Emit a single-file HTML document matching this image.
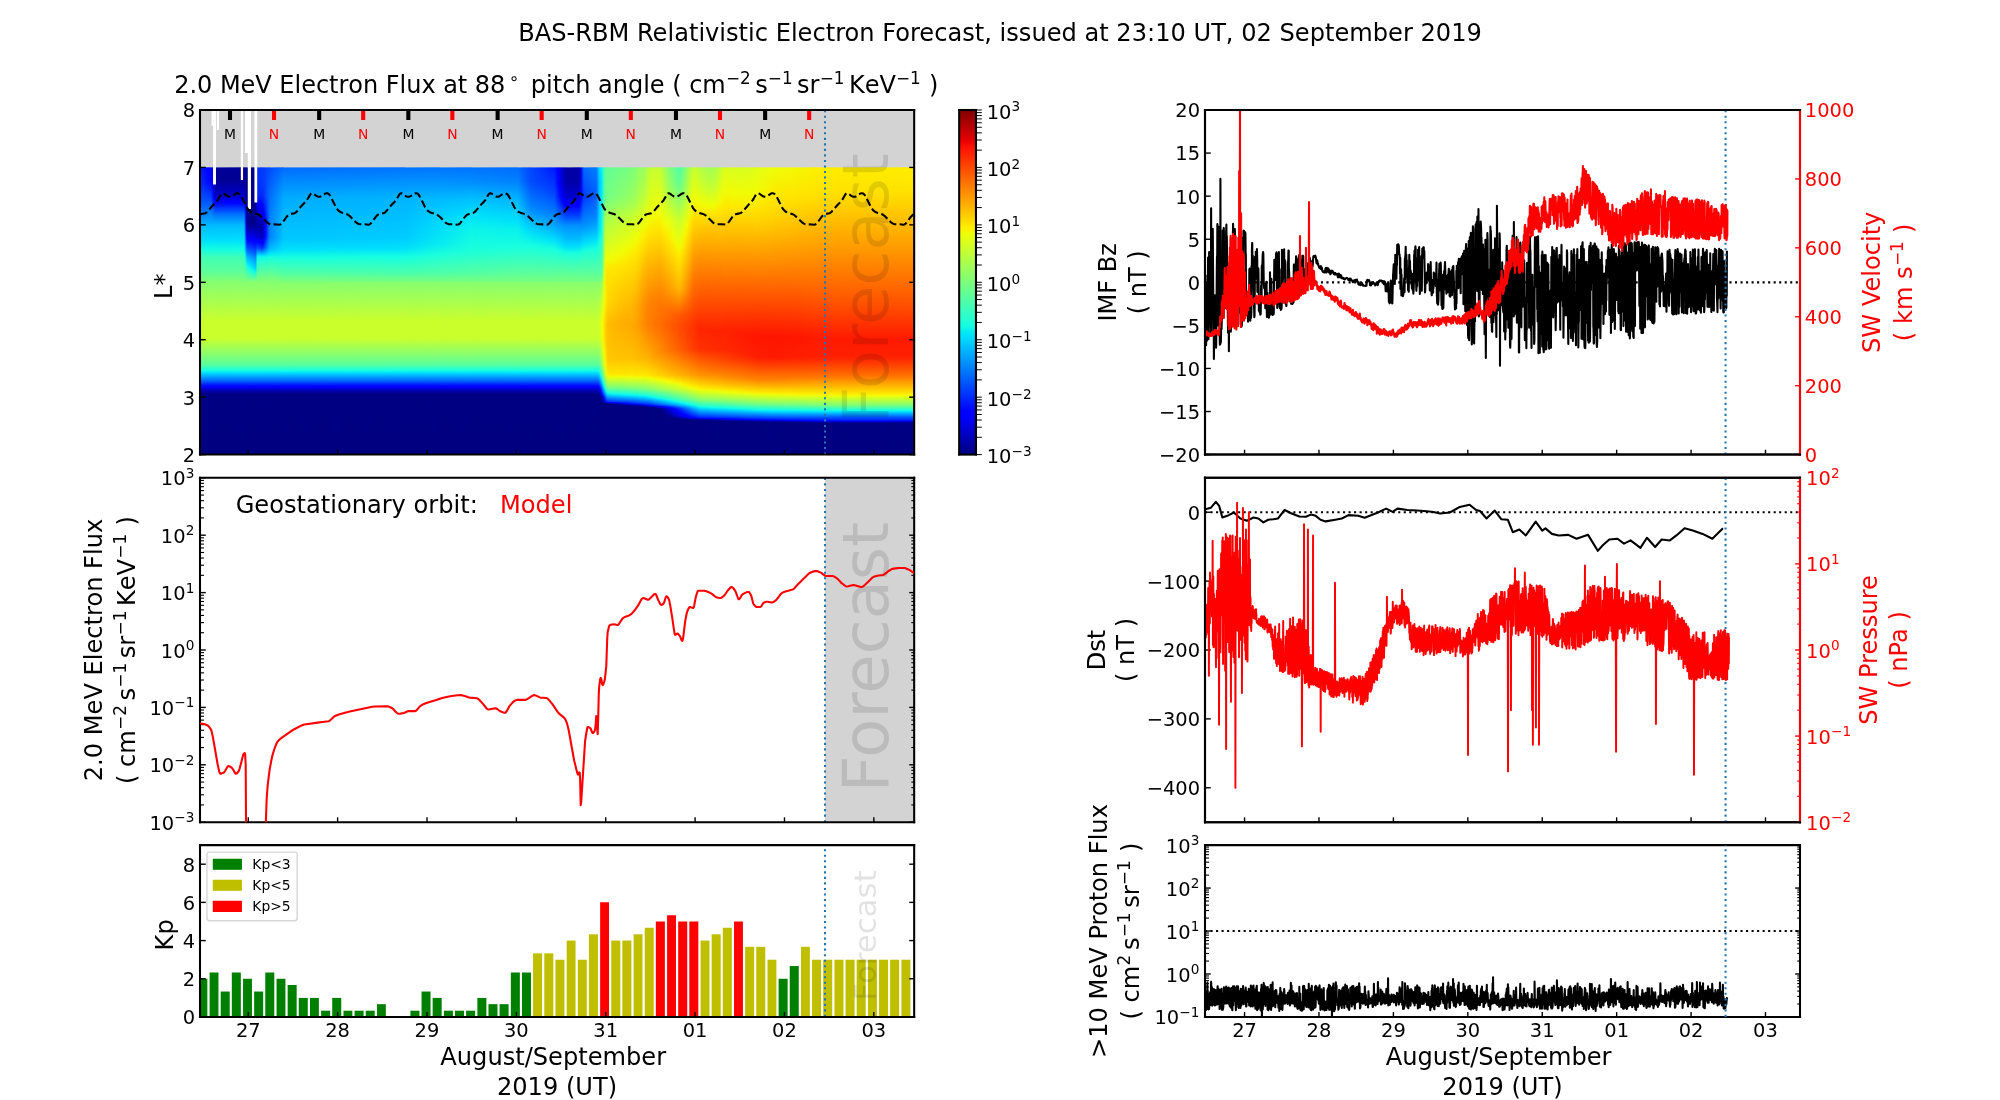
<!DOCTYPE html>
<html><head><meta charset="utf-8"><title>BAS-RBM Relativistic Electron Forecast</title><style>html,body{margin:0;padding:0;background:#fff;overflow:hidden}svg{display:block;will-change:transform}text{font-family:"DejaVu Sans","Liberation Sans",sans-serif}</style></head><body>
<svg width="2000" height="1100" viewBox="0 0 1440 792" version="1.1">
<defs>
<style type="text/css">*{stroke-linejoin: round; stroke-linecap: butt}</style>
</defs>
<g id="figure_1">
<g id="patch_1">
<path d="M 0 792 L 1440 792 L 1440 0 L 0 0 z" style="fill: #ffffff"/>
</g>
<g id="axes_1">
<g id="patch_2">
<path d="M 144 327.3 L 658.2 327.3 L 658.2 79.2 L 144 79.2 z" style="fill: #d3d3d3"/>
</g>
<g id="HEATMAP"><defs><linearGradient id="hr"><stop offset="0" stop-color="#fff" stop-opacity="0"/><stop offset="1" stop-color="#fff"/></linearGradient><mask id="hm" maskContentUnits="objectBoundingBox"><rect width="1" height="1" fill="url(#hr)"/></mask><linearGradient id="h0" x2="0" y2="1"><stop offset="0" stop-color="#0018ff"/><stop offset=".057" stop-color="#0030ff"/><stop offset=".113" stop-color="#0054ff"/><stop offset=".164" stop-color="#0084ff"/><stop offset=".204" stop-color="#00bcff"/><stop offset=".254" stop-color="#00e0fb"/><stop offset=".284" stop-color="#13fce4"/><stop offset=".313" stop-color="#40ffb7"/><stop offset=".366" stop-color="#60ff97"/><stop offset=".4" stop-color="#87ff70"/><stop offset=".536" stop-color="#caff2c"/><stop offset=".594" stop-color="#caff2c"/><stop offset=".66" stop-color="#7dff7a"/><stop offset=".686" stop-color="#5aff9d"/><stop offset=".707" stop-color="#16ffe1"/><stop offset=".716" stop-color="#00dcfe"/><stop offset=".745" stop-color="#005cff"/><stop offset=".761" stop-color="#0004ff"/><stop offset=".764" stop-color="#0000ff"/><stop offset=".775" stop-color="#0000bf"/><stop offset=".789" stop-color="#000084"/><stop offset="1" stop-color="#000080"/></linearGradient><linearGradient id="h1" x2="0" y2="1"><stop offset="0" stop-color="#0000ff"/><stop offset=".049" stop-color="#0004ff"/><stop offset=".172" stop-color="#0090ff"/><stop offset=".204" stop-color="#00bcff"/><stop offset=".254" stop-color="#00e0fb"/><stop offset=".284" stop-color="#13fce4"/><stop offset=".313" stop-color="#40ffb7"/><stop offset=".366" stop-color="#60ff97"/><stop offset=".4" stop-color="#87ff70"/><stop offset=".536" stop-color="#caff2c"/><stop offset=".594" stop-color="#caff2c"/><stop offset=".66" stop-color="#7dff7a"/><stop offset=".686" stop-color="#5aff9d"/><stop offset=".707" stop-color="#16ffe1"/><stop offset=".716" stop-color="#00dcfe"/><stop offset=".745" stop-color="#005cff"/><stop offset=".761" stop-color="#0004ff"/><stop offset=".764" stop-color="#0000ff"/><stop offset=".775" stop-color="#0000bf"/><stop offset=".789" stop-color="#000084"/><stop offset="1" stop-color="#000080"/></linearGradient><linearGradient id="h2" x2="0" y2="1"><stop offset="0" stop-color="#0000ff"/><stop offset=".052" stop-color="#0004ff"/><stop offset=".172" stop-color="#0090ff"/><stop offset=".204" stop-color="#00bcff"/><stop offset=".254" stop-color="#00e0fb"/><stop offset=".284" stop-color="#13fce4"/><stop offset=".313" stop-color="#40ffb7"/><stop offset=".366" stop-color="#60ff97"/><stop offset=".4" stop-color="#87ff70"/><stop offset=".536" stop-color="#caff2c"/><stop offset=".594" stop-color="#caff2c"/><stop offset=".66" stop-color="#7dff7a"/><stop offset=".686" stop-color="#5aff9d"/><stop offset=".707" stop-color="#16ffe1"/><stop offset=".716" stop-color="#00dcfe"/><stop offset=".745" stop-color="#005cff"/><stop offset=".761" stop-color="#0004ff"/><stop offset=".764" stop-color="#0000ff"/><stop offset=".775" stop-color="#0000bf"/><stop offset=".789" stop-color="#000084"/><stop offset="1" stop-color="#000080"/></linearGradient><linearGradient id="h3" x2="0" y2="1"><stop offset="0" stop-color="#0000f6"/><stop offset=".047" stop-color="#0000fa"/><stop offset=".068" stop-color="#0004ff"/><stop offset=".12" stop-color="#0044ff"/><stop offset=".204" stop-color="#00bcff"/><stop offset=".254" stop-color="#00e0fb"/><stop offset=".284" stop-color="#13fce4"/><stop offset=".313" stop-color="#40ffb7"/><stop offset=".366" stop-color="#60ff97"/><stop offset=".4" stop-color="#87ff70"/><stop offset=".536" stop-color="#caff2c"/><stop offset=".594" stop-color="#caff2c"/><stop offset=".66" stop-color="#7dff7a"/><stop offset=".686" stop-color="#5aff9d"/><stop offset=".707" stop-color="#16ffe1"/><stop offset=".716" stop-color="#00dcfe"/><stop offset=".745" stop-color="#005cff"/><stop offset=".761" stop-color="#0004ff"/><stop offset=".764" stop-color="#0000ff"/><stop offset=".775" stop-color="#0000bf"/><stop offset=".789" stop-color="#000084"/><stop offset="1" stop-color="#000080"/></linearGradient><linearGradient id="h4" x2="0" y2="1"><stop offset="0" stop-color="#0000d1"/><stop offset=".045" stop-color="#0000d1"/><stop offset=".087" stop-color="#0000ff"/><stop offset=".103" stop-color="#0004ff"/><stop offset=".165" stop-color="#0080ff"/><stop offset=".204" stop-color="#00bcff"/><stop offset=".254" stop-color="#00e0fb"/><stop offset=".284" stop-color="#13fce4"/><stop offset=".313" stop-color="#40ffb7"/><stop offset=".366" stop-color="#60ff97"/><stop offset=".4" stop-color="#87ff70"/><stop offset=".536" stop-color="#caff2c"/><stop offset=".594" stop-color="#caff2c"/><stop offset=".66" stop-color="#7dff7a"/><stop offset=".686" stop-color="#5aff9d"/><stop offset=".707" stop-color="#16ffe1"/><stop offset=".716" stop-color="#00dcfe"/><stop offset=".745" stop-color="#005cff"/><stop offset=".761" stop-color="#0004ff"/><stop offset=".764" stop-color="#0000ff"/><stop offset=".775" stop-color="#0000bf"/><stop offset=".789" stop-color="#000084"/><stop offset="1" stop-color="#000080"/></linearGradient><linearGradient id="h5" x2="0" y2="1"><stop offset="0" stop-color="#0000ad"/><stop offset=".044" stop-color="#0000a8"/><stop offset=".099" stop-color="#0000e3"/><stop offset=".111" stop-color="#0000ff"/><stop offset=".12" stop-color="#000cff"/><stop offset=".165" stop-color="#007cff"/><stop offset=".204" stop-color="#00bcff"/><stop offset=".254" stop-color="#00e0fb"/><stop offset=".284" stop-color="#13fce4"/><stop offset=".313" stop-color="#40ffb7"/><stop offset=".366" stop-color="#60ff97"/><stop offset=".4" stop-color="#87ff70"/><stop offset=".536" stop-color="#caff2c"/><stop offset=".594" stop-color="#caff2c"/><stop offset=".66" stop-color="#7dff7a"/><stop offset=".686" stop-color="#5aff9d"/><stop offset=".707" stop-color="#16ffe1"/><stop offset=".716" stop-color="#00dcfe"/><stop offset=".745" stop-color="#005cff"/><stop offset=".761" stop-color="#0004ff"/><stop offset=".764" stop-color="#0000ff"/><stop offset=".775" stop-color="#0000bf"/><stop offset=".789" stop-color="#000084"/><stop offset="1" stop-color="#000080"/></linearGradient><linearGradient id="h6" x2="0" y2="1"><stop offset="0" stop-color="#00009b"/><stop offset=".042" stop-color="#000092"/><stop offset=".101" stop-color="#0000cd"/><stop offset=".117" stop-color="#0000ff"/><stop offset=".124" stop-color="#0004ff"/><stop offset=".164" stop-color="#0074ff"/><stop offset=".202" stop-color="#00bcff"/><stop offset=".254" stop-color="#00e0fb"/><stop offset=".284" stop-color="#13fce4"/><stop offset=".313" stop-color="#40ffb7"/><stop offset=".366" stop-color="#60ff97"/><stop offset=".4" stop-color="#87ff70"/><stop offset=".536" stop-color="#caff2c"/><stop offset=".594" stop-color="#caff2c"/><stop offset=".66" stop-color="#7dff7a"/><stop offset=".686" stop-color="#5aff9d"/><stop offset=".707" stop-color="#16ffe1"/><stop offset=".716" stop-color="#00dcfe"/><stop offset=".745" stop-color="#005cff"/><stop offset=".761" stop-color="#0004ff"/><stop offset=".764" stop-color="#0000ff"/><stop offset=".775" stop-color="#0000bf"/><stop offset=".789" stop-color="#000084"/><stop offset="1" stop-color="#000080"/></linearGradient><linearGradient id="h7" x2="0" y2="1"><stop offset="0" stop-color="#00009b"/><stop offset=".042" stop-color="#000092"/><stop offset=".101" stop-color="#0000cd"/><stop offset=".117" stop-color="#0000ff"/><stop offset=".124" stop-color="#0004ff"/><stop offset=".164" stop-color="#0074ff"/><stop offset=".202" stop-color="#00bcff"/><stop offset=".254" stop-color="#00e0fb"/><stop offset=".284" stop-color="#13fce4"/><stop offset=".313" stop-color="#40ffb7"/><stop offset=".366" stop-color="#60ff97"/><stop offset=".4" stop-color="#87ff70"/><stop offset=".536" stop-color="#caff2c"/><stop offset=".594" stop-color="#caff2c"/><stop offset=".66" stop-color="#7dff7a"/><stop offset=".686" stop-color="#5aff9d"/><stop offset=".707" stop-color="#16ffe1"/><stop offset=".716" stop-color="#00dcfe"/><stop offset=".745" stop-color="#005cff"/><stop offset=".761" stop-color="#0004ff"/><stop offset=".764" stop-color="#0000ff"/><stop offset=".775" stop-color="#0000bf"/><stop offset=".789" stop-color="#000084"/><stop offset="1" stop-color="#000080"/></linearGradient><linearGradient id="h8" x2="0" y2="1"><stop offset="0" stop-color="#000096"/><stop offset=".04" stop-color="#00008d"/><stop offset=".101" stop-color="#0000bf"/><stop offset=".129" stop-color="#0000ff"/><stop offset=".138" stop-color="#0008ff"/><stop offset=".169" stop-color="#0048ff"/><stop offset=".209" stop-color="#0080ff"/><stop offset=".282" stop-color="#00d4ff"/><stop offset=".293" stop-color="#06ecf1"/><stop offset=".303" stop-color="#19ffde"/><stop offset=".317" stop-color="#2cffca"/><stop offset=".371" stop-color="#60ff97"/><stop offset=".4" stop-color="#87ff70"/><stop offset=".536" stop-color="#caff2c"/><stop offset=".594" stop-color="#caff2c"/><stop offset=".66" stop-color="#7dff7a"/><stop offset=".686" stop-color="#5aff9d"/><stop offset=".707" stop-color="#16ffe1"/><stop offset=".716" stop-color="#00dcfe"/><stop offset=".745" stop-color="#005cff"/><stop offset=".761" stop-color="#0004ff"/><stop offset=".764" stop-color="#0000ff"/><stop offset=".775" stop-color="#0000bf"/><stop offset=".789" stop-color="#000084"/><stop offset="1" stop-color="#000080"/></linearGradient><linearGradient id="h9" x2="0" y2="1"><stop offset="0" stop-color="#00008d"/><stop offset=".061" stop-color="#00008d"/><stop offset=".103" stop-color="#00009b"/><stop offset=".176" stop-color="#0000da"/><stop offset=".202" stop-color="#0000f1"/><stop offset=".212" stop-color="#0000ff"/><stop offset=".225" stop-color="#000cff"/><stop offset=".28" stop-color="#007cff"/><stop offset=".315" stop-color="#00e0fb"/><stop offset=".334" stop-color="#19ffde"/><stop offset=".383" stop-color="#6aff8d"/><stop offset=".4" stop-color="#87ff70"/><stop offset=".536" stop-color="#caff2c"/><stop offset=".594" stop-color="#caff2c"/><stop offset=".66" stop-color="#7dff7a"/><stop offset=".686" stop-color="#5aff9d"/><stop offset=".707" stop-color="#16ffe1"/><stop offset=".716" stop-color="#00dcfe"/><stop offset=".745" stop-color="#005cff"/><stop offset=".761" stop-color="#0004ff"/><stop offset=".764" stop-color="#0000ff"/><stop offset=".775" stop-color="#0000bf"/><stop offset=".789" stop-color="#000084"/><stop offset="1" stop-color="#000080"/></linearGradient><linearGradient id="h10" x2="0" y2="1"><stop offset="0" stop-color="#000089"/><stop offset=".193" stop-color="#00008d"/><stop offset=".204" stop-color="#00009b"/><stop offset=".247" stop-color="#0000ff"/><stop offset=".258" stop-color="#0010ff"/><stop offset=".282" stop-color="#0050ff"/><stop offset=".313" stop-color="#00b8ff"/><stop offset=".331" stop-color="#00e0fb"/><stop offset=".346" stop-color="#19ffde"/><stop offset=".4" stop-color="#87ff70"/><stop offset=".536" stop-color="#caff2c"/><stop offset=".594" stop-color="#caff2c"/><stop offset=".66" stop-color="#7dff7a"/><stop offset=".686" stop-color="#5aff9d"/><stop offset=".707" stop-color="#16ffe1"/><stop offset=".716" stop-color="#00dcfe"/><stop offset=".745" stop-color="#005cff"/><stop offset=".761" stop-color="#0004ff"/><stop offset=".764" stop-color="#0000ff"/><stop offset=".775" stop-color="#0000bf"/><stop offset=".789" stop-color="#000084"/><stop offset="1" stop-color="#000080"/></linearGradient><linearGradient id="h11" x2="0" y2="1"><stop offset="0" stop-color="#000089"/><stop offset=".193" stop-color="#00008d"/><stop offset=".207" stop-color="#00009f"/><stop offset=".251" stop-color="#0000ff"/><stop offset=".259" stop-color="#000cff"/><stop offset=".287" stop-color="#0050ff"/><stop offset=".312" stop-color="#009cff"/><stop offset=".341" stop-color="#00e0fb"/><stop offset=".357" stop-color="#16ffe1"/><stop offset=".4" stop-color="#87ff70"/><stop offset=".536" stop-color="#caff2c"/><stop offset=".594" stop-color="#caff2c"/><stop offset=".66" stop-color="#7dff7a"/><stop offset=".686" stop-color="#5aff9d"/><stop offset=".707" stop-color="#16ffe1"/><stop offset=".716" stop-color="#00dcfe"/><stop offset=".745" stop-color="#005cff"/><stop offset=".761" stop-color="#0004ff"/><stop offset=".764" stop-color="#0000ff"/><stop offset=".775" stop-color="#0000bf"/><stop offset=".789" stop-color="#000084"/><stop offset="1" stop-color="#000080"/></linearGradient><linearGradient id="h12" x2="0" y2="1"><stop offset="0" stop-color="#000089"/><stop offset=".193" stop-color="#00008d"/><stop offset=".207" stop-color="#00009f"/><stop offset=".247" stop-color="#0000f6"/><stop offset=".254" stop-color="#0000ff"/><stop offset=".27" stop-color="#0018ff"/><stop offset=".293" stop-color="#0054ff"/><stop offset=".315" stop-color="#0094ff"/><stop offset=".352" stop-color="#00e0fb"/><stop offset=".362" stop-color="#13fce4"/><stop offset=".399" stop-color="#87ff70"/><stop offset=".536" stop-color="#caff2c"/><stop offset=".594" stop-color="#caff2c"/><stop offset=".66" stop-color="#7dff7a"/><stop offset=".686" stop-color="#5aff9d"/><stop offset=".707" stop-color="#16ffe1"/><stop offset=".716" stop-color="#00dcfe"/><stop offset=".745" stop-color="#005cff"/><stop offset=".761" stop-color="#0004ff"/><stop offset=".764" stop-color="#0000ff"/><stop offset=".775" stop-color="#0000bf"/><stop offset=".789" stop-color="#000084"/><stop offset="1" stop-color="#000080"/></linearGradient><linearGradient id="h13" x2="0" y2="1"><stop offset="0" stop-color="#000089"/><stop offset=".193" stop-color="#00008d"/><stop offset=".207" stop-color="#00009f"/><stop offset=".244" stop-color="#0000e8"/><stop offset=".254" stop-color="#0000ff"/><stop offset=".263" stop-color="#0004ff"/><stop offset=".287" stop-color="#003cff"/><stop offset=".312" stop-color="#0080ff"/><stop offset=".357" stop-color="#00e0fb"/><stop offset=".364" stop-color="#0cf4eb"/><stop offset=".369" stop-color="#1fffd7"/><stop offset=".399" stop-color="#83ff73"/><stop offset=".533" stop-color="#caff2c"/><stop offset=".594" stop-color="#caff2c"/><stop offset=".66" stop-color="#7dff7a"/><stop offset=".686" stop-color="#5aff9d"/><stop offset=".707" stop-color="#16ffe1"/><stop offset=".716" stop-color="#00dcfe"/><stop offset=".745" stop-color="#005cff"/><stop offset=".761" stop-color="#0004ff"/><stop offset=".764" stop-color="#0000ff"/><stop offset=".775" stop-color="#0000bf"/><stop offset=".789" stop-color="#000084"/><stop offset="1" stop-color="#000080"/></linearGradient><linearGradient id="h14" x2="0" y2="1"><stop offset="0" stop-color="#0028ff"/><stop offset=".089" stop-color="#0024ff"/><stop offset=".103" stop-color="#001cff"/><stop offset=".122" stop-color="#0000ff"/><stop offset=".132" stop-color="#0000fa"/><stop offset=".164" stop-color="#0000c4"/><stop offset=".202" stop-color="#0000a4"/><stop offset=".24" stop-color="#0000cd"/><stop offset=".254" stop-color="#0000ff"/><stop offset=".259" stop-color="#0004ff"/><stop offset=".282" stop-color="#0054ff"/><stop offset=".306" stop-color="#00dcfe"/><stop offset=".312" stop-color="#0cf4eb"/><stop offset=".324" stop-color="#1cffdb"/><stop offset=".4" stop-color="#87ff70"/><stop offset=".536" stop-color="#caff2c"/><stop offset=".594" stop-color="#caff2c"/><stop offset=".66" stop-color="#7dff7a"/><stop offset=".686" stop-color="#5aff9d"/><stop offset=".707" stop-color="#16ffe1"/><stop offset=".716" stop-color="#00dcfe"/><stop offset=".745" stop-color="#005cff"/><stop offset=".761" stop-color="#0004ff"/><stop offset=".764" stop-color="#0000ff"/><stop offset=".775" stop-color="#0000bf"/><stop offset=".789" stop-color="#000084"/><stop offset="1" stop-color="#000080"/></linearGradient><linearGradient id="h15" x2="0" y2="1"><stop offset="0" stop-color="#0034ff"/><stop offset=".091" stop-color="#002cff"/><stop offset=".106" stop-color="#0020ff"/><stop offset=".127" stop-color="#0000ff"/><stop offset=".138" stop-color="#0000fa"/><stop offset=".164" stop-color="#0000c8"/><stop offset=".202" stop-color="#0000a4"/><stop offset=".24" stop-color="#0000c8"/><stop offset=".254" stop-color="#0000ff"/><stop offset=".259" stop-color="#0000ff"/><stop offset=".282" stop-color="#0050ff"/><stop offset=".306" stop-color="#00e0fb"/><stop offset=".312" stop-color="#0ff8e7"/><stop offset=".326" stop-color="#23ffd4"/><stop offset=".4" stop-color="#87ff70"/><stop offset=".536" stop-color="#caff2c"/><stop offset=".594" stop-color="#caff2c"/><stop offset=".66" stop-color="#7dff7a"/><stop offset=".686" stop-color="#5aff9d"/><stop offset=".707" stop-color="#16ffe1"/><stop offset=".716" stop-color="#00dcfe"/><stop offset=".745" stop-color="#005cff"/><stop offset=".761" stop-color="#0004ff"/><stop offset=".764" stop-color="#0000ff"/><stop offset=".775" stop-color="#0000bf"/><stop offset=".789" stop-color="#000084"/><stop offset="1" stop-color="#000080"/></linearGradient><linearGradient id="h16" x2="0" y2="1"><stop offset="0" stop-color="#0038ff"/><stop offset=".064" stop-color="#0034ff"/><stop offset=".104" stop-color="#0024ff"/><stop offset=".131" stop-color="#0000ff"/><stop offset=".143" stop-color="#0000fa"/><stop offset=".171" stop-color="#0000cd"/><stop offset=".204" stop-color="#0000a4"/><stop offset=".24" stop-color="#0000bb"/><stop offset=".261" stop-color="#0000ff"/><stop offset=".27" stop-color="#000cff"/><stop offset=".282" stop-color="#0038ff"/><stop offset=".306" stop-color="#00dcfe"/><stop offset=".31" stop-color="#0cf4eb"/><stop offset=".319" stop-color="#19ffde"/><stop offset=".4" stop-color="#87ff70"/><stop offset=".536" stop-color="#caff2c"/><stop offset=".594" stop-color="#caff2c"/><stop offset=".66" stop-color="#7dff7a"/><stop offset=".686" stop-color="#5aff9d"/><stop offset=".707" stop-color="#16ffe1"/><stop offset=".716" stop-color="#00dcfe"/><stop offset=".745" stop-color="#005cff"/><stop offset=".761" stop-color="#0004ff"/><stop offset=".764" stop-color="#0000ff"/><stop offset=".775" stop-color="#0000bf"/><stop offset=".789" stop-color="#000084"/><stop offset="1" stop-color="#000080"/></linearGradient><linearGradient id="h17" x2="0" y2="1"><stop offset="0" stop-color="#003cff"/><stop offset=".063" stop-color="#0038ff"/><stop offset=".101" stop-color="#002cff"/><stop offset=".138" stop-color="#0000ff"/><stop offset=".15" stop-color="#0000fa"/><stop offset=".202" stop-color="#0000b6"/><stop offset=".24" stop-color="#0000c8"/><stop offset=".258" stop-color="#0000ff"/><stop offset=".265" stop-color="#0004ff"/><stop offset=".28" stop-color="#0034ff"/><stop offset=".306" stop-color="#00e0fb"/><stop offset=".312" stop-color="#0ff8e7"/><stop offset=".326" stop-color="#23ffd4"/><stop offset=".4" stop-color="#87ff70"/><stop offset=".536" stop-color="#caff2c"/><stop offset=".594" stop-color="#caff2c"/><stop offset=".66" stop-color="#7dff7a"/><stop offset=".686" stop-color="#5aff9d"/><stop offset=".707" stop-color="#16ffe1"/><stop offset=".716" stop-color="#00dcfe"/><stop offset=".745" stop-color="#005cff"/><stop offset=".761" stop-color="#0004ff"/><stop offset=".764" stop-color="#0000ff"/><stop offset=".775" stop-color="#0000bf"/><stop offset=".789" stop-color="#000084"/><stop offset="1" stop-color="#000080"/></linearGradient><linearGradient id="h18" x2="0" y2="1"><stop offset="0" stop-color="#003cff"/><stop offset=".08" stop-color="#003cff"/><stop offset=".108" stop-color="#0030ff"/><stop offset=".155" stop-color="#0000ff"/><stop offset=".172" stop-color="#0000fa"/><stop offset=".2" stop-color="#0000da"/><stop offset=".24" stop-color="#0000e8"/><stop offset=".249" stop-color="#0000ff"/><stop offset=".256" stop-color="#0004ff"/><stop offset=".28" stop-color="#0048ff"/><stop offset=".305" stop-color="#00d8ff"/><stop offset=".308" stop-color="#06ecf1"/><stop offset=".312" stop-color="#13fce4"/><stop offset=".4" stop-color="#87ff70"/><stop offset=".536" stop-color="#caff2c"/><stop offset=".594" stop-color="#caff2c"/><stop offset=".66" stop-color="#7dff7a"/><stop offset=".686" stop-color="#5aff9d"/><stop offset=".707" stop-color="#16ffe1"/><stop offset=".716" stop-color="#00dcfe"/><stop offset=".745" stop-color="#005cff"/><stop offset=".761" stop-color="#0004ff"/><stop offset=".764" stop-color="#0000ff"/><stop offset=".775" stop-color="#0000bf"/><stop offset=".789" stop-color="#000084"/><stop offset="1" stop-color="#000080"/></linearGradient><linearGradient id="h19" x2="0" y2="1"><stop offset="0" stop-color="#0040ff"/><stop offset=".103" stop-color="#0040ff"/><stop offset=".181" stop-color="#0000ff"/><stop offset=".244" stop-color="#0000ff"/><stop offset=".28" stop-color="#005cff"/><stop offset=".305" stop-color="#00dcfe"/><stop offset=".308" stop-color="#09f0ee"/><stop offset=".315" stop-color="#16ffe1"/><stop offset=".4" stop-color="#87ff70"/><stop offset=".536" stop-color="#caff2c"/><stop offset=".594" stop-color="#caff2c"/><stop offset=".66" stop-color="#7dff7a"/><stop offset=".686" stop-color="#5aff9d"/><stop offset=".707" stop-color="#16ffe1"/><stop offset=".716" stop-color="#00dcfe"/><stop offset=".745" stop-color="#005cff"/><stop offset=".761" stop-color="#0004ff"/><stop offset=".764" stop-color="#0000ff"/><stop offset=".775" stop-color="#0000bf"/><stop offset=".789" stop-color="#000084"/><stop offset="1" stop-color="#000080"/></linearGradient><linearGradient id="h20" x2="0" y2="1"><stop offset="0" stop-color="#0044ff"/><stop offset=".099" stop-color="#004cff"/><stop offset=".202" stop-color="#000cff"/><stop offset=".24" stop-color="#0018ff"/><stop offset=".282" stop-color="#0074ff"/><stop offset=".305" stop-color="#00e0fb"/><stop offset=".312" stop-color="#13fce4"/><stop offset=".4" stop-color="#87ff70"/><stop offset=".536" stop-color="#caff2c"/><stop offset=".594" stop-color="#caff2c"/><stop offset=".66" stop-color="#7dff7a"/><stop offset=".686" stop-color="#5aff9d"/><stop offset=".707" stop-color="#16ffe1"/><stop offset=".716" stop-color="#00dcfe"/><stop offset=".745" stop-color="#005cff"/><stop offset=".761" stop-color="#0004ff"/><stop offset=".764" stop-color="#0000ff"/><stop offset=".775" stop-color="#0000bf"/><stop offset=".789" stop-color="#000084"/><stop offset="1" stop-color="#000080"/></linearGradient><linearGradient id="h21" x2="0" y2="1"><stop offset="0" stop-color="#0048ff"/><stop offset=".057" stop-color="#005cff"/><stop offset=".16" stop-color="#0070ff"/><stop offset=".242" stop-color="#0070ff"/><stop offset=".284" stop-color="#00b0ff"/><stop offset=".299" stop-color="#00e0fb"/><stop offset=".312" stop-color="#16ffe1"/><stop offset=".4" stop-color="#87ff70"/><stop offset=".536" stop-color="#caff2c"/><stop offset=".594" stop-color="#caff2c"/><stop offset=".66" stop-color="#7dff7a"/><stop offset=".686" stop-color="#5aff9d"/><stop offset=".707" stop-color="#16ffe1"/><stop offset=".716" stop-color="#00dcfe"/><stop offset=".745" stop-color="#005cff"/><stop offset=".761" stop-color="#0004ff"/><stop offset=".764" stop-color="#0000ff"/><stop offset=".775" stop-color="#0000bf"/><stop offset=".789" stop-color="#000084"/><stop offset="1" stop-color="#000080"/></linearGradient><linearGradient id="h22" x2="0" y2="1"><stop offset="0" stop-color="#004cff"/><stop offset=".068" stop-color="#0064ff"/><stop offset=".172" stop-color="#0080ff"/><stop offset=".244" stop-color="#0084ff"/><stop offset=".284" stop-color="#00bcff"/><stop offset=".299" stop-color="#00e4f8"/><stop offset=".313" stop-color="#19ffde"/><stop offset=".393" stop-color="#80ff77"/><stop offset=".533" stop-color="#caff2c"/><stop offset=".594" stop-color="#caff2c"/><stop offset=".66" stop-color="#7dff7a"/><stop offset=".686" stop-color="#5aff9d"/><stop offset=".707" stop-color="#16ffe1"/><stop offset=".716" stop-color="#00dcfe"/><stop offset=".745" stop-color="#005cff"/><stop offset=".761" stop-color="#0004ff"/><stop offset=".764" stop-color="#0000ff"/><stop offset=".775" stop-color="#0000bf"/><stop offset=".789" stop-color="#000084"/><stop offset="1" stop-color="#000080"/></linearGradient><linearGradient id="h23" x2="0" y2="1"><stop offset="0" stop-color="#006cff"/><stop offset=".106" stop-color="#00acff"/><stop offset=".249" stop-color="#00c8ff"/><stop offset=".286" stop-color="#00e0fb"/><stop offset=".315" stop-color="#19ffde"/><stop offset=".369" stop-color="#53ffa4"/><stop offset=".406" stop-color="#8aff6d"/><stop offset=".536" stop-color="#caff2c"/><stop offset=".594" stop-color="#caff2c"/><stop offset=".66" stop-color="#7dff7a"/><stop offset=".686" stop-color="#5aff9d"/><stop offset=".707" stop-color="#16ffe1"/><stop offset=".716" stop-color="#00dcfe"/><stop offset=".745" stop-color="#005cff"/><stop offset=".761" stop-color="#0004ff"/><stop offset=".764" stop-color="#0000ff"/><stop offset=".775" stop-color="#0000bf"/><stop offset=".789" stop-color="#000084"/><stop offset="1" stop-color="#000080"/></linearGradient><linearGradient id="h24" x2="0" y2="1"><stop offset="0" stop-color="#0074ff"/><stop offset=".108" stop-color="#00b4ff"/><stop offset=".246" stop-color="#00ccff"/><stop offset=".282" stop-color="#00e0fb"/><stop offset=".312" stop-color="#16ffe1"/><stop offset=".367" stop-color="#49ffad"/><stop offset=".399" stop-color="#7aff7d"/><stop offset=".4" stop-color="#87ff70"/><stop offset=".536" stop-color="#caff2c"/><stop offset=".594" stop-color="#caff2c"/><stop offset=".66" stop-color="#7dff7a"/><stop offset=".686" stop-color="#5aff9d"/><stop offset=".707" stop-color="#16ffe1"/><stop offset=".716" stop-color="#00dcfe"/><stop offset=".745" stop-color="#005cff"/><stop offset=".761" stop-color="#0004ff"/><stop offset=".764" stop-color="#0000ff"/><stop offset=".775" stop-color="#0000bf"/><stop offset=".789" stop-color="#000084"/><stop offset="1" stop-color="#000080"/></linearGradient><linearGradient id="h25" x2="0" y2="1"><stop offset="0" stop-color="#0074ff"/><stop offset=".066" stop-color="#009cff"/><stop offset=".113" stop-color="#00bcff"/><stop offset=".19" stop-color="#00d8ff"/><stop offset=".266" stop-color="#06ecf1"/><stop offset=".303" stop-color="#1cffdb"/><stop offset=".366" stop-color="#4dffaa"/><stop offset=".399" stop-color="#7aff7d"/><stop offset=".4" stop-color="#87ff70"/><stop offset=".536" stop-color="#caff2c"/><stop offset=".594" stop-color="#caff2c"/><stop offset=".66" stop-color="#7dff7a"/><stop offset=".686" stop-color="#5aff9d"/><stop offset=".707" stop-color="#16ffe1"/><stop offset=".716" stop-color="#00dcfe"/><stop offset=".745" stop-color="#005cff"/><stop offset=".761" stop-color="#0004ff"/><stop offset=".764" stop-color="#0000ff"/><stop offset=".775" stop-color="#0000bf"/><stop offset=".789" stop-color="#000084"/><stop offset="1" stop-color="#000080"/></linearGradient><linearGradient id="h26" x2="0" y2="1"><stop offset="0" stop-color="#0074ff"/><stop offset=".049" stop-color="#008cff"/><stop offset=".111" stop-color="#00c0ff"/><stop offset=".164" stop-color="#00e0fb"/><stop offset=".214" stop-color="#0cf4eb"/><stop offset=".289" stop-color="#1cffdb"/><stop offset=".367" stop-color="#53ffa4"/><stop offset=".399" stop-color="#7aff7d"/><stop offset=".4" stop-color="#87ff70"/><stop offset=".536" stop-color="#caff2c"/><stop offset=".594" stop-color="#caff2c"/><stop offset=".66" stop-color="#7dff7a"/><stop offset=".686" stop-color="#5aff9d"/><stop offset=".707" stop-color="#16ffe1"/><stop offset=".716" stop-color="#00dcfe"/><stop offset=".745" stop-color="#005cff"/><stop offset=".761" stop-color="#0004ff"/><stop offset=".764" stop-color="#0000ff"/><stop offset=".775" stop-color="#0000bf"/><stop offset=".789" stop-color="#000084"/><stop offset="1" stop-color="#000080"/></linearGradient><linearGradient id="h27" x2="0" y2="1"><stop offset="0" stop-color="#006cff"/><stop offset=".047" stop-color="#0080ff"/><stop offset=".11" stop-color="#00b4ff"/><stop offset=".185" stop-color="#00e0fb"/><stop offset=".216" stop-color="#09f0ee"/><stop offset=".277" stop-color="#19ffde"/><stop offset=".367" stop-color="#5aff9d"/><stop offset=".399" stop-color="#7aff7d"/><stop offset=".4" stop-color="#87ff70"/><stop offset=".536" stop-color="#caff2c"/><stop offset=".594" stop-color="#caff2c"/><stop offset=".66" stop-color="#7dff7a"/><stop offset=".686" stop-color="#5aff9d"/><stop offset=".707" stop-color="#16ffe1"/><stop offset=".716" stop-color="#00dcfe"/><stop offset=".745" stop-color="#005cff"/><stop offset=".761" stop-color="#0004ff"/><stop offset=".764" stop-color="#0000ff"/><stop offset=".775" stop-color="#0000bf"/><stop offset=".789" stop-color="#000084"/><stop offset="1" stop-color="#000080"/></linearGradient><linearGradient id="h28" x2="0" y2="1"><stop offset="0" stop-color="#0054ff"/><stop offset=".045" stop-color="#005cff"/><stop offset=".167" stop-color="#00b0ff"/><stop offset=".205" stop-color="#00d8ff"/><stop offset=".235" stop-color="#06ecf1"/><stop offset=".272" stop-color="#16ffe1"/><stop offset=".367" stop-color="#5aff9d"/><stop offset=".399" stop-color="#7aff7d"/><stop offset=".4" stop-color="#87ff70"/><stop offset=".536" stop-color="#caff2c"/><stop offset=".594" stop-color="#caff2c"/><stop offset=".66" stop-color="#7dff7a"/><stop offset=".686" stop-color="#5aff9d"/><stop offset=".707" stop-color="#16ffe1"/><stop offset=".716" stop-color="#00dcfe"/><stop offset=".745" stop-color="#005cff"/><stop offset=".761" stop-color="#0004ff"/><stop offset=".764" stop-color="#0000ff"/><stop offset=".775" stop-color="#0000bf"/><stop offset=".789" stop-color="#000084"/><stop offset="1" stop-color="#000080"/></linearGradient><linearGradient id="h29" x2="0" y2="1"><stop offset="0" stop-color="#0048ff"/><stop offset=".049" stop-color="#004cff"/><stop offset=".148" stop-color="#008cff"/><stop offset=".193" stop-color="#00c0ff"/><stop offset=".228" stop-color="#00e0fb"/><stop offset=".272" stop-color="#16ffe1"/><stop offset=".367" stop-color="#5aff9d"/><stop offset=".399" stop-color="#7aff7d"/><stop offset=".4" stop-color="#87ff70"/><stop offset=".536" stop-color="#caff2c"/><stop offset=".594" stop-color="#caff2c"/><stop offset=".66" stop-color="#7dff7a"/><stop offset=".686" stop-color="#5aff9d"/><stop offset=".707" stop-color="#16ffe1"/><stop offset=".716" stop-color="#00dcfe"/><stop offset=".745" stop-color="#005cff"/><stop offset=".761" stop-color="#0004ff"/><stop offset=".764" stop-color="#0000ff"/><stop offset=".775" stop-color="#0000bf"/><stop offset=".789" stop-color="#000084"/><stop offset="1" stop-color="#000080"/></linearGradient><linearGradient id="h30" x2="0" y2="1"><stop offset="0" stop-color="#0018ff"/><stop offset=".082" stop-color="#0040ff"/><stop offset=".153" stop-color="#0078ff"/><stop offset=".205" stop-color="#00a8ff"/><stop offset=".252" stop-color="#00e0fb"/><stop offset=".284" stop-color="#19ffde"/><stop offset=".374" stop-color="#60ff97"/><stop offset=".399" stop-color="#7aff7d"/><stop offset=".4" stop-color="#87ff70"/><stop offset=".536" stop-color="#caff2c"/><stop offset=".594" stop-color="#caff2c"/><stop offset=".66" stop-color="#7dff7a"/><stop offset=".686" stop-color="#5aff9d"/><stop offset=".707" stop-color="#16ffe1"/><stop offset=".716" stop-color="#00dcfe"/><stop offset=".745" stop-color="#005cff"/><stop offset=".761" stop-color="#0004ff"/><stop offset=".764" stop-color="#0000ff"/><stop offset=".775" stop-color="#0000bf"/><stop offset=".789" stop-color="#000084"/><stop offset="1" stop-color="#000080"/></linearGradient><linearGradient id="h31" x2="0" y2="1"><stop offset="0" stop-color="#0014ff"/><stop offset=".057" stop-color="#002cff"/><stop offset=".113" stop-color="#0050ff"/><stop offset=".207" stop-color="#00a8ff"/><stop offset=".254" stop-color="#00e0fb"/><stop offset=".286" stop-color="#19ffde"/><stop offset=".374" stop-color="#60ff97"/><stop offset=".399" stop-color="#7aff7d"/><stop offset=".4" stop-color="#87ff70"/><stop offset=".536" stop-color="#caff2c"/><stop offset=".594" stop-color="#caff2c"/><stop offset=".66" stop-color="#7dff7a"/><stop offset=".686" stop-color="#5aff9d"/><stop offset=".707" stop-color="#16ffe1"/><stop offset=".716" stop-color="#00dcfe"/><stop offset=".745" stop-color="#005cff"/><stop offset=".761" stop-color="#0004ff"/><stop offset=".764" stop-color="#0000ff"/><stop offset=".775" stop-color="#0000bf"/><stop offset=".789" stop-color="#000084"/><stop offset="1" stop-color="#000080"/></linearGradient><linearGradient id="h32" x2="0" y2="1"><stop offset="0" stop-color="#0000ff"/><stop offset=".052" stop-color="#0010ff"/><stop offset=".104" stop-color="#0030ff"/><stop offset=".259" stop-color="#00e0fb"/><stop offset=".289" stop-color="#19ffde"/><stop offset=".334" stop-color="#40ffb7"/><stop offset=".38" stop-color="#66ff90"/><stop offset=".399" stop-color="#7aff7d"/><stop offset=".4" stop-color="#87ff70"/><stop offset=".536" stop-color="#caff2c"/><stop offset=".594" stop-color="#caff2c"/><stop offset=".66" stop-color="#7dff7a"/><stop offset=".686" stop-color="#5aff9d"/><stop offset=".707" stop-color="#16ffe1"/><stop offset=".716" stop-color="#00dcfe"/><stop offset=".745" stop-color="#005cff"/><stop offset=".761" stop-color="#0004ff"/><stop offset=".764" stop-color="#0000ff"/><stop offset=".775" stop-color="#0000bf"/><stop offset=".789" stop-color="#000084"/><stop offset="1" stop-color="#000080"/></linearGradient><linearGradient id="h33" x2="0" y2="1"><stop offset="0" stop-color="#0000ff"/><stop offset=".054" stop-color="#0004ff"/><stop offset=".108" stop-color="#0028ff"/><stop offset=".249" stop-color="#00d4ff"/><stop offset=".272" stop-color="#06ecf1"/><stop offset=".291" stop-color="#19ffde"/><stop offset=".331" stop-color="#3cffba"/><stop offset=".38" stop-color="#66ff90"/><stop offset=".399" stop-color="#7aff7d"/><stop offset=".4" stop-color="#87ff70"/><stop offset=".536" stop-color="#caff2c"/><stop offset=".594" stop-color="#caff2c"/><stop offset=".66" stop-color="#7dff7a"/><stop offset=".686" stop-color="#5aff9d"/><stop offset=".707" stop-color="#16ffe1"/><stop offset=".716" stop-color="#00dcfe"/><stop offset=".745" stop-color="#005cff"/><stop offset=".761" stop-color="#0004ff"/><stop offset=".764" stop-color="#0000ff"/><stop offset=".775" stop-color="#0000bf"/><stop offset=".789" stop-color="#000084"/><stop offset="1" stop-color="#000080"/></linearGradient><linearGradient id="h34" x2="0" y2="1"><stop offset="0" stop-color="#0000f6"/><stop offset=".063" stop-color="#0000ff"/><stop offset=".104" stop-color="#0018ff"/><stop offset=".174" stop-color="#0074ff"/><stop offset=".223" stop-color="#00b4ff"/><stop offset=".265" stop-color="#00e0fb"/><stop offset=".291" stop-color="#19ffde"/><stop offset=".34" stop-color="#43ffb4"/><stop offset=".395" stop-color="#77ff80"/><stop offset=".399" stop-color="#7aff7d"/><stop offset=".4" stop-color="#87ff70"/><stop offset=".536" stop-color="#caff2c"/><stop offset=".594" stop-color="#caff2c"/><stop offset=".66" stop-color="#7dff7a"/><stop offset=".686" stop-color="#5aff9d"/><stop offset=".707" stop-color="#16ffe1"/><stop offset=".716" stop-color="#00dcfe"/><stop offset=".745" stop-color="#005cff"/><stop offset=".761" stop-color="#0004ff"/><stop offset=".764" stop-color="#0000ff"/><stop offset=".775" stop-color="#0000bf"/><stop offset=".789" stop-color="#000084"/><stop offset="1" stop-color="#000080"/></linearGradient><linearGradient id="h35" x2="0" y2="1"><stop offset="0" stop-color="#0000e8"/><stop offset=".049" stop-color="#0000f6"/><stop offset=".068" stop-color="#0000ff"/><stop offset=".098" stop-color="#0004ff"/><stop offset=".167" stop-color="#0064ff"/><stop offset=".207" stop-color="#00a0ff"/><stop offset=".266" stop-color="#00e0fb"/><stop offset=".293" stop-color="#19ffde"/><stop offset=".348" stop-color="#49ffad"/><stop offset=".399" stop-color="#7aff7d"/><stop offset=".4" stop-color="#87ff70"/><stop offset=".536" stop-color="#caff2c"/><stop offset=".594" stop-color="#caff2c"/><stop offset=".66" stop-color="#7dff7a"/><stop offset=".686" stop-color="#5aff9d"/><stop offset=".707" stop-color="#16ffe1"/><stop offset=".716" stop-color="#00dcfe"/><stop offset=".745" stop-color="#005cff"/><stop offset=".761" stop-color="#0004ff"/><stop offset=".764" stop-color="#0000ff"/><stop offset=".775" stop-color="#0000bf"/><stop offset=".789" stop-color="#000084"/><stop offset="1" stop-color="#000080"/></linearGradient><linearGradient id="h36" x2="0" y2="1"><stop offset="0" stop-color="#0000da"/><stop offset=".049" stop-color="#0000e8"/><stop offset=".087" stop-color="#0000ff"/><stop offset=".106" stop-color="#0004ff"/><stop offset=".171" stop-color="#0064ff"/><stop offset=".202" stop-color="#0098ff"/><stop offset=".268" stop-color="#00e0fb"/><stop offset=".294" stop-color="#19ffde"/><stop offset=".336" stop-color="#40ffb7"/><stop offset=".395" stop-color="#77ff80"/><stop offset=".399" stop-color="#7aff7d"/><stop offset=".4" stop-color="#87ff70"/><stop offset=".536" stop-color="#caff2c"/><stop offset=".594" stop-color="#caff2c"/><stop offset=".66" stop-color="#7dff7a"/><stop offset=".686" stop-color="#5aff9d"/><stop offset=".707" stop-color="#16ffe1"/><stop offset=".716" stop-color="#00dcfe"/><stop offset=".745" stop-color="#005cff"/><stop offset=".761" stop-color="#0004ff"/><stop offset=".764" stop-color="#0000ff"/><stop offset=".775" stop-color="#0000bf"/><stop offset=".789" stop-color="#000084"/><stop offset="1" stop-color="#000080"/></linearGradient><linearGradient id="h37" x2="0" y2="1"><stop offset="0" stop-color="#0000d1"/><stop offset=".049" stop-color="#0000da"/><stop offset=".11" stop-color="#0000ff"/><stop offset=".167" stop-color="#0058ff"/><stop offset=".204" stop-color="#0098ff"/><stop offset=".263" stop-color="#00d8ff"/><stop offset=".282" stop-color="#09f0ee"/><stop offset=".296" stop-color="#19ffde"/><stop offset=".324" stop-color="#36ffc1"/><stop offset=".38" stop-color="#66ff90"/><stop offset=".399" stop-color="#7aff7d"/><stop offset=".4" stop-color="#87ff70"/><stop offset=".536" stop-color="#caff2c"/><stop offset=".594" stop-color="#caff2c"/><stop offset=".66" stop-color="#7dff7a"/><stop offset=".686" stop-color="#5aff9d"/><stop offset=".707" stop-color="#16ffe1"/><stop offset=".716" stop-color="#00dcfe"/><stop offset=".745" stop-color="#005cff"/><stop offset=".761" stop-color="#0004ff"/><stop offset=".764" stop-color="#0000ff"/><stop offset=".775" stop-color="#0000bf"/><stop offset=".789" stop-color="#000084"/><stop offset="1" stop-color="#000080"/></linearGradient><linearGradient id="h38" x2="0" y2="1"><stop offset="0" stop-color="#0000c4"/><stop offset=".05" stop-color="#0000cd"/><stop offset=".101" stop-color="#0000f1"/><stop offset=".111" stop-color="#0000ff"/><stop offset=".124" stop-color="#0008ff"/><stop offset=".172" stop-color="#005cff"/><stop offset=".204" stop-color="#0098ff"/><stop offset=".249" stop-color="#00c4ff"/><stop offset=".272" stop-color="#00e0fb"/><stop offset=".291" stop-color="#13fce4"/><stop offset=".331" stop-color="#3cffba"/><stop offset=".38" stop-color="#66ff90"/><stop offset=".399" stop-color="#7aff7d"/><stop offset=".4" stop-color="#87ff70"/><stop offset=".536" stop-color="#caff2c"/><stop offset=".594" stop-color="#caff2c"/><stop offset=".66" stop-color="#7dff7a"/><stop offset=".686" stop-color="#5aff9d"/><stop offset=".707" stop-color="#16ffe1"/><stop offset=".716" stop-color="#00dcfe"/><stop offset=".745" stop-color="#005cff"/><stop offset=".761" stop-color="#0004ff"/><stop offset=".764" stop-color="#0000ff"/><stop offset=".775" stop-color="#0000bf"/><stop offset=".789" stop-color="#000084"/><stop offset="1" stop-color="#000080"/></linearGradient><linearGradient id="h39" x2="0" y2="1"><stop offset="0" stop-color="#0000b6"/><stop offset=".05" stop-color="#0000bf"/><stop offset=".101" stop-color="#0000e3"/><stop offset=".117" stop-color="#0000ff"/><stop offset=".127" stop-color="#0004ff"/><stop offset=".169" stop-color="#0050ff"/><stop offset=".202" stop-color="#0094ff"/><stop offset=".256" stop-color="#00c8ff"/><stop offset=".277" stop-color="#00e4f8"/><stop offset=".298" stop-color="#19ffde"/><stop offset=".327" stop-color="#39ffbe"/><stop offset=".38" stop-color="#66ff90"/><stop offset=".399" stop-color="#7aff7d"/><stop offset=".4" stop-color="#87ff70"/><stop offset=".536" stop-color="#caff2c"/><stop offset=".594" stop-color="#caff2c"/><stop offset=".66" stop-color="#7dff7a"/><stop offset=".686" stop-color="#5aff9d"/><stop offset=".707" stop-color="#16ffe1"/><stop offset=".716" stop-color="#00dcfe"/><stop offset=".745" stop-color="#005cff"/><stop offset=".761" stop-color="#0004ff"/><stop offset=".764" stop-color="#0000ff"/><stop offset=".775" stop-color="#0000bf"/><stop offset=".789" stop-color="#000084"/><stop offset="1" stop-color="#000080"/></linearGradient><linearGradient id="h40" x2="0" y2="1"><stop offset="0" stop-color="#0000ad"/><stop offset=".052" stop-color="#0000b2"/><stop offset=".101" stop-color="#0000d6"/><stop offset=".124" stop-color="#0000ff"/><stop offset=".132" stop-color="#0004ff"/><stop offset=".172" stop-color="#0050ff"/><stop offset=".204" stop-color="#0094ff"/><stop offset=".247" stop-color="#00bcff"/><stop offset=".277" stop-color="#00e0fb"/><stop offset=".296" stop-color="#16ffe1"/><stop offset=".326" stop-color="#36ffc1"/><stop offset=".395" stop-color="#77ff80"/><stop offset=".399" stop-color="#7aff7d"/><stop offset=".4" stop-color="#87ff70"/><stop offset=".536" stop-color="#caff2c"/><stop offset=".594" stop-color="#caff2c"/><stop offset=".66" stop-color="#7dff7a"/><stop offset=".686" stop-color="#5aff9d"/><stop offset=".707" stop-color="#16ffe1"/><stop offset=".716" stop-color="#00dcfe"/><stop offset=".745" stop-color="#005cff"/><stop offset=".761" stop-color="#0004ff"/><stop offset=".764" stop-color="#0000ff"/><stop offset=".775" stop-color="#0000bf"/><stop offset=".789" stop-color="#000084"/><stop offset="1" stop-color="#000080"/></linearGradient><linearGradient id="h41" x2="0" y2="1"><stop offset="0" stop-color="#0000a4"/><stop offset=".049" stop-color="#0000a8"/><stop offset=".101" stop-color="#0000cd"/><stop offset=".125" stop-color="#0000ff"/><stop offset=".136" stop-color="#0004ff"/><stop offset=".167" stop-color="#0040ff"/><stop offset=".204" stop-color="#0094ff"/><stop offset=".246" stop-color="#00b8ff"/><stop offset=".277" stop-color="#00e0fb"/><stop offset=".298" stop-color="#19ffde"/><stop offset=".353" stop-color="#4dffaa"/><stop offset=".399" stop-color="#7aff7d"/><stop offset=".4" stop-color="#87ff70"/><stop offset=".536" stop-color="#caff2c"/><stop offset=".594" stop-color="#caff2c"/><stop offset=".66" stop-color="#7dff7a"/><stop offset=".686" stop-color="#5aff9d"/><stop offset=".707" stop-color="#16ffe1"/><stop offset=".716" stop-color="#00dcfe"/><stop offset=".745" stop-color="#005cff"/><stop offset=".761" stop-color="#0004ff"/><stop offset=".764" stop-color="#0000ff"/><stop offset=".775" stop-color="#0000bf"/><stop offset=".789" stop-color="#000084"/><stop offset="1" stop-color="#000080"/></linearGradient><linearGradient id="h42" x2="0" y2="1"><stop offset="0" stop-color="#0000a4"/><stop offset=".049" stop-color="#0000a8"/><stop offset=".101" stop-color="#0000cd"/><stop offset=".125" stop-color="#0000ff"/><stop offset=".136" stop-color="#0004ff"/><stop offset=".167" stop-color="#0040ff"/><stop offset=".204" stop-color="#0094ff"/><stop offset=".246" stop-color="#00b8ff"/><stop offset=".277" stop-color="#00e0fb"/><stop offset=".298" stop-color="#19ffde"/><stop offset=".353" stop-color="#4dffaa"/><stop offset=".399" stop-color="#7aff7d"/><stop offset=".4" stop-color="#87ff70"/><stop offset=".536" stop-color="#caff2c"/><stop offset=".594" stop-color="#caff2c"/><stop offset=".66" stop-color="#7dff7a"/><stop offset=".686" stop-color="#5aff9d"/><stop offset=".707" stop-color="#16ffe1"/><stop offset=".716" stop-color="#00dcfe"/><stop offset=".745" stop-color="#005cff"/><stop offset=".761" stop-color="#0004ff"/><stop offset=".764" stop-color="#0000ff"/><stop offset=".775" stop-color="#0000bf"/><stop offset=".789" stop-color="#000084"/><stop offset="1" stop-color="#000080"/></linearGradient><linearGradient id="h43" x2="0" y2="1"><stop offset="0" stop-color="#0000bf"/><stop offset=".05" stop-color="#0000bf"/><stop offset=".103" stop-color="#0000df"/><stop offset=".12" stop-color="#0000ff"/><stop offset=".131" stop-color="#0004ff"/><stop offset=".171" stop-color="#0050ff"/><stop offset=".204" stop-color="#0094ff"/><stop offset=".244" stop-color="#00b8ff"/><stop offset=".275" stop-color="#00e0fb"/><stop offset=".291" stop-color="#0ff8e7"/><stop offset=".305" stop-color="#23ffd4"/><stop offset=".395" stop-color="#77ff80"/><stop offset=".399" stop-color="#7aff7d"/><stop offset=".4" stop-color="#87ff70"/><stop offset=".536" stop-color="#caff2c"/><stop offset=".594" stop-color="#caff2c"/><stop offset=".66" stop-color="#7dff7a"/><stop offset=".686" stop-color="#5aff9d"/><stop offset=".707" stop-color="#16ffe1"/><stop offset=".716" stop-color="#00dcfe"/><stop offset=".745" stop-color="#005cff"/><stop offset=".761" stop-color="#0004ff"/><stop offset=".764" stop-color="#0000ff"/><stop offset=".775" stop-color="#0000bf"/><stop offset=".789" stop-color="#000084"/><stop offset="1" stop-color="#000080"/></linearGradient><linearGradient id="h44" x2="0" y2="1"><stop offset="0" stop-color="#0000fa"/><stop offset=".05" stop-color="#0000f1"/><stop offset=".115" stop-color="#0004ff"/><stop offset=".167" stop-color="#0054ff"/><stop offset=".204" stop-color="#0094ff"/><stop offset=".251" stop-color="#00c4ff"/><stop offset=".272" stop-color="#00e0fb"/><stop offset=".291" stop-color="#13fce4"/><stop offset=".322" stop-color="#36ffc1"/><stop offset=".38" stop-color="#66ff90"/><stop offset=".399" stop-color="#7aff7d"/><stop offset=".4" stop-color="#87ff70"/><stop offset=".536" stop-color="#caff2c"/><stop offset=".594" stop-color="#caff2c"/><stop offset=".66" stop-color="#7dff7a"/><stop offset=".686" stop-color="#5aff9d"/><stop offset=".707" stop-color="#16ffe1"/><stop offset=".716" stop-color="#00dcfe"/><stop offset=".745" stop-color="#005cff"/><stop offset=".761" stop-color="#0004ff"/><stop offset=".764" stop-color="#0000ff"/><stop offset=".775" stop-color="#0000bf"/><stop offset=".789" stop-color="#000084"/><stop offset="1" stop-color="#000080"/></linearGradient><linearGradient id="h45" x2="0" y2="1"><stop offset="0" stop-color="#001cff"/><stop offset=".101" stop-color="#000cff"/><stop offset=".181" stop-color="#0074ff"/><stop offset=".242" stop-color="#00c0ff"/><stop offset=".27" stop-color="#00e0fb"/><stop offset=".293" stop-color="#19ffde"/><stop offset=".331" stop-color="#3cffba"/><stop offset=".38" stop-color="#66ff90"/><stop offset=".399" stop-color="#7aff7d"/><stop offset=".4" stop-color="#87ff70"/><stop offset=".536" stop-color="#caff2c"/><stop offset=".594" stop-color="#caff2c"/><stop offset=".66" stop-color="#7dff7a"/><stop offset=".686" stop-color="#5aff9d"/><stop offset=".707" stop-color="#16ffe1"/><stop offset=".716" stop-color="#00dcfe"/><stop offset=".745" stop-color="#005cff"/><stop offset=".761" stop-color="#0004ff"/><stop offset=".764" stop-color="#0000ff"/><stop offset=".775" stop-color="#0000bf"/><stop offset=".789" stop-color="#000084"/><stop offset="1" stop-color="#000080"/></linearGradient><linearGradient id="h46" x2="0" y2="1"><stop offset="0" stop-color="#0050ff"/><stop offset=".101" stop-color="#002cff"/><stop offset=".211" stop-color="#009cff"/><stop offset=".266" stop-color="#00e0fb"/><stop offset=".291" stop-color="#19ffde"/><stop offset=".329" stop-color="#3cffba"/><stop offset=".374" stop-color="#60ff97"/><stop offset=".399" stop-color="#7aff7d"/><stop offset=".4" stop-color="#87ff70"/><stop offset=".536" stop-color="#caff2c"/><stop offset=".594" stop-color="#caff2c"/><stop offset=".66" stop-color="#7dff7a"/><stop offset=".686" stop-color="#5aff9d"/><stop offset=".707" stop-color="#16ffe1"/><stop offset=".716" stop-color="#00dcfe"/><stop offset=".745" stop-color="#005cff"/><stop offset=".761" stop-color="#0004ff"/><stop offset=".764" stop-color="#0000ff"/><stop offset=".775" stop-color="#0000bf"/><stop offset=".789" stop-color="#000084"/><stop offset="1" stop-color="#000080"/></linearGradient><linearGradient id="h47" x2="0" y2="1"><stop offset="0" stop-color="#006cff"/><stop offset=".064" stop-color="#0050ff"/><stop offset=".103" stop-color="#003cff"/><stop offset=".204" stop-color="#0094ff"/><stop offset=".263" stop-color="#00e0fb"/><stop offset=".289" stop-color="#19ffde"/><stop offset=".329" stop-color="#3cffba"/><stop offset=".374" stop-color="#60ff97"/><stop offset=".399" stop-color="#7aff7d"/><stop offset=".4" stop-color="#87ff70"/><stop offset=".536" stop-color="#caff2c"/><stop offset=".594" stop-color="#caff2c"/><stop offset=".66" stop-color="#7dff7a"/><stop offset=".686" stop-color="#5aff9d"/><stop offset=".707" stop-color="#16ffe1"/><stop offset=".716" stop-color="#00dcfe"/><stop offset=".745" stop-color="#005cff"/><stop offset=".761" stop-color="#0004ff"/><stop offset=".764" stop-color="#0000ff"/><stop offset=".775" stop-color="#0000bf"/><stop offset=".789" stop-color="#000084"/><stop offset="1" stop-color="#000080"/></linearGradient><linearGradient id="h48" x2="0" y2="1"><stop offset="0" stop-color="#007cff"/><stop offset=".103" stop-color="#005cff"/><stop offset=".169" stop-color="#0084ff"/><stop offset=".207" stop-color="#00a8ff"/><stop offset=".254" stop-color="#00e0fb"/><stop offset=".284" stop-color="#19ffde"/><stop offset=".374" stop-color="#60ff97"/><stop offset=".399" stop-color="#7aff7d"/><stop offset=".4" stop-color="#87ff70"/><stop offset=".536" stop-color="#caff2c"/><stop offset=".594" stop-color="#caff2c"/><stop offset=".66" stop-color="#7dff7a"/><stop offset=".686" stop-color="#5aff9d"/><stop offset=".707" stop-color="#16ffe1"/><stop offset=".716" stop-color="#00dcfe"/><stop offset=".745" stop-color="#005cff"/><stop offset=".761" stop-color="#0004ff"/><stop offset=".764" stop-color="#0000ff"/><stop offset=".775" stop-color="#0000bf"/><stop offset=".789" stop-color="#000084"/><stop offset="1" stop-color="#000080"/></linearGradient><linearGradient id="h49" x2="0" y2="1"><stop offset="0" stop-color="#008cff"/><stop offset=".078" stop-color="#0074ff"/><stop offset=".106" stop-color="#0070ff"/><stop offset=".176" stop-color="#0098ff"/><stop offset=".212" stop-color="#00b8ff"/><stop offset=".249" stop-color="#00e0fb"/><stop offset=".28" stop-color="#19ffde"/><stop offset=".371" stop-color="#5dff9a"/><stop offset=".399" stop-color="#7aff7d"/><stop offset=".4" stop-color="#87ff70"/><stop offset=".536" stop-color="#caff2c"/><stop offset=".594" stop-color="#caff2c"/><stop offset=".66" stop-color="#7dff7a"/><stop offset=".686" stop-color="#5aff9d"/><stop offset=".707" stop-color="#16ffe1"/><stop offset=".716" stop-color="#00dcfe"/><stop offset=".745" stop-color="#005cff"/><stop offset=".761" stop-color="#0004ff"/><stop offset=".764" stop-color="#0000ff"/><stop offset=".775" stop-color="#0000bf"/><stop offset=".789" stop-color="#000084"/><stop offset="1" stop-color="#000080"/></linearGradient><linearGradient id="h50" x2="0" y2="1"><stop offset="0" stop-color="#00b0ff"/><stop offset=".057" stop-color="#009cff"/><stop offset=".11" stop-color="#0098ff"/><stop offset=".209" stop-color="#00c8ff"/><stop offset=".242" stop-color="#00e4f8"/><stop offset=".272" stop-color="#19ffde"/><stop offset=".367" stop-color="#5aff9d"/><stop offset=".399" stop-color="#7aff7d"/><stop offset=".4" stop-color="#87ff70"/><stop offset=".535" stop-color="#caff2c"/><stop offset=".594" stop-color="#caff2c"/><stop offset=".658" stop-color="#80ff77"/><stop offset=".688" stop-color="#56ffa0"/><stop offset=".709" stop-color="#13fce4"/><stop offset=".716" stop-color="#00e0fb"/><stop offset=".745" stop-color="#0060ff"/><stop offset=".761" stop-color="#0004ff"/><stop offset=".764" stop-color="#0000ff"/><stop offset=".775" stop-color="#0000bf"/><stop offset=".79" stop-color="#000080"/><stop offset="1" stop-color="#000080"/></linearGradient><linearGradient id="h51" x2="0" y2="1"><stop offset="0" stop-color="#00d0ff"/><stop offset=".054" stop-color="#00c0ff"/><stop offset=".113" stop-color="#00c0ff"/><stop offset=".179" stop-color="#00d4ff"/><stop offset=".216" stop-color="#00e0fb"/><stop offset=".256" stop-color="#13fce4"/><stop offset=".357" stop-color="#50ffa7"/><stop offset=".399" stop-color="#7dff7a"/><stop offset=".402" stop-color="#8aff6d"/><stop offset=".536" stop-color="#d1ff26"/><stop offset=".595" stop-color="#ceff29"/><stop offset=".663" stop-color="#80ff77"/><stop offset=".688" stop-color="#5dff9a"/><stop offset=".712" stop-color="#13fce4"/><stop offset=".719" stop-color="#00e0fb"/><stop offset=".745" stop-color="#0070ff"/><stop offset=".764" stop-color="#0000ff"/><stop offset=".77" stop-color="#0000f1"/><stop offset=".78" stop-color="#0000bb"/><stop offset=".79" stop-color="#00008d"/><stop offset=".792" stop-color="#000080"/><stop offset="1" stop-color="#000080"/></linearGradient><linearGradient id="h52" x2="0" y2="1"><stop offset="0" stop-color="#02e8f4"/><stop offset=".044" stop-color="#00d4ff"/><stop offset=".117" stop-color="#00d8ff"/><stop offset=".179" stop-color="#02e8f4"/><stop offset=".218" stop-color="#06ecf1"/><stop offset=".259" stop-color="#1cffdb"/><stop offset=".364" stop-color="#56ffa0"/><stop offset=".399" stop-color="#7dff7a"/><stop offset=".402" stop-color="#8dff6a"/><stop offset=".5" stop-color="#c7ff30"/><stop offset=".545" stop-color="#d7ff1f"/><stop offset=".595" stop-color="#d4ff23"/><stop offset=".662" stop-color="#90ff66"/><stop offset=".688" stop-color="#6dff8a"/><stop offset=".719" stop-color="#13fce4"/><stop offset=".726" stop-color="#00dcfe"/><stop offset=".747" stop-color="#0084ff"/><stop offset=".77" stop-color="#0004ff"/><stop offset=".773" stop-color="#0000ff"/><stop offset=".79" stop-color="#0000ad"/><stop offset=".794" stop-color="#000084"/><stop offset="1" stop-color="#000080"/></linearGradient><linearGradient id="h53" x2="0" y2="1"><stop offset="0" stop-color="#02e8f4"/><stop offset=".054" stop-color="#00d8ff"/><stop offset=".117" stop-color="#00dcfe"/><stop offset=".169" stop-color="#02e8f4"/><stop offset=".209" stop-color="#06ecf1"/><stop offset=".258" stop-color="#1cffdb"/><stop offset=".364" stop-color="#56ffa0"/><stop offset=".399" stop-color="#83ff73"/><stop offset=".402" stop-color="#90ff66"/><stop offset=".477" stop-color="#c7ff30"/><stop offset=".543" stop-color="#e1ff16"/><stop offset=".595" stop-color="#deff19"/><stop offset=".665" stop-color="#9dff5a"/><stop offset=".688" stop-color="#80ff77"/><stop offset=".726" stop-color="#19ffde"/><stop offset=".735" stop-color="#00e0fb"/><stop offset=".752" stop-color="#0090ff"/><stop offset=".775" stop-color="#0014ff"/><stop offset=".78" stop-color="#0000ff"/><stop offset=".787" stop-color="#0000ed"/><stop offset=".792" stop-color="#0000c4"/><stop offset=".799" stop-color="#000080"/><stop offset="1" stop-color="#000080"/></linearGradient><linearGradient id="h54" x2="0" y2="1"><stop offset="0" stop-color="#0ff8e7"/><stop offset=".054" stop-color="#02e8f4"/><stop offset=".122" stop-color="#09f0ee"/><stop offset=".171" stop-color="#16ffe1"/><stop offset=".218" stop-color="#1cffdb"/><stop offset=".36" stop-color="#63ff94"/><stop offset=".399" stop-color="#90ff66"/><stop offset=".4" stop-color="#9dff5a"/><stop offset=".474" stop-color="#d1ff26"/><stop offset=".548" stop-color="#eeff09"/><stop offset=".595" stop-color="#ebff0c"/><stop offset=".67" stop-color="#adff49"/><stop offset=".689" stop-color="#97ff60"/><stop offset=".724" stop-color="#43ffb4"/><stop offset=".738" stop-color="#16ffe1"/><stop offset=".745" stop-color="#00e0fb"/><stop offset=".764" stop-color="#0080ff"/><stop offset=".775" stop-color="#0044ff"/><stop offset=".79" stop-color="#0000ff"/><stop offset=".792" stop-color="#0000fa"/><stop offset=".801" stop-color="#0000a4"/><stop offset=".815" stop-color="#000080"/><stop offset="1" stop-color="#000080"/></linearGradient><linearGradient id="h55" x2="0" y2="1"><stop offset="0" stop-color="#26ffd1"/><stop offset=".073" stop-color="#23ffd4"/><stop offset=".118" stop-color="#29ffce"/><stop offset=".183" stop-color="#40ffb7"/><stop offset=".294" stop-color="#6aff8d"/><stop offset=".38" stop-color="#9dff5a"/><stop offset=".399" stop-color="#b1ff46"/><stop offset=".416" stop-color="#c1ff36"/><stop offset=".521" stop-color="#f1fc06"/><stop offset=".547" stop-color="#f8f500"/><stop offset=".599" stop-color="#f4f802"/><stop offset=".634" stop-color="#e1ff16"/><stop offset=".689" stop-color="#b1ff46"/><stop offset=".721" stop-color="#73ff83"/><stop offset=".747" stop-color="#1fffd7"/><stop offset=".752" stop-color="#09f0ee"/><stop offset=".759" stop-color="#00d0ff"/><stop offset=".782" stop-color="#0058ff"/><stop offset=".79" stop-color="#002cff"/><stop offset=".796" stop-color="#0000ff"/><stop offset=".799" stop-color="#0000ed"/><stop offset=".808" stop-color="#0000bf"/><stop offset=".815" stop-color="#0000a4"/><stop offset=".818" stop-color="#000080"/><stop offset="1" stop-color="#000080"/></linearGradient><linearGradient id="h56" x2="0" y2="1"><stop offset="0" stop-color="#43ffb4"/><stop offset=".092" stop-color="#43ffb4"/><stop offset=".19" stop-color="#73ff83"/><stop offset=".312" stop-color="#a7ff50"/><stop offset=".393" stop-color="#d1ff26"/><stop offset=".414" stop-color="#dbff1c"/><stop offset=".489" stop-color="#f1fc06"/><stop offset=".535" stop-color="#ffe600"/><stop offset=".601" stop-color="#ffea00"/><stop offset=".644" stop-color="#eeff09"/><stop offset=".689" stop-color="#caff2c"/><stop offset=".723" stop-color="#94ff63"/><stop offset=".752" stop-color="#33ffc4"/><stop offset=".761" stop-color="#16ffe1"/><stop offset=".766" stop-color="#00e0fb"/><stop offset=".79" stop-color="#005cff"/><stop offset=".801" stop-color="#0008ff"/><stop offset=".804" stop-color="#0000ff"/><stop offset=".808" stop-color="#0000f6"/><stop offset=".815" stop-color="#0000d1"/><stop offset=".817" stop-color="#0000bf"/><stop offset=".82" stop-color="#000080"/><stop offset="1" stop-color="#000080"/></linearGradient><linearGradient id="h57" x2="0" y2="1"><stop offset="0" stop-color="#56ffa0"/><stop offset=".108" stop-color="#66ff90"/><stop offset=".188" stop-color="#9dff5a"/><stop offset=".317" stop-color="#d7ff1f"/><stop offset=".367" stop-color="#f1fc06"/><stop offset=".472" stop-color="#f8f500"/><stop offset=".524" stop-color="#ffde00"/><stop offset=".555" stop-color="#ffd700"/><stop offset=".599" stop-color="#ffdb00"/><stop offset=".658" stop-color="#fbf100"/><stop offset=".681" stop-color="#ebff0c"/><stop offset=".721" stop-color="#beff39"/><stop offset=".763" stop-color="#36ffc1"/><stop offset=".77" stop-color="#16ffe1"/><stop offset=".775" stop-color="#00e0fb"/><stop offset=".792" stop-color="#007cff"/><stop offset=".801" stop-color="#0038ff"/><stop offset=".811" stop-color="#0000ff"/><stop offset=".815" stop-color="#0000fa"/><stop offset=".817" stop-color="#0000e3"/><stop offset=".82" stop-color="#000092"/><stop offset=".822" stop-color="#000080"/><stop offset="1" stop-color="#000080"/></linearGradient><linearGradient id="h58" x2="0" y2="1"><stop offset="0" stop-color="#63ff94"/><stop offset=".104" stop-color="#73ff83"/><stop offset=".188" stop-color="#b1ff46"/><stop offset=".32" stop-color="#eeff09"/><stop offset=".348" stop-color="#feed00"/><stop offset=".374" stop-color="#ffe200"/><stop offset=".465" stop-color="#ffea00"/><stop offset=".545" stop-color="#ffcc00"/><stop offset=".606" stop-color="#ffd000"/><stop offset=".672" stop-color="#ffe600"/><stop offset=".691" stop-color="#f8f500"/><stop offset=".71" stop-color="#e7ff0f"/><stop offset=".721" stop-color="#deff19"/><stop offset=".764" stop-color="#53ffa4"/><stop offset=".777" stop-color="#19ffde"/><stop offset=".782" stop-color="#00e4f8"/><stop offset=".79" stop-color="#00b0ff"/><stop offset=".81" stop-color="#002cff"/><stop offset=".817" stop-color="#0000ff"/><stop offset=".818" stop-color="#0000da"/><stop offset=".822" stop-color="#000080"/><stop offset="1" stop-color="#000080"/></linearGradient><linearGradient id="h59" x2="0" y2="1"><stop offset="0" stop-color="#63ff94"/><stop offset=".103" stop-color="#73ff83"/><stop offset=".192" stop-color="#b4ff43"/><stop offset=".324" stop-color="#f1fc06"/><stop offset=".357" stop-color="#ffe600"/><stop offset=".467" stop-color="#ffde00"/><stop offset=".55" stop-color="#ffc100"/><stop offset=".663" stop-color="#ffd000"/><stop offset=".714" stop-color="#fbf100"/><stop offset=".721" stop-color="#f4f802"/><stop offset=".728" stop-color="#deff19"/><stop offset=".763" stop-color="#77ff80"/><stop offset=".784" stop-color="#13fce4"/><stop offset=".787" stop-color="#00e4f8"/><stop offset=".796" stop-color="#00acff"/><stop offset=".815" stop-color="#0024ff"/><stop offset=".817" stop-color="#0010ff"/><stop offset=".818" stop-color="#0000f1"/><stop offset=".822" stop-color="#00008d"/><stop offset=".824" stop-color="#000080"/><stop offset="1" stop-color="#000080"/></linearGradient><linearGradient id="h60" x2="0" y2="1"><stop offset="0" stop-color="#63ff94"/><stop offset=".106" stop-color="#77ff80"/><stop offset=".19" stop-color="#b4ff43"/><stop offset=".322" stop-color="#f1fc06"/><stop offset=".355" stop-color="#ffe600"/><stop offset=".47" stop-color="#ffd700"/><stop offset=".545" stop-color="#ffbd00"/><stop offset=".667" stop-color="#ffc800"/><stop offset=".721" stop-color="#ffea00"/><stop offset=".728" stop-color="#eeff09"/><stop offset=".763" stop-color="#87ff70"/><stop offset=".785" stop-color="#19ffde"/><stop offset=".79" stop-color="#00e4f8"/><stop offset=".796" stop-color="#00bcff"/><stop offset=".815" stop-color="#0034ff"/><stop offset=".818" stop-color="#0000ff"/><stop offset=".822" stop-color="#00009b"/><stop offset=".824" stop-color="#000080"/><stop offset="1" stop-color="#000080"/></linearGradient><linearGradient id="h61" x2="0" y2="1"><stop offset="0" stop-color="#66ff90"/><stop offset=".106" stop-color="#7dff7a"/><stop offset=".192" stop-color="#baff3c"/><stop offset=".315" stop-color="#f1fc06"/><stop offset=".352" stop-color="#ffe600"/><stop offset=".383" stop-color="#ffde00"/><stop offset=".482" stop-color="#ffcc00"/><stop offset=".547" stop-color="#ffb600"/><stop offset=".665" stop-color="#ffc400"/><stop offset=".721" stop-color="#ffe600"/><stop offset=".73" stop-color="#ebff0c"/><stop offset=".764" stop-color="#83ff73"/><stop offset=".787" stop-color="#16ffe1"/><stop offset=".792" stop-color="#00e0fb"/><stop offset=".815" stop-color="#003cff"/><stop offset=".817" stop-color="#0028ff"/><stop offset=".818" stop-color="#0000ff"/><stop offset=".82" stop-color="#0000e8"/><stop offset=".824" stop-color="#000096"/><stop offset=".825" stop-color="#000080"/><stop offset="1" stop-color="#000080"/></linearGradient><linearGradient id="h62" x2="0" y2="1"><stop offset="0" stop-color="#6dff8a"/><stop offset=".104" stop-color="#83ff73"/><stop offset=".193" stop-color="#c1ff36"/><stop offset=".305" stop-color="#f1fc06"/><stop offset=".343" stop-color="#ffe600"/><stop offset=".421" stop-color="#ffd300"/><stop offset=".547" stop-color="#ffb200"/><stop offset=".667" stop-color="#ffc400"/><stop offset=".723" stop-color="#ffea00"/><stop offset=".728" stop-color="#f1fc06"/><stop offset=".764" stop-color="#83ff73"/><stop offset=".789" stop-color="#13fce4"/><stop offset=".792" stop-color="#00e4f8"/><stop offset=".801" stop-color="#00a8ff"/><stop offset=".815" stop-color="#0044ff"/><stop offset=".817" stop-color="#0030ff"/><stop offset=".818" stop-color="#0010ff"/><stop offset=".82" stop-color="#0000ff"/><stop offset=".825" stop-color="#00008d"/><stop offset=".827" stop-color="#000080"/><stop offset="1" stop-color="#000080"/></linearGradient><linearGradient id="h63" x2="0" y2="1"><stop offset="0" stop-color="#70ff87"/><stop offset=".104" stop-color="#8aff6d"/><stop offset=".188" stop-color="#c4ff33"/><stop offset=".293" stop-color="#f1fc06"/><stop offset=".338" stop-color="#ffe600"/><stop offset=".4" stop-color="#ffd300"/><stop offset=".547" stop-color="#ffae00"/><stop offset=".669" stop-color="#ffc400"/><stop offset=".721" stop-color="#ffe600"/><stop offset=".728" stop-color="#f1fc06"/><stop offset=".766" stop-color="#80ff77"/><stop offset=".789" stop-color="#16ffe1"/><stop offset=".794" stop-color="#00e0fb"/><stop offset=".817" stop-color="#003cff"/><stop offset=".82" stop-color="#0004ff"/><stop offset=".822" stop-color="#0000fa"/><stop offset=".827" stop-color="#000084"/><stop offset="1" stop-color="#000080"/></linearGradient><linearGradient id="h64" x2="0" y2="1"><stop offset="0" stop-color="#73ff83"/><stop offset=".106" stop-color="#90ff66"/><stop offset=".192" stop-color="#caff2c"/><stop offset=".282" stop-color="#f1fc06"/><stop offset=".331" stop-color="#ffe600"/><stop offset=".388" stop-color="#ffd300"/><stop offset=".543" stop-color="#ffab00"/><stop offset=".663" stop-color="#ffc100"/><stop offset=".721" stop-color="#ffe600"/><stop offset=".728" stop-color="#f4f802"/><stop offset=".735" stop-color="#deff19"/><stop offset=".768" stop-color="#7dff7a"/><stop offset=".79" stop-color="#13fce4"/><stop offset=".796" stop-color="#00dcfe"/><stop offset=".815" stop-color="#0050ff"/><stop offset=".822" stop-color="#0000ff"/><stop offset=".824" stop-color="#0000ed"/><stop offset=".827" stop-color="#00009b"/><stop offset=".829" stop-color="#000080"/><stop offset="1" stop-color="#000080"/></linearGradient><linearGradient id="h65" x2="0" y2="1"><stop offset="0" stop-color="#7aff7d"/><stop offset=".103" stop-color="#94ff63"/><stop offset=".195" stop-color="#d1ff26"/><stop offset=".272" stop-color="#f1fc06"/><stop offset=".317" stop-color="#ffe600"/><stop offset=".488" stop-color="#ffb600"/><stop offset=".554" stop-color="#ffab00"/><stop offset=".665" stop-color="#ffc100"/><stop offset=".723" stop-color="#ffea00"/><stop offset=".731" stop-color="#ebff0c"/><stop offset=".766" stop-color="#87ff70"/><stop offset=".79" stop-color="#16ffe1"/><stop offset=".796" stop-color="#00e0fb"/><stop offset=".817" stop-color="#0048ff"/><stop offset=".822" stop-color="#0018ff"/><stop offset=".824" stop-color="#0000ff"/><stop offset=".829" stop-color="#000089"/><stop offset=".832" stop-color="#000080"/><stop offset="1" stop-color="#000080"/></linearGradient><linearGradient id="h66" x2="0" y2="1"><stop offset="0" stop-color="#83ff73"/><stop offset=".11" stop-color="#a4ff53"/><stop offset=".193" stop-color="#d7ff1f"/><stop offset=".256" stop-color="#f1fc06"/><stop offset=".294" stop-color="#ffea00"/><stop offset=".475" stop-color="#ffae00"/><stop offset=".555" stop-color="#ffa300"/><stop offset=".663" stop-color="#ffbd00"/><stop offset=".723" stop-color="#ffe600"/><stop offset=".731" stop-color="#ebff0c"/><stop offset=".768" stop-color="#83ff73"/><stop offset=".792" stop-color="#13fce4"/><stop offset=".797" stop-color="#00dcfe"/><stop offset=".822" stop-color="#002cff"/><stop offset=".824" stop-color="#000cff"/><stop offset=".825" stop-color="#0000fa"/><stop offset=".831" stop-color="#000080"/><stop offset="1" stop-color="#000080"/></linearGradient><linearGradient id="h67" x2="0" y2="1"><stop offset="0" stop-color="#97ff60"/><stop offset=".111" stop-color="#b7ff40"/><stop offset=".207" stop-color="#e7ff0f"/><stop offset=".24" stop-color="#f4f802"/><stop offset=".279" stop-color="#ffe600"/><stop offset=".439" stop-color="#ffab00"/><stop offset=".486" stop-color="#ff9f00"/><stop offset=".547" stop-color="#ff9800"/><stop offset=".665" stop-color="#ffb900"/><stop offset=".724" stop-color="#ffea00"/><stop offset=".731" stop-color="#eeff09"/><stop offset=".77" stop-color="#80ff77"/><stop offset=".792" stop-color="#19ffde"/><stop offset=".797" stop-color="#00e4f8"/><stop offset=".803" stop-color="#00c0ff"/><stop offset=".822" stop-color="#0038ff"/><stop offset=".825" stop-color="#0000ff"/><stop offset=".827" stop-color="#0000ed"/><stop offset=".831" stop-color="#00009b"/><stop offset=".832" stop-color="#000080"/><stop offset="1" stop-color="#000080"/></linearGradient><linearGradient id="h68" x2="0" y2="1"><stop offset="0" stop-color="#94ff63"/><stop offset=".089" stop-color="#b1ff46"/><stop offset=".192" stop-color="#ebff0c"/><stop offset=".239" stop-color="#feed00"/><stop offset=".341" stop-color="#ffc100"/><stop offset=".477" stop-color="#ff9100"/><stop offset=".552" stop-color="#ff8d00"/><stop offset=".665" stop-color="#ffb600"/><stop offset=".723" stop-color="#ffe600"/><stop offset=".731" stop-color="#f1fc06"/><stop offset=".77" stop-color="#87ff70"/><stop offset=".794" stop-color="#16ffe1"/><stop offset=".799" stop-color="#00e0fb"/><stop offset=".822" stop-color="#0040ff"/><stop offset=".827" stop-color="#0000ff"/><stop offset=".832" stop-color="#000092"/><stop offset=".834" stop-color="#000080"/><stop offset="1" stop-color="#000080"/></linearGradient><linearGradient id="h69" x2="0" y2="1"><stop offset="0" stop-color="#b7ff40"/><stop offset=".092" stop-color="#ceff29"/><stop offset=".183" stop-color="#f1fc06"/><stop offset=".233" stop-color="#ffe600"/><stop offset=".341" stop-color="#ffb600"/><stop offset=".47" stop-color="#ff8600"/><stop offset=".545" stop-color="#ff7e00"/><stop offset=".667" stop-color="#ffb200"/><stop offset=".726" stop-color="#ffea00"/><stop offset=".733" stop-color="#eeff09"/><stop offset=".773" stop-color="#7dff7a"/><stop offset=".796" stop-color="#16ffe1"/><stop offset=".801" stop-color="#00e0fb"/><stop offset=".825" stop-color="#0030ff"/><stop offset=".829" stop-color="#0000ff"/><stop offset=".834" stop-color="#000080"/><stop offset="1" stop-color="#000080"/></linearGradient><linearGradient id="h70" x2="0" y2="1"><stop offset="0" stop-color="#c7ff30"/><stop offset=".172" stop-color="#f1fc06"/><stop offset=".23" stop-color="#ffe200"/><stop offset=".463" stop-color="#ff8200"/><stop offset=".547" stop-color="#ff7a00"/><stop offset=".662" stop-color="#ffa700"/><stop offset=".724" stop-color="#ffde00"/><stop offset=".731" stop-color="#f8f500"/><stop offset=".737" stop-color="#ebff0c"/><stop offset=".771" stop-color="#8dff6a"/><stop offset=".797" stop-color="#19ffde"/><stop offset=".803" stop-color="#00e4f8"/><stop offset=".808" stop-color="#00c0ff"/><stop offset=".825" stop-color="#0044ff"/><stop offset=".829" stop-color="#0008ff"/><stop offset=".831" stop-color="#0000f1"/><stop offset=".836" stop-color="#000084"/><stop offset="1" stop-color="#000080"/></linearGradient><linearGradient id="h71" x2="0" y2="1"><stop offset="0" stop-color="#c7ff30"/><stop offset=".167" stop-color="#f1fc06"/><stop offset=".225" stop-color="#ffe200"/><stop offset=".418" stop-color="#ff9100"/><stop offset=".472" stop-color="#ff7e00"/><stop offset=".547" stop-color="#ff7300"/><stop offset=".66" stop-color="#ff9f00"/><stop offset=".726" stop-color="#ffde00"/><stop offset=".735" stop-color="#f4f802"/><stop offset=".742" stop-color="#e1ff16"/><stop offset=".771" stop-color="#94ff63"/><stop offset=".801" stop-color="#13fce4"/><stop offset=".804" stop-color="#00e4f8"/><stop offset=".81" stop-color="#00c0ff"/><stop offset=".825" stop-color="#0054ff"/><stop offset=".831" stop-color="#0000ff"/><stop offset=".837" stop-color="#000080"/><stop offset="1" stop-color="#000080"/></linearGradient><linearGradient id="h72" x2="0" y2="1"><stop offset="0" stop-color="#c7ff30"/><stop offset=".158" stop-color="#f1fc06"/><stop offset=".216" stop-color="#ffe600"/><stop offset=".343" stop-color="#ffab00"/><stop offset=".479" stop-color="#ff7700"/><stop offset=".548" stop-color="#ff6f00"/><stop offset=".648" stop-color="#ff9100"/><stop offset=".724" stop-color="#ffd300"/><stop offset=".735" stop-color="#fbf100"/><stop offset=".742" stop-color="#e7ff0f"/><stop offset=".771" stop-color="#9dff5a"/><stop offset=".803" stop-color="#16ffe1"/><stop offset=".808" stop-color="#00dcfe"/><stop offset=".825" stop-color="#0064ff"/><stop offset=".827" stop-color="#0050ff"/><stop offset=".831" stop-color="#0010ff"/><stop offset=".832" stop-color="#0000ff"/><stop offset=".836" stop-color="#0000bf"/><stop offset=".839" stop-color="#000084"/><stop offset="1" stop-color="#000080"/></linearGradient><linearGradient id="h73" x2="0" y2="1"><stop offset="0" stop-color="#beff39"/><stop offset=".16" stop-color="#eeff09"/><stop offset=".207" stop-color="#ffea00"/><stop offset=".467" stop-color="#ff7a00"/><stop offset=".547" stop-color="#ff6c00"/><stop offset=".641" stop-color="#ff8900"/><stop offset=".7" stop-color="#ffb900"/><stop offset=".724" stop-color="#ffd300"/><stop offset=".735" stop-color="#feed00"/><stop offset=".743" stop-color="#e7ff0f"/><stop offset=".771" stop-color="#a0ff56"/><stop offset=".804" stop-color="#13fce4"/><stop offset=".81" stop-color="#00dcfe"/><stop offset=".825" stop-color="#0070ff"/><stop offset=".832" stop-color="#0000ff"/><stop offset=".836" stop-color="#0000d1"/><stop offset=".839" stop-color="#00009b"/><stop offset=".841" stop-color="#000089"/><stop offset=".851" stop-color="#000080"/><stop offset="1" stop-color="#000080"/></linearGradient><linearGradient id="h74" x2="0" y2="1"><stop offset="0" stop-color="#b1ff46"/><stop offset=".106" stop-color="#d1ff26"/><stop offset=".183" stop-color="#f1fc06"/><stop offset=".232" stop-color="#ffe600"/><stop offset=".343" stop-color="#ffb200"/><stop offset=".481" stop-color="#ff7700"/><stop offset=".548" stop-color="#ff6800"/><stop offset=".641" stop-color="#ff8600"/><stop offset=".7" stop-color="#ffb600"/><stop offset=".724" stop-color="#ffd000"/><stop offset=".737" stop-color="#fbf100"/><stop offset=".743" stop-color="#ebff0c"/><stop offset=".771" stop-color="#a4ff53"/><stop offset=".804" stop-color="#19ffde"/><stop offset=".81" stop-color="#00e4f8"/><stop offset=".815" stop-color="#00c0ff"/><stop offset=".825" stop-color="#0078ff"/><stop offset=".829" stop-color="#0048ff"/><stop offset=".832" stop-color="#000cff"/><stop offset=".834" stop-color="#0000ff"/><stop offset=".839" stop-color="#0000ad"/><stop offset=".843" stop-color="#00009b"/><stop offset=".855" stop-color="#000080"/><stop offset="1" stop-color="#000080"/></linearGradient><linearGradient id="h75" x2="0" y2="1"><stop offset="0" stop-color="#a0ff56"/><stop offset=".092" stop-color="#c1ff36"/><stop offset=".195" stop-color="#f1fc06"/><stop offset=".237" stop-color="#ffe600"/><stop offset=".444" stop-color="#ff8900"/><stop offset=".501" stop-color="#ff6f00"/><stop offset=".552" stop-color="#ff6400"/><stop offset=".636" stop-color="#ff7e00"/><stop offset=".679" stop-color="#ff9f00"/><stop offset=".726" stop-color="#ffd000"/><stop offset=".74" stop-color="#f8f500"/><stop offset=".745" stop-color="#ebff0c"/><stop offset=".773" stop-color="#a4ff53"/><stop offset=".806" stop-color="#19ffde"/><stop offset=".811" stop-color="#00e0fb"/><stop offset=".825" stop-color="#0084ff"/><stop offset=".834" stop-color="#0000ff"/><stop offset=".836" stop-color="#0000f6"/><stop offset=".839" stop-color="#0000bf"/><stop offset=".843" stop-color="#0000ad"/><stop offset=".862" stop-color="#000080"/><stop offset="1" stop-color="#000080"/></linearGradient><linearGradient id="h76" x2="0" y2="1"><stop offset="0" stop-color="#94ff63"/><stop offset=".071" stop-color="#aaff4d"/><stop offset=".195" stop-color="#eeff09"/><stop offset=".239" stop-color="#ffea00"/><stop offset=".437" stop-color="#ff9100"/><stop offset=".489" stop-color="#ff7300"/><stop offset=".545" stop-color="#ff6000"/><stop offset=".637" stop-color="#ff7a00"/><stop offset=".695" stop-color="#ffab00"/><stop offset=".726" stop-color="#ffcc00"/><stop offset=".742" stop-color="#f8f500"/><stop offset=".747" stop-color="#ebff0c"/><stop offset=".771" stop-color="#adff49"/><stop offset=".806" stop-color="#1fffd7"/><stop offset=".808" stop-color="#16ffe1"/><stop offset=".813" stop-color="#00e0fb"/><stop offset=".825" stop-color="#008cff"/><stop offset=".832" stop-color="#0028ff"/><stop offset=".834" stop-color="#000cff"/><stop offset=".836" stop-color="#0000ff"/><stop offset=".839" stop-color="#0000d1"/><stop offset=".843" stop-color="#0000bf"/><stop offset=".867" stop-color="#000080"/><stop offset="1" stop-color="#000080"/></linearGradient><linearGradient id="h77" x2="0" y2="1"><stop offset="0" stop-color="#7dff7a"/><stop offset=".068" stop-color="#97ff60"/><stop offset=".186" stop-color="#e4ff13"/><stop offset=".228" stop-color="#f4f802"/><stop offset=".263" stop-color="#ffe600"/><stop offset=".427" stop-color="#ff9c00"/><stop offset=".494" stop-color="#ff6f00"/><stop offset=".541" stop-color="#ff5d00"/><stop offset=".594" stop-color="#ff6400"/><stop offset=".641" stop-color="#ff7700"/><stop offset=".723" stop-color="#ffc100"/><stop offset=".742" stop-color="#fbf100"/><stop offset=".749" stop-color="#ebff0c"/><stop offset=".771" stop-color="#b4ff43"/><stop offset=".806" stop-color="#29ffce"/><stop offset=".811" stop-color="#0ff8e7"/><stop offset=".815" stop-color="#00e0fb"/><stop offset=".825" stop-color="#009cff"/><stop offset=".836" stop-color="#000cff"/><stop offset=".837" stop-color="#0000ff"/><stop offset=".843" stop-color="#0000da"/><stop offset=".869" stop-color="#000089"/><stop offset=".872" stop-color="#000080"/><stop offset="1" stop-color="#000080"/></linearGradient><linearGradient id="h78" x2="0" y2="1"><stop offset="0" stop-color="#6dff8a"/><stop offset=".07" stop-color="#8aff6d"/><stop offset=".185" stop-color="#dbff1c"/><stop offset=".239" stop-color="#f1fc06"/><stop offset=".28" stop-color="#ffe600"/><stop offset=".421" stop-color="#ffa700"/><stop offset=".51" stop-color="#ff6400"/><stop offset=".552" stop-color="#ff5500"/><stop offset=".634" stop-color="#ff6c00"/><stop offset=".702" stop-color="#ffa700"/><stop offset=".726" stop-color="#ffc400"/><stop offset=".743" stop-color="#fbf100"/><stop offset=".754" stop-color="#e4ff13"/><stop offset=".771" stop-color="#baff3c"/><stop offset=".804" stop-color="#3cffba"/><stop offset=".811" stop-color="#19ffde"/><stop offset=".817" stop-color="#00e4f8"/><stop offset=".822" stop-color="#00c0ff"/><stop offset=".825" stop-color="#00acff"/><stop offset=".837" stop-color="#0010ff"/><stop offset=".839" stop-color="#0000ff"/><stop offset=".848" stop-color="#0000e8"/><stop offset=".869" stop-color="#00009f"/><stop offset=".872" stop-color="#000084"/><stop offset="1" stop-color="#000080"/></linearGradient><linearGradient id="h79" x2="0" y2="1"><stop offset="0" stop-color="#60ff97"/><stop offset=".056" stop-color="#73ff83"/><stop offset=".183" stop-color="#d1ff26"/><stop offset=".258" stop-color="#f1fc06"/><stop offset=".299" stop-color="#ffe600"/><stop offset=".418" stop-color="#ffb200"/><stop offset=".515" stop-color="#ff5d00"/><stop offset=".552" stop-color="#ff5200"/><stop offset=".632" stop-color="#ff6400"/><stop offset=".71" stop-color="#ffab00"/><stop offset=".726" stop-color="#ffbd00"/><stop offset=".747" stop-color="#fbf100"/><stop offset=".754" stop-color="#ebff0c"/><stop offset=".771" stop-color="#c1ff36"/><stop offset=".808" stop-color="#36ffc1"/><stop offset=".815" stop-color="#13fce4"/><stop offset=".818" stop-color="#00e4f8"/><stop offset=".827" stop-color="#00a8ff"/><stop offset=".839" stop-color="#0014ff"/><stop offset=".843" stop-color="#0004ff"/><stop offset=".85" stop-color="#0000fa"/><stop offset=".869" stop-color="#0000b2"/><stop offset=".874" stop-color="#000080"/><stop offset="1" stop-color="#000080"/></linearGradient><linearGradient id="h80" x2="0" y2="1"><stop offset="0" stop-color="#50ffa7"/><stop offset=".057" stop-color="#66ff90"/><stop offset=".186" stop-color="#caff2c"/><stop offset=".277" stop-color="#f1fc06"/><stop offset=".319" stop-color="#ffe600"/><stop offset=".42" stop-color="#ffb900"/><stop offset=".512" stop-color="#ff5d00"/><stop offset=".545" stop-color="#ff4e00"/><stop offset=".578" stop-color="#ff4e00"/><stop offset=".636" stop-color="#ff6000"/><stop offset=".724" stop-color="#ffb600"/><stop offset=".749" stop-color="#fbf100"/><stop offset=".759" stop-color="#e7ff0f"/><stop offset=".773" stop-color="#c1ff36"/><stop offset=".81" stop-color="#39ffbe"/><stop offset=".817" stop-color="#16ffe1"/><stop offset=".822" stop-color="#00dcfe"/><stop offset=".827" stop-color="#00b8ff"/><stop offset=".837" stop-color="#0040ff"/><stop offset=".843" stop-color="#001cff"/><stop offset=".851" stop-color="#0000ff"/><stop offset=".855" stop-color="#0000ff"/><stop offset=".869" stop-color="#0000c4"/><stop offset=".876" stop-color="#000080"/><stop offset="1" stop-color="#000080"/></linearGradient><linearGradient id="h81" x2="0" y2="1"><stop offset="0" stop-color="#5aff9d"/><stop offset=".063" stop-color="#73ff83"/><stop offset=".183" stop-color="#ceff29"/><stop offset=".265" stop-color="#f1fc06"/><stop offset=".306" stop-color="#ffe600"/><stop offset=".421" stop-color="#ffb200"/><stop offset=".517" stop-color="#ff5500"/><stop offset=".548" stop-color="#ff4a00"/><stop offset=".578" stop-color="#ff4a00"/><stop offset=".637" stop-color="#ff5d00"/><stop offset=".724" stop-color="#ffb200"/><stop offset=".75" stop-color="#fbf100"/><stop offset=".761" stop-color="#e7ff0f"/><stop offset=".775" stop-color="#c1ff36"/><stop offset=".81" stop-color="#40ffb7"/><stop offset=".818" stop-color="#13fce4"/><stop offset=".824" stop-color="#00dcfe"/><stop offset=".831" stop-color="#009cff"/><stop offset=".839" stop-color="#0040ff"/><stop offset=".848" stop-color="#0018ff"/><stop offset=".855" stop-color="#0000ff"/><stop offset=".858" stop-color="#0000ff"/><stop offset=".869" stop-color="#0000d1"/><stop offset=".872" stop-color="#0000ad"/><stop offset=".876" stop-color="#000084"/><stop offset="1" stop-color="#000080"/></linearGradient><linearGradient id="h82" x2="0" y2="1"><stop offset="0" stop-color="#73ff83"/><stop offset=".07" stop-color="#90ff66"/><stop offset=".193" stop-color="#e1ff16"/><stop offset=".232" stop-color="#f1fc06"/><stop offset=".273" stop-color="#ffe600"/><stop offset=".425" stop-color="#ff9f00"/><stop offset=".51" stop-color="#ff5500"/><stop offset=".552" stop-color="#ff4300"/><stop offset=".636" stop-color="#ff5500"/><stop offset=".724" stop-color="#ffae00"/><stop offset=".754" stop-color="#fbf100"/><stop offset=".764" stop-color="#e7ff0f"/><stop offset=".808" stop-color="#53ffa4"/><stop offset=".82" stop-color="#16ffe1"/><stop offset=".825" stop-color="#00e0fb"/><stop offset=".839" stop-color="#0058ff"/><stop offset=".86" stop-color="#0000ff"/><stop offset=".864" stop-color="#0000ff"/><stop offset=".871" stop-color="#0000d6"/><stop offset=".876" stop-color="#00008d"/><stop offset=".878" stop-color="#000080"/><stop offset="1" stop-color="#000080"/></linearGradient><linearGradient id="h83" x2="0" y2="1"><stop offset="0" stop-color="#90ff66"/><stop offset=".071" stop-color="#aaff4d"/><stop offset=".2" stop-color="#f1fc06"/><stop offset=".239" stop-color="#ffe600"/><stop offset=".428" stop-color="#ff8d00"/><stop offset=".514" stop-color="#ff4e00"/><stop offset=".552" stop-color="#ff3f00"/><stop offset=".582" stop-color="#ff3f00"/><stop offset=".634" stop-color="#ff4e00"/><stop offset=".724" stop-color="#ffab00"/><stop offset=".757" stop-color="#fbf100"/><stop offset=".768" stop-color="#e4ff13"/><stop offset=".81" stop-color="#56ffa0"/><stop offset=".822" stop-color="#19ffde"/><stop offset=".825" stop-color="#09f0ee"/><stop offset=".829" stop-color="#00d0ff"/><stop offset=".839" stop-color="#0074ff"/><stop offset=".864" stop-color="#0000ff"/><stop offset=".867" stop-color="#0000ff"/><stop offset=".871" stop-color="#0000e8"/><stop offset=".878" stop-color="#000080"/><stop offset="1" stop-color="#000080"/></linearGradient><linearGradient id="h84" x2="0" y2="1"><stop offset="0" stop-color="#aaff4d"/><stop offset=".157" stop-color="#eeff09"/><stop offset=".192" stop-color="#ffea00"/><stop offset=".435" stop-color="#ff7700"/><stop offset=".524" stop-color="#ff4300"/><stop offset=".568" stop-color="#ff3800"/><stop offset=".634" stop-color="#ff4700"/><stop offset=".723" stop-color="#ffa300"/><stop offset=".761" stop-color="#fbf100"/><stop offset=".768" stop-color="#ebff0c"/><stop offset=".81" stop-color="#60ff97"/><stop offset=".825" stop-color="#13fce4"/><stop offset=".829" stop-color="#00e0fb"/><stop offset=".841" stop-color="#0080ff"/><stop offset=".869" stop-color="#0000ff"/><stop offset=".871" stop-color="#0000fa"/><stop offset=".878" stop-color="#00008d"/><stop offset=".879" stop-color="#000080"/><stop offset="1" stop-color="#000080"/></linearGradient><linearGradient id="h85" x2="0" y2="1"><stop offset="0" stop-color="#beff39"/><stop offset=".136" stop-color="#f1fc06"/><stop offset=".178" stop-color="#ffe600"/><stop offset=".362" stop-color="#ff8d00"/><stop offset=".545" stop-color="#ff3800"/><stop offset=".595" stop-color="#ff3800"/><stop offset=".634" stop-color="#ff4300"/><stop offset=".723" stop-color="#ff9f00"/><stop offset=".763" stop-color="#fbf100"/><stop offset=".77" stop-color="#ebff0c"/><stop offset=".81" stop-color="#66ff90"/><stop offset=".827" stop-color="#13fce4"/><stop offset=".831" stop-color="#00e0fb"/><stop offset=".841" stop-color="#0094ff"/><stop offset=".871" stop-color="#0000ff"/><stop offset=".878" stop-color="#000092"/><stop offset=".879" stop-color="#000080"/><stop offset="1" stop-color="#000080"/></linearGradient><linearGradient id="h86" x2="0" y2="1"><stop offset="0" stop-color="#caff2c"/><stop offset=".108" stop-color="#f1fc06"/><stop offset=".157" stop-color="#ffe600"/><stop offset=".371" stop-color="#ff7e00"/><stop offset=".547" stop-color="#ff3400"/><stop offset=".597" stop-color="#ff3400"/><stop offset=".634" stop-color="#ff3f00"/><stop offset=".724" stop-color="#ff9f00"/><stop offset=".764" stop-color="#fbf100"/><stop offset=".771" stop-color="#ebff0c"/><stop offset=".81" stop-color="#6dff8a"/><stop offset=".827" stop-color="#19ffde"/><stop offset=".832" stop-color="#00e0fb"/><stop offset=".846" stop-color="#0088ff"/><stop offset=".869" stop-color="#0010ff"/><stop offset=".871" stop-color="#0000ff"/><stop offset=".872" stop-color="#0000f6"/><stop offset=".879" stop-color="#000080"/><stop offset="1" stop-color="#000080"/></linearGradient><linearGradient id="h87" x2="0" y2="1"><stop offset="0" stop-color="#beff39"/><stop offset=".12" stop-color="#f1fc06"/><stop offset=".157" stop-color="#ffe600"/><stop offset=".322" stop-color="#ff9100"/><stop offset=".557" stop-color="#ff2900"/><stop offset=".632" stop-color="#ff3400"/><stop offset=".724" stop-color="#ff9800"/><stop offset=".768" stop-color="#fbf100"/><stop offset=".775" stop-color="#e7ff0f"/><stop offset=".81" stop-color="#7dff7a"/><stop offset=".832" stop-color="#13fce4"/><stop offset=".836" stop-color="#00e4f8"/><stop offset=".844" stop-color="#00b0ff"/><stop offset=".869" stop-color="#0028ff"/><stop offset=".872" stop-color="#0000ff"/><stop offset=".876" stop-color="#0000c8"/><stop offset=".879" stop-color="#000089"/><stop offset=".883" stop-color="#000080"/><stop offset="1" stop-color="#000080"/></linearGradient><linearGradient id="h88" x2="0" y2="1"><stop offset="0" stop-color="#b7ff40"/><stop offset=".084" stop-color="#dbff1c"/><stop offset=".124" stop-color="#f1fc06"/><stop offset=".157" stop-color="#ffe600"/><stop offset=".303" stop-color="#ff9800"/><stop offset=".562" stop-color="#ff2500"/><stop offset=".632" stop-color="#ff3000"/><stop offset=".726" stop-color="#ff9800"/><stop offset=".77" stop-color="#fbf100"/><stop offset=".777" stop-color="#e7ff0f"/><stop offset=".81" stop-color="#83ff73"/><stop offset=".834" stop-color="#13fce4"/><stop offset=".839" stop-color="#00dcfe"/><stop offset=".869" stop-color="#0030ff"/><stop offset=".871" stop-color="#0020ff"/><stop offset=".872" stop-color="#0000ff"/><stop offset=".874" stop-color="#0000f1"/><stop offset=".879" stop-color="#00008d"/><stop offset=".881" stop-color="#000080"/><stop offset="1" stop-color="#000080"/></linearGradient><linearGradient id="h89" x2="0" y2="1"><stop offset="0" stop-color="#a7ff50"/><stop offset=".066" stop-color="#c4ff33"/><stop offset=".132" stop-color="#f1fc06"/><stop offset=".162" stop-color="#ffe600"/><stop offset=".214" stop-color="#ffc400"/><stop offset=".425" stop-color="#ff6000"/><stop offset=".564" stop-color="#ff2500"/><stop offset=".636" stop-color="#ff3000"/><stop offset=".724" stop-color="#ff9100"/><stop offset=".768" stop-color="#ffe600"/><stop offset=".777" stop-color="#ebff0c"/><stop offset=".81" stop-color="#87ff70"/><stop offset=".834" stop-color="#16ffe1"/><stop offset=".839" stop-color="#00e4f8"/><stop offset=".844" stop-color="#00c4ff"/><stop offset=".869" stop-color="#0034ff"/><stop offset=".871" stop-color="#0024ff"/><stop offset=".872" stop-color="#0008ff"/><stop offset=".874" stop-color="#0000fa"/><stop offset=".879" stop-color="#000096"/><stop offset=".881" stop-color="#000080"/><stop offset="1" stop-color="#000080"/></linearGradient><linearGradient id="h90" x2="0" y2="1"><stop offset="0" stop-color="#a4ff53"/><stop offset=".07" stop-color="#c4ff33"/><stop offset=".134" stop-color="#f1fc06"/><stop offset=".16" stop-color="#ffe600"/><stop offset=".214" stop-color="#ffc400"/><stop offset=".409" stop-color="#ff6800"/><stop offset=".571" stop-color="#ff2200"/><stop offset=".636" stop-color="#ff2d00"/><stop offset=".712" stop-color="#ff7a00"/><stop offset=".749" stop-color="#ffb900"/><stop offset=".77" stop-color="#ffe600"/><stop offset=".778" stop-color="#ebff0c"/><stop offset=".81" stop-color="#8dff6a"/><stop offset=".836" stop-color="#16ffe1"/><stop offset=".841" stop-color="#00e0fb"/><stop offset=".869" stop-color="#0038ff"/><stop offset=".874" stop-color="#0000ff"/><stop offset=".878" stop-color="#0000c8"/><stop offset=".881" stop-color="#000084"/><stop offset="1" stop-color="#000080"/></linearGradient><linearGradient id="h91" x2="0" y2="1"><stop offset="0" stop-color="#c7ff30"/><stop offset=".111" stop-color="#f1fc06"/><stop offset=".15" stop-color="#ffe600"/><stop offset=".352" stop-color="#ff8200"/><stop offset=".569" stop-color="#ff2200"/><stop offset=".636" stop-color="#ff2900"/><stop offset=".683" stop-color="#ff5500"/><stop offset=".728" stop-color="#ff8d00"/><stop offset=".768" stop-color="#ffdb00"/><stop offset=".775" stop-color="#fbf100"/><stop offset=".782" stop-color="#e7ff0f"/><stop offset=".813" stop-color="#83ff73"/><stop offset=".837" stop-color="#13fce4"/><stop offset=".843" stop-color="#00dcfe"/><stop offset=".871" stop-color="#0030ff"/><stop offset=".874" stop-color="#0000ff"/><stop offset=".876" stop-color="#0000f6"/><stop offset=".881" stop-color="#000092"/><stop offset=".883" stop-color="#000080"/><stop offset="1" stop-color="#000080"/></linearGradient><linearGradient id="h92" x2="0" y2="1"><stop offset="0" stop-color="#dbff1c"/><stop offset=".084" stop-color="#f1fc06"/><stop offset=".141" stop-color="#ffe600"/><stop offset=".564" stop-color="#ff2200"/><stop offset=".637" stop-color="#ff2900"/><stop offset=".676" stop-color="#ff4a00"/><stop offset=".728" stop-color="#ff8900"/><stop offset=".766" stop-color="#ffd300"/><stop offset=".775" stop-color="#feed00"/><stop offset=".784" stop-color="#e7ff0f"/><stop offset=".811" stop-color="#8dff6a"/><stop offset=".837" stop-color="#16ffe1"/><stop offset=".843" stop-color="#00e0fb"/><stop offset=".869" stop-color="#0040ff"/><stop offset=".874" stop-color="#0004ff"/><stop offset=".876" stop-color="#0000ff"/><stop offset=".883" stop-color="#000080"/><stop offset="1" stop-color="#000080"/></linearGradient><linearGradient id="h93" x2="0" y2="1"><stop offset="0" stop-color="#d7ff1f"/><stop offset=".089" stop-color="#f1fc06"/><stop offset=".143" stop-color="#ffe600"/><stop offset=".427" stop-color="#ff6000"/><stop offset=".575" stop-color="#ff1e00"/><stop offset=".641" stop-color="#ff2500"/><stop offset=".667" stop-color="#ff3800"/><stop offset=".73" stop-color="#ff8600"/><stop offset=".761" stop-color="#ffc100"/><stop offset=".778" stop-color="#fbf100"/><stop offset=".785" stop-color="#ebff0c"/><stop offset=".817" stop-color="#80ff77"/><stop offset=".839" stop-color="#16ffe1"/><stop offset=".844" stop-color="#00e0fb"/><stop offset=".869" stop-color="#0048ff"/><stop offset=".876" stop-color="#0000ff"/><stop offset=".878" stop-color="#0000f1"/><stop offset=".883" stop-color="#000089"/><stop offset=".886" stop-color="#000080"/><stop offset="1" stop-color="#000080"/></linearGradient><linearGradient id="h94" x2="0" y2="1"><stop offset="0" stop-color="#d7ff1f"/><stop offset=".092" stop-color="#f1fc06"/><stop offset=".143" stop-color="#ffe600"/><stop offset=".411" stop-color="#ff6800"/><stop offset=".58" stop-color="#ff1a00"/><stop offset=".655" stop-color="#ff2200"/><stop offset=".731" stop-color="#ff7e00"/><stop offset=".743" stop-color="#ff9400"/><stop offset=".775" stop-color="#ffdb00"/><stop offset=".784" stop-color="#fbf100"/><stop offset=".789" stop-color="#e7ff0f"/><stop offset=".82" stop-color="#7dff7a"/><stop offset=".841" stop-color="#16ffe1"/><stop offset=".846" stop-color="#00e0fb"/><stop offset=".871" stop-color="#0044ff"/><stop offset=".878" stop-color="#0000ff"/><stop offset=".885" stop-color="#000080"/><stop offset="1" stop-color="#000080"/></linearGradient><linearGradient id="h95" x2="0" y2="1"><stop offset="0" stop-color="#e1ff16"/><stop offset=".075" stop-color="#f1fc06"/><stop offset=".136" stop-color="#ffe600"/><stop offset=".192" stop-color="#ffd000"/><stop offset=".404" stop-color="#ff6c00"/><stop offset=".585" stop-color="#ff1600"/><stop offset=".663" stop-color="#ff1e00"/><stop offset=".743" stop-color="#ff8900"/><stop offset=".785" stop-color="#feed00"/><stop offset=".79" stop-color="#ebff0c"/><stop offset=".822" stop-color="#7dff7a"/><stop offset=".843" stop-color="#16ffe1"/><stop offset=".848" stop-color="#00e0fb"/><stop offset=".874" stop-color="#0030ff"/><stop offset=".876" stop-color="#0024ff"/><stop offset=".878" stop-color="#0008ff"/><stop offset=".879" stop-color="#0000fa"/><stop offset=".885" stop-color="#000092"/><stop offset=".886" stop-color="#000080"/><stop offset="1" stop-color="#000080"/></linearGradient><linearGradient id="h96" x2="0" y2="1"><stop offset="0" stop-color="#eeff09"/><stop offset=".106" stop-color="#ffe600"/><stop offset=".176" stop-color="#ffd300"/><stop offset=".404" stop-color="#ff6c00"/><stop offset=".587" stop-color="#ff1600"/><stop offset=".662" stop-color="#ff1a00"/><stop offset=".742" stop-color="#ff8600"/><stop offset=".785" stop-color="#ffea00"/><stop offset=".79" stop-color="#f1fc06"/><stop offset=".824" stop-color="#7dff7a"/><stop offset=".844" stop-color="#13fce4"/><stop offset=".85" stop-color="#00dcfe"/><stop offset=".876" stop-color="#002cff"/><stop offset=".879" stop-color="#0000ff"/><stop offset=".881" stop-color="#0000ed"/><stop offset=".886" stop-color="#000084"/><stop offset="1" stop-color="#000080"/></linearGradient><linearGradient id="h97" x2="0" y2="1"><stop offset="0" stop-color="#f4f802"/><stop offset=".108" stop-color="#ffe200"/><stop offset=".221" stop-color="#ffb900"/><stop offset=".397" stop-color="#ff6f00"/><stop offset=".592" stop-color="#ff1600"/><stop offset=".662" stop-color="#ff1e00"/><stop offset=".728" stop-color="#ff7300"/><stop offset=".759" stop-color="#ffae00"/><stop offset=".789" stop-color="#fbf100"/><stop offset=".796" stop-color="#e4ff13"/><stop offset=".825" stop-color="#7dff7a"/><stop offset=".844" stop-color="#19ffde"/><stop offset=".85" stop-color="#00e0fb"/><stop offset=".874" stop-color="#003cff"/><stop offset=".876" stop-color="#0034ff"/><stop offset=".881" stop-color="#0000ff"/><stop offset=".888" stop-color="#000080"/><stop offset="1" stop-color="#000080"/></linearGradient><linearGradient id="h98" x2="0" y2="1"><stop offset="0" stop-color="#fbf100"/><stop offset=".092" stop-color="#ffe200"/><stop offset=".265" stop-color="#ffa300"/><stop offset=".439" stop-color="#ff6000"/><stop offset=".594" stop-color="#ff1a00"/><stop offset=".663" stop-color="#ff2200"/><stop offset=".728" stop-color="#ff7300"/><stop offset=".79" stop-color="#fbf100"/><stop offset=".796" stop-color="#e7ff0f"/><stop offset=".825" stop-color="#87ff70"/><stop offset=".846" stop-color="#13fce4"/><stop offset=".85" stop-color="#00e4f8"/><stop offset=".855" stop-color="#00c0ff"/><stop offset=".874" stop-color="#0040ff"/><stop offset=".879" stop-color="#0020ff"/><stop offset=".881" stop-color="#0008ff"/><stop offset=".883" stop-color="#0000fa"/><stop offset=".888" stop-color="#000096"/><stop offset=".89" stop-color="#000080"/><stop offset="1" stop-color="#000080"/></linearGradient><linearGradient id="h99" x2="0" y2="1"><stop offset="0" stop-color="#feed00"/><stop offset=".082" stop-color="#ffe200"/><stop offset=".268" stop-color="#ff9f00"/><stop offset=".475" stop-color="#ff5200"/><stop offset=".599" stop-color="#ff1a00"/><stop offset=".662" stop-color="#ff2200"/><stop offset=".724" stop-color="#ff6f00"/><stop offset=".79" stop-color="#feed00"/><stop offset=".796" stop-color="#ebff0c"/><stop offset=".827" stop-color="#83ff73"/><stop offset=".846" stop-color="#16ffe1"/><stop offset=".851" stop-color="#00dcfe"/><stop offset=".872" stop-color="#0048ff"/><stop offset=".879" stop-color="#002cff"/><stop offset=".883" stop-color="#0000ff"/><stop offset=".886" stop-color="#0000c8"/><stop offset=".89" stop-color="#000084"/><stop offset="1" stop-color="#000080"/></linearGradient><linearGradient id="h100" x2="0" y2="1"><stop offset="0" stop-color="#feed00"/><stop offset=".082" stop-color="#ffe200"/><stop offset=".268" stop-color="#ff9f00"/><stop offset=".475" stop-color="#ff5200"/><stop offset=".599" stop-color="#ff1a00"/><stop offset=".662" stop-color="#ff2200"/><stop offset=".724" stop-color="#ff6f00"/><stop offset=".79" stop-color="#feed00"/><stop offset=".796" stop-color="#ebff0c"/><stop offset=".827" stop-color="#83ff73"/><stop offset=".846" stop-color="#16ffe1"/><stop offset=".851" stop-color="#00dcfe"/><stop offset=".872" stop-color="#0048ff"/><stop offset=".879" stop-color="#002cff"/><stop offset=".883" stop-color="#0000ff"/><stop offset=".886" stop-color="#0000c8"/><stop offset=".89" stop-color="#000084"/><stop offset="1" stop-color="#000080"/></linearGradient></defs><rect x="143.964" y="120.55" width="0.036" height="206.76" fill="url(#h0)"/><rect x="144.000" y="120.55" width="7.200" height="206.76" fill="url(#h0)"/><rect x="144.000" y="120.55" width="7.200" height="206.76" fill="url(#h1)" mask="url(#hm)"/><rect x="151.200" y="120.55" width="0.720" height="206.76" fill="url(#h1)"/><rect x="151.200" y="120.55" width="0.720" height="206.76" fill="url(#h2)" mask="url(#hm)"/><rect x="151.920" y="120.55" width="0.720" height="206.76" fill="url(#h2)"/><rect x="151.920" y="120.55" width="0.720" height="206.76" fill="url(#h3)" mask="url(#hm)"/><rect x="152.640" y="120.55" width="0.720" height="206.76" fill="url(#h3)"/><rect x="152.640" y="120.55" width="0.720" height="206.76" fill="url(#h4)" mask="url(#hm)"/><rect x="153.360" y="120.55" width="0.720" height="206.76" fill="url(#h4)"/><rect x="153.360" y="120.55" width="0.720" height="206.76" fill="url(#h5)" mask="url(#hm)"/><rect x="154.080" y="120.55" width="0.720" height="206.76" fill="url(#h5)"/><rect x="154.080" y="120.55" width="0.720" height="206.76" fill="url(#h6)" mask="url(#hm)"/><rect x="154.800" y="120.55" width="20.880" height="206.76" fill="url(#h6)"/><rect x="154.800" y="120.55" width="20.880" height="206.76" fill="url(#h7)" mask="url(#hm)"/><rect x="175.680" y="120.55" width="0.720" height="206.76" fill="url(#h7)"/><rect x="175.680" y="120.55" width="0.720" height="206.76" fill="url(#h8)" mask="url(#hm)"/><rect x="176.400" y="120.55" width="0.720" height="206.76" fill="url(#h8)"/><rect x="176.400" y="120.55" width="0.720" height="206.76" fill="url(#h9)" mask="url(#hm)"/><rect x="177.120" y="120.55" width="0.720" height="206.76" fill="url(#h9)"/><rect x="177.120" y="120.55" width="0.720" height="206.76" fill="url(#h10)" mask="url(#hm)"/><rect x="177.840" y="120.55" width="2.880" height="206.76" fill="url(#h10)"/><rect x="177.840" y="120.55" width="2.880" height="206.76" fill="url(#h11)" mask="url(#hm)"/><rect x="180.720" y="120.55" width="2.160" height="206.76" fill="url(#h11)"/><rect x="180.720" y="120.55" width="2.160" height="206.76" fill="url(#h12)" mask="url(#hm)"/><rect x="182.880" y="120.55" width="1.440" height="206.76" fill="url(#h12)"/><rect x="182.880" y="120.55" width="1.440" height="206.76" fill="url(#h13)" mask="url(#hm)"/><rect x="184.320" y="120.55" width="0.720" height="206.76" fill="url(#h13)"/><rect x="184.320" y="120.55" width="0.720" height="206.76" fill="url(#h14)" mask="url(#hm)"/><rect x="185.040" y="120.55" width="0.720" height="206.76" fill="url(#h14)"/><rect x="185.040" y="120.55" width="0.720" height="206.76" fill="url(#h15)" mask="url(#hm)"/><rect x="185.760" y="120.55" width="2.880" height="206.76" fill="url(#h15)"/><rect x="185.760" y="120.55" width="2.880" height="206.76" fill="url(#h16)" mask="url(#hm)"/><rect x="188.640" y="120.55" width="0.720" height="206.76" fill="url(#h16)"/><rect x="188.640" y="120.55" width="0.720" height="206.76" fill="url(#h17)" mask="url(#hm)"/><rect x="189.360" y="120.55" width="0.720" height="206.76" fill="url(#h17)"/><rect x="189.360" y="120.55" width="0.720" height="206.76" fill="url(#h18)" mask="url(#hm)"/><rect x="190.080" y="120.55" width="0.720" height="206.76" fill="url(#h18)"/><rect x="190.080" y="120.55" width="0.720" height="206.76" fill="url(#h19)" mask="url(#hm)"/><rect x="190.800" y="120.55" width="0.720" height="206.76" fill="url(#h19)"/><rect x="190.800" y="120.55" width="0.720" height="206.76" fill="url(#h20)" mask="url(#hm)"/><rect x="191.520" y="120.55" width="2.160" height="206.76" fill="url(#h20)"/><rect x="191.520" y="120.55" width="2.160" height="206.76" fill="url(#h21)" mask="url(#hm)"/><rect x="193.680" y="120.55" width="0.720" height="206.76" fill="url(#h21)"/><rect x="193.680" y="120.55" width="0.720" height="206.76" fill="url(#h22)" mask="url(#hm)"/><rect x="194.400" y="120.55" width="10.080" height="206.76" fill="url(#h22)"/><rect x="194.400" y="120.55" width="10.080" height="206.76" fill="url(#h23)" mask="url(#hm)"/><rect x="204.480" y="120.55" width="87.120" height="206.76" fill="url(#h23)"/><rect x="204.480" y="120.55" width="87.120" height="206.76" fill="url(#h24)" mask="url(#hm)"/><rect x="291.600" y="120.55" width="25.200" height="206.76" fill="url(#h24)"/><rect x="291.600" y="120.55" width="25.200" height="206.76" fill="url(#h25)" mask="url(#hm)"/><rect x="316.800" y="120.55" width="23.040" height="206.76" fill="url(#h25)"/><rect x="316.800" y="120.55" width="23.040" height="206.76" fill="url(#h26)" mask="url(#hm)"/><rect x="339.840" y="120.55" width="33.120" height="206.76" fill="url(#h26)"/><rect x="339.840" y="120.55" width="33.120" height="206.76" fill="url(#h27)" mask="url(#hm)"/><rect x="372.960" y="120.55" width="5.760" height="206.76" fill="url(#h27)"/><rect x="372.960" y="120.55" width="5.760" height="206.76" fill="url(#h28)" mask="url(#hm)"/><rect x="378.720" y="120.55" width="3.600" height="206.76" fill="url(#h28)"/><rect x="378.720" y="120.55" width="3.600" height="206.76" fill="url(#h29)" mask="url(#hm)"/><rect x="382.320" y="120.55" width="16.560" height="206.76" fill="url(#h29)"/><rect x="382.320" y="120.55" width="16.560" height="206.76" fill="url(#h30)" mask="url(#hm)"/><rect x="398.880" y="120.55" width="0.720" height="206.76" fill="url(#h30)"/><rect x="398.880" y="120.55" width="0.720" height="206.76" fill="url(#h31)" mask="url(#hm)"/><rect x="399.600" y="120.55" width="1.440" height="206.76" fill="url(#h31)"/><rect x="399.600" y="120.55" width="1.440" height="206.76" fill="url(#h32)" mask="url(#hm)"/><rect x="401.040" y="120.55" width="0.720" height="206.76" fill="url(#h32)"/><rect x="401.040" y="120.55" width="0.720" height="206.76" fill="url(#h33)" mask="url(#hm)"/><rect x="401.760" y="120.55" width="0.720" height="206.76" fill="url(#h33)"/><rect x="401.760" y="120.55" width="0.720" height="206.76" fill="url(#h34)" mask="url(#hm)"/><rect x="402.480" y="120.55" width="0.720" height="206.76" fill="url(#h34)"/><rect x="402.480" y="120.55" width="0.720" height="206.76" fill="url(#h35)" mask="url(#hm)"/><rect x="403.200" y="120.55" width="0.720" height="206.76" fill="url(#h35)"/><rect x="403.200" y="120.55" width="0.720" height="206.76" fill="url(#h36)" mask="url(#hm)"/><rect x="403.920" y="120.55" width="0.720" height="206.76" fill="url(#h36)"/><rect x="403.920" y="120.55" width="0.720" height="206.76" fill="url(#h37)" mask="url(#hm)"/><rect x="404.640" y="120.55" width="0.720" height="206.76" fill="url(#h37)"/><rect x="404.640" y="120.55" width="0.720" height="206.76" fill="url(#h38)" mask="url(#hm)"/><rect x="405.360" y="120.55" width="0.720" height="206.76" fill="url(#h38)"/><rect x="405.360" y="120.55" width="0.720" height="206.76" fill="url(#h39)" mask="url(#hm)"/><rect x="406.080" y="120.55" width="0.720" height="206.76" fill="url(#h39)"/><rect x="406.080" y="120.55" width="0.720" height="206.76" fill="url(#h40)" mask="url(#hm)"/><rect x="406.800" y="120.55" width="1.440" height="206.76" fill="url(#h40)"/><rect x="406.800" y="120.55" width="1.440" height="206.76" fill="url(#h41)" mask="url(#hm)"/><rect x="408.240" y="120.55" width="8.640" height="206.76" fill="url(#h41)"/><rect x="408.240" y="120.55" width="8.640" height="206.76" fill="url(#h42)" mask="url(#hm)"/><rect x="416.880" y="120.55" width="0.720" height="206.76" fill="url(#h42)"/><rect x="416.880" y="120.55" width="0.720" height="206.76" fill="url(#h43)" mask="url(#hm)"/><rect x="417.600" y="120.55" width="0.720" height="206.76" fill="url(#h43)"/><rect x="417.600" y="120.55" width="0.720" height="206.76" fill="url(#h44)" mask="url(#hm)"/><rect x="418.320" y="120.55" width="0.720" height="206.76" fill="url(#h44)"/><rect x="418.320" y="120.55" width="0.720" height="206.76" fill="url(#h45)" mask="url(#hm)"/><rect x="419.040" y="120.55" width="0.720" height="206.76" fill="url(#h45)"/><rect x="419.040" y="120.55" width="0.720" height="206.76" fill="url(#h46)" mask="url(#hm)"/><rect x="419.760" y="120.55" width="0.720" height="206.76" fill="url(#h46)"/><rect x="419.760" y="120.55" width="0.720" height="206.76" fill="url(#h47)" mask="url(#hm)"/><rect x="420.480" y="120.55" width="8.640" height="206.76" fill="url(#h47)"/><rect x="420.480" y="120.55" width="8.640" height="206.76" fill="url(#h48)" mask="url(#hm)"/><rect x="429.120" y="120.55" width="0.720" height="206.76" fill="url(#h48)"/><rect x="429.120" y="120.55" width="0.720" height="206.76" fill="url(#h49)" mask="url(#hm)"/><rect x="429.840" y="120.55" width="0.720" height="206.76" fill="url(#h49)"/><rect x="429.840" y="120.55" width="0.720" height="206.76" fill="url(#h50)" mask="url(#hm)"/><rect x="430.560" y="120.55" width="0.720" height="206.76" fill="url(#h50)"/><rect x="430.560" y="120.55" width="0.720" height="206.76" fill="url(#h51)" mask="url(#hm)"/><rect x="431.280" y="120.55" width="0.720" height="206.76" fill="url(#h51)"/><rect x="431.280" y="120.55" width="0.720" height="206.76" fill="url(#h52)" mask="url(#hm)"/><rect x="432.000" y="120.55" width="0.720" height="206.76" fill="url(#h52)"/><rect x="432.000" y="120.55" width="0.720" height="206.76" fill="url(#h53)" mask="url(#hm)"/><rect x="432.720" y="120.55" width="0.720" height="206.76" fill="url(#h53)"/><rect x="432.720" y="120.55" width="0.720" height="206.76" fill="url(#h54)" mask="url(#hm)"/><rect x="433.440" y="120.55" width="0.720" height="206.76" fill="url(#h54)"/><rect x="433.440" y="120.55" width="0.720" height="206.76" fill="url(#h55)" mask="url(#hm)"/><rect x="434.160" y="120.55" width="0.720" height="206.76" fill="url(#h55)"/><rect x="434.160" y="120.55" width="0.720" height="206.76" fill="url(#h56)" mask="url(#hm)"/><rect x="434.880" y="120.55" width="0.720" height="206.76" fill="url(#h56)"/><rect x="434.880" y="120.55" width="0.720" height="206.76" fill="url(#h57)" mask="url(#hm)"/><rect x="435.600" y="120.55" width="0.720" height="206.76" fill="url(#h57)"/><rect x="435.600" y="120.55" width="0.720" height="206.76" fill="url(#h58)" mask="url(#hm)"/><rect x="436.320" y="120.55" width="0.720" height="206.76" fill="url(#h58)"/><rect x="436.320" y="120.55" width="0.720" height="206.76" fill="url(#h59)" mask="url(#hm)"/><rect x="437.040" y="120.55" width="0.720" height="206.76" fill="url(#h59)"/><rect x="437.040" y="120.55" width="0.720" height="206.76" fill="url(#h60)" mask="url(#hm)"/><rect x="437.760" y="120.55" width="3.600" height="206.76" fill="url(#h60)"/><rect x="437.760" y="120.55" width="3.600" height="206.76" fill="url(#h61)" mask="url(#hm)"/><rect x="441.360" y="120.55" width="3.600" height="206.76" fill="url(#h61)"/><rect x="441.360" y="120.55" width="3.600" height="206.76" fill="url(#h62)" mask="url(#hm)"/><rect x="444.960" y="120.55" width="3.600" height="206.76" fill="url(#h62)"/><rect x="444.960" y="120.55" width="3.600" height="206.76" fill="url(#h63)" mask="url(#hm)"/><rect x="448.560" y="120.55" width="2.880" height="206.76" fill="url(#h63)"/><rect x="448.560" y="120.55" width="2.880" height="206.76" fill="url(#h64)" mask="url(#hm)"/><rect x="451.440" y="120.55" width="2.880" height="206.76" fill="url(#h64)"/><rect x="451.440" y="120.55" width="2.880" height="206.76" fill="url(#h65)" mask="url(#hm)"/><rect x="454.320" y="120.55" width="3.600" height="206.76" fill="url(#h65)"/><rect x="454.320" y="120.55" width="3.600" height="206.76" fill="url(#h66)" mask="url(#hm)"/><rect x="457.920" y="120.55" width="2.880" height="206.76" fill="url(#h66)"/><rect x="457.920" y="120.55" width="2.880" height="206.76" fill="url(#h67)" mask="url(#hm)"/><rect x="460.800" y="120.55" width="2.880" height="206.76" fill="url(#h67)"/><rect x="460.800" y="120.55" width="2.880" height="206.76" fill="url(#h68)" mask="url(#hm)"/><rect x="463.680" y="120.55" width="2.880" height="206.76" fill="url(#h68)"/><rect x="463.680" y="120.55" width="2.880" height="206.76" fill="url(#h69)" mask="url(#hm)"/><rect x="466.560" y="120.55" width="2.880" height="206.76" fill="url(#h69)"/><rect x="466.560" y="120.55" width="2.880" height="206.76" fill="url(#h70)" mask="url(#hm)"/><rect x="469.440" y="120.55" width="2.160" height="206.76" fill="url(#h70)"/><rect x="469.440" y="120.55" width="2.160" height="206.76" fill="url(#h71)" mask="url(#hm)"/><rect x="471.600" y="120.55" width="2.880" height="206.76" fill="url(#h71)"/><rect x="471.600" y="120.55" width="2.880" height="206.76" fill="url(#h72)" mask="url(#hm)"/><rect x="474.480" y="120.55" width="1.440" height="206.76" fill="url(#h72)"/><rect x="474.480" y="120.55" width="1.440" height="206.76" fill="url(#h73)" mask="url(#hm)"/><rect x="475.920" y="120.55" width="1.440" height="206.76" fill="url(#h73)"/><rect x="475.920" y="120.55" width="1.440" height="206.76" fill="url(#h74)" mask="url(#hm)"/><rect x="477.360" y="120.55" width="1.440" height="206.76" fill="url(#h74)"/><rect x="477.360" y="120.55" width="1.440" height="206.76" fill="url(#h75)" mask="url(#hm)"/><rect x="478.800" y="120.55" width="1.440" height="206.76" fill="url(#h75)"/><rect x="478.800" y="120.55" width="1.440" height="206.76" fill="url(#h76)" mask="url(#hm)"/><rect x="480.240" y="120.55" width="2.160" height="206.76" fill="url(#h76)"/><rect x="480.240" y="120.55" width="2.160" height="206.76" fill="url(#h77)" mask="url(#hm)"/><rect x="482.400" y="120.55" width="2.160" height="206.76" fill="url(#h77)"/><rect x="482.400" y="120.55" width="2.160" height="206.76" fill="url(#h78)" mask="url(#hm)"/><rect x="484.560" y="120.55" width="2.160" height="206.76" fill="url(#h78)"/><rect x="484.560" y="120.55" width="2.160" height="206.76" fill="url(#h79)" mask="url(#hm)"/><rect x="486.720" y="120.55" width="2.160" height="206.76" fill="url(#h79)"/><rect x="486.720" y="120.55" width="2.160" height="206.76" fill="url(#h80)" mask="url(#hm)"/><rect x="488.880" y="120.55" width="1.440" height="206.76" fill="url(#h80)"/><rect x="488.880" y="120.55" width="1.440" height="206.76" fill="url(#h81)" mask="url(#hm)"/><rect x="490.320" y="120.55" width="2.160" height="206.76" fill="url(#h81)"/><rect x="490.320" y="120.55" width="2.160" height="206.76" fill="url(#h82)" mask="url(#hm)"/><rect x="492.480" y="120.55" width="2.160" height="206.76" fill="url(#h82)"/><rect x="492.480" y="120.55" width="2.160" height="206.76" fill="url(#h83)" mask="url(#hm)"/><rect x="494.640" y="120.55" width="2.160" height="206.76" fill="url(#h83)"/><rect x="494.640" y="120.55" width="2.160" height="206.76" fill="url(#h84)" mask="url(#hm)"/><rect x="496.800" y="120.55" width="1.440" height="206.76" fill="url(#h84)"/><rect x="496.800" y="120.55" width="1.440" height="206.76" fill="url(#h85)" mask="url(#hm)"/><rect x="498.240" y="120.55" width="1.440" height="206.76" fill="url(#h85)"/><rect x="498.240" y="120.55" width="1.440" height="206.76" fill="url(#h86)" mask="url(#hm)"/><rect x="499.680" y="120.55" width="2.880" height="206.76" fill="url(#h86)"/><rect x="499.680" y="120.55" width="2.880" height="206.76" fill="url(#h87)" mask="url(#hm)"/><rect x="502.560" y="120.55" width="1.440" height="206.76" fill="url(#h87)"/><rect x="502.560" y="120.55" width="1.440" height="206.76" fill="url(#h88)" mask="url(#hm)"/><rect x="504.000" y="120.55" width="4.320" height="206.76" fill="url(#h88)"/><rect x="504.000" y="120.55" width="4.320" height="206.76" fill="url(#h89)" mask="url(#hm)"/><rect x="508.320" y="120.55" width="5.760" height="206.76" fill="url(#h89)"/><rect x="508.320" y="120.55" width="5.760" height="206.76" fill="url(#h90)" mask="url(#hm)"/><rect x="514.080" y="120.55" width="5.040" height="206.76" fill="url(#h90)"/><rect x="514.080" y="120.55" width="5.040" height="206.76" fill="url(#h91)" mask="url(#hm)"/><rect x="519.120" y="120.55" width="2.880" height="206.76" fill="url(#h91)"/><rect x="519.120" y="120.55" width="2.880" height="206.76" fill="url(#h92)" mask="url(#hm)"/><rect x="522.000" y="120.55" width="7.200" height="206.76" fill="url(#h92)"/><rect x="522.000" y="120.55" width="7.200" height="206.76" fill="url(#h93)" mask="url(#hm)"/><rect x="529.200" y="120.55" width="8.640" height="206.76" fill="url(#h93)"/><rect x="529.200" y="120.55" width="8.640" height="206.76" fill="url(#h94)" mask="url(#hm)"/><rect x="537.840" y="120.55" width="7.920" height="206.76" fill="url(#h94)"/><rect x="537.840" y="120.55" width="7.920" height="206.76" fill="url(#h95)" mask="url(#hm)"/><rect x="545.760" y="120.55" width="10.800" height="206.76" fill="url(#h95)"/><rect x="545.760" y="120.55" width="10.800" height="206.76" fill="url(#h96)" mask="url(#hm)"/><rect x="556.560" y="120.55" width="17.280" height="206.76" fill="url(#h96)"/><rect x="556.560" y="120.55" width="17.280" height="206.76" fill="url(#h97)" mask="url(#hm)"/><rect x="573.840" y="120.55" width="13.680" height="206.76" fill="url(#h97)"/><rect x="573.840" y="120.55" width="13.680" height="206.76" fill="url(#h98)" mask="url(#hm)"/><rect x="587.520" y="120.55" width="14.400" height="206.76" fill="url(#h98)"/><rect x="587.520" y="120.55" width="14.400" height="206.76" fill="url(#h99)" mask="url(#hm)"/><rect x="601.920" y="120.55" width="56.160" height="206.76" fill="url(#h99)"/><rect x="601.920" y="120.55" width="56.160" height="206.76" fill="url(#h100)" mask="url(#hm)"/><rect x="658.080" y="120.55" width="0.072" height="206.76" fill="url(#h100)"/></g>
<g id="patch_3">
<path d="M 152.3 90.7 L 155.5 90.7 L 155.5 79.2 L 152.3 79.2 z" clip-path="url(#pc901e4b956)" style="fill: #ffffff"/>
</g>
<g id="patch_4">
<path d="M 153.4 132.8 L 155.5 132.8 L 155.5 79.2 L 153.4 79.2 z" clip-path="url(#pc901e4b956)" style="fill: #ffffff"/>
</g>
<g id="patch_5">
<path d="M 156.1 93.6 L 157.7 93.6 L 157.7 79.2 L 156.1 79.2 z" clip-path="url(#pc901e4b956)" style="fill: #ffffff"/>
</g>
<g id="patch_6">
<path d="M 173.4 129.6 L 175 129.6 L 175 79.2 L 173.4 79.2 z" clip-path="url(#pc901e4b956)" style="fill: #ffffff"/>
</g>
<g id="patch_7">
<path d="M 176.4 110.2 L 180.7 110.2 L 180.7 79.2 L 176.4 79.2 z" clip-path="url(#pc901e4b956)" style="fill: #ffffff"/>
</g>
<g id="patch_8">
<path d="M 178.4 150.5 L 180.7 150.5 L 180.7 79.2 L 178.4 79.2 z" clip-path="url(#pc901e4b956)" style="fill: #ffffff"/>
</g>
<g id="patch_9">
<path d="M 183.2 145.8 L 185.2 145.8 L 185.2 79.2 L 183.2 79.2 z" clip-path="url(#pc901e4b956)" style="fill: #ffffff"/>
</g>
<g id="matplotlib.axis_1">
<g id="xtick_1">
<g id="line2d_1">
<defs>
<path id="mc70c0609be" d="M 0 0 L 0 -3.5" style="stroke: #000000"/>
</defs>
<g>
<use href="#mc70c0609be" x="178.74" y="327.312" style="stroke: #000000"/>
</g>
</g>
</g>
<g id="xtick_2">
<g id="line2d_2">
<g>
<use href="#mc70c0609be" x="243.0864" y="327.312" style="stroke: #000000"/>
</g>
</g>
</g>
<g id="xtick_3">
<g id="line2d_3">
<g>
<use href="#mc70c0609be" x="307.4328" y="327.312" style="stroke: #000000"/>
</g>
</g>
</g>
<g id="xtick_4">
<g id="line2d_4">
<g>
<use href="#mc70c0609be" x="371.7792" y="327.312" style="stroke: #000000"/>
</g>
</g>
</g>
<g id="xtick_5">
<g id="line2d_5">
<g>
<use href="#mc70c0609be" x="436.1256" y="327.312" style="stroke: #000000"/>
</g>
</g>
</g>
<g id="xtick_6">
<g id="line2d_6">
<g>
<use href="#mc70c0609be" x="500.472" y="327.312" style="stroke: #000000"/>
</g>
</g>
</g>
<g id="xtick_7">
<g id="line2d_7">
<g>
<use href="#mc70c0609be" x="564.8184" y="327.312" style="stroke: #000000"/>
</g>
</g>
</g>
<g id="xtick_8">
<g id="line2d_8">
<g>
<use href="#mc70c0609be" x="629.1648" y="327.312" style="stroke: #000000"/>
</g>
</g>
</g>
</g>
<g id="matplotlib.axis_2">
<g id="ytick_1">
<g id="line2d_9">
<defs>
<path id="m6d8da96a18" d="M 0 0 L 4.2 0" style="stroke: #000000"/>
</defs>
<g>
<use href="#m6d8da96a18" x="143.964" y="327.312" style="stroke: #000000"/>
</g>
</g>
<g id="line2d_10">
<defs>
<path id="me4d9d56b5a" d="M 0 0 L -3.5 0" style="stroke: #000000"/>
</defs>
<g>
<use href="#me4d9d56b5a" x="658.152" y="327.312" style="stroke: #000000"/>
</g>
</g>
<g id="text_1">
<text style="font-size: 14px; font-family: 'DejaVu Sans', sans-serif; text-anchor: end" x="140.464" y="332.630906" transform="rotate(-0 140.464 332.630906)">2</text>
</g>
</g>
<g id="ytick_2">
<g id="line2d_11">
<g>
<use href="#m6d8da96a18" x="143.964" y="285.96" style="stroke: #000000"/>
</g>
</g>
<g id="line2d_12">
<g>
<use href="#me4d9d56b5a" x="658.152" y="285.96" style="stroke: #000000"/>
</g>
</g>
<g id="text_2">
<text style="font-size: 14px; font-family: 'DejaVu Sans', sans-serif; text-anchor: end" x="140.464" y="291.278906" transform="rotate(-0 140.464 291.278906)">3</text>
</g>
</g>
<g id="ytick_3">
<g id="line2d_13">
<g>
<use href="#m6d8da96a18" x="143.964" y="244.608" style="stroke: #000000"/>
</g>
</g>
<g id="line2d_14">
<g>
<use href="#me4d9d56b5a" x="658.152" y="244.608" style="stroke: #000000"/>
</g>
</g>
<g id="text_3">
<text style="font-size: 14px; font-family: 'DejaVu Sans', sans-serif; text-anchor: end" x="140.464" y="249.926906" transform="rotate(-0 140.464 249.926906)">4</text>
</g>
</g>
<g id="ytick_4">
<g id="line2d_15">
<g>
<use href="#m6d8da96a18" x="143.964" y="203.256" style="stroke: #000000"/>
</g>
</g>
<g id="line2d_16">
<g>
<use href="#me4d9d56b5a" x="658.152" y="203.256" style="stroke: #000000"/>
</g>
</g>
<g id="text_4">
<text style="font-size: 14px; font-family: 'DejaVu Sans', sans-serif; text-anchor: end" x="140.464" y="208.574906" transform="rotate(-0 140.464 208.574906)">5</text>
</g>
</g>
<g id="ytick_5">
<g id="line2d_17">
<g>
<use href="#m6d8da96a18" x="143.964" y="161.904" style="stroke: #000000"/>
</g>
</g>
<g id="line2d_18">
<g>
<use href="#me4d9d56b5a" x="658.152" y="161.904" style="stroke: #000000"/>
</g>
</g>
<g id="text_5">
<text style="font-size: 14px; font-family: 'DejaVu Sans', sans-serif; text-anchor: end" x="140.464" y="167.222906" transform="rotate(-0 140.464 167.222906)">6</text>
</g>
</g>
<g id="ytick_6">
<g id="line2d_19">
<g>
<use href="#m6d8da96a18" x="143.964" y="120.552" style="stroke: #000000"/>
</g>
</g>
<g id="line2d_20">
<g>
<use href="#me4d9d56b5a" x="658.152" y="120.552" style="stroke: #000000"/>
</g>
</g>
<g id="text_6">
<text style="font-size: 14px; font-family: 'DejaVu Sans', sans-serif; text-anchor: end" x="140.464" y="125.870906" transform="rotate(-0 140.464 125.870906)">7</text>
</g>
</g>
<g id="ytick_7">
<g id="line2d_21">
<g>
<use href="#m6d8da96a18" x="143.964" y="79.2" style="stroke: #000000"/>
</g>
</g>
<g id="line2d_22">
<g>
<use href="#me4d9d56b5a" x="658.152" y="79.2" style="stroke: #000000"/>
</g>
</g>
<g id="text_7">
<text style="font-size: 14px; font-family: 'DejaVu Sans', sans-serif; text-anchor: end" x="140.464" y="84.518906" transform="rotate(-0 140.464 84.518906)">8</text>
</g>
</g>
<g id="text_8">
<text style="font-size: 17.36px; font-family: 'DejaVu Sans', sans-serif; text-anchor: middle" x="123.946162" y="203.256" transform="rotate(-90 123.946162 203.256)">L* </text>
</g>
</g>
<g id="line2d_23">
<path d="M144 154.5l1-.4 2.9-.6 .7-.4 1.1-1 1.5-1.8 1.8-2.2 3.6-3.7 1-1.8 1.5-2.5 .7-.8 .4-.1 .7 0 .7 .4 2.9 1.9 .7 .2 .7 0 .7-.2 1.1-.7 2.2-1.4 .7-.2 .7-.1 .7 .3 .8 .6 .7 .9 1.1 2 3.2 6.5 1.1 1.6 1.1 1.1 1 .6 1.1 .4 3.6 1.2 1.1 .7 1.4 1.2 4.4 4.2 1 .7 1.1 .3 1.1 .1 3.6 .1 1.4 .2 .8-.1 .7-.4 .7-.7 1.1-1.3 2.5-3.5 1.1-1 .7-.4 1.1-.4 2.5-.5 .7-.3 1.1-1 1.4-1.7 2.2-2.6 3.2-3.3 1.1-1.7 1.5-2.6 .7-.9 .3-.2 .8 0 .7 .3 1.1 .8 1 .8 1.1 .5 .7 .1 .8-.1 .7-.3 1.4-.9 1.5-.9 .7-.3 .7-.1 .7 .2 .7 .5 .8 .9 1 1.9 3.6 7.2 1.1 1.5 1.1 .9 1.1 .6 1.4 .5 2.5 .7 1.1 .6 1.1 .8 1.8 1.8 2.5 2.5 1.5 1.1 1 .5 1.1 .2 1.5 0 1.8 0 2.5 .3 .7-.2 .7-.5 .7-.7 1.1-1.5 2.2-3 1.1-1 .7-.5 1.1-.3 2.8-.7 .8-.4 1-1.1 1.8-2.2 1.5-1.7 3.6-3.7 1.1-1.9 1.4-2.5 .7-.6 .7-.2 .8 .3 1 .8 1.5 1.1 .7 .3 .7 .1 .7 0 .8-.3 1-.6 2.2-1.4 .7-.3 .7 0 .8 .3 .7 .7 .7 1 1.1 2 2.9 5.9 1 1.7 1.1 1.2 1.1 .7 1.1 .5 3.9 1.2 1.1 .7 1.5 1.3 3.9 3.9 1.1 .7 1.1 .5 1.1 .1 2.1 0 1.5 .1 1.4 .2 .7-.1 .7-.2 .8-.6 1-1.3 2.9-3.9 1.1-1 .7-.4 1.1-.3 2.2-.4 .7-.3 .7-.5 1.1-1.1 3.9-4.6 1.8-1.8 1.1-1.4 1.1-1.9 1.1-1.9 .7-.8 .4-.1 .7 0 .7 .3 2.9 2 .7 .2 .7 0 .7-.2 1.1-.7 2.2-1.4 .7-.2 .7-.1 .7 .3 .8 .5 .7 1 1.1 2 3.2 6.5 1.1 1.6 1.1 1 1 .7 1.1 .4 3.6 1.2 1.1 .6 1.4 1.3 4.4 4.2 1 .6 1.1 .4 1.1 .1 3.6 .1 1.4 .2 .8-.1 .7-.4 .7-.6 1.1-1.4 2.5-3.5 1.1-1 .7-.4 1.1-.4 2.5-.4 .7-.4 .7-.6 1.1-1.2 3.3-3.8 2.5-2.5 1.1-1.6 2.1-3.7 .7-.6 .8 0 .7 .3 1.1 .8 1 .8 1.1 .5 .7 .1 .8-.1 .7-.2 1.1-.7 1.8-1.2 .7-.3 .7-.1 .7 .2 .7 .5 .8 .9 1 1.9 3.6 7.2 1.1 1.4 1.1 1 1.1 .6 1.4 .5 2.5 .7 1.1 .6 1.1 .8 1.8 1.8 2.5 2.5 1.5 1.1 1 .5 1.1 .2 1.5 0 1.8 0 2.5 .3 .7-.2 .7-.5 .7-.7 1.1-1.4 2.2-3 1.1-1.1 .7-.5 1.1-.3 2.8-.6 .8-.5 1-1 1.8-2.2 1.5-1.7 3.6-3.8 1.1-1.8 1.4-2.5 .7-.7 .7-.2 .8 .3 1 .8 1.5 1.1 .7 .3 .7 .1 .7 0 .8-.3 1-.6 2.2-1.4 .7-.3 .7 0 .8 .3 .7 .7 .7 1 1.1 2 3.2 6.5 1.1 1.5 1.1 1 1.1 .7 1.4 .5 2.5 .7 1.1 .5 1.1 .8 1.4 1.4 3.3 3.2 1 .8 1.1 .5 1.1 .3 1.4 0 1.8 0 2.9 .2 .7-.2 .8-.6 1-1.2 2.9-4 1.1-1 .7-.4 1.1-.3 2.2-.4 .7-.3 .7-.5 1.1-1.1 3.9-4.6 1.8-1.7 1.1-1.5 1.1-1.9 1.1-1.9 .7-.7 .4-.2 .7 0 .7 .3 2.9 2 .7 .2 .7 0 .7-.2 1.1-.6 2.2-1.5 .7-.2 .7-.1 .7 .3 .8 .5 .7 1 1.1 1.9 3.2 6.5 1.1 1.6 1.1 1.1 1 .7 1.1 .4 3.6 1.2 1.1 .6 1.4 1.3 4.4 4.1 1 .7 1.1 .4 1.1 .1 3.6 .1 1.4 .2 .8-.1 .7-.4 .7-.6 1.1-1.4 2.5-3.5 1.1-1 .7-.4 1.1-.4 2.5-.4 .7-.4 .7-.6 1.1-1.2 3.3-3.8 2.5-2.5 1.1-1.5 2.1-3.8 .7-.6 .8-.1 .7 .3 1.1 .9 1 .8 1.1 .5 .7 .1 .8-.1 .7-.2 1.1-.7 1.8-1.2 .7-.3 .7-.1 .7 .2 .7 .5 .8 .9 1 1.9 3.6 7.1 1.1 1.5 1.1 1 1.1 .6 1.4 .5 2.5 .7 1.1 .6 1.1 .8 1.8 1.8 2.5 2.5 1.5 1.1 1 .5 1.1 .2 1.5 0 1.8 0 2.5 .3 .7-.2 .7-.4 .7-.8 1.1-1.4 2.2-3 1.1-1.1 .7-.5 .7-.2" clip-path="url(#pc901e4b956)" style="fill: none; stroke-dasharray: 5.55,2.4; stroke-dashoffset: 0; stroke: #000000; stroke-width: 1.5"/>
</g>
<g id="line2d_24">
<path d="M 594 327.3 L 594 79.2" clip-path="url(#pc901e4b956)" style="fill: none; stroke-dasharray: 1.5,2.475; stroke-dashoffset: 0; stroke: #1f77b4; stroke-width: 1.5"/>
</g>
<g id="line2d_25">
<path d="M 165.6 86.4 L 165.6 79.2" clip-path="url(#pc901e4b956)" style="fill: none; stroke: #000000; stroke-width: 2.95"/>
</g>
<g id="line2d_26">
<path d="M 197.3 86.4 L 197.3 79.2" clip-path="url(#pc901e4b956)" style="fill: none; stroke: #ff0000; stroke-width: 2.95"/>
</g>
<g id="line2d_27">
<path d="M 229.8 86.4 L 229.8 79.2" clip-path="url(#pc901e4b956)" style="fill: none; stroke: #000000; stroke-width: 2.95"/>
</g>
<g id="line2d_28">
<path d="M 261.5 86.4 L 261.5 79.2" clip-path="url(#pc901e4b956)" style="fill: none; stroke: #ff0000; stroke-width: 2.95"/>
</g>
<g id="line2d_29">
<path d="M 294 86.4 L 294 79.2" clip-path="url(#pc901e4b956)" style="fill: none; stroke: #000000; stroke-width: 2.95"/>
</g>
<g id="line2d_30">
<path d="M 325.7 86.4 L 325.7 79.2" clip-path="url(#pc901e4b956)" style="fill: none; stroke: #ff0000; stroke-width: 2.95"/>
</g>
<g id="line2d_31">
<path d="M 358.3 86.4 L 358.3 79.2" clip-path="url(#pc901e4b956)" style="fill: none; stroke: #000000; stroke-width: 2.95"/>
</g>
<g id="line2d_32">
<path d="M 390 86.4 L 390 79.2" clip-path="url(#pc901e4b956)" style="fill: none; stroke: #ff0000; stroke-width: 2.95"/>
</g>
<g id="line2d_33">
<path d="M 422.5 86.4 L 422.5 79.2" clip-path="url(#pc901e4b956)" style="fill: none; stroke: #000000; stroke-width: 2.95"/>
</g>
<g id="line2d_34">
<path d="M 454.2 86.4 L 454.2 79.2" clip-path="url(#pc901e4b956)" style="fill: none; stroke: #ff0000; stroke-width: 2.95"/>
</g>
<g id="line2d_35">
<path d="M 486.7 86.4 L 486.7 79.2" clip-path="url(#pc901e4b956)" style="fill: none; stroke: #000000; stroke-width: 2.95"/>
</g>
<g id="line2d_36">
<path d="M 518.4 86.4 L 518.4 79.2" clip-path="url(#pc901e4b956)" style="fill: none; stroke: #ff0000; stroke-width: 2.95"/>
</g>
<g id="line2d_37">
<path d="M 550.9 86.4 L 550.9 79.2" clip-path="url(#pc901e4b956)" style="fill: none; stroke: #000000; stroke-width: 2.95"/>
</g>
<g id="line2d_38">
<path d="M 582.6 86.4 L 582.6 79.2" clip-path="url(#pc901e4b956)" style="fill: none; stroke: #ff0000; stroke-width: 2.95"/>
</g>
<g id="text_9">
<text style="font-size: 46px; font-family: 'DejaVu Sans', sans-serif; opacity: 0.11" transform="translate(639.705125 304.873438) rotate(-90)">Forecast</text>
</g>
<g id="patch_10">
<path d="M 144 327.3 L 144 79.2" style="fill: none; stroke: #000000; stroke-width: 1.5; stroke-linejoin: miter; stroke-linecap: square"/>
</g>
<g id="patch_11">
<path d="M 658.2 327.3 L 658.2 79.2" style="fill: none; stroke: #000000; stroke-width: 1.5; stroke-linejoin: miter; stroke-linecap: square"/>
</g>
<g id="patch_12">
<path d="M 144 327.3 L 658.2 327.3" style="fill: none; stroke: #000000; stroke-width: 1.5; stroke-linejoin: miter; stroke-linecap: square"/>
</g>
<g id="patch_13">
<path d="M 144 79.2 L 658.2 79.2" style="fill: none; stroke: #000000; stroke-width: 1.5; stroke-linejoin: miter; stroke-linecap: square"/>
</g>
<g id="text_10">
<text style="font-size: 10px; font-family: 'DejaVu Sans', sans-serif; text-anchor: middle" x="165.6" y="100.08" transform="rotate(-0 165.6 100.08)">M</text>
</g>
<g id="text_11">
<text style="font-size: 10px; font-family: 'DejaVu Sans', sans-serif; text-anchor: middle; fill: #ff0000" x="197.28" y="100.08" transform="rotate(-0 197.28 100.08)">N</text>
</g>
<g id="text_12">
<text style="font-size: 10px; font-family: 'DejaVu Sans', sans-serif; text-anchor: middle" x="229.824" y="100.08" transform="rotate(-0 229.824 100.08)">M</text>
</g>
<g id="text_13">
<text style="font-size: 10px; font-family: 'DejaVu Sans', sans-serif; text-anchor: middle; fill: #ff0000" x="261.504" y="100.08" transform="rotate(-0 261.504 100.08)">N</text>
</g>
<g id="text_14">
<text style="font-size: 10px; font-family: 'DejaVu Sans', sans-serif; text-anchor: middle" x="294.048" y="100.08" transform="rotate(-0 294.048 100.08)">M</text>
</g>
<g id="text_15">
<text style="font-size: 10px; font-family: 'DejaVu Sans', sans-serif; text-anchor: middle; fill: #ff0000" x="325.728" y="100.08" transform="rotate(-0 325.728 100.08)">N</text>
</g>
<g id="text_16">
<text style="font-size: 10px; font-family: 'DejaVu Sans', sans-serif; text-anchor: middle" x="358.272" y="100.08" transform="rotate(-0 358.272 100.08)">M</text>
</g>
<g id="text_17">
<text style="font-size: 10px; font-family: 'DejaVu Sans', sans-serif; text-anchor: middle; fill: #ff0000" x="389.952" y="100.08" transform="rotate(-0 389.952 100.08)">N</text>
</g>
<g id="text_18">
<text style="font-size: 10px; font-family: 'DejaVu Sans', sans-serif; text-anchor: middle" x="422.496" y="100.08" transform="rotate(-0 422.496 100.08)">M</text>
</g>
<g id="text_19">
<text style="font-size: 10px; font-family: 'DejaVu Sans', sans-serif; text-anchor: middle; fill: #ff0000" x="454.176" y="100.08" transform="rotate(-0 454.176 100.08)">N</text>
</g>
<g id="text_20">
<text style="font-size: 10px; font-family: 'DejaVu Sans', sans-serif; text-anchor: middle" x="486.72" y="100.08" transform="rotate(-0 486.72 100.08)">M</text>
</g>
<g id="text_21">
<text style="font-size: 10px; font-family: 'DejaVu Sans', sans-serif; text-anchor: middle; fill: #ff0000" x="518.4" y="100.08" transform="rotate(-0 518.4 100.08)">N</text>
</g>
<g id="text_22">
<text style="font-size: 10px; font-family: 'DejaVu Sans', sans-serif; text-anchor: middle" x="550.944" y="100.08" transform="rotate(-0 550.944 100.08)">M</text>
</g>
<g id="text_23">
<text style="font-size: 10px; font-family: 'DejaVu Sans', sans-serif; text-anchor: middle; fill: #ff0000" x="582.624" y="100.08" transform="rotate(-0 582.624 100.08)">N</text>
</g>
<g id="text_24">
<g transform="translate(125.442 67.44)">
<text>
<tspan x="0" y="-0.654688" style="font-size: 17.28px; font-family: 'DejaVu Sans', sans-serif">2</tspan>
<tspan x="10.974976" y="-0.654688" style="font-size: 17.28px; font-family: 'DejaVu Sans', sans-serif">.</tspan>
<tspan x="16.458252" y="-0.654688" style="font-size: 17.28px; font-family: 'DejaVu Sans', sans-serif">0</tspan>
<tspan x="27.433228" y="-0.654688" style="font-size: 17.28px; font-family: 'DejaVu Sans', sans-serif"> </tspan>
<tspan x="32.916504" y="-0.654688" style="font-size: 17.28px; font-family: 'DejaVu Sans', sans-serif">M</tspan>
<tspan x="47.799683" y="-0.654688" style="font-size: 17.28px; font-family: 'DejaVu Sans', sans-serif">e</tspan>
<tspan x="58.412476" y="-0.654688" style="font-size: 17.28px; font-family: 'DejaVu Sans', sans-serif">V</tspan>
<tspan x="70.212891" y="-0.654688" style="font-size: 17.28px; font-family: 'DejaVu Sans', sans-serif"> </tspan>
<tspan x="75.696167" y="-0.654688" style="font-size: 17.28px; font-family: 'DejaVu Sans', sans-serif">E</tspan>
<tspan x="86.595337" y="-0.654688" style="font-size: 17.28px; font-family: 'DejaVu Sans', sans-serif">l</tspan>
<tspan x="91.387939" y="-0.654688" style="font-size: 17.28px; font-family: 'DejaVu Sans', sans-serif">e</tspan>
<tspan x="102.000732" y="-0.654688" style="font-size: 17.28px; font-family: 'DejaVu Sans', sans-serif">c</tspan>
<tspan x="111.484863" y="-0.654688" style="font-size: 17.28px; font-family: 'DejaVu Sans', sans-serif">t</tspan>
<tspan x="118.248413" y="-0.654688" style="font-size: 17.28px; font-family: 'DejaVu Sans', sans-serif">r</tspan>
<tspan x="125.340454" y="-0.654688" style="font-size: 17.28px; font-family: 'DejaVu Sans', sans-serif">o</tspan>
<tspan x="135.894287" y="-0.654688" style="font-size: 17.28px; font-family: 'DejaVu Sans', sans-serif">n</tspan>
<tspan x="146.827148" y="-0.654688" style="font-size: 17.28px; font-family: 'DejaVu Sans', sans-serif"> </tspan>
<tspan x="152.310425" y="-0.654688" style="font-size: 17.28px; font-family: 'DejaVu Sans', sans-serif">F</tspan>
<tspan x="162.232544" y="-0.654688" style="font-size: 17.28px; font-family: 'DejaVu Sans', sans-serif">l</tspan>
<tspan x="167.025146" y="-0.654688" style="font-size: 17.28px; font-family: 'DejaVu Sans', sans-serif">u</tspan>
<tspan x="177.958008" y="-0.654688" style="font-size: 17.28px; font-family: 'DejaVu Sans', sans-serif">x</tspan>
<tspan x="188.166504" y="-0.654688" style="font-size: 17.28px; font-family: 'DejaVu Sans', sans-serif"> </tspan>
<tspan x="193.64978" y="-0.654688" style="font-size: 17.28px; font-family: 'DejaVu Sans', sans-serif">a</tspan>
<tspan x="204.220459" y="-0.654688" style="font-size: 17.28px; font-family: 'DejaVu Sans', sans-serif">t</tspan>
<tspan x="210.984009" y="-0.654688" style="font-size: 17.28px; font-family: 'DejaVu Sans', sans-serif"> </tspan>
<tspan x="216.467285" y="-0.654688" style="font-size: 17.28px; font-family: 'DejaVu Sans', sans-serif">8</tspan>
<tspan x="227.442261" y="-0.654688" style="font-size: 17.28px; font-family: 'DejaVu Sans', sans-serif">8</tspan>
<tspan x="251.308447" y="-0.654688" style="font-size: 17.28px; font-family: 'DejaVu Sans', sans-serif"> </tspan>
<tspan x="256.791724" y="-0.654688" style="font-size: 17.28px; font-family: 'DejaVu Sans', sans-serif">p</tspan>
<tspan x="267.741431" y="-0.654688" style="font-size: 17.28px; font-family: 'DejaVu Sans', sans-serif">i</tspan>
<tspan x="272.534033" y="-0.654688" style="font-size: 17.28px; font-family: 'DejaVu Sans', sans-serif">t</tspan>
<tspan x="279.297583" y="-0.654688" style="font-size: 17.28px; font-family: 'DejaVu Sans', sans-serif">c</tspan>
<tspan x="288.781714" y="-0.654688" style="font-size: 17.28px; font-family: 'DejaVu Sans', sans-serif">h</tspan>
<tspan x="299.714575" y="-0.654688" style="font-size: 17.28px; font-family: 'DejaVu Sans', sans-serif"> </tspan>
<tspan x="305.197852" y="-0.654688" style="font-size: 17.28px; font-family: 'DejaVu Sans', sans-serif">a</tspan>
<tspan x="315.76853" y="-0.654688" style="font-size: 17.28px; font-family: 'DejaVu Sans', sans-serif">n</tspan>
<tspan x="326.701392" y="-0.654688" style="font-size: 17.28px; font-family: 'DejaVu Sans', sans-serif">g</tspan>
<tspan x="337.651099" y="-0.654688" style="font-size: 17.28px; font-family: 'DejaVu Sans', sans-serif">l</tspan>
<tspan x="342.443701" y="-0.654688" style="font-size: 17.28px; font-family: 'DejaVu Sans', sans-serif">e</tspan>
<tspan x="353.056494" y="-0.654688" style="font-size: 17.28px; font-family: 'DejaVu Sans', sans-serif"> </tspan>
<tspan x="358.539771" y="-0.654688" style="font-size: 17.28px; font-family: 'DejaVu Sans', sans-serif">(</tspan>
<tspan x="365.269629" y="-0.654688" style="font-size: 17.28px; font-family: 'DejaVu Sans', sans-serif"> </tspan>
<tspan x="370.752905" y="-0.654688" style="font-size: 17.28px; font-family: 'DejaVu Sans', sans-serif">c</tspan>
<tspan x="380.237036" y="-0.654688" style="font-size: 17.28px; font-family: 'DejaVu Sans', sans-serif">m</tspan>
<tspan x="418.26883" y="-0.654688" style="font-size: 17.28px; font-family: 'DejaVu Sans', sans-serif">s</tspan>
<tspan x="448.484218" y="-0.654688" style="font-size: 17.28px; font-family: 'DejaVu Sans', sans-serif">s</tspan>
<tspan x="457.471401" y="-0.654688" style="font-size: 17.28px; font-family: 'DejaVu Sans', sans-serif">r</tspan>
<tspan x="485.791648" y="-0.654688" style="font-size: 17.28px; font-family: 'DejaVu Sans', sans-serif">K</tspan>
<tspan x="497.103537" y="-0.654688" style="font-size: 17.28px; font-family: 'DejaVu Sans', sans-serif">e</tspan>
<tspan x="507.71633" y="-0.654688" style="font-size: 17.28px; font-family: 'DejaVu Sans', sans-serif">V</tspan>
<tspan x="537.944296" y="-0.654688" style="font-size: 17.28px; font-family: 'DejaVu Sans', sans-serif"> </tspan>
<tspan x="543.427573" y="-0.654688" style="font-size: 17.28px; font-family: 'DejaVu Sans', sans-serif">)</tspan>
<tspan x="240.932434" y="-7.1625" style="font-size: 12.096px; font-family: 'DejaVu Sans', sans-serif">∘</tspan>
<tspan x="397.20332" y="-7.1625" style="font-size: 12.096px; font-family: 'DejaVu Sans', sans-serif">−</tspan>
<tspan x="407.32085" y="-7.1625" style="font-size: 12.096px; font-family: 'DejaVu Sans', sans-serif">2</tspan>
<tspan x="427.418708" y="-7.1625" style="font-size: 12.096px; font-family: 'DejaVu Sans', sans-serif">−</tspan>
<tspan x="437.536238" y="-7.1625" style="font-size: 12.096px; font-family: 'DejaVu Sans', sans-serif">1</tspan>
<tspan x="464.726137" y="-7.1625" style="font-size: 12.096px; font-family: 'DejaVu Sans', sans-serif">−</tspan>
<tspan x="474.843667" y="-7.1625" style="font-size: 12.096px; font-family: 'DejaVu Sans', sans-serif">1</tspan>
<tspan x="519.67944" y="-7.1625" style="font-size: 12.096px; font-family: 'DejaVu Sans', sans-serif">−</tspan>
<tspan x="529.79697" y="-7.1625" style="font-size: 12.096px; font-family: 'DejaVu Sans', sans-serif">1</tspan>
</text>
</g>
</g>
</g>
<g id="axes_2">
<g id="patch_14">
<path d="M 690.6 327.3 L 702.7 327.3 L 702.7 79.2 L 690.6 79.2 z" style="fill: #ffffff"/>
</g>
<g id="CBAR"><defs><linearGradient id="cb" x2="0" y2="1"><stop offset="0.0000" stop-color="#800000"/><stop offset="0.0900" stop-color="#e80000"/><stop offset="0.1100" stop-color="#ff1300"/><stop offset="0.3400" stop-color="#feed00"/><stop offset="0.3500" stop-color="#f8f500"/><stop offset="0.3600" stop-color="#eeff09"/><stop offset="0.6250" stop-color="#16ffe1"/><stop offset="0.6500" stop-color="#00e4f8"/><stop offset="0.6600" stop-color="#00dcfe"/><stop offset="0.8750" stop-color="#0000ff"/><stop offset="0.8900" stop-color="#0000ff"/><stop offset="1.0000" stop-color="#000080"/></linearGradient></defs><rect x="690.55" y="79.20" width="12.17" height="248.11" fill="url(#cb)"/></g>
<g id="matplotlib.axis_3"/>
<g id="matplotlib.axis_4">
<g id="ytick_8">
<g id="line2d_39">
<defs>
<path id="m9def4a2ac5" d="M 0 0 L 4.2 0" style="stroke: #000000; stroke-width: 0.7"/>
</defs>
<g>
<use href="#m9def4a2ac5" x="702.72" y="327.312" style="stroke: #000000; stroke-width: 0.7"/>
</g>
</g>
<g id="LOGLAB_cax_9" transform="translate(0 1.37)">
<g transform="translate(710.42 332.630906)">
<text>
<tspan x="0" y="-0.367188" style="font-size: 14px; font-family: 'DejaVu Sans', sans-serif">1</tspan>
<tspan x="8.907227" y="-0.367188" style="font-size: 14px; font-family: 'DejaVu Sans', sans-serif">0</tspan>
<tspan x="17.948438" y="-5.726562" style="font-size: 9.8px; font-family: 'DejaVu Sans', sans-serif">−</tspan>
<tspan x="26.159766" y="-5.726562" style="font-size: 9.8px; font-family: 'DejaVu Sans', sans-serif">3</tspan>
</text>
</g>
</g>
</g>
<g id="ytick_9">
<g id="line2d_40">
<g>
<use href="#m9def4a2ac5" x="702.72" y="314.863808" style="stroke: #000000; stroke-width: 0.7"/>
</g>
</g>
</g>
<g id="ytick_10">
<g id="line2d_41">
<g>
<use href="#m9def4a2ac5" x="702.72" y="307.582082" style="stroke: #000000; stroke-width: 0.7"/>
</g>
</g>
</g>
<g id="ytick_11">
<g id="line2d_42">
<g>
<use href="#m9def4a2ac5" x="702.72" y="302.415615" style="stroke: #000000; stroke-width: 0.7"/>
</g>
</g>
</g>
<g id="ytick_12">
<g id="line2d_43">
<g>
<use href="#m9def4a2ac5" x="702.72" y="298.408192" style="stroke: #000000; stroke-width: 0.7"/>
</g>
</g>
</g>
<g id="ytick_13">
<g id="line2d_44">
<g>
<use href="#m9def4a2ac5" x="702.72" y="295.133889" style="stroke: #000000; stroke-width: 0.7"/>
</g>
</g>
</g>
<g id="ytick_14">
<g id="line2d_45">
<g>
<use href="#m9def4a2ac5" x="702.72" y="292.365506" style="stroke: #000000; stroke-width: 0.7"/>
</g>
</g>
</g>
<g id="ytick_15">
<g id="line2d_46">
<g>
<use href="#m9def4a2ac5" x="702.72" y="289.967423" style="stroke: #000000; stroke-width: 0.7"/>
</g>
</g>
</g>
<g id="ytick_16">
<g id="line2d_47">
<g>
<use href="#m9def4a2ac5" x="702.72" y="287.852164" style="stroke: #000000; stroke-width: 0.7"/>
</g>
</g>
</g>
<g id="ytick_17">
<g id="line2d_48">
<g>
<use href="#m9def4a2ac5" x="702.72" y="285.96" style="stroke: #000000; stroke-width: 0.7"/>
</g>
</g>
<g id="LOGLAB_cax_18" transform="translate(0 1.37)">
<g transform="translate(710.42 291.278906)">
<text>
<tspan x="0" y="-0.367188" style="font-size: 14px; font-family: 'DejaVu Sans', sans-serif">1</tspan>
<tspan x="8.907227" y="-0.367188" style="font-size: 14px; font-family: 'DejaVu Sans', sans-serif">0</tspan>
<tspan x="17.948438" y="-5.726562" style="font-size: 9.8px; font-family: 'DejaVu Sans', sans-serif">−</tspan>
<tspan x="26.159766" y="-5.726562" style="font-size: 9.8px; font-family: 'DejaVu Sans', sans-serif">2</tspan>
</text>
</g>
</g>
</g>
<g id="ytick_18">
<g id="line2d_49">
<g>
<use href="#m9def4a2ac5" x="702.72" y="273.511808" style="stroke: #000000; stroke-width: 0.7"/>
</g>
</g>
</g>
<g id="ytick_19">
<g id="line2d_50">
<g>
<use href="#m9def4a2ac5" x="702.72" y="266.230082" style="stroke: #000000; stroke-width: 0.7"/>
</g>
</g>
</g>
<g id="ytick_20">
<g id="line2d_51">
<g>
<use href="#m9def4a2ac5" x="702.72" y="261.063615" style="stroke: #000000; stroke-width: 0.7"/>
</g>
</g>
</g>
<g id="ytick_21">
<g id="line2d_52">
<g>
<use href="#m9def4a2ac5" x="702.72" y="257.056192" style="stroke: #000000; stroke-width: 0.7"/>
</g>
</g>
</g>
<g id="ytick_22">
<g id="line2d_53">
<g>
<use href="#m9def4a2ac5" x="702.72" y="253.781889" style="stroke: #000000; stroke-width: 0.7"/>
</g>
</g>
</g>
<g id="ytick_23">
<g id="line2d_54">
<g>
<use href="#m9def4a2ac5" x="702.72" y="251.013506" style="stroke: #000000; stroke-width: 0.7"/>
</g>
</g>
</g>
<g id="ytick_24">
<g id="line2d_55">
<g>
<use href="#m9def4a2ac5" x="702.72" y="248.615423" style="stroke: #000000; stroke-width: 0.7"/>
</g>
</g>
</g>
<g id="ytick_25">
<g id="line2d_56">
<g>
<use href="#m9def4a2ac5" x="702.72" y="246.500164" style="stroke: #000000; stroke-width: 0.7"/>
</g>
</g>
</g>
<g id="ytick_26">
<g id="line2d_57">
<g>
<use href="#m9def4a2ac5" x="702.72" y="244.608" style="stroke: #000000; stroke-width: 0.7"/>
</g>
</g>
<g id="LOGLAB_cax_27" transform="translate(0 1.37)">
<g transform="translate(710.42 249.926906)">
<text>
<tspan x="0" y="-0.498438" style="font-size: 14px; font-family: 'DejaVu Sans', sans-serif">1</tspan>
<tspan x="8.907227" y="-0.498438" style="font-size: 14px; font-family: 'DejaVu Sans', sans-serif">0</tspan>
<tspan x="17.948438" y="-5.857813" style="font-size: 9.8px; font-family: 'DejaVu Sans', sans-serif">−</tspan>
<tspan x="26.159766" y="-5.857813" style="font-size: 9.8px; font-family: 'DejaVu Sans', sans-serif">1</tspan>
</text>
</g>
</g>
</g>
<g id="ytick_27">
<g id="line2d_58">
<g>
<use href="#m9def4a2ac5" x="702.72" y="232.159808" style="stroke: #000000; stroke-width: 0.7"/>
</g>
</g>
</g>
<g id="ytick_28">
<g id="line2d_59">
<g>
<use href="#m9def4a2ac5" x="702.72" y="224.878082" style="stroke: #000000; stroke-width: 0.7"/>
</g>
</g>
</g>
<g id="ytick_29">
<g id="line2d_60">
<g>
<use href="#m9def4a2ac5" x="702.72" y="219.711615" style="stroke: #000000; stroke-width: 0.7"/>
</g>
</g>
</g>
<g id="ytick_30">
<g id="line2d_61">
<g>
<use href="#m9def4a2ac5" x="702.72" y="215.704192" style="stroke: #000000; stroke-width: 0.7"/>
</g>
</g>
</g>
<g id="ytick_31">
<g id="line2d_62">
<g>
<use href="#m9def4a2ac5" x="702.72" y="212.429889" style="stroke: #000000; stroke-width: 0.7"/>
</g>
</g>
</g>
<g id="ytick_32">
<g id="line2d_63">
<g>
<use href="#m9def4a2ac5" x="702.72" y="209.661506" style="stroke: #000000; stroke-width: 0.7"/>
</g>
</g>
</g>
<g id="ytick_33">
<g id="line2d_64">
<g>
<use href="#m9def4a2ac5" x="702.72" y="207.263423" style="stroke: #000000; stroke-width: 0.7"/>
</g>
</g>
</g>
<g id="ytick_34">
<g id="line2d_65">
<g>
<use href="#m9def4a2ac5" x="702.72" y="205.148164" style="stroke: #000000; stroke-width: 0.7"/>
</g>
</g>
</g>
<g id="ytick_35">
<g id="line2d_66">
<g>
<use href="#m9def4a2ac5" x="702.72" y="203.256" style="stroke: #000000; stroke-width: 0.7"/>
</g>
</g>
<g id="LOGLAB_cax_36" transform="translate(0 1.37)">
<g transform="translate(710.42 208.574906)">
<text>
<tspan x="0" y="-0.367188" style="font-size: 14px; font-family: 'DejaVu Sans', sans-serif">1</tspan>
<tspan x="8.907227" y="-0.367188" style="font-size: 14px; font-family: 'DejaVu Sans', sans-serif">0</tspan>
<tspan x="17.948438" y="-5.726562" style="font-size: 9.8px; font-family: 'DejaVu Sans', sans-serif">0</tspan>
</text>
</g>
</g>
</g>
<g id="ytick_36">
<g id="line2d_67">
<g>
<use href="#m9def4a2ac5" x="702.72" y="190.807808" style="stroke: #000000; stroke-width: 0.7"/>
</g>
</g>
</g>
<g id="ytick_37">
<g id="line2d_68">
<g>
<use href="#m9def4a2ac5" x="702.72" y="183.526082" style="stroke: #000000; stroke-width: 0.7"/>
</g>
</g>
</g>
<g id="ytick_38">
<g id="line2d_69">
<g>
<use href="#m9def4a2ac5" x="702.72" y="178.359615" style="stroke: #000000; stroke-width: 0.7"/>
</g>
</g>
</g>
<g id="ytick_39">
<g id="line2d_70">
<g>
<use href="#m9def4a2ac5" x="702.72" y="174.352192" style="stroke: #000000; stroke-width: 0.7"/>
</g>
</g>
</g>
<g id="ytick_40">
<g id="line2d_71">
<g>
<use href="#m9def4a2ac5" x="702.72" y="171.077889" style="stroke: #000000; stroke-width: 0.7"/>
</g>
</g>
</g>
<g id="ytick_41">
<g id="line2d_72">
<g>
<use href="#m9def4a2ac5" x="702.72" y="168.309506" style="stroke: #000000; stroke-width: 0.7"/>
</g>
</g>
</g>
<g id="ytick_42">
<g id="line2d_73">
<g>
<use href="#m9def4a2ac5" x="702.72" y="165.911423" style="stroke: #000000; stroke-width: 0.7"/>
</g>
</g>
</g>
<g id="ytick_43">
<g id="line2d_74">
<g>
<use href="#m9def4a2ac5" x="702.72" y="163.796164" style="stroke: #000000; stroke-width: 0.7"/>
</g>
</g>
</g>
<g id="ytick_44">
<g id="line2d_75">
<g>
<use href="#m9def4a2ac5" x="702.72" y="161.904" style="stroke: #000000; stroke-width: 0.7"/>
</g>
</g>
<g id="LOGLAB_cax_45" transform="translate(0 1.37)">
<g transform="translate(710.42 167.222906)">
<text>
<tspan x="0" y="-0.498438" style="font-size: 14px; font-family: 'DejaVu Sans', sans-serif">1</tspan>
<tspan x="8.907227" y="-0.498438" style="font-size: 14px; font-family: 'DejaVu Sans', sans-serif">0</tspan>
<tspan x="17.948438" y="-5.857813" style="font-size: 9.8px; font-family: 'DejaVu Sans', sans-serif">1</tspan>
</text>
</g>
</g>
</g>
<g id="ytick_45">
<g id="line2d_76">
<g>
<use href="#m9def4a2ac5" x="702.72" y="149.455808" style="stroke: #000000; stroke-width: 0.7"/>
</g>
</g>
</g>
<g id="ytick_46">
<g id="line2d_77">
<g>
<use href="#m9def4a2ac5" x="702.72" y="142.174082" style="stroke: #000000; stroke-width: 0.7"/>
</g>
</g>
</g>
<g id="ytick_47">
<g id="line2d_78">
<g>
<use href="#m9def4a2ac5" x="702.72" y="137.007615" style="stroke: #000000; stroke-width: 0.7"/>
</g>
</g>
</g>
<g id="ytick_48">
<g id="line2d_79">
<g>
<use href="#m9def4a2ac5" x="702.72" y="133.000192" style="stroke: #000000; stroke-width: 0.7"/>
</g>
</g>
</g>
<g id="ytick_49">
<g id="line2d_80">
<g>
<use href="#m9def4a2ac5" x="702.72" y="129.725889" style="stroke: #000000; stroke-width: 0.7"/>
</g>
</g>
</g>
<g id="ytick_50">
<g id="line2d_81">
<g>
<use href="#m9def4a2ac5" x="702.72" y="126.957506" style="stroke: #000000; stroke-width: 0.7"/>
</g>
</g>
</g>
<g id="ytick_51">
<g id="line2d_82">
<g>
<use href="#m9def4a2ac5" x="702.72" y="124.559423" style="stroke: #000000; stroke-width: 0.7"/>
</g>
</g>
</g>
<g id="ytick_52">
<g id="line2d_83">
<g>
<use href="#m9def4a2ac5" x="702.72" y="122.444164" style="stroke: #000000; stroke-width: 0.7"/>
</g>
</g>
</g>
<g id="ytick_53">
<g id="line2d_84">
<g>
<use href="#m9def4a2ac5" x="702.72" y="120.552" style="stroke: #000000; stroke-width: 0.7"/>
</g>
</g>
<g id="LOGLAB_cax_54" transform="translate(0 1.37)">
<g transform="translate(710.42 125.870906)">
<text>
<tspan x="0" y="-0.367188" style="font-size: 14px; font-family: 'DejaVu Sans', sans-serif">1</tspan>
<tspan x="8.907227" y="-0.367188" style="font-size: 14px; font-family: 'DejaVu Sans', sans-serif">0</tspan>
<tspan x="17.948438" y="-5.726562" style="font-size: 9.8px; font-family: 'DejaVu Sans', sans-serif">2</tspan>
</text>
</g>
</g>
</g>
<g id="ytick_54">
<g id="line2d_85">
<g>
<use href="#m9def4a2ac5" x="702.72" y="108.103808" style="stroke: #000000; stroke-width: 0.7"/>
</g>
</g>
</g>
<g id="ytick_55">
<g id="line2d_86">
<g>
<use href="#m9def4a2ac5" x="702.72" y="100.822082" style="stroke: #000000; stroke-width: 0.7"/>
</g>
</g>
</g>
<g id="ytick_56">
<g id="line2d_87">
<g>
<use href="#m9def4a2ac5" x="702.72" y="95.655615" style="stroke: #000000; stroke-width: 0.7"/>
</g>
</g>
</g>
<g id="ytick_57">
<g id="line2d_88">
<g>
<use href="#m9def4a2ac5" x="702.72" y="91.648192" style="stroke: #000000; stroke-width: 0.7"/>
</g>
</g>
</g>
<g id="ytick_58">
<g id="line2d_89">
<g>
<use href="#m9def4a2ac5" x="702.72" y="88.373889" style="stroke: #000000; stroke-width: 0.7"/>
</g>
</g>
</g>
<g id="ytick_59">
<g id="line2d_90">
<g>
<use href="#m9def4a2ac5" x="702.72" y="85.605506" style="stroke: #000000; stroke-width: 0.7"/>
</g>
</g>
</g>
<g id="ytick_60">
<g id="line2d_91">
<g>
<use href="#m9def4a2ac5" x="702.72" y="83.207423" style="stroke: #000000; stroke-width: 0.7"/>
</g>
</g>
</g>
<g id="ytick_61">
<g id="line2d_92">
<g>
<use href="#m9def4a2ac5" x="702.72" y="81.092164" style="stroke: #000000; stroke-width: 0.7"/>
</g>
</g>
</g>
<g id="ytick_62">
<g id="line2d_93">
<g>
<use href="#m9def4a2ac5" x="702.72" y="79.2" style="stroke: #000000; stroke-width: 0.7"/>
</g>
</g>
<g id="LOGLAB_cax_63" transform="translate(0 1.37)">
<g transform="translate(710.42 84.518906)">
<text>
<tspan x="0" y="-0.367188" style="font-size: 14px; font-family: 'DejaVu Sans', sans-serif">1</tspan>
<tspan x="8.907227" y="-0.367188" style="font-size: 14px; font-family: 'DejaVu Sans', sans-serif">0</tspan>
<tspan x="17.948438" y="-5.726562" style="font-size: 9.8px; font-family: 'DejaVu Sans', sans-serif">3</tspan>
</text>
</g>
</g>
</g>
</g>
<g id="patch_15">
<path d="M 690.6 327.3 L 690.6 79.2" style="fill: none; stroke: #000000; stroke-width: 1.5; stroke-linejoin: miter; stroke-linecap: square"/>
</g>
<g id="patch_16">
<path d="M 702.7 327.3 L 702.7 79.2" style="fill: none; stroke: #000000; stroke-width: 1.5; stroke-linejoin: miter; stroke-linecap: square"/>
</g>
<g id="patch_17">
<path d="M 690.6 327.3 L 702.7 327.3" style="fill: none; stroke: #000000; stroke-width: 1.5; stroke-linejoin: miter; stroke-linecap: square"/>
</g>
<g id="patch_18">
<path d="M 690.6 79.2 L 702.7 79.2" style="fill: none; stroke: #000000; stroke-width: 1.5; stroke-linejoin: miter; stroke-linecap: square"/>
</g>
</g>
<g id="axes_3">
<g id="patch_19">
<path d="M 144 592 L 658.2 592 L 658.2 344 L 144 344 z" style="fill: #ffffff"/>
</g>
<g id="patch_20">
<path d="M 594 592 L 658.2 592 L 658.2 344 L 594 344 z" clip-path="url(#p349e566749)" style="fill: #d3d3d3"/>
</g>
<g id="matplotlib.axis_5">
<g id="xtick_9">
<g id="line2d_94">
<g>
<use href="#mc70c0609be" x="178.74" y="591.984" style="stroke: #000000"/>
</g>
</g>
</g>
<g id="xtick_10">
<g id="line2d_95">
<g>
<use href="#mc70c0609be" x="243.0864" y="591.984" style="stroke: #000000"/>
</g>
</g>
</g>
<g id="xtick_11">
<g id="line2d_96">
<g>
<use href="#mc70c0609be" x="307.4328" y="591.984" style="stroke: #000000"/>
</g>
</g>
</g>
<g id="xtick_12">
<g id="line2d_97">
<g>
<use href="#mc70c0609be" x="371.7792" y="591.984" style="stroke: #000000"/>
</g>
</g>
</g>
<g id="xtick_13">
<g id="line2d_98">
<g>
<use href="#mc70c0609be" x="436.1256" y="591.984" style="stroke: #000000"/>
</g>
</g>
</g>
<g id="xtick_14">
<g id="line2d_99">
<g>
<use href="#mc70c0609be" x="500.472" y="591.984" style="stroke: #000000"/>
</g>
</g>
</g>
<g id="xtick_15">
<g id="line2d_100">
<g>
<use href="#mc70c0609be" x="564.8184" y="591.984" style="stroke: #000000"/>
</g>
</g>
</g>
<g id="xtick_16">
<g id="line2d_101">
<g>
<use href="#mc70c0609be" x="629.1648" y="591.984" style="stroke: #000000"/>
</g>
</g>
</g>
</g>
<g id="matplotlib.axis_6">
<g id="ytick_63">
<g id="line2d_102">
<g>
<use href="#m6d8da96a18" x="143.964" y="591.984" style="stroke: #000000"/>
</g>
</g>
<g id="line2d_103">
<g>
<use href="#me4d9d56b5a" x="658.152" y="591.984" style="stroke: #000000"/>
</g>
</g>
<g id="LOGLAB_ax2_1" transform="translate(0 0.58)">
<g transform="translate(107.564 597.302906)">
<text>
<tspan x="0" y="-0.367188" style="font-size: 14px; font-family: 'DejaVu Sans', sans-serif">1</tspan>
<tspan x="8.907227" y="-0.367188" style="font-size: 14px; font-family: 'DejaVu Sans', sans-serif">0</tspan>
<tspan x="17.948438" y="-5.726562" style="font-size: 9.8px; font-family: 'DejaVu Sans', sans-serif">−</tspan>
<tspan x="26.159766" y="-5.726562" style="font-size: 9.8px; font-family: 'DejaVu Sans', sans-serif">3</tspan>
</text>
</g>
</g>
</g>
<g id="ytick_64">
<g id="line2d_104">
<g>
<use href="#m6d8da96a18" x="143.964" y="550.656" style="stroke: #000000"/>
</g>
</g>
<g id="line2d_105">
<g>
<use href="#me4d9d56b5a" x="658.152" y="550.656" style="stroke: #000000"/>
</g>
</g>
<g id="LOGLAB_ax2_2" transform="translate(0 0.58)">
<g transform="translate(107.564 555.974906)">
<text>
<tspan x="0" y="-0.367188" style="font-size: 14px; font-family: 'DejaVu Sans', sans-serif">1</tspan>
<tspan x="8.907227" y="-0.367188" style="font-size: 14px; font-family: 'DejaVu Sans', sans-serif">0</tspan>
<tspan x="17.948438" y="-5.726562" style="font-size: 9.8px; font-family: 'DejaVu Sans', sans-serif">−</tspan>
<tspan x="26.159766" y="-5.726562" style="font-size: 9.8px; font-family: 'DejaVu Sans', sans-serif">2</tspan>
</text>
</g>
</g>
</g>
<g id="ytick_65">
<g id="line2d_106">
<g>
<use href="#m6d8da96a18" x="143.964" y="509.328" style="stroke: #000000"/>
</g>
</g>
<g id="line2d_107">
<g>
<use href="#me4d9d56b5a" x="658.152" y="509.328" style="stroke: #000000"/>
</g>
</g>
<g id="LOGLAB_ax2_3" transform="translate(0 0.58)">
<g transform="translate(107.564 514.646906)">
<text>
<tspan x="0" y="-0.498438" style="font-size: 14px; font-family: 'DejaVu Sans', sans-serif">1</tspan>
<tspan x="8.907227" y="-0.498438" style="font-size: 14px; font-family: 'DejaVu Sans', sans-serif">0</tspan>
<tspan x="17.948438" y="-5.857813" style="font-size: 9.8px; font-family: 'DejaVu Sans', sans-serif">−</tspan>
<tspan x="26.159766" y="-5.857813" style="font-size: 9.8px; font-family: 'DejaVu Sans', sans-serif">1</tspan>
</text>
</g>
</g>
</g>
<g id="ytick_66">
<g id="line2d_108">
<g>
<use href="#m6d8da96a18" x="143.964" y="468" style="stroke: #000000"/>
</g>
</g>
<g id="line2d_109">
<g>
<use href="#me4d9d56b5a" x="658.152" y="468" style="stroke: #000000"/>
</g>
</g>
<g id="LOGLAB_ax2_4" transform="translate(0 0.58)">
<g transform="translate(115.824 473.318906)">
<text>
<tspan x="0" y="-0.367188" style="font-size: 14px; font-family: 'DejaVu Sans', sans-serif">1</tspan>
<tspan x="8.907227" y="-0.367188" style="font-size: 14px; font-family: 'DejaVu Sans', sans-serif">0</tspan>
<tspan x="17.948438" y="-5.726562" style="font-size: 9.8px; font-family: 'DejaVu Sans', sans-serif">0</tspan>
</text>
</g>
</g>
</g>
<g id="ytick_67">
<g id="line2d_110">
<g>
<use href="#m6d8da96a18" x="143.964" y="426.672" style="stroke: #000000"/>
</g>
</g>
<g id="line2d_111">
<g>
<use href="#me4d9d56b5a" x="658.152" y="426.672" style="stroke: #000000"/>
</g>
</g>
<g id="LOGLAB_ax2_5" transform="translate(0 0.58)">
<g transform="translate(115.824 431.990906)">
<text>
<tspan x="0" y="-0.498438" style="font-size: 14px; font-family: 'DejaVu Sans', sans-serif">1</tspan>
<tspan x="8.907227" y="-0.498438" style="font-size: 14px; font-family: 'DejaVu Sans', sans-serif">0</tspan>
<tspan x="17.948438" y="-5.857813" style="font-size: 9.8px; font-family: 'DejaVu Sans', sans-serif">1</tspan>
</text>
</g>
</g>
</g>
<g id="ytick_68">
<g id="line2d_112">
<g>
<use href="#m6d8da96a18" x="143.964" y="385.344" style="stroke: #000000"/>
</g>
</g>
<g id="line2d_113">
<g>
<use href="#me4d9d56b5a" x="658.152" y="385.344" style="stroke: #000000"/>
</g>
</g>
<g id="LOGLAB_ax2_6" transform="translate(0 0.58)">
<g transform="translate(115.824 390.662906)">
<text>
<tspan x="0" y="-0.367188" style="font-size: 14px; font-family: 'DejaVu Sans', sans-serif">1</tspan>
<tspan x="8.907227" y="-0.367188" style="font-size: 14px; font-family: 'DejaVu Sans', sans-serif">0</tspan>
<tspan x="17.948438" y="-5.726562" style="font-size: 9.8px; font-family: 'DejaVu Sans', sans-serif">2</tspan>
</text>
</g>
</g>
</g>
<g id="ytick_69">
<g id="line2d_114">
<g>
<use href="#m6d8da96a18" x="143.964" y="344.016" style="stroke: #000000"/>
</g>
</g>
<g id="line2d_115">
<g>
<use href="#me4d9d56b5a" x="658.152" y="344.016" style="stroke: #000000"/>
</g>
</g>
<g id="LOGLAB_ax2_7" transform="translate(0 0.58)">
<g transform="translate(115.824 349.334906)">
<text>
<tspan x="0" y="-0.367188" style="font-size: 14px; font-family: 'DejaVu Sans', sans-serif">1</tspan>
<tspan x="8.907227" y="-0.367188" style="font-size: 14px; font-family: 'DejaVu Sans', sans-serif">0</tspan>
<tspan x="17.948438" y="-5.726562" style="font-size: 9.8px; font-family: 'DejaVu Sans', sans-serif">3</tspan>
</text>
</g>
</g>
</g>
<g id="ytick_70">
<g id="line2d_116">
<defs>
<path id="m74b68ae29c" d="M 0 0 L 2.9 0" style="stroke: #000000; stroke-width: 0.8"/>
</defs>
<g>
<use href="#m74b68ae29c" x="143.964" y="579.543032" style="stroke: #000000; stroke-width: 0.8"/>
</g>
</g>
<g id="line2d_117">
<defs>
<path id="ma9f2e976e7" d="M 0 0 L -2 0" style="stroke: #000000; stroke-width: 0.8"/>
</defs>
<g>
<use href="#ma9f2e976e7" x="658.152" y="579.543032" style="stroke: #000000; stroke-width: 0.8"/>
</g>
</g>
</g>
<g id="ytick_71">
<g id="line2d_118">
<g>
<use href="#m74b68ae29c" x="143.964" y="572.265533" style="stroke: #000000; stroke-width: 0.8"/>
</g>
</g>
<g id="line2d_119">
<g>
<use href="#ma9f2e976e7" x="658.152" y="572.265533" style="stroke: #000000; stroke-width: 0.8"/>
</g>
</g>
</g>
<g id="ytick_72">
<g id="line2d_120">
<g>
<use href="#m74b68ae29c" x="143.964" y="567.102065" style="stroke: #000000; stroke-width: 0.8"/>
</g>
</g>
<g id="line2d_121">
<g>
<use href="#ma9f2e976e7" x="658.152" y="567.102065" style="stroke: #000000; stroke-width: 0.8"/>
</g>
</g>
</g>
<g id="ytick_73">
<g id="line2d_122">
<g>
<use href="#m74b68ae29c" x="143.964" y="563.096968" style="stroke: #000000; stroke-width: 0.8"/>
</g>
</g>
<g id="line2d_123">
<g>
<use href="#ma9f2e976e7" x="658.152" y="563.096968" style="stroke: #000000; stroke-width: 0.8"/>
</g>
</g>
</g>
<g id="ytick_74">
<g id="line2d_124">
<g>
<use href="#m74b68ae29c" x="143.964" y="559.824565" style="stroke: #000000; stroke-width: 0.8"/>
</g>
</g>
<g id="line2d_125">
<g>
<use href="#ma9f2e976e7" x="658.152" y="559.824565" style="stroke: #000000; stroke-width: 0.8"/>
</g>
</g>
</g>
<g id="ytick_75">
<g id="line2d_126">
<g>
<use href="#m74b68ae29c" x="143.964" y="557.057788" style="stroke: #000000; stroke-width: 0.8"/>
</g>
</g>
<g id="line2d_127">
<g>
<use href="#ma9f2e976e7" x="658.152" y="557.057788" style="stroke: #000000; stroke-width: 0.8"/>
</g>
</g>
</g>
<g id="ytick_76">
<g id="line2d_128">
<g>
<use href="#m74b68ae29c" x="143.964" y="554.661097" style="stroke: #000000; stroke-width: 0.8"/>
</g>
</g>
<g id="line2d_129">
<g>
<use href="#ma9f2e976e7" x="658.152" y="554.661097" style="stroke: #000000; stroke-width: 0.8"/>
</g>
</g>
</g>
<g id="ytick_77">
<g id="line2d_130">
<g>
<use href="#m74b68ae29c" x="143.964" y="552.547066" style="stroke: #000000; stroke-width: 0.8"/>
</g>
</g>
<g id="line2d_131">
<g>
<use href="#ma9f2e976e7" x="658.152" y="552.547066" style="stroke: #000000; stroke-width: 0.8"/>
</g>
</g>
</g>
<g id="ytick_78">
<g id="line2d_132">
<g>
<use href="#m74b68ae29c" x="143.964" y="538.215032" style="stroke: #000000; stroke-width: 0.8"/>
</g>
</g>
<g id="line2d_133">
<g>
<use href="#ma9f2e976e7" x="658.152" y="538.215032" style="stroke: #000000; stroke-width: 0.8"/>
</g>
</g>
</g>
<g id="ytick_79">
<g id="line2d_134">
<g>
<use href="#m74b68ae29c" x="143.964" y="530.937533" style="stroke: #000000; stroke-width: 0.8"/>
</g>
</g>
<g id="line2d_135">
<g>
<use href="#ma9f2e976e7" x="658.152" y="530.937533" style="stroke: #000000; stroke-width: 0.8"/>
</g>
</g>
</g>
<g id="ytick_80">
<g id="line2d_136">
<g>
<use href="#m74b68ae29c" x="143.964" y="525.774065" style="stroke: #000000; stroke-width: 0.8"/>
</g>
</g>
<g id="line2d_137">
<g>
<use href="#ma9f2e976e7" x="658.152" y="525.774065" style="stroke: #000000; stroke-width: 0.8"/>
</g>
</g>
</g>
<g id="ytick_81">
<g id="line2d_138">
<g>
<use href="#m74b68ae29c" x="143.964" y="521.768968" style="stroke: #000000; stroke-width: 0.8"/>
</g>
</g>
<g id="line2d_139">
<g>
<use href="#ma9f2e976e7" x="658.152" y="521.768968" style="stroke: #000000; stroke-width: 0.8"/>
</g>
</g>
</g>
<g id="ytick_82">
<g id="line2d_140">
<g>
<use href="#m74b68ae29c" x="143.964" y="518.496565" style="stroke: #000000; stroke-width: 0.8"/>
</g>
</g>
<g id="line2d_141">
<g>
<use href="#ma9f2e976e7" x="658.152" y="518.496565" style="stroke: #000000; stroke-width: 0.8"/>
</g>
</g>
</g>
<g id="ytick_83">
<g id="line2d_142">
<g>
<use href="#m74b68ae29c" x="143.964" y="515.729788" style="stroke: #000000; stroke-width: 0.8"/>
</g>
</g>
<g id="line2d_143">
<g>
<use href="#ma9f2e976e7" x="658.152" y="515.729788" style="stroke: #000000; stroke-width: 0.8"/>
</g>
</g>
</g>
<g id="ytick_84">
<g id="line2d_144">
<g>
<use href="#m74b68ae29c" x="143.964" y="513.333097" style="stroke: #000000; stroke-width: 0.8"/>
</g>
</g>
<g id="line2d_145">
<g>
<use href="#ma9f2e976e7" x="658.152" y="513.333097" style="stroke: #000000; stroke-width: 0.8"/>
</g>
</g>
</g>
<g id="ytick_85">
<g id="line2d_146">
<g>
<use href="#m74b68ae29c" x="143.964" y="511.219066" style="stroke: #000000; stroke-width: 0.8"/>
</g>
</g>
<g id="line2d_147">
<g>
<use href="#ma9f2e976e7" x="658.152" y="511.219066" style="stroke: #000000; stroke-width: 0.8"/>
</g>
</g>
</g>
<g id="ytick_86">
<g id="line2d_148">
<g>
<use href="#m74b68ae29c" x="143.964" y="496.887032" style="stroke: #000000; stroke-width: 0.8"/>
</g>
</g>
<g id="line2d_149">
<g>
<use href="#ma9f2e976e7" x="658.152" y="496.887032" style="stroke: #000000; stroke-width: 0.8"/>
</g>
</g>
</g>
<g id="ytick_87">
<g id="line2d_150">
<g>
<use href="#m74b68ae29c" x="143.964" y="489.609533" style="stroke: #000000; stroke-width: 0.8"/>
</g>
</g>
<g id="line2d_151">
<g>
<use href="#ma9f2e976e7" x="658.152" y="489.609533" style="stroke: #000000; stroke-width: 0.8"/>
</g>
</g>
</g>
<g id="ytick_88">
<g id="line2d_152">
<g>
<use href="#m74b68ae29c" x="143.964" y="484.446065" style="stroke: #000000; stroke-width: 0.8"/>
</g>
</g>
<g id="line2d_153">
<g>
<use href="#ma9f2e976e7" x="658.152" y="484.446065" style="stroke: #000000; stroke-width: 0.8"/>
</g>
</g>
</g>
<g id="ytick_89">
<g id="line2d_154">
<g>
<use href="#m74b68ae29c" x="143.964" y="480.440968" style="stroke: #000000; stroke-width: 0.8"/>
</g>
</g>
<g id="line2d_155">
<g>
<use href="#ma9f2e976e7" x="658.152" y="480.440968" style="stroke: #000000; stroke-width: 0.8"/>
</g>
</g>
</g>
<g id="ytick_90">
<g id="line2d_156">
<g>
<use href="#m74b68ae29c" x="143.964" y="477.168565" style="stroke: #000000; stroke-width: 0.8"/>
</g>
</g>
<g id="line2d_157">
<g>
<use href="#ma9f2e976e7" x="658.152" y="477.168565" style="stroke: #000000; stroke-width: 0.8"/>
</g>
</g>
</g>
<g id="ytick_91">
<g id="line2d_158">
<g>
<use href="#m74b68ae29c" x="143.964" y="474.401788" style="stroke: #000000; stroke-width: 0.8"/>
</g>
</g>
<g id="line2d_159">
<g>
<use href="#ma9f2e976e7" x="658.152" y="474.401788" style="stroke: #000000; stroke-width: 0.8"/>
</g>
</g>
</g>
<g id="ytick_92">
<g id="line2d_160">
<g>
<use href="#m74b68ae29c" x="143.964" y="472.005097" style="stroke: #000000; stroke-width: 0.8"/>
</g>
</g>
<g id="line2d_161">
<g>
<use href="#ma9f2e976e7" x="658.152" y="472.005097" style="stroke: #000000; stroke-width: 0.8"/>
</g>
</g>
</g>
<g id="ytick_93">
<g id="line2d_162">
<g>
<use href="#m74b68ae29c" x="143.964" y="469.891066" style="stroke: #000000; stroke-width: 0.8"/>
</g>
</g>
<g id="line2d_163">
<g>
<use href="#ma9f2e976e7" x="658.152" y="469.891066" style="stroke: #000000; stroke-width: 0.8"/>
</g>
</g>
</g>
<g id="ytick_94">
<g id="line2d_164">
<g>
<use href="#m74b68ae29c" x="143.964" y="455.559032" style="stroke: #000000; stroke-width: 0.8"/>
</g>
</g>
<g id="line2d_165">
<g>
<use href="#ma9f2e976e7" x="658.152" y="455.559032" style="stroke: #000000; stroke-width: 0.8"/>
</g>
</g>
</g>
<g id="ytick_95">
<g id="line2d_166">
<g>
<use href="#m74b68ae29c" x="143.964" y="448.281533" style="stroke: #000000; stroke-width: 0.8"/>
</g>
</g>
<g id="line2d_167">
<g>
<use href="#ma9f2e976e7" x="658.152" y="448.281533" style="stroke: #000000; stroke-width: 0.8"/>
</g>
</g>
</g>
<g id="ytick_96">
<g id="line2d_168">
<g>
<use href="#m74b68ae29c" x="143.964" y="443.118065" style="stroke: #000000; stroke-width: 0.8"/>
</g>
</g>
<g id="line2d_169">
<g>
<use href="#ma9f2e976e7" x="658.152" y="443.118065" style="stroke: #000000; stroke-width: 0.8"/>
</g>
</g>
</g>
<g id="ytick_97">
<g id="line2d_170">
<g>
<use href="#m74b68ae29c" x="143.964" y="439.112968" style="stroke: #000000; stroke-width: 0.8"/>
</g>
</g>
<g id="line2d_171">
<g>
<use href="#ma9f2e976e7" x="658.152" y="439.112968" style="stroke: #000000; stroke-width: 0.8"/>
</g>
</g>
</g>
<g id="ytick_98">
<g id="line2d_172">
<g>
<use href="#m74b68ae29c" x="143.964" y="435.840565" style="stroke: #000000; stroke-width: 0.8"/>
</g>
</g>
<g id="line2d_173">
<g>
<use href="#ma9f2e976e7" x="658.152" y="435.840565" style="stroke: #000000; stroke-width: 0.8"/>
</g>
</g>
</g>
<g id="ytick_99">
<g id="line2d_174">
<g>
<use href="#m74b68ae29c" x="143.964" y="433.073788" style="stroke: #000000; stroke-width: 0.8"/>
</g>
</g>
<g id="line2d_175">
<g>
<use href="#ma9f2e976e7" x="658.152" y="433.073788" style="stroke: #000000; stroke-width: 0.8"/>
</g>
</g>
</g>
<g id="ytick_100">
<g id="line2d_176">
<g>
<use href="#m74b68ae29c" x="143.964" y="430.677097" style="stroke: #000000; stroke-width: 0.8"/>
</g>
</g>
<g id="line2d_177">
<g>
<use href="#ma9f2e976e7" x="658.152" y="430.677097" style="stroke: #000000; stroke-width: 0.8"/>
</g>
</g>
</g>
<g id="ytick_101">
<g id="line2d_178">
<g>
<use href="#m74b68ae29c" x="143.964" y="428.563066" style="stroke: #000000; stroke-width: 0.8"/>
</g>
</g>
<g id="line2d_179">
<g>
<use href="#ma9f2e976e7" x="658.152" y="428.563066" style="stroke: #000000; stroke-width: 0.8"/>
</g>
</g>
</g>
<g id="ytick_102">
<g id="line2d_180">
<g>
<use href="#m74b68ae29c" x="143.964" y="414.231032" style="stroke: #000000; stroke-width: 0.8"/>
</g>
</g>
<g id="line2d_181">
<g>
<use href="#ma9f2e976e7" x="658.152" y="414.231032" style="stroke: #000000; stroke-width: 0.8"/>
</g>
</g>
</g>
<g id="ytick_103">
<g id="line2d_182">
<g>
<use href="#m74b68ae29c" x="143.964" y="406.953533" style="stroke: #000000; stroke-width: 0.8"/>
</g>
</g>
<g id="line2d_183">
<g>
<use href="#ma9f2e976e7" x="658.152" y="406.953533" style="stroke: #000000; stroke-width: 0.8"/>
</g>
</g>
</g>
<g id="ytick_104">
<g id="line2d_184">
<g>
<use href="#m74b68ae29c" x="143.964" y="401.790065" style="stroke: #000000; stroke-width: 0.8"/>
</g>
</g>
<g id="line2d_185">
<g>
<use href="#ma9f2e976e7" x="658.152" y="401.790065" style="stroke: #000000; stroke-width: 0.8"/>
</g>
</g>
</g>
<g id="ytick_105">
<g id="line2d_186">
<g>
<use href="#m74b68ae29c" x="143.964" y="397.784968" style="stroke: #000000; stroke-width: 0.8"/>
</g>
</g>
<g id="line2d_187">
<g>
<use href="#ma9f2e976e7" x="658.152" y="397.784968" style="stroke: #000000; stroke-width: 0.8"/>
</g>
</g>
</g>
<g id="ytick_106">
<g id="line2d_188">
<g>
<use href="#m74b68ae29c" x="143.964" y="394.512565" style="stroke: #000000; stroke-width: 0.8"/>
</g>
</g>
<g id="line2d_189">
<g>
<use href="#ma9f2e976e7" x="658.152" y="394.512565" style="stroke: #000000; stroke-width: 0.8"/>
</g>
</g>
</g>
<g id="ytick_107">
<g id="line2d_190">
<g>
<use href="#m74b68ae29c" x="143.964" y="391.745788" style="stroke: #000000; stroke-width: 0.8"/>
</g>
</g>
<g id="line2d_191">
<g>
<use href="#ma9f2e976e7" x="658.152" y="391.745788" style="stroke: #000000; stroke-width: 0.8"/>
</g>
</g>
</g>
<g id="ytick_108">
<g id="line2d_192">
<g>
<use href="#m74b68ae29c" x="143.964" y="389.349097" style="stroke: #000000; stroke-width: 0.8"/>
</g>
</g>
<g id="line2d_193">
<g>
<use href="#ma9f2e976e7" x="658.152" y="389.349097" style="stroke: #000000; stroke-width: 0.8"/>
</g>
</g>
</g>
<g id="ytick_109">
<g id="line2d_194">
<g>
<use href="#m74b68ae29c" x="143.964" y="387.235066" style="stroke: #000000; stroke-width: 0.8"/>
</g>
</g>
<g id="line2d_195">
<g>
<use href="#ma9f2e976e7" x="658.152" y="387.235066" style="stroke: #000000; stroke-width: 0.8"/>
</g>
</g>
</g>
<g id="ytick_110">
<g id="line2d_196">
<g>
<use href="#m74b68ae29c" x="143.964" y="372.903032" style="stroke: #000000; stroke-width: 0.8"/>
</g>
</g>
<g id="line2d_197">
<g>
<use href="#ma9f2e976e7" x="658.152" y="372.903032" style="stroke: #000000; stroke-width: 0.8"/>
</g>
</g>
</g>
<g id="ytick_111">
<g id="line2d_198">
<g>
<use href="#m74b68ae29c" x="143.964" y="365.625533" style="stroke: #000000; stroke-width: 0.8"/>
</g>
</g>
<g id="line2d_199">
<g>
<use href="#ma9f2e976e7" x="658.152" y="365.625533" style="stroke: #000000; stroke-width: 0.8"/>
</g>
</g>
</g>
<g id="ytick_112">
<g id="line2d_200">
<g>
<use href="#m74b68ae29c" x="143.964" y="360.462065" style="stroke: #000000; stroke-width: 0.8"/>
</g>
</g>
<g id="line2d_201">
<g>
<use href="#ma9f2e976e7" x="658.152" y="360.462065" style="stroke: #000000; stroke-width: 0.8"/>
</g>
</g>
</g>
<g id="ytick_113">
<g id="line2d_202">
<g>
<use href="#m74b68ae29c" x="143.964" y="356.456968" style="stroke: #000000; stroke-width: 0.8"/>
</g>
</g>
<g id="line2d_203">
<g>
<use href="#ma9f2e976e7" x="658.152" y="356.456968" style="stroke: #000000; stroke-width: 0.8"/>
</g>
</g>
</g>
<g id="ytick_114">
<g id="line2d_204">
<g>
<use href="#m74b68ae29c" x="143.964" y="353.184565" style="stroke: #000000; stroke-width: 0.8"/>
</g>
</g>
<g id="line2d_205">
<g>
<use href="#ma9f2e976e7" x="658.152" y="353.184565" style="stroke: #000000; stroke-width: 0.8"/>
</g>
</g>
</g>
<g id="ytick_115">
<g id="line2d_206">
<g>
<use href="#m74b68ae29c" x="143.964" y="350.417788" style="stroke: #000000; stroke-width: 0.8"/>
</g>
</g>
<g id="line2d_207">
<g>
<use href="#ma9f2e976e7" x="658.152" y="350.417788" style="stroke: #000000; stroke-width: 0.8"/>
</g>
</g>
</g>
<g id="ytick_116">
<g id="line2d_208">
<g>
<use href="#m74b68ae29c" x="143.964" y="348.021097" style="stroke: #000000; stroke-width: 0.8"/>
</g>
</g>
<g id="line2d_209">
<g>
<use href="#ma9f2e976e7" x="658.152" y="348.021097" style="stroke: #000000; stroke-width: 0.8"/>
</g>
</g>
</g>
<g id="ytick_117">
<g id="line2d_210">
<g>
<use href="#m74b68ae29c" x="143.964" y="345.907066" style="stroke: #000000; stroke-width: 0.8"/>
</g>
</g>
<g id="line2d_211">
<g>
<use href="#ma9f2e976e7" x="658.152" y="345.907066" style="stroke: #000000; stroke-width: 0.8"/>
</g>
</g>
</g>
<g id="text_25">
<text style="font-size: 17.36px; font-family: 'DejaVu Sans', sans-serif" transform="translate(73.211567 562.487225) rotate(-90)">2.0 MeV Electron Flux</text>
<g transform="translate(97.973662 564.5216) rotate(-90)">
<text>
<tspan x="0" y="-0.654688" style="font-size: 17.36px; font-family: 'DejaVu Sans', sans-serif">(</tspan>
<tspan x="6.778625" y="-0.654688" style="font-size: 17.36px; font-family: 'DejaVu Sans', sans-serif"> </tspan>
<tspan x="12.301636" y="-0.654688" style="font-size: 17.36px; font-family: 'DejaVu Sans', sans-serif">c</tspan>
<tspan x="21.854492" y="-0.654688" style="font-size: 17.36px; font-family: 'DejaVu Sans', sans-serif">m</tspan>
<tspan x="60.157332" y="-0.654688" style="font-size: 17.36px; font-family: 'DejaVu Sans', sans-serif">s</tspan>
<tspan x="90.587125" y="-0.654688" style="font-size: 17.36px; font-family: 'DejaVu Sans', sans-serif">s</tspan>
<tspan x="99.639432" y="-0.654688" style="font-size: 17.36px; font-family: 'DejaVu Sans', sans-serif">r</tspan>
<tspan x="128.16035" y="-0.654688" style="font-size: 17.36px; font-family: 'DejaVu Sans', sans-serif">K</tspan>
<tspan x="139.55421" y="-0.654688" style="font-size: 17.36px; font-family: 'DejaVu Sans', sans-serif">e</tspan>
<tspan x="150.243907" y="-0.654688" style="font-size: 17.36px; font-family: 'DejaVu Sans', sans-serif">V</tspan>
<tspan x="180.686369" y="-0.654688" style="font-size: 17.36px; font-family: 'DejaVu Sans', sans-serif"> </tspan>
<tspan x="186.209379" y="-0.654688" style="font-size: 17.36px; font-family: 'DejaVu Sans', sans-serif">)</tspan>
<tspan x="38.942542" y="-7.1625" style="font-size: 12.152px; font-family: 'DejaVu Sans', sans-serif">−</tspan>
<tspan x="49.133386" y="-7.1625" style="font-size: 12.152px; font-family: 'DejaVu Sans', sans-serif">2</tspan>
<tspan x="69.372334" y="-7.1625" style="font-size: 12.152px; font-family: 'DejaVu Sans', sans-serif">−</tspan>
<tspan x="79.563179" y="-7.1625" style="font-size: 12.152px; font-family: 'DejaVu Sans', sans-serif">1</tspan>
<tspan x="106.94556" y="-7.1625" style="font-size: 12.152px; font-family: 'DejaVu Sans', sans-serif">−</tspan>
<tspan x="117.136404" y="-7.1625" style="font-size: 12.152px; font-family: 'DejaVu Sans', sans-serif">1</tspan>
<tspan x="162.292528" y="-7.1625" style="font-size: 12.152px; font-family: 'DejaVu Sans', sans-serif">−</tspan>
<tspan x="172.483372" y="-7.1625" style="font-size: 12.152px; font-family: 'DejaVu Sans', sans-serif">1</tspan>
</text>
</g>
</g>
</g>
<g id="line2d_212">
<path d="M 594 592 L 594 344" clip-path="url(#p349e566749)" style="fill: none; stroke-dasharray: 1.5,2.475; stroke-dashoffset: 0; stroke: #1f77b4; stroke-width: 1.5"/>
</g>
<g id="text_26">
<text style="font-size: 46px; font-family: 'DejaVu Sans', sans-serif; opacity: 0.11" transform="translate(639.489125 570.334555) rotate(-90)">Forecast</text>
</g>
<g id="patch_21">
<path d="M 144 592 L 144 344" style="fill: none; stroke: #000000; stroke-width: 1.5; stroke-linejoin: miter; stroke-linecap: square"/>
</g>
<g id="patch_22">
<path d="M 658.2 592 L 658.2 344" style="fill: none; stroke: #000000; stroke-width: 1.5; stroke-linejoin: miter; stroke-linecap: square"/>
</g>
<g id="patch_23">
<path d="M 144 592 L 658.2 592" style="fill: none; stroke: #000000; stroke-width: 1.5; stroke-linejoin: miter; stroke-linecap: square"/>
</g>
<g id="patch_24">
<path d="M 144 344 L 658.2 344" style="fill: none; stroke: #000000; stroke-width: 1.5; stroke-linejoin: miter; stroke-linecap: square"/>
</g>
<g id="line2d_213">
<path d="M144.5 521l1.4 .1 1.5 .4 1.8 .7 .7 .4 .7 .8 .7 1 .8 1.3 .3 1 .7 3.1 1.1 6.1 2.5 14.5 1.1 4.9 .4 1.1 .3 .6 .8 0 1-.4 .8-.3 .3-.3 .7-1.1 1.5-2.5 .3-.5 .4-.2 .4-.1 .7 .2 1.1 .7 .7 .6 .7 1.1 1.1 2 .3 .5 .4 .3 .4 0 .3-.1 .7-.7 .8-1 .7-2 1.4-5.4 1.1-4.4 .7-1 .4-.2 .3 1.1 .4 7.4 .4 68.5 12.9 0 .4-3.8 .7-20.4 .7-19.9 .7-9.2 .8-6.9 .7-5.2 1.1-6 1-4.5 1.5-4.7 1.1-2.9 .7-1.3 1.1-1.4 1-1 1.5-1.1 3.9-2.7 3.6-2.5 2.2-1.2 4.3-2.2 1.8-.7 1.5-.2 8.2-1.1 3.3-.5 4.7-.5 .7-.4 1.1-1 2.1-2 1.1-.6 2.2-.8 3.2-1 4.7-1.2 16.2-3.4 2.1-.2 7.2-.2 2.2 .1 1.1 .4 1.8 .9 .7 .6 1.4 1.6 1.1 1.1 .7 .5 .8 .2 1.4-.1 2.2-.4 1-.4 1.8-.9 .8-.1 4.6 0 .4-.1 .7-.6 2.5-2.9 1.8-1.1 2.2-.9 2.2-.8 5.4-1.6 4.3-1.5 3.9-.9 2.9-.5 4.3-.5 2.6-.1 1 .2 1.5 .4 2.5 .9 1.4 .3 5.1 .5 .7 .4 .7 .6 2.9 3.2 2.5 3.1 .7 .6 .8 .2 1-.2 3.6-.8 .8 .2 .7 .4 2.1 1.6 2.6 1 .7 .1 .3 0 .4-.2 .7-.9 1.1-2 1.1-1.9 2.1-2.5 1.1-.9 1.1-.6 1.1-.3 1.1-.1 5 .1 1.1-.5 1.4-.9 2.2-1.5 1.1-.4 .7-.1 .7 .2 1.1 .5 1.8 .9 .7 .3 1.8 0 2.2 .1 .7 .3 .7 .6 1.4 1.6 1.5 1.8 3.9 5.8 1.5 1.6 1.1 .9 1.8 1.4 .7 .8 .7 1.2 .7 1.7 .7 2.3 .8 3.5 3.9 21.6 1.5 6 1 3.9 .4 .3 .7-1.7 .4 .3 .3 4.9 .4 18.4 .4-2.6 2.5-39.5 .3-4.2 .8-5.3 .7-3.8 .3-.9 .4 0 .7 .3 .7 .5 .4 .5 1.1 2.7 .3 .4 .4-.1 .4-.3 .3-.5 .7-1.7 .4-4 .4-5.6 .3 .5 .4 7.8 .3 4.7 .4-11.3 .4-17 .3-5.7 .7-5.4 .4-1.1 .4 .5 .7 4.1 .3 .6 .4-.4 .7-2 .4-1.4 .3-2.4 .8-7.3 .3-8.4 .4-11.5 .3-4.6 .8-3.5 .3-1.1 .4-.5 .7-.4 1.1-.2 1.1-.1 1 .2 1.5 .3 .3 0 .4-.2 .7-.8 1.1-1.7 1.1-1.7 .7-.7 1.1-.6 2.1-.7 1.1-.5 1.1-.7 1.4-1.3 1.5-1.7 2.1-3 1.1-1.8 1.8-3.3 .7-.6 .4-.1 .7 .2 2.5 1 .4 0 .7-.3 1.1-1.1 2.5-2.5 .7-.3 .4 .1 .4 .7 1.4 3.6 1.4 2.8 .4 .4 .4 .3 .3 0 .4-.1 .7-.6 .7-1 .7-2.4 .4-1.2 .4-.8 .3 0 .4 .2 .7 1 .7 1.5 .7 3.4 1.5 9.2 1.1 7.7 .7 4.3 .3 .4 .8-.4 .7-.5 .3 0 .4 .3 .7 .8 .7 1 1.1 2.7 .4 .5 .3-.5 .4-2 1.4-11.5 1.1-5.8 .7-2.2 .8-1.6 .3-.6 .4-.2 .7 .1 1.8 .5 .4-.3 .3-1.3 1.1-6 1.1-3.5 .3-.9 .4-.4 2.5 0 1.8 0 1.5 .4 1.4 .5 1.4 .7 1.5 .9 2.5 2 1.8 .6 1.1 .2 .7 0 .7-.3 1.1-.9 1.1-1 1.1-1.6 1-1.5 2.2-2.5 .4-.1 .3 0 .4 .1 .7 .6 1.1 1.4 .3 .6 .4 .7 1.8 5 .4 .4 .3-.1 .4-.4 .7-1.1 .7-1.3 .4-.5 1.1-.7 1.4-.7 1.1-.4 1.1-.1 .3 .2 .7 1.1 .8 1.5 .7 2.7 .7 2.8 .7 1.1 1.1 1.1 .7 .4 .7 0 1.5-.1 .7-.2 .4-.2 .7-1.2 .7-1.2 1.1-.6 1.1-.3 1 0 1.8 .3 1.1 .2 .7-.1 .8-.4 1.4-1 .7-.7 1.1-1.4 1.8-2.5 .7-.6 1.5-.8 1.8-.6 2.1-.5 1.8-.5 1.1-.4 .7-.6 1.1-1.2 1.8-2 7.9-7.8 1.1-.5 1.8-.7 1.4-.3 1.1 0 1.1 .3 1.8 .8 .7 .4 2.5 1.9 .8 .1 4.6 0 .8 .3 1 .6 1.8 1.2 1.1 1.2 1.8 1.9 2.9 2.2 .7 .2 1.1-.2 3.6-.9 1.1 .2 3.2 .9 1.1 .3 .7 0 .7-.2 .8-.5 3.2-3.1 2.9-2.9 1.1-.6 1.8-.6 1.8-.4 3.2-.3 .7-.4 1.5-1.1 1.4-1.2 2.9-1.7 1.1-.2 3.6-.4 3.2-.1 1.1 .1 1.4 .5 2.2 1 2.1 1.4 1.1 .7" clip-path="url(#p349e566749)" style="fill: none; stroke: #ff0000; stroke-width: 1.5; stroke-linecap: square"/>
</g>
<g id="text_27">
<text style="font-size: 17.36px; font-family: 'DejaVu Sans', sans-serif; text-anchor: start" x="169.704" y="369.432" transform="rotate(-0 169.704 369.432)">Geostationary orbit:</text>
</g>
<g id="text_28">
<text style="font-size: 17.36px; font-family: 'DejaVu Sans', sans-serif; text-anchor: start; fill: #ff0000" x="360" y="369.432" transform="rotate(-0 360 369.432)">Model</text>
</g>
</g>
<g id="axes_4">
<g id="patch_25">
<path d="M 144 732.2 L 658.2 732.2 L 658.2 608.5 L 144 608.5 z" style="fill: #ffffff"/>
</g>
<g id="patch_26">
<path d="M 142.8 732.2 L 149.3 732.2 L 149.3 704.7 L 142.8 704.7 z" clip-path="url(#p757b8b4cb4)" style="fill: #008000"/>
</g>
<g id="patch_27">
<path d="M 150.9 732.2 L 157.3 732.2 L 157.3 700.2 L 150.9 700.2 z" clip-path="url(#p757b8b4cb4)" style="fill: #008000"/>
</g>
<g id="patch_28">
<path d="M 158.9 732.2 L 165.4 732.2 L 165.4 713.9 L 158.9 713.9 z" clip-path="url(#p757b8b4cb4)" style="fill: #008000"/>
</g>
<g id="patch_29">
<path d="M 166.9 732.2 L 173.4 732.2 L 173.4 700.2 L 166.9 700.2 z" clip-path="url(#p757b8b4cb4)" style="fill: #008000"/>
</g>
<g id="patch_30">
<path d="M 175 732.2 L 181.4 732.2 L 181.4 704.7 L 175 704.7 z" clip-path="url(#p757b8b4cb4)" style="fill: #008000"/>
</g>
<g id="patch_31">
<path d="M 183 732.2 L 189.5 732.2 L 189.5 713.9 L 183 713.9 z" clip-path="url(#p757b8b4cb4)" style="fill: #008000"/>
</g>
<g id="patch_32">
<path d="M 191 732.2 L 197.5 732.2 L 197.5 700.2 L 191 700.2 z" clip-path="url(#p757b8b4cb4)" style="fill: #008000"/>
</g>
<g id="patch_33">
<path d="M 199.1 732.2 L 205.5 732.2 L 205.5 704.7 L 199.1 704.7 z" clip-path="url(#p757b8b4cb4)" style="fill: #008000"/>
</g>
<g id="patch_34">
<path d="M 207.1 732.2 L 213.6 732.2 L 213.6 709.2 L 207.1 709.2 z" clip-path="url(#p757b8b4cb4)" style="fill: #008000"/>
</g>
<g id="patch_35">
<path d="M 215.1 732.2 L 221.6 732.2 L 221.6 718.5 L 215.1 718.5 z" clip-path="url(#p757b8b4cb4)" style="fill: #008000"/>
</g>
<g id="patch_36">
<path d="M 223.2 732.2 L 229.6 732.2 L 229.6 718.5 L 223.2 718.5 z" clip-path="url(#p757b8b4cb4)" style="fill: #008000"/>
</g>
<g id="patch_37">
<path d="M 231.2 732.2 L 237.7 732.2 L 237.7 727.7 L 231.2 727.7 z" clip-path="url(#p757b8b4cb4)" style="fill: #008000"/>
</g>
<g id="patch_38">
<path d="M 239.2 732.2 L 245.7 732.2 L 245.7 718.5 L 239.2 718.5 z" clip-path="url(#p757b8b4cb4)" style="fill: #008000"/>
</g>
<g id="patch_39">
<path d="M 247.3 732.2 L 253.7 732.2 L 253.7 727.7 L 247.3 727.7 z" clip-path="url(#p757b8b4cb4)" style="fill: #008000"/>
</g>
<g id="patch_40">
<path d="M 255.3 732.2 L 261.8 732.2 L 261.8 727.7 L 255.3 727.7 z" clip-path="url(#p757b8b4cb4)" style="fill: #008000"/>
</g>
<g id="patch_41">
<path d="M 263.3 732.2 L 269.8 732.2 L 269.8 727.7 L 263.3 727.7 z" clip-path="url(#p757b8b4cb4)" style="fill: #008000"/>
</g>
<g id="patch_42">
<path d="M 271.4 732.2 L 277.8 732.2 L 277.8 723 L 271.4 723 z" clip-path="url(#p757b8b4cb4)" style="fill: #008000"/>
</g>
<g id="patch_43">
<path d="M 279.4 732.2 L 285.9 732.2 L 285.9 732.2 L 279.4 732.2 z" clip-path="url(#p757b8b4cb4)" style="fill: #008000"/>
</g>
<g id="patch_44">
<path d="M 287.4 732.2 L 293.9 732.2 L 293.9 732.2 L 287.4 732.2 z" clip-path="url(#p757b8b4cb4)" style="fill: #008000"/>
</g>
<g id="patch_45">
<path d="M 295.5 732.2 L 302 732.2 L 302 727.7 L 295.5 727.7 z" clip-path="url(#p757b8b4cb4)" style="fill: #008000"/>
</g>
<g id="patch_46">
<path d="M 303.5 732.2 L 310 732.2 L 310 713.9 L 303.5 713.9 z" clip-path="url(#p757b8b4cb4)" style="fill: #008000"/>
</g>
<g id="patch_47">
<path d="M 311.5 732.2 L 318 732.2 L 318 718.5 L 311.5 718.5 z" clip-path="url(#p757b8b4cb4)" style="fill: #008000"/>
</g>
<g id="patch_48">
<path d="M 319.6 732.2 L 326.1 732.2 L 326.1 727.7 L 319.6 727.7 z" clip-path="url(#p757b8b4cb4)" style="fill: #008000"/>
</g>
<g id="patch_49">
<path d="M 327.6 732.2 L 334.1 732.2 L 334.1 727.7 L 327.6 727.7 z" clip-path="url(#p757b8b4cb4)" style="fill: #008000"/>
</g>
<g id="patch_50">
<path d="M 335.6 732.2 L 342.1 732.2 L 342.1 727.7 L 335.6 727.7 z" clip-path="url(#p757b8b4cb4)" style="fill: #008000"/>
</g>
<g id="patch_51">
<path d="M 343.7 732.2 L 350.2 732.2 L 350.2 718.5 L 343.7 718.5 z" clip-path="url(#p757b8b4cb4)" style="fill: #008000"/>
</g>
<g id="patch_52">
<path d="M 351.7 732.2 L 358.2 732.2 L 358.2 723 L 351.7 723 z" clip-path="url(#p757b8b4cb4)" style="fill: #008000"/>
</g>
<g id="patch_53">
<path d="M 359.7 732.2 L 366.2 732.2 L 366.2 723 L 359.7 723 z" clip-path="url(#p757b8b4cb4)" style="fill: #008000"/>
</g>
<g id="patch_54">
<path d="M 367.8 732.2 L 374.3 732.2 L 374.3 700.2 L 367.8 700.2 z" clip-path="url(#p757b8b4cb4)" style="fill: #008000"/>
</g>
<g id="patch_55">
<path d="M 375.8 732.2 L 382.3 732.2 L 382.3 700.2 L 375.8 700.2 z" clip-path="url(#p757b8b4cb4)" style="fill: #008000"/>
</g>
<g id="patch_56">
<path d="M 383.8 732.2 L 390.3 732.2 L 390.3 686.4 L 383.8 686.4 z" clip-path="url(#p757b8b4cb4)" style="fill: #bfbf00"/>
</g>
<g id="patch_57">
<path d="M 391.9 732.2 L 398.4 732.2 L 398.4 686.4 L 391.9 686.4 z" clip-path="url(#p757b8b4cb4)" style="fill: #bfbf00"/>
</g>
<g id="patch_58">
<path d="M 399.9 732.2 L 406.4 732.2 L 406.4 691 L 399.9 691 z" clip-path="url(#p757b8b4cb4)" style="fill: #bfbf00"/>
</g>
<g id="patch_59">
<path d="M 408 732.2 L 414.4 732.2 L 414.4 677.2 L 408 677.2 z" clip-path="url(#p757b8b4cb4)" style="fill: #bfbf00"/>
</g>
<g id="patch_60">
<path d="M 416 732.2 L 422.5 732.2 L 422.5 691 L 416 691 z" clip-path="url(#p757b8b4cb4)" style="fill: #bfbf00"/>
</g>
<g id="patch_61">
<path d="M 424 732.2 L 430.5 732.2 L 430.5 672.7 L 424 672.7 z" clip-path="url(#p757b8b4cb4)" style="fill: #bfbf00"/>
</g>
<g id="patch_62">
<path d="M 432.1 732.2 L 438.5 732.2 L 438.5 649.7 L 432.1 649.7 z" clip-path="url(#p757b8b4cb4)" style="fill: #ff0000"/>
</g>
<g id="patch_63">
<path d="M 440.1 732.2 L 446.6 732.2 L 446.6 677.2 L 440.1 677.2 z" clip-path="url(#p757b8b4cb4)" style="fill: #bfbf00"/>
</g>
<g id="patch_64">
<path d="M 448.1 732.2 L 454.6 732.2 L 454.6 677.2 L 448.1 677.2 z" clip-path="url(#p757b8b4cb4)" style="fill: #bfbf00"/>
</g>
<g id="patch_65">
<path d="M 456.2 732.2 L 462.6 732.2 L 462.6 672.7 L 456.2 672.7 z" clip-path="url(#p757b8b4cb4)" style="fill: #bfbf00"/>
</g>
<g id="patch_66">
<path d="M 464.2 732.2 L 470.7 732.2 L 470.7 668 L 464.2 668 z" clip-path="url(#p757b8b4cb4)" style="fill: #bfbf00"/>
</g>
<g id="patch_67">
<path d="M 472.2 732.2 L 478.7 732.2 L 478.7 663.5 L 472.2 663.5 z" clip-path="url(#p757b8b4cb4)" style="fill: #ff0000"/>
</g>
<g id="patch_68">
<path d="M 480.3 732.2 L 486.7 732.2 L 486.7 658.9 L 480.3 658.9 z" clip-path="url(#p757b8b4cb4)" style="fill: #ff0000"/>
</g>
<g id="patch_69">
<path d="M 488.3 732.2 L 494.8 732.2 L 494.8 663.5 L 488.3 663.5 z" clip-path="url(#p757b8b4cb4)" style="fill: #ff0000"/>
</g>
<g id="patch_70">
<path d="M 496.3 732.2 L 502.8 732.2 L 502.8 663.5 L 496.3 663.5 z" clip-path="url(#p757b8b4cb4)" style="fill: #ff0000"/>
</g>
<g id="patch_71">
<path d="M 504.4 732.2 L 510.8 732.2 L 510.8 677.2 L 504.4 677.2 z" clip-path="url(#p757b8b4cb4)" style="fill: #bfbf00"/>
</g>
<g id="patch_72">
<path d="M 512.4 732.2 L 518.9 732.2 L 518.9 672.7 L 512.4 672.7 z" clip-path="url(#p757b8b4cb4)" style="fill: #bfbf00"/>
</g>
<g id="patch_73">
<path d="M 520.4 732.2 L 526.9 732.2 L 526.9 668 L 520.4 668 z" clip-path="url(#p757b8b4cb4)" style="fill: #bfbf00"/>
</g>
<g id="patch_74">
<path d="M 528.5 732.2 L 534.9 732.2 L 534.9 663.5 L 528.5 663.5 z" clip-path="url(#p757b8b4cb4)" style="fill: #ff0000"/>
</g>
<g id="patch_75">
<path d="M 536.5 732.2 L 543 732.2 L 543 681.7 L 536.5 681.7 z" clip-path="url(#p757b8b4cb4)" style="fill: #bfbf00"/>
</g>
<g id="patch_76">
<path d="M 544.5 732.2 L 551 732.2 L 551 681.7 L 544.5 681.7 z" clip-path="url(#p757b8b4cb4)" style="fill: #bfbf00"/>
</g>
<g id="patch_77">
<path d="M 552.6 732.2 L 559 732.2 L 559 691 L 552.6 691 z" clip-path="url(#p757b8b4cb4)" style="fill: #bfbf00"/>
</g>
<g id="patch_78">
<path d="M 560.6 732.2 L 567.1 732.2 L 567.1 704.7 L 560.6 704.7 z" clip-path="url(#p757b8b4cb4)" style="fill: #008000"/>
</g>
<g id="patch_79">
<path d="M 568.6 732.2 L 575.1 732.2 L 575.1 695.5 L 568.6 695.5 z" clip-path="url(#p757b8b4cb4)" style="fill: #008000"/>
</g>
<g id="patch_80">
<path d="M 576.7 732.2 L 583.1 732.2 L 583.1 681.7 L 576.7 681.7 z" clip-path="url(#p757b8b4cb4)" style="fill: #bfbf00"/>
</g>
<g id="patch_81">
<path d="M 584.7 732.2 L 591.2 732.2 L 591.2 691 L 584.7 691 z" clip-path="url(#p757b8b4cb4)" style="fill: #bfbf00"/>
</g>
<g id="patch_82">
<path d="M 592.7 732.2 L 599.2 732.2 L 599.2 691 L 592.7 691 z" clip-path="url(#p757b8b4cb4)" style="fill: #bfbf00"/>
</g>
<g id="patch_83">
<path d="M 600.8 732.2 L 607.3 732.2 L 607.3 691 L 600.8 691 z" clip-path="url(#p757b8b4cb4)" style="fill: #bfbf00"/>
</g>
<g id="patch_84">
<path d="M 608.8 732.2 L 615.3 732.2 L 615.3 691 L 608.8 691 z" clip-path="url(#p757b8b4cb4)" style="fill: #bfbf00"/>
</g>
<g id="patch_85">
<path d="M 616.8 732.2 L 623.3 732.2 L 623.3 691 L 616.8 691 z" clip-path="url(#p757b8b4cb4)" style="fill: #bfbf00"/>
</g>
<g id="patch_86">
<path d="M 624.9 732.2 L 631.4 732.2 L 631.4 691 L 624.9 691 z" clip-path="url(#p757b8b4cb4)" style="fill: #bfbf00"/>
</g>
<g id="patch_87">
<path d="M 632.9 732.2 L 639.4 732.2 L 639.4 691 L 632.9 691 z" clip-path="url(#p757b8b4cb4)" style="fill: #bfbf00"/>
</g>
<g id="patch_88">
<path d="M 640.9 732.2 L 647.4 732.2 L 647.4 691 L 640.9 691 z" clip-path="url(#p757b8b4cb4)" style="fill: #bfbf00"/>
</g>
<g id="patch_89">
<path d="M 649 732.2 L 655.5 732.2 L 655.5 691 L 649 691 z" clip-path="url(#p757b8b4cb4)" style="fill: #bfbf00"/>
</g>
<g id="matplotlib.axis_7">
<g id="xtick_17">
<g id="line2d_214">
<g>
<use href="#mc70c0609be" x="178.74" y="732.204" style="stroke: #000000"/>
</g>
</g>
<g id="text_29">
<text style="font-size: 14px; font-family: 'DejaVu Sans', sans-serif; text-anchor: middle" x="178.74" y="746.341812" transform="rotate(-0 178.74 746.341812)">27</text>
</g>
</g>
<g id="xtick_18">
<g id="line2d_215">
<g>
<use href="#mc70c0609be" x="243.0864" y="732.204" style="stroke: #000000"/>
</g>
</g>
<g id="text_30">
<text style="font-size: 14px; font-family: 'DejaVu Sans', sans-serif; text-anchor: middle" x="243.0864" y="746.341812" transform="rotate(-0 243.0864 746.341812)">28</text>
</g>
</g>
<g id="xtick_19">
<g id="line2d_216">
<g>
<use href="#mc70c0609be" x="307.4328" y="732.204" style="stroke: #000000"/>
</g>
</g>
<g id="text_31">
<text style="font-size: 14px; font-family: 'DejaVu Sans', sans-serif; text-anchor: middle" x="307.4328" y="746.341812" transform="rotate(-0 307.4328 746.341812)">29</text>
</g>
</g>
<g id="xtick_20">
<g id="line2d_217">
<g>
<use href="#mc70c0609be" x="371.7792" y="732.204" style="stroke: #000000"/>
</g>
</g>
<g id="text_32">
<text style="font-size: 14px; font-family: 'DejaVu Sans', sans-serif; text-anchor: middle" x="371.7792" y="746.341812" transform="rotate(-0 371.7792 746.341812)">30</text>
</g>
</g>
<g id="xtick_21">
<g id="line2d_218">
<g>
<use href="#mc70c0609be" x="436.1256" y="732.204" style="stroke: #000000"/>
</g>
</g>
<g id="text_33">
<text style="font-size: 14px; font-family: 'DejaVu Sans', sans-serif; text-anchor: middle" x="436.1256" y="746.341812" transform="rotate(-0 436.1256 746.341812)">31</text>
</g>
</g>
<g id="xtick_22">
<g id="line2d_219">
<g>
<use href="#mc70c0609be" x="500.472" y="732.204" style="stroke: #000000"/>
</g>
</g>
<g id="text_34">
<text style="font-size: 14px; font-family: 'DejaVu Sans', sans-serif; text-anchor: middle" x="500.472" y="746.341812" transform="rotate(-0 500.472 746.341812)">01</text>
</g>
</g>
<g id="xtick_23">
<g id="line2d_220">
<g>
<use href="#mc70c0609be" x="564.8184" y="732.204" style="stroke: #000000"/>
</g>
</g>
<g id="text_35">
<text style="font-size: 14px; font-family: 'DejaVu Sans', sans-serif; text-anchor: middle" x="564.8184" y="746.341812" transform="rotate(-0 564.8184 746.341812)">02</text>
</g>
</g>
<g id="xtick_24">
<g id="line2d_221">
<g>
<use href="#mc70c0609be" x="629.1648" y="732.204" style="stroke: #000000"/>
</g>
</g>
<g id="text_36">
<text style="font-size: 14px; font-family: 'DejaVu Sans', sans-serif; text-anchor: middle" x="629.1648" y="746.341812" transform="rotate(-0 629.1648 746.341812)">03</text>
</g>
</g>
<g id="text_37">
<text style="font-size: 17.36px; font-family: 'DejaVu Sans', sans-serif" transform="translate(317.020681 767.044262)">August/September </text>
<text style="font-size: 17.36px; font-family: 'DejaVu Sans', sans-serif" transform="translate(357.781419 788.132526)">2019 (UT)</text>
</g>
</g>
<g id="matplotlib.axis_8">
<g id="ytick_118">
<g id="line2d_222">
<g>
<use href="#m6d8da96a18" x="143.964" y="732.204" style="stroke: #000000"/>
</g>
</g>
<g id="line2d_223">
<g>
<use href="#me4d9d56b5a" x="658.152" y="732.204" style="stroke: #000000"/>
</g>
</g>
<g id="text_38">
<text style="font-size: 14px; font-family: 'DejaVu Sans', sans-serif; text-anchor: end" x="140.464" y="737.522906" transform="rotate(-0 140.464 737.522906)">0</text>
</g>
</g>
<g id="ytick_119">
<g id="line2d_224">
<g>
<use href="#m6d8da96a18" x="143.964" y="704.708" style="stroke: #000000"/>
</g>
</g>
<g id="line2d_225">
<g>
<use href="#me4d9d56b5a" x="658.152" y="704.708" style="stroke: #000000"/>
</g>
</g>
<g id="text_39">
<text style="font-size: 14px; font-family: 'DejaVu Sans', sans-serif; text-anchor: end" x="140.464" y="710.026906" transform="rotate(-0 140.464 710.026906)">2</text>
</g>
</g>
<g id="ytick_120">
<g id="line2d_226">
<g>
<use href="#m6d8da96a18" x="143.964" y="677.212" style="stroke: #000000"/>
</g>
</g>
<g id="line2d_227">
<g>
<use href="#me4d9d56b5a" x="658.152" y="677.212" style="stroke: #000000"/>
</g>
</g>
<g id="text_40">
<text style="font-size: 14px; font-family: 'DejaVu Sans', sans-serif; text-anchor: end" x="140.464" y="682.530906" transform="rotate(-0 140.464 682.530906)">4</text>
</g>
</g>
<g id="ytick_121">
<g id="line2d_228">
<g>
<use href="#m6d8da96a18" x="143.964" y="649.716" style="stroke: #000000"/>
</g>
</g>
<g id="line2d_229">
<g>
<use href="#me4d9d56b5a" x="658.152" y="649.716" style="stroke: #000000"/>
</g>
</g>
<g id="text_41">
<text style="font-size: 14px; font-family: 'DejaVu Sans', sans-serif; text-anchor: end" x="140.464" y="655.034906" transform="rotate(-0 140.464 655.034906)">6</text>
</g>
</g>
<g id="ytick_122">
<g id="line2d_230">
<g>
<use href="#m6d8da96a18" x="143.964" y="622.22" style="stroke: #000000"/>
</g>
</g>
<g id="line2d_231">
<g>
<use href="#me4d9d56b5a" x="658.152" y="622.22" style="stroke: #000000"/>
</g>
</g>
<g id="text_42">
<text style="font-size: 14px; font-family: 'DejaVu Sans', sans-serif; text-anchor: end" x="140.464" y="627.538906" transform="rotate(-0 140.464 627.538906)">8</text>
</g>
</g>
<g id="text_43">
<text style="font-size: 17.36px; font-family: 'DejaVu Sans', sans-serif; text-anchor: middle" x="124.806163" y="670.338" transform="rotate(-90 124.806163 670.338)">Kp </text>
</g>
</g>
<g id="line2d_232">
<path d="M 594 732.2 L 594 608.5" clip-path="url(#p757b8b4cb4)" style="fill: none; stroke-dasharray: 1.5,2.475; stroke-dashoffset: 0; stroke: #1f77b4; stroke-width: 1.5"/>
</g>
<g id="text_44">
<text style="font-size: 22.2px; font-family: 'DejaVu Sans', sans-serif; opacity: 0.11" transform="translate(630.401813 720.525069) rotate(-90)">Forecast</text>
</g>
<g id="patch_90">
<path d="M 144 732.2 L 144 608.5" style="fill: none; stroke: #000000; stroke-width: 1.5; stroke-linejoin: miter; stroke-linecap: square"/>
</g>
<g id="patch_91">
<path d="M 658.2 732.2 L 658.2 608.5" style="fill: none; stroke: #000000; stroke-width: 1.5; stroke-linejoin: miter; stroke-linecap: square"/>
</g>
<g id="patch_92">
<path d="M 144 732.2 L 658.2 732.2" style="fill: none; stroke: #000000; stroke-width: 1.5; stroke-linejoin: miter; stroke-linecap: square"/>
</g>
<g id="patch_93">
<path d="M 144 608.5 L 658.2 608.5" style="fill: none; stroke: #000000; stroke-width: 1.5; stroke-linejoin: miter; stroke-linecap: square"/>
</g>
<g id="legend_1">
<g id="patch_94">
<path d="M 151 662.9 L 212 662.9 Q 214 662.9 214 660.9 L 214 615.5 Q 214 613.5 212 613.5 L 151 613.5 Q 149 613.5 149 615.5 L 149 660.9 Q 149 662.9 151 662.9 z" style="fill: #ffffff; opacity: 0.8; stroke: #cccccc; stroke-linejoin: miter"/>
</g>
<g id="patch_95">
<path d="M 153.7 625.8 L 173.7 625.8 L 173.7 618.8 L 153.7 618.8 z" style="fill: #008000; stroke: #008000; stroke-linejoin: miter"/>
</g>
<g id="text_45">
<text style="font-size: 10px; font-family: 'DejaVu Sans', sans-serif; text-anchor: start" x="181.664" y="625.770437" transform="rotate(-0 181.664 625.770437)">Kp&lt;3</text>
</g>
<g id="patch_96">
<path d="M 153.7 640.9 L 173.7 640.9 L 173.7 633.9 L 153.7 633.9 z" style="fill: #bfbf00; stroke: #bfbf00; stroke-linejoin: miter"/>
</g>
<g id="text_46">
<text style="font-size: 10px; font-family: 'DejaVu Sans', sans-serif; text-anchor: start" x="181.664" y="640.948562" transform="rotate(-0 181.664 640.948562)">Kp&lt;5</text>
</g>
<g id="patch_97">
<path d="M 153.7 656.1 L 173.7 656.1 L 173.7 649.1 L 153.7 649.1 z" style="fill: #ff0000; stroke: #ff0000; stroke-linejoin: miter"/>
</g>
<g id="text_47">
<text style="font-size: 10px; font-family: 'DejaVu Sans', sans-serif; text-anchor: start" x="181.664" y="656.126687" transform="rotate(-0 181.664 656.126687)">Kp&gt;5</text>
</g>
</g>
</g>
<g id="axes_5">
<g id="patch_98">
<path d="M 867.6 327.3 L 1296 327.3 L 1296 79.2 L 867.6 79.2 z" style="fill: #ffffff"/>
</g>
<g id="line2d_233">
<path d="M 867.6 203.3 L 1296 203.3" clip-path="url(#p132f94b788)" style="fill: none; stroke-dasharray: 1.5,2.475; stroke-dashoffset: 0; stroke: #000000; stroke-width: 1.5"/>
</g>
<g id="matplotlib.axis_9">
<g id="xtick_25">
<g id="line2d_234">
<g>
<use href="#mc70c0609be" x="896.076" y="327.312" style="stroke: #000000"/>
</g>
</g>
</g>
<g id="xtick_26">
<g id="line2d_235">
<g>
<use href="#mc70c0609be" x="949.6584" y="327.312" style="stroke: #000000"/>
</g>
</g>
</g>
<g id="xtick_27">
<g id="line2d_236">
<g>
<use href="#mc70c0609be" x="1003.2408" y="327.312" style="stroke: #000000"/>
</g>
</g>
</g>
<g id="xtick_28">
<g id="line2d_237">
<g>
<use href="#mc70c0609be" x="1056.8232" y="327.312" style="stroke: #000000"/>
</g>
</g>
</g>
<g id="xtick_29">
<g id="line2d_238">
<g>
<use href="#mc70c0609be" x="1110.4056" y="327.312" style="stroke: #000000"/>
</g>
</g>
</g>
<g id="xtick_30">
<g id="line2d_239">
<g>
<use href="#mc70c0609be" x="1163.988" y="327.312" style="stroke: #000000"/>
</g>
</g>
</g>
<g id="xtick_31">
<g id="line2d_240">
<g>
<use href="#mc70c0609be" x="1217.5704" y="327.312" style="stroke: #000000"/>
</g>
</g>
</g>
<g id="xtick_32">
<g id="line2d_241">
<g>
<use href="#mc70c0609be" x="1271.1528" y="327.312" style="stroke: #000000"/>
</g>
</g>
</g>
</g>
<g id="matplotlib.axis_10">
<g id="ytick_123">
<g id="line2d_242">
<g>
<use href="#m6d8da96a18" x="867.564" y="327.312" style="stroke: #000000"/>
</g>
</g>
<g id="text_48">
<text style="font-size: 14px; font-family: 'DejaVu Sans', sans-serif; text-anchor: end" x="864.064" y="332.630906" transform="rotate(-0 864.064 332.630906)">−20</text>
</g>
</g>
<g id="ytick_124">
<g id="line2d_243">
<g>
<use href="#m6d8da96a18" x="867.564" y="296.298" style="stroke: #000000"/>
</g>
</g>
<g id="text_49">
<text style="font-size: 14px; font-family: 'DejaVu Sans', sans-serif; text-anchor: end" x="864.064" y="301.616906" transform="rotate(-0 864.064 301.616906)">−15</text>
</g>
</g>
<g id="ytick_125">
<g id="line2d_244">
<g>
<use href="#m6d8da96a18" x="867.564" y="265.284" style="stroke: #000000"/>
</g>
</g>
<g id="text_50">
<text style="font-size: 14px; font-family: 'DejaVu Sans', sans-serif; text-anchor: end" x="864.064" y="270.602906" transform="rotate(-0 864.064 270.602906)">−10</text>
</g>
</g>
<g id="ytick_126">
<g id="line2d_245">
<g>
<use href="#m6d8da96a18" x="867.564" y="234.27" style="stroke: #000000"/>
</g>
</g>
<g id="text_51">
<text style="font-size: 14px; font-family: 'DejaVu Sans', sans-serif; text-anchor: end" x="864.064" y="239.588906" transform="rotate(-0 864.064 239.588906)">−5</text>
</g>
</g>
<g id="ytick_127">
<g id="line2d_246">
<g>
<use href="#m6d8da96a18" x="867.564" y="203.256" style="stroke: #000000"/>
</g>
</g>
<g id="text_52">
<text style="font-size: 14px; font-family: 'DejaVu Sans', sans-serif; text-anchor: end" x="864.064" y="208.574906" transform="rotate(-0 864.064 208.574906)">0</text>
</g>
</g>
<g id="ytick_128">
<g id="line2d_247">
<g>
<use href="#m6d8da96a18" x="867.564" y="172.242" style="stroke: #000000"/>
</g>
</g>
<g id="text_53">
<text style="font-size: 14px; font-family: 'DejaVu Sans', sans-serif; text-anchor: end" x="864.064" y="177.560906" transform="rotate(-0 864.064 177.560906)">5</text>
</g>
</g>
<g id="ytick_129">
<g id="line2d_248">
<g>
<use href="#m6d8da96a18" x="867.564" y="141.228" style="stroke: #000000"/>
</g>
</g>
<g id="text_54">
<text style="font-size: 14px; font-family: 'DejaVu Sans', sans-serif; text-anchor: end" x="864.064" y="146.546906" transform="rotate(-0 864.064 146.546906)">10</text>
</g>
</g>
<g id="ytick_130">
<g id="line2d_249">
<g>
<use href="#m6d8da96a18" x="867.564" y="110.214" style="stroke: #000000"/>
</g>
</g>
<g id="text_55">
<text style="font-size: 14px; font-family: 'DejaVu Sans', sans-serif; text-anchor: end" x="864.064" y="115.532906" transform="rotate(-0 864.064 115.532906)">15</text>
</g>
</g>
<g id="ytick_131">
<g id="line2d_250">
<g>
<use href="#m6d8da96a18" x="867.564" y="79.2" style="stroke: #000000"/>
</g>
</g>
<g id="text_56">
<text style="font-size: 14px; font-family: 'DejaVu Sans', sans-serif; text-anchor: end" x="864.064" y="84.518906" transform="rotate(-0 864.064 84.518906)">20</text>
</g>
</g>
<g id="text_57">
<text style="font-size: 17.36px; font-family: 'DejaVu Sans', sans-serif" transform="translate(803.38952 231.567719) rotate(-90)">IMF Bz</text>
<text style="font-size: 17.36px; font-family: 'DejaVu Sans', sans-serif" transform="translate(825.4671 226.348869) rotate(-90)">( nT )</text>
</g>
</g>
<g id="line2d_251">
<path d="M867.9 203.3l.2 3.3 .1-.3 .2 42.2 .2-31.8 .1 9.6 .2-10.9 .1 30 .2-8.6 .1-38.4 .2 44.9 .3-57.8 .2 19.9 .1 38.9 .2-41 .3-21.9 .1 9.4 .2 21.6 .2-24.7 .1 22.2 .2-23.6 .1 35.9 .3 18.7 .2-91 .2 84 .1 6 .3-25.8 .3-47.7 .2 .1 .1-1.8 .4 56.3 .1 1.3 .2-.4 .1 36.6 .2-16 .1 .4 .4-30.3 .3 9.1 .1-7.7 .2 15 .1 0 .2 21.3 .2-14.3 .3-42 .1-9 .2-1.1 .1-22.6 .2 1.4 .3 71.7 .5-70.4 .1-.6 .2 8 .1 48.5 .4 28.3 .1-3.3 .2 3 .1-119.1 .2 109.3 .1 8.6 .2-8.8 .2-24.8 .1 23.9 .2-6.6 .1-27.4 .2 12.2 .1-33 .2 .5 .1-16.9 .2 2.1 .2 11.9 .3-15.7 .1 2.2 .2 14 .1 27.1 .4 14.5 .3-17.5 .1-.3 .2 .9 .1-7.2 .2-31 .2-5.1 .1 11.9 .2-3.7 .9 69.7 .2-4.8 .1-22.3 .2 12.5 .1 27.9 .2-36 .1-8.5 .2 15 .2 .2 .1-3.4 .2 17.9 .3-7 .1 7.8 .4-8.9 .3-27.1 .1 8.8 .2 17.6 .1-5.3 .2 1.7 .1-50.3 .2-14.2 .2 6 .1 11.8 .2-1.9 .1-5.7 .3 45.2 .2-45.3 .2-6.4 .3 61.7 .1 .1 .2-5.4 .1-10.7 .2 3.7 .2 12.5 .1-7 .2-12 .1-2.7 .2 5.8 .1-9.9 .2 .3 .1 13.4 .2-4.7 .2 15.5 .3-24.2 .1 17.6 .2-6.2 .1-23.6 .2 35.4 .2-1.2 .1-35.8 .2 33.9 .1 .7 .2 11.4 .1-2.9 .2 4.4 .2 .2 .1-.1 .2-.7 .1-3.1 .2-8.2 .3-46.3 .1-5.6 .2 27 .2 6.3 .1-38.2 .2-.3 .4 .6 .2 1.7 .2-1.2 .3 6.9 .1-6.3 .2 18.4 .1-3.3 .2 39.8 .2 3.2 .1-4 .2 1.4 .1-10.5 .2 8.8 .1-1.2 .2 6.9 .1-1.2 .2 5.6 .2-9 .1 5.8 .2-11.5 .1 1.9 .2-2 .1-22.4 .2-1 .2 31.2 .1-12.8 .2 19.2 .1-5.3 .2 .4 .1 2.9 .2-1.2 .2-3.4 .1-32.8 .2 9.9 .1-23.1 .2-3.5 .1 8.3 .2 15.4 .1-14.6 .2 7.4 .2 1.6 .1 6.8 .2 16 .3 7.2 .1 5.4 .2-1.6 .3-41.9 .2 7 .1 .3 .2-2.9 .1-8 .2 3.6 .3 15.7 .3-21.3 .2 7.4 .1 23.5 .2-9.4 .1 2.3 .2-.8 .2-9.1 .1 2.7 .3 27.8 .2-2.6 .1 3.3 .2-4.9 .2 4.2 .1-.7 .2 3.6 .3-.5 .1-6.1 .2-14.6 .2 2.1 .1 10 .2-26.3 .1 2 .2-.1 .1-1.1 .2-8.1 .3-2.5 .2 1.2 .3 20.7 .3 4.2 .1 0 .2-3.3 .2 1.6 .1 4.8 .2 11.4 .3-16.7 .1 9.6 .4-12 .1 .2 .2 21.7 .1 3.5 .2-.2 .1-17.3 .2 10.6 .1-.4 .2 4.1 .2-.5 .1-4.7 .2 8.1 .1 .8 .2-.7 .1-2.2 .2 1.1 .2-9.8 .1-21.1 .2 30.2 .1-1 .2-18.2 .1 11.7 .2 1.2 .2-19.3 .1 7.7 .2 15.4 .3 2.7 .1-4.2 .2 4.4 .1-6.3 .2 6 .2-1.9 .1 1.9 .2-.7 .1-7.7 .3-31 .2 4.7 .2 .8 .1 1.8 .2-4.3 .1 11.5 .2-14.9 .1 1 .2-5.1 .2 1 .1-1.8 .5 40.1 .1-.5 .2-1.3 .1-12.9 .2 11.5 .2-35.7 .1 6.3 .3-7.7 .2 32 .1 1.6 .2-21.3 .2 28.2 .1-8 .3 6.6 .2-4.5 .1 7 .2-2.1 .2 1.2 .1 .1 .2-4.7 .1-37.8 .3 .9 .2 4.1 .1 17.2 .2-2.6 .2-17.1 .1 2.6 .2-3 .1 6.4 .2-8.8 .1 15.8 .4-8.1 .1 3 .3 28.4 .2-.5 .1-2.6 .2 3.8 .2 1 .1-5 .2-9 .4 10.6 .2-26.7 .1-1.9 .2 3.4 .3-11.3 .2 .1 .1 13.5 .2 2.2 .5 19 .3 1.9 .3-7.4 .3 8.9 .2-.1 .3-9.1 .1 .3 .2 9.2 .4-.9 .2 .1 .3-.5 .2-22.3 .1-4.9 .2 6.5 .1 1.2 .2 2.6 .2-1.3 .1 6.1 .2-.6 .3-15.6 .1 .4 .2-5.2 .2 .9 .3 28.6 .1 .4 .2-.9 .1-4.4 .2-15.8 .3 17.6 .3-24.5 .2 9.1 .1-2.7 .2-9.1 .1 .4 .2 2.7 .2 24.4 .3-23.2 .1 1.3 .3 20.7 .4-3.3 .1-16.5 .2 15.7 .1-18.7 .2 1.7 .1-4.8 .2 8.9 .3-8.9 .2 .9 .1 16.5 .2 1 .1-8.9 .2 13.9 .1 1.9 .2-2.3 .2 1.4 .1-7.1 .2 5.8 .1 1.5 .2-.4 .1-7.9 .2 4.7 .2-2 .1-4.9 .2 5.5 .1-11.5 .2-.9 .1-1.7 .3 14 .2 1.6 .3-1.6 .2-1.9 .1-9.7 .3 3.2 .4-9.4 .1 4.3 .2-2.7 .3 4.1 .1-3.8 .4 9.8 .1-4.4 .2-.1 .1 .3 .2 0 .1-3.1 .2 1.7 .3-4.8 .2-2.2 .1-.4 .2-.1 .3 .1 .1 .6 .2-.9 .3 0 .2-.1 .1 .2 .3 1 .5 4.1 .3-2.1 .3 .6 .2 2.4 .3-.7 .2 1.4 .1 0 .3 .8 .3 .9 .4 .4 .1 0 .2-.2 .3 .7 .1-2 .2 2.1 .2-1 .1-.2 .2 .2 .4 2.3 .2 .5 .2 0 .1 .3 .2-.1 .1-.4 .2 .7 .6 .2 .2 0 .1-.2 .2-.6 .1-2 .2 .1 .1-.5 .2 1.9 .2 .2 .1 1.1 .5-3.3 .3 1.4 .3 0 .3-1 .2 2.7 .1-1.4 .3 1.6 .2-1.6 .2 .5 .3 2.4 .1 0 .2-.5 .1-1.6 .2 .3 .2 .7 .1-1.5 .2 .7 .1-.8 .2 0 .5 .7 .6 1.9 .1-.3 .2 0 .5 .6 .1-1.2 .2 .1 .3 .7 .1-.2 .5 .5 .3-.3 .2-.2 .3 1.7 .2 .9 .1 0 .2-.6 .1-1.1 .2 0 .1-1 .3 .4 .4 2.1 .1 .3 .3-1.8 .2 .5 .3-.2 .2 .5 .1 1 .2 .2 .1 .4 .3 .1 .5-.4 .2 .4 .1-.4 .2 .7 .3-.3 .3 .7 .2-.2 .1 .1 .3-.6 .2 .1 .1-.1 .4-.5 .1 .4 .2 0 .1-.2 .3 0 .5 .6 .2 .7 .1-.6 .2 .3 .1-.1 .2 .7 .1 0 .2 .1 .2-1.3 .3 1 .3-.9 .1 1 .2-.1 .2-.3 .1 .6 .2-.2 .8 1.5 .1-.8 .2 .1 .1 .4 .2-.5 .1 .1 .2-.7 .1 .2 .2-.1 .5 .3 .1 .1 .2-.9 .5 1.2 .4-1.3 .2 1.3 .1-.1 .4 .7 .1-.2 .2 1.5 .3-.3 .1 .7 .2 .1 .1-.8 .2 .4 .2-.5 .1 .3 .3 .9 .2 0 .3-1.4 .2 .7 .1-1 .2 .1 .1 .8 .2-.5 .3 1.5 .2-.5 .1 .6 .2-.2 .1 .3 .5 0 .3 .1 .5 .1 .1-.2 .2 .1 .1-.1 .2 .1 .2 0 .1-.5 .2-2.7 .1-.7 .2-.1 .1-.3 .2 .4 .2-.3 .1 .3 .2 .6 .1-.6 .2 0 .1-.3 .2 .7 .1-.1 .4 1.1 .1 2 .3-1.6 .2 .7 .1 1.1 .2-.1 .3-1 .2 .1 .1-.3 .2 .2 .1-.3 .2-.4 .2-.1 .1-.5 .2 .6 .1-.1 .2 .4 .1-.1 .2 .1 .3 .6 .2-.5 .3 1.4 .1-.5 .2-.8 .1 .2 .2-.1 .2 .6 .1 0 .3-1.3 .2 0 .1 .2 .2 1.5 .5-1.7 .1-.9 .2 0 .1-.3 .2 .5 .3-.9 .3-.1 1 .1 .1 .5 .2 0 .3 .1 .1-.2 .2 .6 .3-.6 .3 1 .2 1.2 .3-2.1 .1 1.1 .4-.8 .3 1.8 .3 5.1 .1-.4 .2-2 .2 0 .1-2.1 .2-.1 .1 4.7 .2-4.7 .1-1.1 .2 2.1 .2-2 .3 .5 .1-.6 .3 13.4 .2-3.8 .1 .9 .2 3.9 .2-9.2 .1-1.2 .2 8.2 .1 1.5 .3-15.7 .2 12.1 .2-3.4 .1 1.5 .2 5 .1-.8 .2 2.1 .1-.4 .5-19.5 .5-8.3 .3 11.4 .1-6 .4 8.8 .3-21.1 .1 6.1 .2 10.8 .3-9.6 .2 9.9 .3-12.9 .1 3.1 .2-14.4 .1-.3 .2 0 .2 .1 .1-.3 .2 0 .3 .8 .1 .8 .2 6.1 .1-.8 .2 .4 .2 4.1 .1 9.8 .2-11.5 .1 22.5 .2-10.3 .1 0 .2-3.9 .2 18.8 .1-15 .2 13.9 .1 .9 .2-4 .1 2.1 .2 .4 .2 2.2 .1-.2 .2-.8 .1-4 .2 .9 .1-3.3 .2-5.5 .3 10 .2-24.1 .1 15.4 .2-17.5 .1 2 .2-8.4 .1 8.3 .2-2.8 .2 .3 .1 6.1 .2-2.1 .1 12.3 .2 .3 .1 3.6 .2-9.9 .2 .9 .1 14.1 .2 .3 .1-1.7 .2 2.7 .3-20.7 .1-6 .4 14.7 .1-10.1 .2 12.7 .3-6 .1 3.3 .2-1.7 .2 8.4 .1-4 .3 6.9 .2-10.2 .1 3.5 .2 7.9 .2-5.9 .1 2.7 .2 5.8 .1-1.2 .2-2.8 .1-5.6 .2-18.3 .1 1.1 .2-4.2 .2 11.7 .1-1.7 .2-12.5 .1-.5 .2 1.6 .1 22.9 .2 1.7 .2 5.8 .1-7.4 .2 3.1 .1-5.5 .2 6.6 .1-20.3 .2 15.9 .2-2.6 .1-19.3 .2 1.3 .1 10.6 .5-14 .1 24.6 .2-1.8 .2 11 .1-15.1 .2-.8 .1 6.2 .3-13.4 .2 16.9 .2-21.1 .1 5.3 .2 19.8 .3-27.9 .1-2.6 .2 0 .2 6.6 .3-7.4 .1 .3 .2-.3 .1 3.6 .2-1.1 .1 .3 .5 29.7 .2-1.9 .1-5 .2 .7 .3-.4 .2-.8 .3-6.9 .1 1.4 .2-1.3 .1 4 .2-4 .2 5 .1-11.3 .2 1 .1-.5 .2 9.1 .1 2.4 .2-2.4 .2 .2 .3 9.2 .4-9.2 .2-11.2 .1 5.6 .2 13.1 .2-1.4 .1 5.6 .2 1 .3-11 .3 4.3 .2-1 .1 5.9 .2-3.6 .1 .4 .2-11.3 .1 7.4 .2-5.8 .2 4.9 .1-5.9 .2 6.3 .1-4.8 .5 7.5 .3-5.7 .3-11.1 .2 21.5 .1 2.5 .2 5.4 .1-.4 .2-4.7 .3 6 .3-3.9 .2-14 .1-1 .4-10.5 .3 5.3 .1 13.8 .2-4.5 .3-15.6 .1 1.8 .5 29.2 .2-2.5 .1-19.8 .2 23.5 .1 1.3 .2-3.7 .2 3.4 .1-1.8 .2 1.4 .1-4.2 .3-14.2 .2-8.2 .2 2.9 .4-9.5 .2 5.4 .3 13.3 .1 1.2 .2-1.6 .2 4.6 .1-6.4 .2-.1 .1-3.2 .2 .5 .1-3.8 .2 11.9 .2-12.8 .1 .2 .2 .7 .1-.6 .2-4.1 .1-.3 .4 5.6 .1 14 .2-2.3 .3 2.8 .1-17.5 .2 16.6 .1-1.9 .5-16.2 .3 17.9 .2-7 .1 3.2 .2-16.1 .2-.6 .1 0 .2-.5 .8 23.4 .1-6.1 .2 11.9 .1 2.1 .2-2.3 .1-5.2 .2 5.5 .1-1.3 .2 2.6 .2-27.2 .1 23.4 .2-27 .1 13.5 .2-7.8 .3 10.4 .3-18.5 .2 3.7 .1 14.9 .2-20.4 .1-.8 .2 .4 .2 1.8 .1 .1 .2 1.1 .1-2.9 .2 8.7 .1 2.2 .2 13.5 .1-20.4 .2-4.9 .2 .6 .1-.6 .2-1.3 .1 .7 .2 12.1 .1-11.8 .2-.9 .2 4.4 .1-6.6 .2 .5 .1 36.1 .2-14 .1-1 .2-23.6 .2 2.1 .1 7.4 .2-5 .1-.5 .2 39.6 .1-12.3 .2 2.6 .1-35.1 .2-3.6 .2 7.5 .3 47.3 .1 2.9 .2 .7 .1-14.6 .2-40.4 .3 62.1 .2 2.3 .3-69.9 .1 57.9 .2 13.4 .2-12.1 .1-53.3 .2-8.8 .1 3.9 .2-2.7 .1 3.8 .2 32.3 .1-40.3 .2 7.8 .2 51.4 .1 3.2 .2 17.9 .1-17.3 .2-54.6 .1 59 .2-61.3 .2-10.8 .1 1 .3 73.5 .2-9.9 .1 19 .2 .7 .3-26.4 .2-38.8 .1 49.4 .2-65.7 .3-4.1 .1 24 .2-24.3 .2 17.3 .1-18.6 .2-.6 .3 50.1 .1-53.5 .2-.3 .3 15.5 .2 1.7 .1-22.5 .3 77.3 .2-3.3 .2-36.1 .1 34.1 .2-44.1 .1 2.5 .2-12.1 .1-2.5 .2-6.8 .3 4.7 .2 12.1 .1-5.2 .2 37.7 .1-4.1 .2-23.4 .1 9.1 .2-6.8 .2 28 .1-35.6 .2 21.9 .1-8.9 .2 6 .1-15.7 .5 61.3 .2-14.2 .1 7.7 .3-61.5 .3 85.2 .4-81 .3 5.8 .1-3.7 .2 0 .1-11.1 .2 4.9 .2 38.1 .1 3.7 .2-13.9 .1 16.4 .2-2.9 .3 8.4 .2-28.5 .1 7.7 .2 23.9 .1 2.8 .2-19.1 .1-46.1 .2 11.2 .1-8.2 .2 7.5 .2 58.9 .1-28 .3 33.9 .2 .4 .1-57.5 .2 46.8 .2 0 .1-44.6 .2-3.8 .1 52.2 .2-14.9 .1 0 .2-7 .2-22.5 .1 19.6 .2 2.7 .1-38.4 .2 55.3 .1-8.4 .2-20.2 .1 29.6 .2 2.3 .2 12.5 .1-21.9 .2 5.6 .1-78.2 .3 39.7 .2 12.7 .2-5.7 .1 .9 .2 27.7 .1-37.9 .2 1.1 .1-7.3 .2 39.5 .3-50.9 .2 5.3 .1 90.2 .2-58.6 .1 .6 .2-8.6 .1 8.3 .2-10.1 .2 17.5 .1-7.6 .2 14.9 .1-11.4 .2-19.6 .1 19.1 .2-13.8 .2 27.5 .3 3.1 .1-29.8 .2 30.7 .1-27.2 .2 40.2 .2-4.9 .3-32.1 .3 42.9 .1-28.6 .2 23.1 .1-22.9 .2 11.7 .2-3.5 .1-43.9 .2-3.5 .1 6.9 .2 46.3 .1-13.1 .4 .2 .1-28 .2 46.7 .1-18.5 .2-.4 .1 13.6 .2-45.5 .2 42.3 .3-14.2 .1 35.3 .2 1.9 .1-3.9 .3-51.5 .2-2.4 .2 6.5 .1 44.9 .2-19.5 .1 1.3 .3-45.3 .2-10.8 .3 9 .2 30.2 .1-5.3 .2 24.3 .1-68.1 .2 64.7 .2-9 .1 10.9 .2-1.4 .1-19.7 .2 9.9 .1-11.2 .2 18.6 .1-36.9 .2 20.3 .3-35.4 .2 56.7 .1 5 .2-13.4 .1-30.6 .2 16.3 .2-8 .1 20.2 .2-21.3 .1 32.3 .2-31.3 .1 57.1 .2 .2 .2-60.6 .1 1.3 .2 24.8 .1-44.3 .2 .5 .1-.9 .2 23.6 .1-6.4 .2 1.8 .2 42.1 .1-24.1 .2 4.6 .3-36.1 .3 40.8 .3-20.9 .2 15.9 .1 1.2 .2-13 .1-3 .2-13.6 .2 9.5 .3 48 .1-30.7 .3 6.4 .2-2 .1 19.4 .2-9.2 .2 21.9 .1-12.4 .2-1.5 .1-47.6 .2 .5 .1 12.9 .2-2.3 .2-8.9 .1 20.7 .3 5.4 .2-40.2 .1 13.3 .2 45.2 .3-61.7 .2 28.6 .1-32.5 .2 13.1 .1-3.2 .5 57.3 .2 1.7 .1 11.3 .2-42.1 .1 25.8 .3-36.3 .2 20 .2-8.5 .1-.3 .2 13.5 .1-12.8 .2-2.4 .3 40.3 .2-2.7 .1-24.3 .2-43.1 .1-6.8 .2 3.8 .1-3.6 .2 8.1 .1-8 .2 11 .2-.5 .1 23.4 .2 2 .1-36.3 .2 52.2 .1-8.8 .2 17.4 .3-61.4 .2 14.3 .1 69.9 .3-62.6 .2 59.7 .2-7.9 .1-14.4 .2 24.8 .3-55.6 .1-1.9 .2 40.9 .3 3.1 .2-29.1 .1 26 .2-53.7 .1 2.4 .2 63.4 .1-68.2 .2 7.1 .2 30.7 .1-10.8 .2 43.7 .1-18.4 .2 20.1 .1-1.2 .4-68.8 .3 50.6 .1-38.7 .2 6.4 .1-4.3 .2-14 .2 68 .1-60.1 .2 59.8 .1-62.4 .2 56.5 .1-4 .2-1.1 .1-39.9 .2-10.8 .2 2.8 .1-2 .2 .1 .1 12 .2 39.3 .1 7.6 .2 1.7 .6-41.7 .2 5.5 .3 32.7 .2 2.8 .3-65.5 .1 43.3 .2-7.5 .3-42.9 .1 21.6 .2-2.9 .2-12.7 .1 42.1 .2 2.6 .1-13.5 .2 9.5 .1-44.3 .2 .3 .2 8.3 .1 30.3 .2-23.4 .1-6.4 .5 48.5 .2-12.5 .3-44.4 .1-2.3 .2-.2 .3 39.4 .1-30.8 .2 2.5 .2 27.7 .3-30.1 .1 1.9 .2 10.1 .1 17.6 .2-10.4 .2-22.6 .1 10.4 .2 21.5 .1-9.6 .2 31.4 .1-23 .2 2.3 .2-24.4 .1 5.2 .3-21.2 .3 38.8 .2-11.6 .1 4.4 .2-1.6 .2 14.3 .1-15.3 .2-.1 .1 38 .3-29.7 .2-21.6 .3 35.1 .2-28.9 .1 17 .5-21.7 .2 7.3 .1 26.3 .2-27.4 .3 21.2 .1-40.6 .2 1.8 .1 36.9 .2 7.2 .2 1 .3 20.6 .3-49.6 .1 2.8 .2 14.8 .3-19.6 .2 35.6 .1 .4 .2 4.4 .1-36.4 .2-3.8 .2 47 .1-4.3 .2-58.3 .1 39.7 .2-10.7 .1 17 .2-41.4 .3 34.6 .2 25.6 .1-9.7 .2-44.9 .1-7.9 .2 50.4 .1-53.9 .2 13.2 .2 41.8 .1-23.8 .2 19.7 .3 9.1 .1-16.1 .2 5.8 .2 19.4 .1-32.6 .2 11.9 .1-44.7 .3 2.3 .2 7 .1-13.1 .2 19.2 .2 34.3 .1-19.4 .2 36.7 .1-6.1 .2-18.8 .1 6.4 .2-41.1 .2-3.6 .1 9.2 .2 19.2 .1-28 .2 30.6 .1 5.1 .2-21.2 .2-5.6 .1-19 .2 11 .1 55.6 .3-63.8 .2 13.1 .1-17.6 .2-1.2 .3 37.9 .2 32.1 .3-61.3 .1-3.7 .2 58.4 .3 12 .2 .7 .1 0 .2 .1 .1-2.9 .4-59.2 .1 10.5 .2 33.3 .1-11.5 .2-29.9 .1 19.6 .2-6.5 .3 26.9 .2-15.3 .1 29.3 .2-56.4 .1 57.8 .2-35 .1 35.5 .2-66.4 .2-3.2 .3 48.8 .1 19.8 .2-14.3 .3-56.6 .2 34.1 .1-30.6 .2 25.1 .3-24.2 .1 .1 .2 .5 .1 14.4 .2 3.9 .2-5.1 .1-16.1 .2 58.7 .1-.5 .2 11.9 .1 .3 .2-.8 .2-57.5 .1-13.8 .2 0 .1 30.5 .2-1.7 .1 37 .4-61.6 .1 .6 .2-2.6 .1 12.2 .2 58.6 .1 1.5 .2-3.8 .3-66.8 .2 23.1 .1 2 .2-6.5 .1-18 .2 12.9 .1 43.1 .2-46 .3-2.8 .2 41.5 .1-17.1 .2 26.2 .1 6 .7-56.8 .1 8.6 .2-13.8 .1 16.7 .2-7.7 .1 28.1 .2-8.4 .2 3.8 .1 0 .2-16.3 .1 35.5 .2-17.2 .1 6.4 .4-25.5 .3 11 .1 18.3 .2-22.7 .1 12.2 .2-15.8 .2 24.3 .1-32.8 .2 24.6 .1-28.9 .2 17.2 .1-13.4 .2 9.1 .1-12.5 .2 9.2 .2-16.4 .1 .8 .2 1.7 .1-4.9 .2 19 .1-14.7 .2 7.2 .2 37.2 .1-24.4 .2 2.6 .1-25.1 .2 14.6 .1 1.1 .2-2.4 .2 46.6 .1-32.4 .2 23 .1-46.7 .2-7.6 .1 5.8 .2 50 .3-35.1 .2-13.1 .1 12.9 .2 32.6 .1-11.6 .2 13.3 .1-51.4 .4 34.1 .1-6.6 .2 30 .3-26.6 .1 1.8 .2-.6 .2-28.9 .1 2.6 .2 30.8 .1-2.2 .2-22.9 .1 14.1 .2-7.2 .1-.2 .2-12.3 .3 14.3 .2 24.6 .1-25.8 .2 27.2 .1-48.4 .2 6.7 .2 12.1 .1-15 .2 9.6 .1 .6 .2 5.9 .3 40.3 .2 .3 .1-53.6 .3 35.4 .2 4.7 .1-38.4 .2-10.9 .1 19.9 .2-10.8 .2 3.8 .1 15.9 .2-17.3 .1 48.4 .2-46 .1-1.7 .2 39.9 .2-50 .3-1.9 .1 51.8 .2-2 .1 6.1 .4-54.6 .1 62.4 .5-57.2 .1 9.2 .2 45 .1-10.6 .2 13.1 .2 .8 .1-16 .2 4.7 .1-24.8 .2 38.3 .1-65.9 .2-.4 .2 .6 .3 68.1 .1-.8 .2-7.1 .1-60.7 .2-.4 .2 11.6 .1-10.3 .2-1.1 .1 4.6 .2-4.2 .1 2.4 .3 60.6 .2-11.3 .2-44.9 .1 52.8 .2 7.8 .1-29.4 .2 30.1 .1-60.9 .2 20.4 .2-23.4 .1-5.1 .3 60.3 .2-60 .3 16.1 .2-4.9 .1-9.9 .2-1.4 .1 2.7 .2 14.8 .1 2.7 .3-19.7 .2 3.1 .2-3.9 .1 16.2 .3-16.1 .2-.1 .1 .9 .4 45.2 .1-10.2 .2-22.5 .1 8.1 .2 40.9 .1-1.2 .4-57.8 .1 50.8 .2-4.6 .1 15.9 .2-4 .1-61.2 .2 1 .1 9.9 .4 49 .1 5.3 .3-17.1 .2-45.9 .1 53.4 .4-53.9 .1 57.5 .2-39.7 .1 41.6 .3-59.2 .2 5.4 .2 1.4 .1 29.9 .3-36.1 .3 16.6 .3-15.5 .2 51.9 .2-17.1 .1 13 .3-47.9 .2 2.3 .1-3.7 .2 27.8 .2 8 .1 17 .3-31.1 .2 4.9 .1 27 .2-11.8 .2 1.6 .1-30.2 .2 13.8 .1-24.5 .2 2.9 .1 49.5 .2-8.1 .2 9 .3-54.8 .1 5.6 .2-1.3 .1 44.9 .2 6 .1-1.1 .2-5.6 .2 5.6 .1-10.9 .3-36.6 .2-6.3 .1 .4 .2 12.5 .2 2.9 .1-7.7 .2 31.1 .1-35.5 .2-2.1 .1 9.5 .2 17.4 .2-28.6 .3 1.2 .1-.6 .2 .8 .1 3.9 .2 1.1 .1 21.1 .2-14.2 .2 27.8 .3-25.6 .1 27.2 .2-34.9 .1 21.8 .2-18.7 .2 12.9 .1-5.4 .2 13.5 .1-26.6 .2 2 .1-2.7 .4 5.5 .1 6.3 .2 10.9 .1-6.5 .2 2.3 .3 19.3 .1-3.2 .2-10.7 .2 6.3 .1-7.2 .2 1.8 .1 10.5 .2 2.7 .1 .1 .4-4.4 .1-19.2 .3 27.5 .2-12.3 .1 1.6 .2-1.6 .2-27.9 .1-3.4 .3 4.7 .2 7.6 .1-4.3 .3 30 .2 1.3 .2-34.2 .1-6.2 .2 18 .1-15.5 .2 13.3 .1-12.1 .2 17.5 .2-15.1 .3 24.8 .1-1.1 .2-4.9 .3 21 .2-38.7 .3 39.1 .1 .4 .2 0 .1-.1 .2-24.6 .1 23.3 .2-2.7 .2 3.7 .3-29.8 .1-1 .2-13.4 .1-1.8 .2 1.3 .5 43.5 .1 1.4 .2-38.3 .1 11.6 .4-3.2 .1-17.1 .2 14 .1-12.3 .2 3.7 .1 12.9 .2 28.1 .1-23.6 .2 17.1 .2 1.6 .1-12.1 .2-3.3 .1-22.8 .2 27.6 .3-11.5 .2 4.8 .1-13.8 .2 15.9 .1-22.4 .3 41.8 .2-4.3 .2-31.3 .3 31.3 .1-.5 .2-8.4 .1 2 .2-10.3 .1 22 .2-36.6 .2-2.9 .1 30.8 .2-34 .1 1.9 .2-5.1 .1 34.6 .2-33.6 .2 7.6 .1 37.4 .2-17.4 .3 15.4 .1-3.6 .2 5.9 .2-10.5 .1-.2 .2-1.1 .1-24 .2 8.1 .3 23 .1-5.8 .2-20.4 .3 25.5 .2-19.3 .3 5.6 .1-25.4 .2 31.3 .2-4.9 .1 17 .2-1.9 .3-36.8 .1 34.5 .4-32.6 .1 14.9 .2-23.3 .3 34.7 .1-6.7 .2 16.5 .3-37.5 .2 18.9 .1-12.7 .2-2.1 .1-11.2 .5 46.2 .2-1.1 .1 1.1 .2-2 .1-12.1 .3 11.6 .2-31.5 .2 13 .1-2.8 .2-16.9 .1 34.5 .2 2.9 .1-42.8 .2 10.6 .1 27.6 .2-2.5 .3 8.1 .2-1.5 .4-26.4 .2 28.4 .2 1.2 .1-16.4 .2 5.7 .1-29.3 .2 3.4 .1 32.2 .2-17.4 .2 17 .1-12 .2-25.7 .1-3.5 .2 3.7 .1-.4 .2 4.8 .1-1.9 .2 39.5 .2-2 .3-26.5 .1 19.3 .3-34 .2 6.6 .3 22.3 .2-6 .1-21.2 .2-3.2 .5 40.7 .1-23.6 .2-.6 .1-.2 .3-5.7 .2 7.2 .1 21.9 .2 1.3 .3-25.1 .3 17.7 .2-31.4 .1 18.5 .2-5.7 .5 29.6 .1-1.4 .2 .2 .1-27.7 .2 25.5 .2-1.9 .1-24.5 .2 7.8 .3-19.7 .1 39.6 .2-1.5 .1 2.6 .2-37.4 .2 11 .3-18.1 .3 16.8 .1-4.8 .2 13.4 .2-22.9 .1-.2 .2-1.5 .1 7.6 .3 26.7 .2 2.9 .2 7.6 .1-8.7 .2-24.7 .3 23.5 .3-13.3 .1-6.7 .2-15.7 .2 26.4 .3-20.2 .1 5.8 .5 30.9 .3-42.3 .2 23.3 .3-17.3 .1-5.2 .2 3.8 .2 .6 .1-4 .2 35.9 .1-7.5 .2 15.2 .1 .4 .2-.2 .1 .1 .2-6.8 .2-30.1 .1 16.4 .5 9.3 .1-6.6 .2-11.4 .3 25.5 .2 .6 .1-24.9 .2 16.2 .1-31.8" clip-path="url(#p132f94b788)" style="fill: none; stroke: #000000; stroke-width: 1.5; stroke-linecap: square"/>
</g>
<g id="patch_99">
<path d="M 867.6 327.3 L 867.6 79.2" style="fill: none; stroke: #000000; stroke-width: 1.5; stroke-linejoin: miter; stroke-linecap: square"/>
</g>
<g id="patch_100">
<path d="M 1296 327.3 L 1296 79.2" style="fill: none; stroke: #000000; stroke-width: 1.5; stroke-linejoin: miter; stroke-linecap: square"/>
</g>
<g id="patch_101">
<path d="M 867.6 327.3 L 1296 327.3" style="fill: none; stroke: #000000; stroke-width: 1.5; stroke-linejoin: miter; stroke-linecap: square"/>
</g>
<g id="patch_102">
<path d="M 867.6 79.2 L 1296 79.2" style="fill: none; stroke: #000000; stroke-width: 1.5; stroke-linejoin: miter; stroke-linecap: square"/>
</g>
<g id="line2d_252">
<path d="M 1242.4 327.3 L 1242.4 79.2" clip-path="url(#p132f94b788)" style="fill: none; stroke-dasharray: 1.5,2.475; stroke-dashoffset: 0; stroke: #1f77b4; stroke-width: 1.5"/>
</g>
</g>
<g id="axes_6">
<g id="matplotlib.axis_11">
<g id="ytick_132">
<g id="line2d_253">
<defs>
<path id="m02b930e753" d="M 0 0 L -3.5 0" style="stroke: #ff0000"/>
</defs>
<g>
<use href="#m02b930e753" x="1296" y="327.312" style="fill: #ff0000; stroke: #ff0000"/>
</g>
</g>
<g id="text_58">
<text style="font-size: 14px; font-family: 'DejaVu Sans', sans-serif; text-anchor: start; fill: #ff0000" x="1299.5" y="332.630906" transform="rotate(-0 1299.5 332.630906)">0</text>
</g>
</g>
<g id="ytick_133">
<g id="line2d_254">
<g>
<use href="#m02b930e753" x="1296" y="277.6896" style="fill: #ff0000; stroke: #ff0000"/>
</g>
</g>
<g id="text_59">
<text style="font-size: 14px; font-family: 'DejaVu Sans', sans-serif; text-anchor: start; fill: #ff0000" x="1299.5" y="283.008506" transform="rotate(-0 1299.5 283.008506)">200</text>
</g>
</g>
<g id="ytick_134">
<g id="line2d_255">
<g>
<use href="#m02b930e753" x="1296" y="228.0672" style="fill: #ff0000; stroke: #ff0000"/>
</g>
</g>
<g id="text_60">
<text style="font-size: 14px; font-family: 'DejaVu Sans', sans-serif; text-anchor: start; fill: #ff0000" x="1299.5" y="233.386106" transform="rotate(-0 1299.5 233.386106)">400</text>
</g>
</g>
<g id="ytick_135">
<g id="line2d_256">
<g>
<use href="#m02b930e753" x="1296" y="178.4448" style="fill: #ff0000; stroke: #ff0000"/>
</g>
</g>
<g id="text_61">
<text style="font-size: 14px; font-family: 'DejaVu Sans', sans-serif; text-anchor: start; fill: #ff0000" x="1299.5" y="183.763706" transform="rotate(-0 1299.5 183.763706)">600</text>
</g>
</g>
<g id="ytick_136">
<g id="line2d_257">
<g>
<use href="#m02b930e753" x="1296" y="128.8224" style="fill: #ff0000; stroke: #ff0000"/>
</g>
</g>
<g id="text_62">
<text style="font-size: 14px; font-family: 'DejaVu Sans', sans-serif; text-anchor: start; fill: #ff0000" x="1299.5" y="134.141306" transform="rotate(-0 1299.5 134.141306)">800</text>
</g>
</g>
<g id="ytick_137">
<g id="line2d_258">
<g>
<use href="#m02b930e753" x="1296" y="79.2" style="fill: #ff0000; stroke: #ff0000"/>
</g>
</g>
<g id="text_63">
<text style="font-size: 14px; font-family: 'DejaVu Sans', sans-serif; text-anchor: start; fill: #ff0000" x="1299.5" y="84.518906" transform="rotate(-0 1299.5 84.518906)">1000</text>
</g>
</g>
<g id="text_64">
<text style="font-size: 17.36px; font-family: 'DejaVu Sans', sans-serif; fill: #ff0000" transform="translate(1353.320887 254.160131) rotate(-90)">SW Velocity</text>
<g style="fill: #ff0000" transform="translate(1377.658455 245.6144) rotate(-90)">
<text>
<tspan x="0" y="-0.81875" style="font-size: 17.36px; font-family: 'DejaVu Sans', sans-serif; fill: #ff0000">(</tspan>
<tspan x="6.778625" y="-0.81875" style="font-size: 17.36px; font-family: 'DejaVu Sans', sans-serif; fill: #ff0000"> </tspan>
<tspan x="12.301636" y="-0.81875" style="font-size: 17.36px; font-family: 'DejaVu Sans', sans-serif; fill: #ff0000">k</tspan>
<tspan x="22.363525" y="-0.81875" style="font-size: 17.36px; font-family: 'DejaVu Sans', sans-serif; fill: #ff0000">m</tspan>
<tspan x="39.288879" y="-0.81875" style="font-size: 17.36px; font-family: 'DejaVu Sans', sans-serif; fill: #ff0000"> </tspan>
<tspan x="44.81189" y="-0.81875" style="font-size: 17.36px; font-family: 'DejaVu Sans', sans-serif; fill: #ff0000">s</tspan>
<tspan x="72.420734" y="-0.81875" style="font-size: 17.36px; font-family: 'DejaVu Sans', sans-serif; fill: #ff0000"> </tspan>
<tspan x="77.943744" y="-0.81875" style="font-size: 17.36px; font-family: 'DejaVu Sans', sans-serif; fill: #ff0000">)</tspan>
<tspan x="54.026892" y="-7.326563" style="font-size: 12.152px; font-family: 'DejaVu Sans', sans-serif; fill: #ff0000">−</tspan>
<tspan x="64.217737" y="-7.326563" style="font-size: 12.152px; font-family: 'DejaVu Sans', sans-serif; fill: #ff0000">1</tspan>
</text>
</g>
</g>
</g>
<g id="line2d_259">
<path d="M867.9 240l.2-.7 .2 1.9 .2-.2 .1 .6 .1-.8 .2-2.2 .2 1.9 .3-.9 .1 .2 .2 1.1 .1-.4 .1-.9 .2 1.5 .1-.1 .1 .8 .2 0 .1 .2 .1-.6 .2 .2 .2-1.3 .2 0 .1 1.6 .3-.7 .1-.6 .2 1.1 .1-.1 .3 .2 .1-1.9 .1 1.5 .2-.5 .1-2.1 .1 1.8 .2-.1 .1-.4 .1 0 .2 1.3 .1-.5 .1-2.1 .2 2.3 .1-1.6 .1 .1 .2 1.2 .1-3.4 .1 .2 .2 2.9 .1-.4 .1-.9 .2 .6 .1-.8 .1 .5 .3-1.8 .1 1.7 .2-.3 .1 .7 .1-.3 .2 1.1 .1 .1 .2-.3 .2-2.3 .2 2.3 .1 .3 .1-1.1 .2 1.8 .1-.4 .1-.6 .3-5.6 .3 .9 .1-.7 .1-6.9 .3 3.6 .1-3.4 .2 .3 .1-.4 .1 2.8 .2-3.9 .1 .4 .1-9.8 .2-.4 .1 3.3 .1-4.8 .2 5.5 .1-8.3 .1 3.8 .2-2.9 .1 10.3 .2-7.9 .2 12.6 .2-9.3 .1 2.4 .1-10.3 .2-18.7 .1 23.1 .1 2.8 .3-16.6 .1 8.5 .2 1.4 .1-13.8 .1 1.3 .2 21.4 .2-14.2 .2 15.8 .1-18.3 .1 17 .2-29.2 .1 11.1 .1 1.7 .2 12.9 .1-7.7 .1 24.2 .2-4.5 .1-30.2 .1 37.3 .2-48.1 .1 47.7 .1-52.2 .2 45.1 .1-51.2 .2 14.9 .1 43.3 .1-64.2 .2-2.5 .2 40.8 .2-2.5 .1 24.4 .1-59.9 .2 45.3 .1-14.9 .1 25 .2-2.1 .1 9.4 .1-63.6 .2 31.3 .1-34.5 .3 59.2 .1-7.8 .1 5.8 .2-21.1 .1 14.2 .1-.1 .2 17.7 .1-3 .1-63.4 .3 64.7 .3-64.5 .1 65.4 .1-19.5 .3 21.2 .2-57.4 .1 19 .1-2.8 .2 30.8 .1-42.4 .1 33.8 .2-11.7 .1 26.4 .1 1.9 .2-63.7 .1 45 .1-27.2 .2 10.6 .1 20.8 .1-97.3 .3 93.2 .1-2.8 .2-141.7 .1 101.1 .1 5.2 .2 10.4 .2 46.9 .2-81.8 .2 56.3 .3-24.2 .1-.8 .2-2 .1 36.8 .1-38.7 .2 49.7 .1-38.4 .2 .9 .2-10.5 .2 1 .1 42.8 .1 4.4 .2-26.4 .1 23.5 .1-8.6 .2-23.5 .1 32.8 .1 .5 .3-13.7 .1 4 .2-4.8 .1 10.6 .1 1.8 .2-3 .2 2.2 .2-8.1 .1-.4 .1-7.9 .2 12.4 .2 1.2 .2-.3 .1-5.7 .1 3.4 .4-15.6 .2 12.2 .1-7.1 .4 10.1 .2-.6 .1-5.3 .1 1.3 .2 0 .1 1.2 .1-4.2 .2 1.6 .1 4.8 .1-.1 .3 .2 .1-.1 .2-2.8 .1-.2 .1 2.3 .2 .2 .1-3.3 .1 .1 .4 .8 .2-1.5 .1-.2 .1 .2 .2 2.4 .1-1.7 .1 1.4 .2-2.5 .1 2.6 .3-.9 .1 1.5 .3-4.7 .1 1.7 .2-.6 .1 .2 .1 4.4 .3-1.8 .1-.7 .2 1.4 .2-.4 .2-3.5 .2 .8 .2-1.5 .4 5.3 .2-4.9 .3-.4 .5 3 .2-.4 .1-2.5 .1 .1 .2 .9 .2 3.2 .2-3.9 .1 0 .2 .6 .1 1.4 .1 2.7 .2-.7 .1-3.3 .3 2.2 .1 .2 .1-.8 .2 3 .1-.8 .1 .5 .2-3.3 .1 2.2 .3-4.1 .1 1.1 .1 2.5 .2-1.2 .1 0 .1 2.6 .3-5 .3 2 .1 3 .1-2.2 .2 2.6 .1 .3 .1-4.5 .2 3.2 .2-4.7 .2 .2 .1 0 .2-.5 .1 .4 .3 6 .1-1.4 .1-5.2 .2-.3 .2 6.4 .2-.1 .1-2.9 .1 .8 .3-2.8 .1 2.1 .2-.4 .1-1.3 .1 .6 .3-3.8 .1 .2 .2 .9 .1 7.1 .1-3.8 .2 4.5 .1 .3 .3-8.3 .1 1.6 .1 6 .2-.9 .1 .5 .3-9.3 .1 .9 .3 7.4 .1-2.7 .2-.1 .1 3.2 .1-3.2 .2 2.9 .2-8.5 .2-.6 .1 2.9 .1-1.2 .3 2.5 .1 .1 .3 4.3 .1-6.5 .2 .8 .2-3.6 .2 9 .1-.4 .3-7 .1 2.1 .1-4.6 .2 .6 .2 8.2 .2-7.8 .1-.9 .1 10.2 .2-11.2 .1-.3 .2-1.1 .2 4.2 .2 6.3 .1-11.1 .1 .9 .2-1.2 .1 3 .1-.7 .2 11.8 .1-2.4 .1-11.2 .2 11.4 .1-11.7 .1 .2 .2 10.4 .2-.4 .2-4.2 .2 6 .2-2 .2 4 .2-4.6 .1-10.5 .1 14.1 .2-5.2 .2 5.2 .2-12.7 .1 7.4 .1-10.8 .2 9.8 .1-6.1 .3 10.6 .1-10.3 .2 3.2 .1-5.9 .1 3.4 .2 10.3 .2-8.2 .2-7.5 .1 12.3 .1-3.7 .2 8.4 .1-11.2 .1 9.6 .2 1.6 .1-3 .1-14.3 .2 16.1 .1 .4 .1-.6 .2 .6 .1-8.9 .1 6.2 .2 .7 .1-11.6 .1 9.9 .2-9.7 .1 10.9 .3 2.3 .1-18.8 .1 7.2 .2-2.9 .1 2.2 .2-1.8 .1 .9 .1-7.1 .3 19.4 .1-.2 .2 .1 .2-18.3 .3 17.9 .1-2.2 .2-16.9 .1 19.3 .1-8.5 .2 7 .1-16.3 .1 15.3 .2-2 .1 3.7 .1-.2 .2-18.3 .1-.7 .3 17.2 .1-42.4 .1 42.9 .3-5.9 .1-.7 .2 6.5 .2-6.6 .2-12.4 .1-1.1 .2 5 .1 12.1 .1-3.5 .3 4.8 .1-4 .2 4.5 .1-11.6 .1 3.2 .2-3.4 .4 11.1 .1-2.7 .1 1.2 .2-6.6 .1 .3 .1 8.1 .2-4.6 .1 4.5 .1-.7 .2-2 .1-30 .1 29.4 .2-5.5 .2 3.5 .2-.6 .1 3.5 .1-2.8 .2-.1 .1-3.5 .1 6.9 .3-10.4 .3 6.2 .1-9.9 .2-49.7 .1 54.6 .3-4.3 .1-1.2 .1 9.5 .2-1 .1-9.8 .1-.6 .2 1.6 .1 13.8 .3-18.3 .1-.4 .1 2.6 .2 15.6 .1-15.7 .1 5.3 .2 11 .1-5.6 .1 5.2 .2 .1 .1-1 .1-12.1 .2 5.3 .1-1.4 .1-3.7 .2 .5 .2 5.6 .2 4.2 .1 .3 .2-2.8 .1-.4 .1 .5 .2-.7 .1 2.3 .1 .2 .2-.7 .1 0 .1-.4 .2 .5 .1 .9 .1 0 .3 3.3 .1-1.6 .2 0 .1-.6 .1 2.3 .2-.2 .2 .4 .2 .9 .1-.4 .3-2.3 .1 1.2 .1-.2 .2-1.2 .1 3.3 .4-2.8 .1-1.2 .2 0 .3 1.3 .1-.2 .3 1.7 .2-2.2 .3 2.1 .1 .1 .2-1.2 .1 1 .1-.9 .2 2.1 .2 .4 .3-1.6 .3 3.1 .1-1 .3 1.8 .2-2.6 .2 0 .1 1.2 .1-1.3 .2 1 .1-.9 .3 2.7 .1-.6 .1 .7 .2-1.1 .1 0 .2 1.3 .1-.3 .1 .4 .2-1.3 .2 1.5 .3-3 .1-.1 .3 1.5 .1-.8 .2 .9 .1 1.7 .1-.3 .2-.6 .4 3.3 .1-1.5 .1 .7 .3-1.1 .1-.6 .2 .8 .1-.5 .1 1.5 .2 .1 .1 .9 .1-2 .2 .6 .2 1.5 .2-.1 .1-1.1 .3 2.4 .1-.2 .2-3.4 .1 .2 .1 1 .2-.2 .1-1 .3 2.5 .1-1.2 .1 .2 .2-.1 .1 1.4 .1-1.8 .2-.2 .2 1 .2 3.3 .1-1.2 .1 .3 .3-.9 .3 2.8 .1-.9 .1 .6 .2-.1 .1 .2 .1 0 .2 1.2 .2-2 .3-2.3 .2 1.2 .1 2.8 .3 .8 .1-.2 .1-.5 .2 1.1 .1-.9 .1 .9 .2-.9 .1 0 .1 .1 .2-.1 .4 1.8 .1-.6 .3-3.7 .1 0 .1 .6 .2 2.1 .1-1.5 .3 1.9 .1 .6 .1-.1 .2 .7 .1 0 .1 .9 .2-.1 .1-2.9 .3 2 .3-1.1 .1 2.2 .1-.1 .2-1.2 .2 .4 .2-1.6 .1 1.9 .1 .1 .2 .8 .1-2 .1 3 .2 .1 .1-.1 .4-2.9 .1 2.8 .2-1.1 .2 1.5 .2-.8 .2 2.2 .2-.3 .1 .4 .1-.2 .4-3.3 .4 3.3 .3 .7 .2-1.2 .1 .5 .1 1.2 .2-1.6 .1 .1 .1-.7 .2 .1 .1-.5 .1 .6 .2-1 .4 1 .1 2.3 .1-.2 .2 .1 .1-.5 .1 1.4 .2-2.5 .1 .8 .3 2.6 .2-.7 .2 .4 .1-.5 .1 .5 .2-1 .1 .8 .1-.3 .3-3 .3 3.4 .1 .8 .2-1.3 .1 1.7 .1 .1 .2-.3 .2 1.1 .2-.1 .2 .9 .2-.2 .2-1.2 .2 1.4 .1 .1 .3-2.9 .1 .7 .1 2 .2-1.6 .2 2.5 .2 .1 .1-3.1 .1 .6 .2-1.2 .1 1.8 .1-1.3 .3 2.2 .1-3 .2 .3 .3 2.3 .1-.2 .1-1.2 .3 3.9 .1-.4 .3-1.2 .1-1.7 .2 .3 .1-.2 .1 2.4 .3-2.9 .1 .2 .3 1.4 .1-1.2 .3 2.7 .3-1.7 .1 2 .1-.6 .2 1.4 .1-.5 .1 .5 .2 2.3 .1-1 .1-2.5 .2 2.8 .1-.1 .1-2 .2 3.1 .1-1.2 .2 1.7 .2-5 .2 0 .1 .6 .1 0 .3 1.3 .1-1.2 .2 3.7 .1-2.8 .1 1 .2-1.4 .1 .6 .1 2.4 .3-2.1 .1 .7 .2-.4 .1 1.7 .1 3.4 .3-4.6 .1 .3 .2 .6 .1-1 .3 3.2 .1 0 .1-2.3 .2 3.4 .1-3 .3 3.6 .1-2.9 .2 .7 .1 2.8 .1-.4 .3-3.5 .1 1.4 .3-1 .1 2 .2-.6 .1 0 .3 1.6 .2-1 .2 .8 .1 .2 .1-2.1 .2 .2 .2-1.2 .2 .3 .1-.8 .1 2 .2-.5 .1 1.1 .3-2.2 .2 3.7 .3-2.3 .1-.3 .2 .8 .3-.5 .1 .7 .1-.9 .2 2.9 .1-1.3 .1 .9 .2-1.7 .2 1.7 .2-.8 .2 1.1 .2 .5 .2-1.7 .2-1.2 .1 .8 .1-1 .3 1.2 .3-1.4 .2 1.9 .2 .1 .1-.3 .1 1.3 .2-2.8 .1 1.7 .1-1.1 .2 1.9 .2-2 .2 1.2 .1-3 .2 .3 .1-.5 .1 .1 .3 3 .1-1.2 .4 1.4 .2 1.8 .1-.3 .1 .4 .2-.6 .2 .3 .3-1.8 .1 1.8 .2 .3 .4 0 .1-2.9 .1 2 .2-1.7 .1 2.1 .1-1.2 .2 .2 .1-.4 .3-2.5 .2 .8 .2 1.5 .1-1 .2 .2 .1-1.2 .1 .2 .2-1.3 .1 2.5 .1-.2 .2-1.5 .2 1.3 .2-.3 .1 1.1 .1-1 .2-3.1 .1-.2 .3 3.3 .1-.1 .1-1.9 .3 1.6 .3-2.9 .4 3.2 .1-.1 .1 .4 .2-1.5 .1 0 .4-3.6 .1 1.9 .3-2.2 .3 2.7 .1-.6 .2 1.3 .1-2.7 .1 2.6 .2-.1 .5-2.9 .1 .1 .2-1.4 .1 3.2 .1-.7 .2 0 .2-1.7 .3 1.1 .3-2.3 .1 1.4 .1-3.2 .2-.1 .1 2.1 .1-.5 .2-1.7 .1 0 .1 .3 .6 4.1 .1-2.7 .4 3.5 .2-.9 .1 .8 .1-.5 .2-3.1 .1 .1 .1-.3 .2 .2 .4 1.6 .1-1.4 .1 1.9 .2-2.3 .1 .5 .3 2 .1 0 .1-.7 .2 .6 .1-2.1 .3 3.5 .1-.3 .1 .4 .2-.9 .2-2.8 .2 2.3 .1 .3 .1-3 .3 .8 .3-2.1 .1 .1 .3 1.1 .1-.1 .3 2.7 .1-.7 .2 .8 .2-1.3 .2-2.5 .2 2.2 .2 .4 .2-1.6 .4 4 .2-.2 .2-2 .2 1.2 .1-.2 .3-2.2 .4 3.3 .1 0 .1-3.6 .2 3.6 .3-1.9 .1 .3 .1 .6 .4-1.5 .2 2.2 .1-.8 .1 .2 .2-.4 .4-2.9 .1 1.2 .3-1.9 .2-.8 .3 2.1 .1-1.1 .2 3 .1-1.2 .4 2.6 .1-.2 .2-1 .2-3.5 .3 1.8 .1 1.6 .2-1.5 .1 .4 .3-3.1 .1 1.3 .2 3 .4 1.1 .1-2.5 .1-.2 .2 2.2 .2-3.8 .3 2.5 .1 0 .3-1.8 .3-1.6 .2-.5 .2 .3 .1 3.7 .1-.3 .2-.8 .1 .6 .1-1.8 .3 2.9 .1-3.4 .2-.4 .1 .7 .3-1.6 .1 .7 .2 4.7 .1-.1 .1-.4 .2 .2 .2-3.9 .3 3.2 .1-4.1 .3 4.1 .3-2.7 .1 1.8 .1-2.2 .3 2.7 .3-3.2 .1 1.9 .1-1 .2 .3 .1-2.5 .1 1.4 .2-1 .2 1.5 .4-1.8 .2 .7 .2 3 .5-3.6 .1 .2 .3-.6 .1 .6 .3 4.8 .1 .5 .1-4.6 .2 2.6 .1-3.5 .4-.7 .4 2.2 .1-.1 .2 1.2 .1-.5 .1-2.2 .2 3 .1-1.1 .1 1.3 .3-2.5 .1 .5 .2-.8 .1 2.7 .1-2.4 .2 .9 .1-.9 .1 .1 .2 3.6 .1-.4 .2-1.4 .1-2.7 .3 .1 .1 3.7 .3-4.6 .2 1.3 .2 3.4 .2-4.9 .4 .4 .2 1.7 .1-1.6 .1 2.5 .2-.3 .2-1.9 .3 .2 .3 3.2 .1-1.2 .1 .6 .3 1.7 .1-1 .2 .9 .1 0 .1 .3 .5-5.3 .2 3.3 .2-1.8 .2 1.4 .2-2.4 .2 3.3 .2 1.4 .2-2.8 .2 2.5 .1 .1 .3-3.2 .1 1.4 .3-1.9 .1 3 .1-.4 .2-1.5 .1 .9 .1 2 .2-.7 .2-4.8 .2 4.6 .1-4.9 .1 2.9 .3-3.1 .1-.1 .2 .3 .1 3.5 .2-2.4 .2 4.5 .2-6.4 .1-.1 .1-.5 .2 1.8 .2-2.2 .2-.1 .1 .3 .1 4.1 .2-.5 .1 2.2 .1-.1 .2-1.5 .1 .2 .3-1.6 .1-3.5 .1-.4 .2 .9 .1-.7 .3 3.1 .1-1.8 .1 2.3 .2-.4 .1 1.2 .1-1.5 .2-3.4 .1 2.3 .1-.8 .3 2.8 .2 .6 .2-6.9 .2 .6 .1 2.7 .1-1.8 .2 1.6 .1-2.3 .3 1.1 .1-.8 .3 3.5 .1 1.5 .1-.5 .2 .5 .1-.6 .1 .4 .2-1.4 .1-2.9 .1 3.7 .2-.2 .1 .2 .3-7 .1 .4 .1 3 .2-3.2 .1 5.3 .1-4.7 .3 5.7 .1-7.6 .2-1 .1 6 .2-.7 .1 .6 .1-.9 .2 2.5 .1 0 .4-7.8 .1 2.7 .2-4.1 .1 4.9 .1-.3 .2 3.7 .1 .1 .1-4.2 .2 3.6 .1-1.7 .1 1 .2 2.3 .1 0 .3 1 .2-1.9 .3 4.2 .1-.8 .2 .6 .2-5.6 .2 1 .4 6.6 .1 .3 .2-.1 .2-.8 .2-3.2 .1 1.5 .1 0 .2 1.5 .1-7.2 .1 .1 .2-3.1 .1 1.1 .1-1.6 .2 4.5 .2-6.7 .2 8.5 .2-9.1 .2 1.3 .1 .1 .1-1.7 .2 8 .1-2.8 .1 4.9 .3 .7 .1-1.7 .3-6.1 .1 7.1 .2-12 .1-.2 .1 .9 .2 5.2 .1 .4 .2-3.7 .1-.3 .1 8.7 .3-15.9 .1 13.9 .2-9.5 .1 1.6 .1 3.2 .2-7.9 .1 12.4 .1-4.3 .2-10.3 .2 12.4 .2-2.9 .1 3.5 .1-14.4 .2 14 .1-9.2 .1 10.6 .2-8.6 .1 2.7 .1 6.7 .2-3.2 .1 1.8 .1-1 .2-15.6 .1 14.3 .1 1.4 .2-14.1 .1 4 .1-6.5 .2 4.2 .1 8.7 .2-2.9 .1-10.4 .1-.8 .3 7.7 .3 4.8 .1-14.1 .3 16.2 .1-1.4 .3-9.1 .2 7.6 .2-3.9 .1 6.1 .1-.3 .2-11.1 .1 4.9 .3-11.2 .1 1.4 .1 3.9 .2-10.2 .1 3.5 .1 7.5 .2-5.7 .1 .9 .1 7.5 .2-4 .1-.3 .1 7.3 .3-7.1 .2 .7 .1 4.5 .3-8 .1-1.2 .1 5.9 .2-9 .1 8 .1-4.1 .2-10.2 .1 9.7 .1 .6 .2-10.1 .1 6.7 .1 .2 .2-3.3 .1-6.4 .1 15.8 .3-2.8 .1-.1 .3-1.1 .1-6.4 .2 4.3 .2-9.2 .2 6.9 .1-4.3 .1-11.2 .3 12.6 .1-2.5 .2 3.5 .3-13 .1 10.7 .1-3 .2-9.3 .1 8.5 .1-4 .2 8.1 .1-.1 .1-1.7 .2-17.1 .2 14.2 .2 .6 .1-2.7 .1-7 .2 2 .1-9.1 .1 5.8 .2-4.6 .1 5.3 .1-.9 .2 14.9 .2-7.7 .2 1.4 .1 11.1 .1-16.4 .3 8.3 .3-3.1 .1-5.7 .2 11.4 .1 .4 .1-9.2 .2-.2 .4 8.2 .1-5.4 .1-11 .2 16.4 .1-17.8 .1 2.3 .2 11.9 .1-8.2 .1 15.5 .2 2.4 .1-1.4 .3-7.4 .1 1 .1-5.5 .2 13.4 .1-13.4 .1 10.7 .3-4.3 .3 5.4 .1-1.8 .4-16.1 .1 12.9 .2-.1 .1 1 .2-10.7 .1 15.6 .1-21.6 .3 13.9 .3-18.4 .1 5.4 .1-6 .2 5.9 .2-11.8 .2 9.3 .1-10.5 .4 18.7 .1-3.4 .2-11.7 .1 14.2 .1-13.3 .2 .5 .1-.9 .1 15.8 .3-17.5 .1 9.1 .2-6.1 .1 12.8 .1-15.8 .2 6.6 .1-13.7 .1 18.1 .2-16.1 .1 4.1 .2-7.7 .1 11.5 .1 .6 .2-19.4 .1 15.7 .1 2.1 .2-2 .1 3.7 .3-18.9 .2 21.5 .3-18.7 .1 .2 .2-1.7 .1 13 .1-1.1 .2 6.6 .1 .7 .1-13.3 .2 7.6 .1-16.8 .3 16.4 .2-16.5 .2 6.4 .1 11.9 .3-16.2 .2 13.3 .2-11.1 .1 2.9 .2 9.7 .1-2.1 .1 1.8 .2-6.2 .1-.6 .1-6.8 .2 .3 .1 14.7 .3-13.8 .1 2 .1-3.6 .3 13.6 .1-11.5 .3 15.5 .1-13.6 .2 7.3 .1-.7 .1 4.9 .2 .6 .1-.6 .1-2.7 .2-5 .1 9.7 .1-9.6 .2 6.5 .1 .8 .1-7.7 .2 1.3 .1 6.6 .1-15.8 .2 12.1 .4-13 .1 8.9 .2-6.6 .1 8.9 .1-9.3 .2 8.7 .1 .1 .1-13.5 .3 8.2 .1-11.3 .3 14.9 .1-6.2 .2 9.2 .2-15.1 .3 13.1 .1-4 .2 .4 .1 5.1 .1-6.7 .2 10.6 .2-4.2 .2-.6 .1-3.7 .1 7.2 .2-7.5 .5 9.2 .2-5.9 .1 4.3 .1-4.2 .3-11.6 .1-3.1 .3 18.1 .1-11.1 .2 1.4 .1-8.5 .1 8.3 .2-8.3 .1 1.6 .1-.3 .2 2.3 .1-.7 .3 3.2 .1-5.7 .1 11.4 .2-14.5 .1 9.8 .1-6.4 .3 11.2 .1-14.4 .3 20.4 .1-.3 .2-1.9 .1-16.2 .1 6 .2-2.4 .1 12 .4-16.5 .2 13.7 .1-5.3 .1 .2 .2 8.9 .1-3.3 .1-.1 .2 8.9 .2-15.3 .3 13.3 .1-17.1 .2 2.8 .2-7.2 .2 10.5 .1-8.3 .1 8.6 .3 .6 .1-.4 .2-10.5 .4 14.9 .1-6.3 .1 12.6 .2-.2 .1-5 .1 3.7 .2-3 .1 3.9 .2-23 .1-.1 .1 4.1 .2 8.6 .1-12.9 .1 4.7 .2 8.5 .2-1 .2-9.6 .1 9.8 .1-11.5 .2 18.4 .1-8.1 .1 12.2 .2-20.2 .1 13 .1 1.7 .3-10.8 .1 14.8 .2-.3 .1 3.2 .3-4.7 .1 .8 .1 2.2 .2-.4 .1 .8 .3-18.9 .1 19.7 .1-3 .2-.2 .1-6.4 .2 6.9 .1-2 .1 3.4 .2-8.3 .2 3.3 .2-3 .1 3.4 .1 6.1 .3-10.8 .1 3.1 .3-15.1 .1 19.5 .2 .7 .1-18.8 .1-2.8 .3 22.6 .3-1.8 .1 2.9 .1-5.3 .2 4.5 .1 .2 .1-14.8 .2 10 .1-2.5 .3-11.5 .1 9.3 .1-.2 .2 5.3 .1-17 .2 1.5 .1 14.3 .1-4.1 .2-7.9 .1 0 .1-7.4 .2 .6 .1 11.5 .1 .6 .2 7.2 .4-22.9 .1 6.3 .1 19.8 .2-2.1 .1-7.4 .1 8.8 .2-1.3 .1-4.2 .1-11 .2 2.6 .1 7.8 .1-14.6 .3 9.2 .1 6.2 .2-4.5 .1-12 .1 12.8 .3-15.4 .1 5.3 .2-3.6 .1 9.5 .2-16.2 .1-2.3 .1 3.6 .2 15.7 .1-.9 .3-22.1 .1 4.9 .1-9.8 .2 16 .1 0 .1-2.1 .2-4.4 .1 14.4 .3-21.8 .2 24.6 .2-12.1 .1 5.1 .1 10.2 .2-16.2 .1-1.3 .1 7.7 .2-16.7 .1 6.5 .1 12.5 .2-4.6 .1 9.1 .1 .1 .2-9.9 .2 8 .2-18.8 .3 1 .1 2.1 .1-.2 .2-3 .1 6.1 .1-5.6 .2 17.5 .1 .4 .1 9.5 .2-3.4 .2-22.1 .2 15.5 .1-2 .4 14.5 .1-9 .2 10 .2-14.3 .3 13.5 .1 1.7 .2-27.2 .1 24 .1-23.7 .2 1 .2 25 .2-22.9 .1-2.9 .1 15.9 .2 1.5 .1-15.5 .2 1.6 .1-2.7 .1 8.7 .2-4.9 .1 21.8 .1-24.8 .3 29.2 .3-13.5 .1-14.9 .3 10.4 .2-9.7 .2 4.7 .1-3.5 .1 1.1 .2 9.4 .1-2 .1 .7 .2 13.7 .1-21.3 .1 24.1 .2-23.1 .1-1 .1 6.3 .2 12.3 .1-2.7 .3-13.2 .1 2.3 .1-3.2 .2 11.4 .1-4.8 .2 18.3 .1-18.4 .1 .7 .2 6.2 .1-12 .1 .6 .2 27.6 .1-9.4 .1 8.3 .3-28 .3 10 .1 4.6 .4-12.8 .1 20 .2-19.7 .1 20.3 .3-18.6 .1 .7 .1 19.7 .2 2.6 .1-1.2 .1-5.4 .2-11 .1 16.1 .3-12.7 .1-.9 .1 .5 .2-5.2 .1 5.2 .2-1.1 .1 1.3 .1-5.6 .2 22.6 .1-15.4 .3 9.5 .2 10.1 .3-4.3 .1-9.7 .2 13.5 .1-20.7 .1 2.3 .3 13.2 .3 5.1 .1-1.8 .1-6.5 .2-.1 .1 10.4 .1-4 .2 3.9 .2-27 .2 1.8 .4 27.4 .1 .2 .1-15.5 .2 8.1 .1-5.2 .2 3.4 .1-3.8 .1-10.5 .2 11.3 .1 1.4 .1 4.3 .2-11.6 .2 16.1 .2 2 .1 .3 .3-26.8 .1 15.8 .1-10.7 .2 4.1 .1 11.6 .3-4 .1 3.3 .1-15.8 .2 19.8 .2-12.3 .2 7.9 .2-11.1 .2 4.1 .1-1.4 .1-3.5 .2 20.3 .2-27.5 .2 1.3 .1-.1 .2 22 .1-5.2 .1 5 .2-.3 .1-17.5 .1 15.8 .2-3.2 .1 12.1 .3-15.6 .1 8.5 .1 1.3 .2-25.9 .1 23.8 .1 3.4 .2-.3 .1-25.2 .1-2.7 .2 1.7 .1 17.5 .1 1.9 .2-19.5 .1 18.9 .1-20.2 .2-.8 .1 3.2 .4-3.4 .1 18.6 .2-17.7 .2 22.2 .2-10.7 .1 2.2 .3 13.9 .1-1.3 .2-26.3 .1-2.2 .1 .9 .2-.7 .1 12.8 .1 1.1 .2-5.9 .1 18.5 .1 1.1 .2-11.4 .1 1.6 .1 9.3 .2-16.7 .1 4.2 .1-14.1 .3 12 .1-4.5 .2 3.8 .1 9.4 .1-1.6 .2-17 .2-4.3 .2 27.3 .4-14.7 .2 6.8 .2-12.9 .1 2.1 .2 13.8 .2-21.8 .2 14.2 .1-10.6 .1 13.7 .2-16 .2 20.2 .2-1.7 .1 3.8 .3-16.8 .1 1.6 .3 19 .1-3.1 .1 2.7 .3-29.1 .1 3.2 .2 12 .1 .1 .1-.5 .3 8.1 .1 2.6 .2-24.2 .1 7.8 .1-7 .2 10.7 .1-.8 .1 3.4 .3-13.1 .2 3.9 .2 16.3 .2-24.7 .2 18 .2-18.5 .1-.5 .1 1.7 .2 15.2 .1-17.8 .3 3.8 .2 26 .2 .3 .2-18.7 .3 17.7 .1 .6 .2-1.9 .1 1.7 .3-29.2 .1-1.8 .1 .3 .3 27.8 .1 2.9 .2-.4 .1-4 .1-22.2 .2-.7 .1 .2 .2 4.4 .2-7.4 .2 25.7 .1 .1 .1 4 .2-28.5 .1-1.2 .1 .8 .2 25.5 .1-11.3 .1 3 .2-4.4 .1 3.4 .1-10.9 .2 13.1 .1-15.6 .1 3.1 .2 10.5 .1 .8 .1 4.7 .2-18.8 .1 11.3 .1-17.5 .3 32.3 .1-23.2 .2 20.8 .1-20 .1-1.1 .2 23.6 .1-.3 .1-2 .3 2.3 .2-21.2 .1 7.9 .1-8.3 .2 12 .1-9.6 .1 14.4 .3-19.6 .1 4.5 .3 19.1 .3-20.5 .2 17.9 .3-25.7 .1 5.7 .2-.1 .1-.9 .1 25.6 .2-8.5 .1 3.4 .1-24 .3 22.4 .1-4.3 .2-8.4 .1 10.7 .1-5.8 .2 13.2 .1-7.1 .3-21.1 .1 .8 .2 3.5 .1-3.3 .1-.1 .2-.7 .1 .2 .1 7.2 .2 0 .1 1.3 .1-.5 .2 1.1 .2 20.5 .2-.9 .1 1 .3-11.8 .1 11.6 .3-26.5 .1 5.9 .1-8.3 .2-.3 .1 23.3 .1-19.7 .3 3.2 .1-4.4 .2 19.7 .1-25.7 .1 31.6 .2 .1 .1-6 .2 7.3 .1-.2 .1-16.4 .2 3.3 .1-7 .1 20.5 .2-.7 .1-1.6 .1-8.1 .2 5.2 .1-20.1 .1 7.2 .2 .6 .1 1.1 .1-8.8 .2 13 .1-14.9 .1 1.5 .3 6.5 .3-8 .1-.4 .1 2.6 .2-1.3 .1 3.7 .1-5.4 .2 5.9 .1 21.9 .1-26.1 .2 3.2 .1 19.5 .1-6.3 .2 6.7 .1-25.7 .2 1 .1 26.1 .1-19.6 .2 8.7 .1-16.1 .3 29.2 .2-9.3 .2 .1 .1 9.2 .3-29 .1 27.9 .1-25.2 .2 15.5 .1-18.4 .1 1.4 .2 9.6 .1-9.7 .1 1.5 .2 17.3 .1-15.4 .3 24.4 .1-28.3 .3 23.1 .1-11.8 .1 16.7 .2 .3 .2-2.1 .2-6.3 .1-17.9 .2 17.2 .2-14 .2 21.3 .1-9.1 .1 9.6 .2-22.5 .1 .6 .1 7 .2 15.7 .1-7.6 .1 6 .2-17.7 .2 17.6 .2-20.6 .1-2.6 .1 18 .2-19 .2 18.9 .2-5.2 .1 10.1 .1-.4 .2-3.5 .1-21 .1-.7 .2 11 .1-10.7 .1 8.4 .2-1.4 .1-4.8 .1 4.8 .2-7.5 .1 3.2 .2 23.8 .1-24 .3 18.6 .1 7.4 .3-24.5 .4-4.2 .1 6.7 .1-4.8 .2 19.8 .1 1.2 .1-19.6 .2 2.8 .1 21.5 .1-10.6 .2 2.8 .1 6.5 .1-13.3 .3 15.5 .1-.1 .2-26.9 .1 25.9 .4-22.9 .1 22.4 .2-2.3 .2-19.9 .3 23.1 .2-22.8 .1-3.7 .1 2.8 .2 16.7 .1-10.7 .1 1.9 .2-8.2 .1 23 .1-8.8 .2 .4 .1 9 .3-12.1 .1 6.2 .1-11.1 .2 17.6 .1-5.9 .1-11.9 .2-1.8 .1-6.6 .1 24 .2 2.9 .4-28.1 .1 1.1 .1 21.9 .2-17 .2 22.2 .2-28.1 .1 3.2 .1-.5 .2 1.3 .1-3.9 .2 3.8 .1-2.9 .1 23.6 .2 3.5 .1-24.7 .1-2.9 .2 2.5 .4 22.2 .1-23.6 .4 6.2 .1-5.5 .2 2.9 .1-1.2 .1 23 .3-26.5 .3 19.3 .1-15 .1-2.1 .2 1.8 .1 23.6 .1-10.2 .2 10 .1 .1 .1-11.6 .2 6.6 .2-22.4 .2 .7 .1 1.8 .2 22 .2 3.1 .2-.9 .1 .9 .1-.6 .2-3.4 .2 4.4 .2 0 .4-24.6 .1-1.5 .1 13.7 .2-8.9 .1 20.8 .1-26.6 .2 .2 .2 25.9 .2-10.7 .1 11.8 .1-.5 .2-15.7 .1 2 .1 7.4 .2-15.5 .1 18.9 .1-8.3 .3 8.6 .1-9.7 .2 8.1 .1-19.1 .2 12.7 .1-13 .1 15.9 .2-7.2 .1 11.1 .1 1.6 .3-13.2 .1 12.1 .2-14.6 .1 10.8 .4-10.3 .1 15.6 .2-19.6 .1 .8 .3 15.4 .1 3.2 .1 0 .2-10.3 .1 2 .1 5.2 .2-1.6 .1-14.8 .3 12.5 .1-11.7 .3 5.1 .2 12.8 .2 .2 .3-6.8 .2-9.5 .2 .8 .1 .1 .3 19 .1-1.8 .1 .3 .2-1.2 .1-3.5 .1 5.1 .2 0 .2-11.5 .2 6.3 .1-11 .3 12.4 .1-6.6 .1-13.8 .2 11.9 .2-12.1 .2-.2 .1 14.5 .1-14.6 .2 3.7 .2 12.5 .2-10.2 .2 8.6 .2-13 .3 22.9 .2-21 .2-2.5 .1 21.2 .1-19.2 .2 1 .1-3.6 .1 21.3 .2-8.6 .2 12.8 .2-1 .1-21.1 .3 19.1 .1-17.9" clip-path="url(#p221b9867fd)" style="fill: none; stroke: #ff0000; stroke-width: 1.5; stroke-linecap: square"/>
</g>
<g id="patch_103">
<path d="M 867.6 327.3 L 867.6 79.2" style="fill: none; stroke: #000000; stroke-width: 1.5; stroke-linejoin: miter; stroke-linecap: square"/>
</g>
<g id="patch_104">
<path d="M 1296 327.3 L 1296 79.2" style="fill: none; stroke: #ff0000; stroke-width: 1.5; stroke-linejoin: miter; stroke-linecap: square"/>
</g>
<g id="patch_105">
<path d="M 867.6 327.3 L 1296 327.3" style="fill: none; stroke: #000000; stroke-width: 1.5; stroke-linejoin: miter; stroke-linecap: square"/>
</g>
<g id="patch_106">
<path d="M 867.6 79.2 L 1296 79.2" style="fill: none; stroke: #000000; stroke-width: 1.5; stroke-linejoin: miter; stroke-linecap: square"/>
</g>
</g>
<g id="axes_7">
<g id="patch_107">
<path d="M 867.6 592 L 1296 592 L 1296 344 L 867.6 344 z" style="fill: #ffffff"/>
</g>
<g id="line2d_260">
<path d="M 867.6 368.8 L 1296 368.8" clip-path="url(#p33e7455018)" style="fill: none; stroke-dasharray: 1.5,2.475; stroke-dashoffset: 0; stroke: #000000; stroke-width: 1.5"/>
</g>
<g id="matplotlib.axis_12">
<g id="xtick_33">
<g id="line2d_261">
<g>
<use href="#mc70c0609be" x="896.076" y="591.984" style="stroke: #000000"/>
</g>
</g>
</g>
<g id="xtick_34">
<g id="line2d_262">
<g>
<use href="#mc70c0609be" x="949.6584" y="591.984" style="stroke: #000000"/>
</g>
</g>
</g>
<g id="xtick_35">
<g id="line2d_263">
<g>
<use href="#mc70c0609be" x="1003.2408" y="591.984" style="stroke: #000000"/>
</g>
</g>
</g>
<g id="xtick_36">
<g id="line2d_264">
<g>
<use href="#mc70c0609be" x="1056.8232" y="591.984" style="stroke: #000000"/>
</g>
</g>
</g>
<g id="xtick_37">
<g id="line2d_265">
<g>
<use href="#mc70c0609be" x="1110.4056" y="591.984" style="stroke: #000000"/>
</g>
</g>
</g>
<g id="xtick_38">
<g id="line2d_266">
<g>
<use href="#mc70c0609be" x="1163.988" y="591.984" style="stroke: #000000"/>
</g>
</g>
</g>
<g id="xtick_39">
<g id="line2d_267">
<g>
<use href="#mc70c0609be" x="1217.5704" y="591.984" style="stroke: #000000"/>
</g>
</g>
</g>
<g id="xtick_40">
<g id="line2d_268">
<g>
<use href="#mc70c0609be" x="1271.1528" y="591.984" style="stroke: #000000"/>
</g>
</g>
</g>
</g>
<g id="matplotlib.axis_13">
<g id="ytick_138">
<g id="line2d_269">
<g>
<use href="#m6d8da96a18" x="867.564" y="567.1872" style="stroke: #000000"/>
</g>
</g>
<g id="text_65">
<text style="font-size: 14px; font-family: 'DejaVu Sans', sans-serif; text-anchor: end" x="864.064" y="572.506106" transform="rotate(-0 864.064 572.506106)">−400</text>
</g>
</g>
<g id="ytick_139">
<g id="line2d_270">
<g>
<use href="#m6d8da96a18" x="867.564" y="517.5936" style="stroke: #000000"/>
</g>
</g>
<g id="text_66">
<text style="font-size: 14px; font-family: 'DejaVu Sans', sans-serif; text-anchor: end" x="864.064" y="522.912506" transform="rotate(-0 864.064 522.912506)">−300</text>
</g>
</g>
<g id="ytick_140">
<g id="line2d_271">
<g>
<use href="#m6d8da96a18" x="867.564" y="468" style="stroke: #000000"/>
</g>
</g>
<g id="text_67">
<text style="font-size: 14px; font-family: 'DejaVu Sans', sans-serif; text-anchor: end" x="864.064" y="473.318906" transform="rotate(-0 864.064 473.318906)">−200</text>
</g>
</g>
<g id="ytick_141">
<g id="line2d_272">
<g>
<use href="#m6d8da96a18" x="867.564" y="418.4064" style="stroke: #000000"/>
</g>
</g>
<g id="text_68">
<text style="font-size: 14px; font-family: 'DejaVu Sans', sans-serif; text-anchor: end" x="864.064" y="423.725306" transform="rotate(-0 864.064 423.725306)">−100</text>
</g>
</g>
<g id="ytick_142">
<g id="line2d_273">
<g>
<use href="#m6d8da96a18" x="867.564" y="368.8128" style="stroke: #000000"/>
</g>
</g>
<g id="text_69">
<text style="font-size: 14px; font-family: 'DejaVu Sans', sans-serif; text-anchor: end" x="864.064" y="374.131706" transform="rotate(-0 864.064 374.131706)">0</text>
</g>
</g>
<g id="text_70">
<text style="font-size: 17.36px; font-family: 'DejaVu Sans', sans-serif" transform="translate(795.797263 482.608169) rotate(-90)">Dst</text>
<text style="font-size: 17.36px; font-family: 'DejaVu Sans', sans-serif" transform="translate(816.1996 491.092869) rotate(-90)">( nT )</text>
</g>
</g>
<g id="line2d_274">
<path d="M 867.9 366.7 L 871.9 365.5 L 875.4 361.3 L 877.8 364.3 L 880.1 372.6 L 883.7 371.4 L 888.4 369 L 893.1 373.3 L 897.8 374.9 L 902.5 372.6 L 906 373.3 L 909.6 376.1 L 913.1 374.2 L 916.7 373.8 L 920.2 373.3 L 924.9 367.2 L 929.6 369.5 L 935.5 371.9 L 940.2 372.1 L 943.8 370.5 L 947.3 371.4 L 950.8 374.2 L 954.4 375.4 L 961.4 374.2 L 966.1 373.3 L 970.9 370.9 L 977.9 371.4 L 982.6 372.8 L 986.2 371.4 L 992.1 369 L 998 366.2 L 1002.7 368.6 L 1006.2 366.2 L 1013.3 367.2 L 1020.3 367.6 L 1027.4 368.1 L 1032.1 368.6 L 1036.8 369.7 L 1043.9 369 L 1051 365 L 1058.1 363.4 L 1062.8 367.2 L 1065.6 367.9 L 1070.3 373.3 L 1076.2 367.6 L 1080.9 373.8 L 1085.6 374.2 L 1089.2 383.2 L 1093.9 381.3 L 1098.6 385.5 L 1105.7 375.6 L 1110.4 382 L 1112.7 380.4 L 1117.4 384.4 L 1122.2 385.5 L 1129.2 385.1 L 1135.1 387.9 L 1143.4 385.1 L 1150.4 396.6 L 1154 392.6 L 1158.7 388.4 L 1164.6 387.9 L 1169.3 391.4 L 1174 389.1 L 1181.1 394.5 L 1185.8 387.2 L 1191.7 393.8 L 1196.4 388.4 L 1202.3 389.1 L 1207 385.5 L 1212.9 380.4 L 1218.8 382 L 1225.9 384.4 L 1232.9 387.9 L 1240 380.8" clip-path="url(#p33e7455018)" style="fill: none; stroke: #000000; stroke-width: 1.5; stroke-linecap: square"/>
</g>
<g id="patch_108">
<path d="M 867.6 592 L 867.6 344" style="fill: none; stroke: #000000; stroke-width: 1.5; stroke-linejoin: miter; stroke-linecap: square"/>
</g>
<g id="patch_109">
<path d="M 1296 592 L 1296 344" style="fill: none; stroke: #000000; stroke-width: 1.5; stroke-linejoin: miter; stroke-linecap: square"/>
</g>
<g id="patch_110">
<path d="M 867.6 592 L 1296 592" style="fill: none; stroke: #000000; stroke-width: 1.5; stroke-linejoin: miter; stroke-linecap: square"/>
</g>
<g id="patch_111">
<path d="M 867.6 344 L 1296 344" style="fill: none; stroke: #000000; stroke-width: 1.5; stroke-linejoin: miter; stroke-linecap: square"/>
</g>
<g id="line2d_275">
<path d="M 1242.4 592 L 1242.4 344" clip-path="url(#p33e7455018)" style="fill: none; stroke-dasharray: 1.5,2.475; stroke-dashoffset: 0; stroke: #1f77b4; stroke-width: 1.5"/>
</g>
</g>
<g id="axes_8">
<g id="matplotlib.axis_14">
<g id="ytick_143">
<g id="line2d_276">
<g>
<use href="#m02b930e753" x="1296" y="591.984" style="fill: #ff0000; stroke: #ff0000"/>
</g>
</g>
<g id="LOGLAB_ax5t_1" transform="translate(0 0.58)">
<g style="fill: #ff0000" transform="translate(1300.4 597.302906)">
<text>
<tspan x="0" y="-0.367188" style="font-size: 14px; font-family: 'DejaVu Sans', sans-serif; fill: #ff0000">1</tspan>
<tspan x="8.907227" y="-0.367188" style="font-size: 14px; font-family: 'DejaVu Sans', sans-serif; fill: #ff0000">0</tspan>
<tspan x="17.948438" y="-5.726562" style="font-size: 9.8px; font-family: 'DejaVu Sans', sans-serif; fill: #ff0000">−</tspan>
<tspan x="26.159766" y="-5.726562" style="font-size: 9.8px; font-family: 'DejaVu Sans', sans-serif; fill: #ff0000">2</tspan>
</text>
</g>
</g>
</g>
<g id="ytick_144">
<g id="line2d_277">
<g>
<use href="#m02b930e753" x="1296" y="529.992" style="fill: #ff0000; stroke: #ff0000"/>
</g>
</g>
<g id="LOGLAB_ax5t_2" transform="translate(0 0.58)">
<g style="fill: #ff0000" transform="translate(1300.4 535.310906)">
<text>
<tspan x="0" y="-0.498438" style="font-size: 14px; font-family: 'DejaVu Sans', sans-serif; fill: #ff0000">1</tspan>
<tspan x="8.907227" y="-0.498438" style="font-size: 14px; font-family: 'DejaVu Sans', sans-serif; fill: #ff0000">0</tspan>
<tspan x="17.948438" y="-5.857813" style="font-size: 9.8px; font-family: 'DejaVu Sans', sans-serif; fill: #ff0000">−</tspan>
<tspan x="26.159766" y="-5.857813" style="font-size: 9.8px; font-family: 'DejaVu Sans', sans-serif; fill: #ff0000">1</tspan>
</text>
</g>
</g>
</g>
<g id="ytick_145">
<g id="line2d_278">
<g>
<use href="#m02b930e753" x="1296" y="468" style="fill: #ff0000; stroke: #ff0000"/>
</g>
</g>
<g id="LOGLAB_ax5t_3" transform="translate(0 0.58)">
<g style="fill: #ff0000" transform="translate(1300.4 473.318906)">
<text>
<tspan x="0" y="-0.367188" style="font-size: 14px; font-family: 'DejaVu Sans', sans-serif; fill: #ff0000">1</tspan>
<tspan x="8.907227" y="-0.367188" style="font-size: 14px; font-family: 'DejaVu Sans', sans-serif; fill: #ff0000">0</tspan>
<tspan x="17.948438" y="-5.726562" style="font-size: 9.8px; font-family: 'DejaVu Sans', sans-serif; fill: #ff0000">0</tspan>
</text>
</g>
</g>
</g>
<g id="ytick_146">
<g id="line2d_279">
<g>
<use href="#m02b930e753" x="1296" y="406.008" style="fill: #ff0000; stroke: #ff0000"/>
</g>
</g>
<g id="LOGLAB_ax5t_4" transform="translate(0 0.58)">
<g style="fill: #ff0000" transform="translate(1300.4 411.326906)">
<text>
<tspan x="0" y="-0.498438" style="font-size: 14px; font-family: 'DejaVu Sans', sans-serif; fill: #ff0000">1</tspan>
<tspan x="8.907227" y="-0.498438" style="font-size: 14px; font-family: 'DejaVu Sans', sans-serif; fill: #ff0000">0</tspan>
<tspan x="17.948438" y="-5.857813" style="font-size: 9.8px; font-family: 'DejaVu Sans', sans-serif; fill: #ff0000">1</tspan>
</text>
</g>
</g>
</g>
<g id="ytick_147">
<g id="line2d_280">
<g>
<use href="#m02b930e753" x="1296" y="344.016" style="fill: #ff0000; stroke: #ff0000"/>
</g>
</g>
<g id="LOGLAB_ax5t_5" transform="translate(0 0.58)">
<g style="fill: #ff0000" transform="translate(1300.4 349.334906)">
<text>
<tspan x="0" y="-0.367188" style="font-size: 14px; font-family: 'DejaVu Sans', sans-serif; fill: #ff0000">1</tspan>
<tspan x="8.907227" y="-0.367188" style="font-size: 14px; font-family: 'DejaVu Sans', sans-serif; fill: #ff0000">0</tspan>
<tspan x="17.948438" y="-5.726562" style="font-size: 9.8px; font-family: 'DejaVu Sans', sans-serif; fill: #ff0000">2</tspan>
</text>
</g>
</g>
</g>
<g id="ytick_148">
<g id="line2d_281">
<defs>
<path id="m4599d3d818" d="M 0 0 L -2 0" style="stroke: #ff0000; stroke-width: 0.8"/>
</defs>
<g>
<use href="#m4599d3d818" x="1296" y="573.322549" style="fill: #ff0000; stroke: #ff0000; stroke-width: 0.8"/>
</g>
</g>
</g>
<g id="ytick_149">
<g id="line2d_282">
<g>
<use href="#m4599d3d818" x="1296" y="562.406299" style="fill: #ff0000; stroke: #ff0000; stroke-width: 0.8"/>
</g>
</g>
</g>
<g id="ytick_150">
<g id="line2d_283">
<g>
<use href="#m4599d3d818" x="1296" y="554.661097" style="fill: #ff0000; stroke: #ff0000; stroke-width: 0.8"/>
</g>
</g>
</g>
<g id="ytick_151">
<g id="line2d_284">
<g>
<use href="#m4599d3d818" x="1296" y="548.653451" style="fill: #ff0000; stroke: #ff0000; stroke-width: 0.8"/>
</g>
</g>
</g>
<g id="ytick_152">
<g id="line2d_285">
<g>
<use href="#m4599d3d818" x="1296" y="543.744848" style="fill: #ff0000; stroke: #ff0000; stroke-width: 0.8"/>
</g>
</g>
</g>
<g id="ytick_153">
<g id="line2d_286">
<g>
<use href="#m4599d3d818" x="1296" y="539.594682" style="fill: #ff0000; stroke: #ff0000; stroke-width: 0.8"/>
</g>
</g>
</g>
<g id="ytick_154">
<g id="line2d_287">
<g>
<use href="#m4599d3d818" x="1296" y="535.999646" style="fill: #ff0000; stroke: #ff0000; stroke-width: 0.8"/>
</g>
</g>
</g>
<g id="ytick_155">
<g id="line2d_288">
<g>
<use href="#m4599d3d818" x="1296" y="532.828598" style="fill: #ff0000; stroke: #ff0000; stroke-width: 0.8"/>
</g>
</g>
</g>
<g id="ytick_156">
<g id="line2d_289">
<g>
<use href="#m4599d3d818" x="1296" y="511.330549" style="fill: #ff0000; stroke: #ff0000; stroke-width: 0.8"/>
</g>
</g>
</g>
<g id="ytick_157">
<g id="line2d_290">
<g>
<use href="#m4599d3d818" x="1296" y="500.414299" style="fill: #ff0000; stroke: #ff0000; stroke-width: 0.8"/>
</g>
</g>
</g>
<g id="ytick_158">
<g id="line2d_291">
<g>
<use href="#m4599d3d818" x="1296" y="492.669097" style="fill: #ff0000; stroke: #ff0000; stroke-width: 0.8"/>
</g>
</g>
</g>
<g id="ytick_159">
<g id="line2d_292">
<g>
<use href="#m4599d3d818" x="1296" y="486.661451" style="fill: #ff0000; stroke: #ff0000; stroke-width: 0.8"/>
</g>
</g>
</g>
<g id="ytick_160">
<g id="line2d_293">
<g>
<use href="#m4599d3d818" x="1296" y="481.752848" style="fill: #ff0000; stroke: #ff0000; stroke-width: 0.8"/>
</g>
</g>
</g>
<g id="ytick_161">
<g id="line2d_294">
<g>
<use href="#m4599d3d818" x="1296" y="477.602682" style="fill: #ff0000; stroke: #ff0000; stroke-width: 0.8"/>
</g>
</g>
</g>
<g id="ytick_162">
<g id="line2d_295">
<g>
<use href="#m4599d3d818" x="1296" y="474.007646" style="fill: #ff0000; stroke: #ff0000; stroke-width: 0.8"/>
</g>
</g>
</g>
<g id="ytick_163">
<g id="line2d_296">
<g>
<use href="#m4599d3d818" x="1296" y="470.836598" style="fill: #ff0000; stroke: #ff0000; stroke-width: 0.8"/>
</g>
</g>
</g>
<g id="ytick_164">
<g id="line2d_297">
<g>
<use href="#m4599d3d818" x="1296" y="449.338549" style="fill: #ff0000; stroke: #ff0000; stroke-width: 0.8"/>
</g>
</g>
</g>
<g id="ytick_165">
<g id="line2d_298">
<g>
<use href="#m4599d3d818" x="1296" y="438.422299" style="fill: #ff0000; stroke: #ff0000; stroke-width: 0.8"/>
</g>
</g>
</g>
<g id="ytick_166">
<g id="line2d_299">
<g>
<use href="#m4599d3d818" x="1296" y="430.677097" style="fill: #ff0000; stroke: #ff0000; stroke-width: 0.8"/>
</g>
</g>
</g>
<g id="ytick_167">
<g id="line2d_300">
<g>
<use href="#m4599d3d818" x="1296" y="424.669451" style="fill: #ff0000; stroke: #ff0000; stroke-width: 0.8"/>
</g>
</g>
</g>
<g id="ytick_168">
<g id="line2d_301">
<g>
<use href="#m4599d3d818" x="1296" y="419.760848" style="fill: #ff0000; stroke: #ff0000; stroke-width: 0.8"/>
</g>
</g>
</g>
<g id="ytick_169">
<g id="line2d_302">
<g>
<use href="#m4599d3d818" x="1296" y="415.610682" style="fill: #ff0000; stroke: #ff0000; stroke-width: 0.8"/>
</g>
</g>
</g>
<g id="ytick_170">
<g id="line2d_303">
<g>
<use href="#m4599d3d818" x="1296" y="412.015646" style="fill: #ff0000; stroke: #ff0000; stroke-width: 0.8"/>
</g>
</g>
</g>
<g id="ytick_171">
<g id="line2d_304">
<g>
<use href="#m4599d3d818" x="1296" y="408.844598" style="fill: #ff0000; stroke: #ff0000; stroke-width: 0.8"/>
</g>
</g>
</g>
<g id="ytick_172">
<g id="line2d_305">
<g>
<use href="#m4599d3d818" x="1296" y="387.346549" style="fill: #ff0000; stroke: #ff0000; stroke-width: 0.8"/>
</g>
</g>
</g>
<g id="ytick_173">
<g id="line2d_306">
<g>
<use href="#m4599d3d818" x="1296" y="376.430299" style="fill: #ff0000; stroke: #ff0000; stroke-width: 0.8"/>
</g>
</g>
</g>
<g id="ytick_174">
<g id="line2d_307">
<g>
<use href="#m4599d3d818" x="1296" y="368.685097" style="fill: #ff0000; stroke: #ff0000; stroke-width: 0.8"/>
</g>
</g>
</g>
<g id="ytick_175">
<g id="line2d_308">
<g>
<use href="#m4599d3d818" x="1296" y="362.677451" style="fill: #ff0000; stroke: #ff0000; stroke-width: 0.8"/>
</g>
</g>
</g>
<g id="ytick_176">
<g id="line2d_309">
<g>
<use href="#m4599d3d818" x="1296" y="357.768848" style="fill: #ff0000; stroke: #ff0000; stroke-width: 0.8"/>
</g>
</g>
</g>
<g id="ytick_177">
<g id="line2d_310">
<g>
<use href="#m4599d3d818" x="1296" y="353.618682" style="fill: #ff0000; stroke: #ff0000; stroke-width: 0.8"/>
</g>
</g>
</g>
<g id="ytick_178">
<g id="line2d_311">
<g>
<use href="#m4599d3d818" x="1296" y="350.023646" style="fill: #ff0000; stroke: #ff0000; stroke-width: 0.8"/>
</g>
</g>
</g>
<g id="ytick_179">
<g id="line2d_312">
<g>
<use href="#m4599d3d818" x="1296" y="346.852598" style="fill: #ff0000; stroke: #ff0000; stroke-width: 0.8"/>
</g>
</g>
</g>
<g id="text_71">
<text style="font-size: 17.36px; font-family: 'DejaVu Sans', sans-serif; fill: #ff0000" transform="translate(1351.710887 521.905512) rotate(-90)">SW Pressure</text>
<text style="font-size: 17.36px; font-family: 'DejaVu Sans', sans-serif; fill: #ff0000" transform="translate(1372.799151 495.953669) rotate(-90)">( nPa )</text>
</g>
</g>
<g id="line2d_313">
<path d="M867.9 440.1l.1-4.8 .2 23.7 .1-16.6 .1 9 .2-15 .1 20.4 .2-21 .3 18 .1 1.2 .3-20 .1 3.9 .1-3.1 .1-12.5 .2 14.7 .2-11.8 .1 60.4 .2-56.6 .1 6.7 .1-17.9 .3 30.1 .1-36.7 .1 5.6 .1-.5 .2 15.9 .1-5.3 .2 12.4 .3-9.1 .1 7.3 .1-15.9 .2 21.3 .2-24.9 .2-1.3 .1-28.4 .2 75.1 .2-10.7 .1-38.6 .1 46.4 .1 4.6 .3-38.5 .1 37.9 .3-24.8 .1 24.4 .1-30.2 .1 28.5 .2-32.1 .1 7.5 .4 41.6 .1-32.4 .1-2.7 .1 9.7 .2-7.6 .1-22.1 .1 26.9 .3-19.5 .1 5.2 .2-27 .2 30.4 .1-7.3 .1 39.8 .2-13.7 .1-35 .2 96.8 .3-112 .2 54.8 .3-20.2 .2 25.1 .2-16.4 .1-42 .1 4.8 .1-17.5 .2 44.5 .2-1.2 .4-52.6 .1 5 .1 17.5 .2-24.8 .2 91.1 .1-74.8 .3 13.8 .1-22.4 .1 45.4 .2-3.6 .2-41.6 .2-5.2 .1 20.3 .1-3.5 .1 76.5 .2-91.8 .1 86.8 .2-93.5 .2 154.9 .2-153.2 .1 7.5 .2 38.1 .1-.7 .1-37.9 .1-3.5 .2 28.7 .1-30.9 .1 74.9 .1-66.3 .2 57.9 .1-58.7 .1 57 .1-5.9 .2-58.3 .1 18 .1 63.5 .1-59.6 .3 39.3 .1-11.2 .1-52.5 .2 70.4 .2-32.8 .3 82.1 .1-93.1 .1 45.5 .2-56.7 .1 59.6 .4-74.6 .1 82.5 .2-82.9 .2 53.8 .1-39 .1 15 .1 57.7 .2-56.6 .1 38.3 .1-28.9 .1 46.3 .2-61.4 .1 66.5 .2-79.5 .2 9.3 .2 28.9 .1 131.3 .2-180.8 .3 64.3 .2 2.3 .1-38.7 .2 39.5 .2-91.8 .1 82.6 .1-16.5 .2 17.6 .1-5.8 .1 14.2 .1-52 .3 45.6 .1-20.5 .1 12.1 .2 33.9 .1-20.6 .1-56.2 .1 19.9 .2-11.5 .1 45.7 .1-63.1 .1 73.3 .2-52.7 .1 49.3 .1 3.4 .1-47.3 .2 27 .1 .6 .1-13.3 .1 3.8 .2 10.1 .1 57.4 .2-60.9 .2-21.2 .1 39.4 .1-9.9 .1-80.7 .2 55.9 .1-2.8 .3-12.2 .2 8.5 .1 43 .2-36.8 .1 41.4 .1-73.8 .1 34.7 .2-5.6 .1 50.5 .2-68.7 .2 74.9 .1-93.5 .1 76.4 .1 4.6 .3-73.3 .1 68.1 .1-45.8 .2 30 .1-34.7 .1 69.8 .1-21.2 .2-47.5 .1 42.8 .1-42.5 .1 37.2 .2-38.3 .1 4.5 .1-42.5 .1 81.2 .2-9.9 .1-29.7 .3 38 .1-45.5 .1 43.6 .1-1.9 .2-14.5 .1 21.6 .1-5.6 .1 2.8 .2 5.4 .1-9.7 .1 4.4 .1-2.4 .2-8.5 .1 4 .4-5.8 .1 .4 .1 1.4 .1 5.5 .2-1.3 .1-2.5 .2 5.3 .2-4.9 .1 4.4 .1-3.3 .3 4.3 .2-6.5 .1-.2 .2 4.4 .1-.2 .1-1.7 .1 3 .2-5.8 .1 7.7 .1-4.4 .2 5.8 .2 .7 .1-1.5 .5 2 .3 .3 .2-.5 .2 .9 .1 .1 .1-4.2 .1 1.3 .2-1 .2 2.4 .1-.9 .2 2.6 .1-.4 .1 1 .1-1.3 .2 1.5 .2-6.9 .1 6.4 .2-3.2 .1 1.6 .1-5 .3 5.3 .1 1 .1-5.7 .2 7.7 .1-2.9 .1-.2 .1 1.8 .2 .1 .2-5.9 .1-1.2 .2 2.9 .1 6.5 .1 .1 .1-.5 .2 .3 .2-8.2 .1 .9 .2 6.1 .1-3.1 .1 2.5 .1 .1 .2-2.8 .1-.1 .1 1.2 .1-.1 .4-3.3 .1 8.7 .3 .6 .2-3.7 .2-2 .1 4.7 .1-.2 .2-2.2 .1 .4 .1 1.1 .1-.7 .2-3.2 .1 5.5 .1-4.2 .1 .1 .2 4.3 .1-2.3 .1 1.1 .1-4.4 .2 6.9 .1-4.9 .1 7.1 .3-5.1 .1 3.5 .1-1.7 .1 5.3 .2-7.6 .2 12.2 .3-2.6 .1 4.9 .1-10 .1 4.4 .2-4.7 .2 16.9 .1-3.5 .2 3.2 .2-11.6 .3-11.3 .1 7.1 .1 16.3 .2-8.1 .1 7.2 .1-7.4 .1 11.4 .2-17.4 .2 11.8 .1 7.6 .2-8.4 .1 4 .1-5.1 .1 6.3 .2-.4 .2-20.1 .1 22.2 .2-3.3 .1-7.7 .2 8.4 .2-26.2 .1 26.2 .1-6.1 .1 7.4 .2-2.3 .1 8.7 .1-13 .3 10.9 .1-20.8 .2 20 .2 2.4 .1-20.8 .3 16.3 .1 5.1 .1-.6 .1-9 .2 1.2 .1 9 .1-2 .1-7.9 .2-26.9 .2 36.6 .1-13 .3 11.3 .1-11.5 .4 12.4 .2-11.1 .2 10.6 .1-18 .1 15.7 .1-21.6 .3 13.6 .1-4.9 .1 9.1 .2-3.7 .1-18.5 .1 17.9 .1-10.2 .2 14.4 .1-5.2 .1-12.3 .2 20.6 .1-12.6 .1 18.4 .1-1 .2-4.8 .1-24.6 .1-1.7 .1 27.2 .3-14.2 .1 19.1 .4-39.6 .1 31.9 .1 2 .2 4.8 .1-1.8 .1-3.9 .1-21.2 .3 27.4 .2-33.9 .2 30.6 .2-3.9 .1 9.6 .2-9.6 .2-33 .3 33.6 .1-.9 .3-25.1 .1 32 .2-28.1 .2 31.7 .1-36.5 .1 24.4 .1-20.9 .3 24.8 .1-1.4 .1-8.3 .2-16 .2 33.4 .1-1 .2 .9 .1-26.1 .1 24.9 .1-36.6 .3 23.8 .1-24 .3 29.3 .1-21.2 .1-1.9 .1 27.1 .2-36.4 .1 4.7 .1 35.8 .1-6.7 .2-27.4 .1 9.5 .3-16.1 .1 2 .1-1.8 .1 4.2 .2 31.4 .1-32.5 .1 32.8 .1-28.4 .2 .8 .1 30.6 .1 1.4 .1 51.1 .3-88.9 .1 15.1 .1-16.8 .2 2.4 .2 35.5 .1-12.5 .2 10.1 .1-4.8 .1-22 .1-78 .3 102.7 .2 10.7 .2 1 .1-3.7 .1-14.5 .1 1.9 .2-2.9 .1-19.1 .1 30.3 .1-2.4 .3 9.5 .1-32.9 .2 10.5 .1-11 .1 29.9 .1-29.7 .2-.1 .1 18.9 .1-95.4 .1 98.2 .2-11.7 .1 25.5 .2-27.6 .3 29.4 .1-1.7 .1-3.5 .2-17.4 .2 20.1 .3-16.6 .1-3.4 .1 5.1 .1-6.1 .2 1.4 .1 19.9 .2-17 .2 3.7 .1-6.7 .1 10.2 .1-5.8 .2 14.3 .1-3 .1 2.2 .2-105.1 .1 107.4 .2-9.1 .3 8.5 .1 0 .1-6.3 .2 6 .1-9 .1 9.6 .4-12 .2 11.3 .2 1.5 .1-6.9 .4 5.5 .1-3.9 .1-.2 .1-6.6 .2 12.8 .1-7.6 .1 5 .1-.9 .2 1 .1-1.1 .1-6.5 .1 1.4 .2 9.2 .2-2.9 .2-4.4 .2 2.7 .1-7.2 .2 11.1 .1-12.5 .2 13.4 .2-8.8 .1 40.8 .1-44.9 .1 0 .2 1 .2 2.7 .1 1.7 .2 3.9 .2-8.7 .3 6.2 .2 8 .1-.3 .2-1 .1-2 .2 4.1 .2-4.1 .1-10.2 .1 14.2 .1-1.7 .2-8.5 .2 10.8 .3-3.4 .1 1.8 .1-12.2 .2-.6 .1 1.2 .2 7.6 .2-6.6 .1 4.4 .1-6.1 .1-.2 .2 6.1 .2-5.9 .1 .5 .2 10.7 .1 .2 .1 .5 .3-4.8 .1 3.8 .2-10.3 .3 15.3 .2-7 .2-3.5 .1 7.8 .1-4.9 .1 7.2 .3-14.3 .2 16.1 .3-.8 .5-15 .3 9.8 .1-3.8 .1 10.1 .1-8.9 .3 8.8 .1 .1 .3-11.5 .1-1.5 .1 2.1 .1 6 .2-3 .1-74.3 .2 80.6 .2-8.6 .1-.3 .1 .9 .5 9.4 .1-10.7 .2-.2 .1 .3 .1 1.2 .1 8.3 .3-5.2 .1-4.1 .2 5.8 .1-2.5 .1 1.1 .1-.1 .2 2.7 .2-4.3 .1 6.9 .3-12.4 .1 6.3 .1-3.6 .3 6.9 .1-7.7 .1 1.8 .2-2.6 .1 1.7 .1-1.2 .1 3.1 .3-4.8 .1 1.5 .3 6.4 .1 2.8 .2-6.6 .2 4.1 .1-5 .1 4.3 .1-7.1 .2 .6 .1-1.3 .4 13.7 .1-8.4 .1 4.7 .2-8.1 .1 1.6 .1-1.7 .1 8.4 .2-.3 .2-7.4 .1 7.5 .2-4.9 .1 3 .1-5.4 .3 3 .2-4.7 .1 2.9 .2-2.7 .1 5 .1-2.4 .1 5.5 .2-3.9 .1 4.6 .2-7 .3 12.6 .1-4.1 .1-7.7 .2-.7 .1 7.7 .1-9.3 .1 3.6 .2-4.4 .1 8.5 .3-9.8 .1 7.1 .1 .4 .1-4.9 .2-.2 .1 0 .1 2.2 .1 9.7 .2-6.6 .1 6.7 .1-5.8 .1 9.9 .2-17.4 .1-1.8 .1 .7 .1 10.4 .2 1 .1-10.4 .1-.4 .1 10.2 .2-10.7 .1 0 .1 .7 .1 6.1 .2 .1 .1 6.6 .1-6.4 .1 6.6 .2-13 .1 3.4 .1-.2 .3-.9 .1 13.9 .1-15.2 .2 2.5 .2 12.3 .1-.6 .2-1.3 .1-5.6 .1 5.4 .3-8.9 .1 6.1 .1-12.3 .1 2.8 .2 .1 .1 1.3 .1 2.5 .3-6.6 .1 3 .1 10.8 .1-9.9 .2 16.3 .2-10.7 .1-5.5 .2 15.3 .1-3.3 .1 2.8 .1-2.6 .2-13.4 .1 3.2 .1 6.2 .1-11.9 .2 2.2 .1 18 .1-.7 .3-18 .1 .3 .1-.2 .2 12 .1-6 .1 10.4 .1-.5 .2 .6 .1-.5 .2-10 .2 7 .1-15.3 .1 5.5 .1-6.8 .2-.3 .1 14.3 .1-13.7 .1 17.2 .2-18.8 .1 .8 .2 20.1 .2-3.4 .1 2.1 .1-19.9 .1 16.4 .3-16 .1 1.2 .1-1.7 .2 4 .1-6.3 .1 13.7 .2-13.1 .1 16 .1-11.4 .1 11.4 .4-20.9 .1 21.1 .2-.9 .1 .5 .1-20.6 .1 14.2 .2-12.9 .2 17.6 .1-9.8 .2 7.4 .2-17.3 .1-2 .2 10.1 .1-9.8 .1-.2 .1 16.9 .2-18.3 .1-1.4 .1 11 .1-4 .2 12.9 .3-17.3 .2 13.1 .1-5 .1 7 .3-17.6 .1 3 .1-6.3 .2-.2 .1 2 .1-3.2 .1 17.4 .2-6.4 .1 11.7 .1-9.4 .1 .8 .2-12.5 .2 10.5 .4-11.4 .2 15.4 .2 1.6 .1-18.6 .1 13.7 .1-3.6 .2 5.4 .1-16.1 .1 6.7 .1-10.9 .2 10.8 .2-10 .1-2.4 .2 15.7 .2-6.8 .1 11.8 .3-19.2 .1-2 .2 15.3 .2-15.9 .1-4.1 .2 9.1 .2-11.5 .3 13.6 .1 .1 .1 7.9 .1-4.7 .2-16.1 .1 12.4 .1-2.2 .1-12.3 .2 .1 .2 7.4 .1-.9 .2-1.3 .1-4.4 .1 1.2 .1-3.4 .2 15.5 .1-12.6 .1 3.5 .1-26.2 .2 24.6 .1-4.9 .1 2 .1-3 .2 6.7 .4-10.2 .1 5.7 .1-.8 .1 2.4 .3-2 .1-6.3 .1 .6 .3-3.7 .1 11.7 .1-4.5 .2 2.5 .1 5.8 .1-.9 .1-2.7 .2-12.2 .2 6.2 .1-.1 .2 3.2 .1-4.4 .1-.2 .1 7.1 .2-2.6 .1-16.3 .2 7.8 .2-2 .1 7.3 .2-8.2 .2 10.1 .1-.6 .3-2.2 .1 .4 .2-8.5 .2 2 .2-3.4 .1 7.8 .2-2 .1 3.2 .1-5 .3 5.2 .1-9.3 .2 13.3 .3-7 .1 3.2 .1-1.3 .2-5.1 .1 6.1 .1 .1 .1 2.5 .2-3.4 .1 1.1 .1 3.2 .1-1.9 .2-10.6 .1 12.9 .1 1 .1-5.6 .2 4.4 .1-12.8 .2 13.1 .2-1.4 .1-9.4 .1-1.1 .2 .4 .1 .9 .1-4.7 .1 15 .2-24.2 .2 20.6 .4-12.1 .1 5.2 .1-5.6 .2 2.3 .1-1.4 .2 11.9 .2 .1 .1-11.9 .1 15.5 .1 1.3 .2-10.7 .1-.3 .1 12.3 .3-6.9 .1-7.9 .1 11.5 .1-2.6 .2-8.5 .1-.7 .1 8 .1-.6 .2 4.8 .1-11.1 .1 5.8 .2-6 .1 1.3 .1 8.8 .1 .6 .2-4.8 .1 .1 .1-4.9 .1 1.1 .2 4.5 .1-.7 .2 12.2 .2-7.2 .1-.5 .1 12.2 .1-3.9 .3 4.6 .1-12.7 .3 14 .1-8.4 .2 2.2 .2 11.3 .1-3.5 .1 .5 .1 1.9 .2-.4 .1-1.7 .2-13.9 .2 4.5 .1-3.3 .1 4.2 .2 10.3 .3-15.9 .2 10.1 .1-10.9 .2 13.4 .2 .4 .1-11.2 .1 2.1 .1-1.1 .2 16.4 .3-14.5 .2 4.9 .1-7 .4 16.5 .2-16.7 .1 8.4 .2-8.4 .3 14 .4-8.3 .1 4.7 .3-11.8 .1 11.4 .2-3.9 .1 10.6 .1-7.4 .1 6.8 .3-6.9 .1 2.6 .1-12.3 .2 15.2 .1 1.1 .1-8.2 .1 1.1 .2-1.6 .2 9.1 .1-10.3 .2 2.4 .2-7.9 .3 14.6 .1 .4 .1 .7 .1 3.2 .2-14 .1 .8 .1-8.2 .1 11 .2-3.3 .1 .7 .1 2.4 .1-5.8 .3 7.1 .1-.5 .1 8.9 .3-3.3 .1-12.6 .2 1.3 .1-.6 .1 .8 .1 4.8 .2-7.9 .2 14.9 .3-12.8 .1 4 .1-.2 .3-6.8 .1 1 .1-2.1 .1 5.8 .2-6.8 .1 17.4 .1-10.3 .3 3.5 .1 9.8 .1-14.2 .3 12.9 .1-.8 .2-6.1 .3 6.4 .1-7.3 .1 .5 .2-11.3 .1 10 .3-9.8 .1 7.7 .1-4.1 .1 1.6 .2 3.5 .1-7.1 .2 14.5 .2 4.5 .1-3.7 .1-9.1 .1 4.6 .2-7.5 .1 11.4 .1-12.6 .3 12.8 .1-17.6 .1 8.3 .1-2.9 .2 3.7 .1-5.6 .1 4.6 .1 12.5 .3-12.8 .1 .4 .1 4.9 .2-11.2 .1 11.1 .2-2.9 .3 9.3 .3-12.5 .1 2.6 .1 10.2 .5-15.7 .1 1.8 .3-4.3 .1 17.9 .1-11.1 .2 3.8 .1-4 .1 .4 .3 8.4 .1-6.5 .1 .8 .1-4.8 .2 5.1 .1-9.4 .1 7.5 .1-7.7 .2 10.6 .2-7.4 .3 12.9 .3-14.4 .2 2.5 .1-1.6 .1 9.8 .2-.6 .1-9.3 .1 7.3 .1 .3 .2 6.5 .1-5.1 .1 4.8 .3-15.2 .3 8 .2-4.1 .1 7.7 .1-.8 .1-12.2 .2 12.4 .1 .2 .1 4 .1-12.2 .4 11.9 .1-11.6 .3-2 .1 4.2 .3-6.1 .1 1.4 .2 16.6 .2-.7 .1-8.1 .1 6.2 .1-.4 .2-6.1 .2 5.8 .2-10 .3-2.6 .2-2.2 .3 16.9 .2-4.6 .1 .6 .1-8.4 .1-.3 .2-3.5 .1 .8 .1-.8 .4 8.6 .1-.7 .1 5 .2-5.5 .1 .7 .2 11.3 .5-16.2 .3 12.8 .4-15.5 .1 11.9 .1-.8 .2 .4 .1-10.4 .1 1 .1 3.6 .2-3 .1 5.1 .1 .6 .1-.8 .2 2.4 .1-1 .4-9.6 .1 .7 .1 5 .1 11.4 .2-.1 .2-5.8 .1 3.9 .3-6.8 .1 3.5 .3-3 .2 7 .3-6.6 .2 10.6 .1-1.6 .2-8.4 .1 8.9 .1-12.4 .2 8.1 .1-3.7 .1 5.3 .1-8.2 .2 1.3 .1-1.5 .1 10.4 .1-9.5 .2 9.8 .1-3 .1-6.8 .1 2.2 .2-4.2 .2 2.5 .1 5.5 .3-11.8 .2 14.2 .2-4.6 .1 3.1 .1-3.5 .1-6.8 .2 85.6 .1-90.3 .1 4.3 .3 13.5 .2-19.1 .3 17.9 .1-13.6 .1 7.4 .3-9.4 .1 13.8 .1-.6 .2 .9 .2-11.1 .1 7.1 .2-5.4 .1 11.6 .2-11.6 .2 1 .1 9.6 .1-5.7 .1 2.8 .2-13.7 .2 8 .1-.9 .2-5.3 .1 1.9 .1-2.1 .1 7.4 .2-9.8 .1 6.2 .1-5.9 .1 .4 .2-3.7 .1 4.9 .1 9.6 .1 1 .2-4.5 .1-11.3 .1 6.4 .1-1.1 .2-7.2 .1 8.3 .3-3.5 .1 7.1 .4-12.9 .1 7.4 .1-11.4 .1 2.1 .4 21.2 .1-17.6 .2 20.9 .1-4.3 .1 3.1 .3-11.8 .1 9.2 .1 .3 .1-20.3 .2 11.1 .1-2.8 .1 2.5 .3-15 .3 1.8 .2 19.5 .1-20.9 .2 20.5 .2-1.9 .1 2.8 .3-19.5 .1-3.8 .2 18.6 .2-1.6 .1 5.5 .1-.9 .1-20.9 .3 15.4 .1-7.6 .1 .2 .2-3.3 .2 17 .1-18.5 .2 13.5 .1-1.6 .1-5.4 .1 13.6 .2-6.1 .1 1.9 .1-9.8 .3 14.6 .1-12.1 .1 12.2 .3-2.6 .1-.7 .1-3.9 .1-13.4 .2 15.7 .1 1.3 .3-15.5 .1-3.1 .1 3 .3 15.6 .1 .7 .2-28 .2-1.3 .1 25.9 .1 .4 .1-3.6 .2 .8 .1 6.9 .1-30.6 .1-.3 .3 26.4 .1-2.5 .1 7 .2-2.2 .2-29.5 .1 1.2 .2-1.3 .2 32.2 .1-21.9 .2 1.6 .1 5.2 .1-18.3 .3 31 .1-.4 .1-30.2 .2 .1 .1 31.5 .1-31.7 .1 9.6 .2-3 .1 19.9 .1-28.5 .1 3.9 .2-3.7 .1 28.1 .1-20.1 .3 11.9 .2 10.1 .1 2.2 .2-1.8 .2-22.1 .1 24 .2-.1 .1-1.9 .1 2.5 .6-30.6 .2 .2 .1 4.6 .1-1.2 .3 16.4 .2-14.9 .1-8.7 .3 22.1 .1-8 .3 9.5 .2-23.5 .3 17.1 .1-4.4 .1 .7 .2 11.8 .1-15.6 .1-.1 .1-5.6 .2 12.2 .1-1.7 .1 .2 .1 14.2 .2-28.8 .1 27 .1-.9 .1-4.7 .2 6.8 .1-14.6 .1 4.3 .3-8.2 .1 1.6 .1 0 .1 3.1 .3-9.3 .2 14 .2 1 .1-7.8 .1 5 .2 111.9 .2-130.5 .1 26.1 .2-26.9 .1 2.6 .1-1.7 .1 5.9 .2-1.3 .1 1.6 .4-9.9 .1 24.9 .2-24.6 .2 .1 .1 89.7 .1-74.9 .1-2.9 .2-.3 .1 24.4 .1-24.2 .1 22.9 .2-34.9 .1 3.8 .1 11.9 .1-6.9 .2 5.2 .1 10.1 .1-2.7 .1-6 .2 13.7 .2-27.5 .3-2.7 .1-.6 .1 1.9 .2-1.8 .1-10.8 .1 17.3 .1-7 .2-.7 .1 12.2 .1 25.4 .1-37.5 .2 .2 .1-.6 .1 .8 .1 5.5 .3 29.3 .1-34.4 .1-.4 .2 3.7 .1 30 .1-2.4 .1 .9 .2-4.4 .1 10.4 .1-9.3 .1-29.4 .2 23.9 .2-10.2 .1 21.5 .2-20.5 .1 18.9 .1-1.2 .2-13.6 .1 3.9 .1-2.6 .1 15 .2-25.5 .1 25.7 .1-26.3 .3 27.7 .1-9 .1 7.9 .3-7.3 .2-23.5 .1 5.2 .3 26.7 .2-6 .2-2.2 .2 5.2 .1-20.7 .2 22.2 .1-7.3 .2-34.4 .2 40.7 .1-6.1 .1-.2 .3-24.1 .1 13.9 .1-5.6 .3 19.2 .1-8.6 .1 7.1 .2-16.4 .1 11.5 .1 0 .1 7.2 .2-2.6 .1 2.7 .1-2.2 .1 5.4 .2-7.6 .1-19 .1 24.3 .1-24.4 .2 11.1 .1-8.5 .1 15.8 .1-22.2 .2 19.3 .1-3.4 .1-18.7 .3 36.5 .1-8.8 .1-.2 .3 2.9 .1 2 .2-31.4 .2 27.7 .1 61.9 .2-85 .2 17.8 .1-19 .1 111 .2-93.1 .1-4.2 .1 4 .1-19.8 .3 14.4 .1-2.3 .1-10 .3 25.3 .1-21.6 .1 .5 .2 7.5 .1-1.5 .1-8.2 .1 25.8 .2 70.8 .1-88.2 .1-4.6 .1 4.5 .2-14 .1 15 .1-8.8 .1 25.8 .3-22.8 .2 25.6 .4-34 .1 19.8 .2-11.6 .1 24.8 .1 80.9 .3-114.3 .2 20.2 .2-20.6 .1 21.8 .1-20 .4 31 .1-30.5 .4 33.6 .1-32.4 .1-2.8 .2 4.2 .1-2.6 .1 34.7 .1-1.9 .3-20.8 .1 13.5 .1-15 .3 18.3 .1 4.6 .1-16 .2 9.9 .1-2 .1-25.2 .4 31.7 .1-4.8 .2-21.7 .1 2.2 .2 14.3 .3-6.7 .2 21.8 .2-28 .1-1.3 .1 11.5 .1-9.8 .2 24.1 .1-20 .1 5.2 .1-3.5 .2 10.2 .2-4.5 .1-4.1 .3 5.2 .1 10.4 .1-13.5 .5 19 .2-1.1 .1 2.4 .2-7.8 .2-1.2 .1 7.1 .1-.8 .1 .2 .2-9.1 .2 12.7 .2-11.8 .1 .9 .1 10.5 .3-17.9 .1 .8 .1 17 .1-5.3 .2 2.8 .1-1.9 .1 4.2 .1-14.4 .2 7.9 .3-6.4 .2 1 .1 5.3 .1-2.4 .1 2.5 .2 7.6 .1-11.1 .1 5.5 .3 .9 .2 4.2 .1 1.3 .3-15.2 .2 12.7 .2-10.9 .4 13.3 .2-16.9 .3 10.5 .1-1.2 .1 2.9 .1-.5 .2-5.3 .1 4.1 .1-7.8 .1 8.4 .2-7 .1-.2 .1 4 .1 .2 .2-.4 .1-11.1 .1 9.9 .3-10.3 .1 7.1 .1-9.8 .1 24.5 .3-16 .1-.4 .1-6.5 .3 11.5 .1-12.4 .1 5.9 .2 13.4 .1-14.2 .1 2.7 .2 7.2 .1-11.2 .2 17.6 .4-12.3 .1 13.4 .2-23.5 .1 .4 .2 4.5 .2 20.8 .1-19.6 .1 15.3 .1-15.8 .2 17.3 .1-20.9 .1 11.2 .1-.5 .2-13.1 .1 0 .1 21 .1 .6 .2-11.7 .1 2.1 .1-10 .3 24 .1-.8 .1-6.3 .3-17.7 .1-1.3 .1 2.1 .1 5.2 .2-5.9 .4 16 .1-15.9 .1-1.8 .1 0 .2 23.9 .1-21.8 .1 21 .1-2.3 .2-15.2 .1 19.5 .1 1.2 .1-1 .2-24.8 .1-.3 .1 18.8 .3-8.8 .1-2.9 .1 14.1 .1-20.3 .2 11 .1-9.6 .1 23.5 .3-16.1 .1-9.5 .1 26.7 .3-24.7 .1 8.1 .1-10.2 .1-.7 .3 .8 .1-.5 .2 1.5 .1-1.4 .1 1.2 .3 23.7 .1-23.4 .1-.5 .1 15.1 .3-17.5 .1 26.3 .1-.2 .3-26 .2 24.2 .3-25.9 .1 4.4 .1 24.1 .2-24.5 .1 4 .2 18 .2-26.1 .1 1.7 .4-1.2 .2-4.8 .1 21.7 .2-5.8 .1 5.8 .1-22.5 .2 8.5 .1 23 .1-11.5 .3 8.3 .1-2.9 .2 6.6 .3-57.2 .1 51.1 .3-29.2 .1 33.2 .1-4.6 .1-17.6 .2 17.6 .1-20.8 .1 24.2 .1-1.2 .3-24.7 .1 3.6 .1 16.4 .2-2.5 .1 10 .1-37.5 .3 21.2 .2-17.5 .1 1.4 .3 31.3 .1-8.5 .2 4.4 .1-2 .4-32.9 .1 12.1 .1 26.4 .3-36.5 .1 36 .1-26.4 .1 .7 .2 17.7 .2-20.3 .3-9.2 .2 18 .1-19.3 .2 32 .1-.7 .1 .3 .3-29.5 .1 35.3 .1-34 .1 33.5 .2-36.8 .1 23.5 .1-20.4 .1 18.6 .2-13.1 .1 22.3 .1-10.3 .1-.5 .2-1.7 .1-9.3 .4 28.3 .1-9 .1 2.3 .2-24.8 .1-1.2 .1 23.6 .3-26.7 .2 34.3 .1-35.4 .3 3.3 .1-3.5 .1 20.4 .2-8.2 .1 26.9 .2-28.5 .3 25.7 .2-9.8 .2-25.4 .2 20.1 .1 2 .2 15.4 .1-3.8 .1 3.6 .1-12.9 .2 13.3 .1-2 .1-14.6 .2 16.6 .1-.4 .1-28.1 .1 26.1 .3-23.4 .2 26 .2-36 .1 21.2 .1-15.2 .1 22.2 .2-17.7 .1 23.4 .1 1.6 .1-45.4 .2 42.3 .1-1.9 .1-3.9 .1-16.4 .2 13.9 .1-20.8 .1 20.3 .3-24.2 .1-1.3 .1 36.3 .1-35.4 .2 36 .1-35.2 .1 8.6 .1-2.3 .2 24.9 .1-29.2 .1-1.2 .3 28.4 .2-30 .2 .5 .1 16.4 .1-2 .1-13.8 .3-1.7 .1 5.1 .1 21.7 .3-21.6 .1 17.9 .1-15.6 .2 23.2 .1-15.9 .1 14.1 .1-29.1 .2 .2 .1 4.1 .1 30.8 .1 1.6 .2-26.7 .1 7.1 .1-7.6 .1 27.4 .2 .9 .1-13.6 .1-.2 .1 13 .2-1.4 .1-27.4 .1 15.6 .3-23.4 .2 9.3 .2 18.2 .1-26.1 .1 33.5 .1 1 .2 81.5 .2-109.9 .1 19.3 .3-44.6 .1 39.3 .1-2.6 .2 16.8 .1-1.6 .1-5.1 .1-28 .3 4.6 .1 22.3 .3-22.3 .1 2.4 .1-6.9 .3 27.8 .1-5.8 .1 5.5 .3-14.9 .1 3.2 .1-.7 .3-8.1 .2 17.9 .2-19.2 .2 24.9 .1-14.7 .2 8.8 .1-6.4 .1 2.1 .3-18 .2 32.8 .1-33.6 .3 34.7 .1 .4 .1-7.5 .2 .6 .1 5.5 .2-3.3 .2-21.7 .2 8.5 .1 11.6 .2-6 .1-11.9 .1 2.2 .1-7.1 .2 6.7 .1-4.6 .1 2.4 .1 8.9 .2-12.8 .1 5 .1-2.5 .3 20.7 .1-4.7 .1 2.7 .3-11.9 .1-8.8 .1 1.7 .2 18.9 .1-16.6 .2 13.6 .5-25.7 .2 6.7 .1-3.4 .1 11.5 .1-.5 .3 11 .1-19.9 .3 5.7 .1 15.4 .1-23.8 .3 23.3 .5-20.8 .1 19.1 .1-.5 .3-21.7 .1 17 .1 .4 .2 10.7 .2-3.4 .1-7 .2 8.2 .1-17.5 .2 6.7 .2-8.4 .2 17 .1-7.9 .2-15.3 .1 8.1 .1-1.9 .3 9.2 .1-6.4 .1 23.4 .1-2.4 .3-11.2 .2-19.7 .3 7.7 .1-1.3 .1-4.5 .2 16.1 .1-.5 .3-8.2 .1 17.9 .1-14.7 .1 13 .3-18.9 .1 22 .1-15.3 .2-1.3 .1 6 .2-16.4 .2 3.2 .2 21.7 .3 .5 .1-22 .2 4.5 .2-6 .2 6.2 .1 11.5 .2 .2 .1-7 .1 12.4 .1-23.3 .3 13.3 .1-11.1 .1 16.1 .2-16.4 .1 4.8 .1-9.2 .3 18.2 .2 15.1 .2-17.7 .1 15.1 .1-17.7 .1 13.5 .2-24.3 .1 34.2 .2-23.8 .2 .9 .1 12.6 .1-25.4 .1 16 .2-8.3 .2 15.9 .3-18.1 .1 27.5 .1-3 .1 5 .2-16.9 .1 13.7 .1 .8 .1-22.2 .2 6.9 .1-6.9 .1 8.5 .1-8.9 .2 3.5 .1 20.3 .1-15.4 .1 6.5 .2-1.2 .1-11.4 .3 22.4 .1-31.4 .1-3 .1 13 .2-11.5 .1 3.4 .2 28.1 .2-6.1 .1 .9 .1-.9 .1-5.1 .2 13.1 .1-28.1 .1 27.4 .1 2.2 .2-30.2 .2-5.4 .1 91.3 .3-88.8 .4 29.3 .1-19.7 .1 25.5 .1-20.3 .2 19.3 .1-27 .1 23.8 .3-33.2 .1 8.1 .1 25.4 .2-32.9 .2 33.5 .1-30.9 .2 34.8 .2-2.4 .1-47.4 .2 49.9 .2-35.4 .3 18.8 .1 15.8 .1-23.3 .1 15.1 .3-26.8 .1 6.9 .1 29.5 .2-1.7 .1-34.3 .1 3.8 .1-4.8 .2 36.2 .2-16.1 .1 12.7 .2-6.6 .1-19.1 .1 1.3 .1 8.9 .3-13.8 .1 18.4 .3-18.5 .1 16.6 .1-17.6 .2 7 .1-6.1 .1 .6 .1 3.1 .3 13.9 .2-10.5 .2-7 .1 7.6 .1-1.7 .1-7.8 .2 3.6 .1 .1 .1-4.3 .1 6.3 .2-.3 .1-2.3 .1 8.6 .3 25.5 .1-9.8 .1-24.8 .3-2.1 .1 1.1 .2 32.4 .3-12.5 .1 6.6 .1-23.1 .2 20.6 .2-21.2 .2 32.2 .1-6.4 .1-27.5 .1 .5 .2 6.6 .1 22.1 .1-2.1 .3-25.6 .2 11.5 .1-2.1 .2-5.5 .1 25.9 .1-.3 .4-27.6 .1 14.8 .1-3.6 .2 7.9 .1-3 .1-5.9 .3 8.4 .2 10.8 .4-22 .2 16.8 .2-19.8 .1 2.5 .1-3.9 .3 20.5 .1 4.7 .1-21.7 .3 28.6 .1-5.7 .1-23.6 .2 6.6 .1 .5 .4 6 .1 13.2 .1-25.8 .1 9.6 .2-9.3 .1 23.8 .1-15.2 .3 19.8 .2-25.9 .3-3.9 .1 12 .1-7 .3 21.1 .1-12.7 .1 3.4 .1-12.9 .2 32.3 .1-29.9 .1 18 .2-22.3 .1 .4 .1 28.5 .3-22.6 .2 25.1 .1-2.9 .3-23.8 .1 18.1 .3-20.5 .1 1.1 .2 30.2 .3-25.9 .1 3.2 .3 25.8 .1-30.2 .1 12.3 .1-14.4 .2 29.3 .1-3.5 .1 5.6 .1-30.2 .2 .3 .2 35.8 .1-30.8 .2 5.4 .2 25.9 .2-17.3 .1 3.8 .2-13.7 .2 13.8 .1 1.3 .1-16.4 .3 15.1 .1-14.6 .1 28.2 .1-28.5 .2 2.9 .1 17.3 .1-5.4 .1-17 .2 2.3 .1 26.7 .1-.2 .3-30.1 .1 3.6 .1 12.3 .1 84.9 .2-86.7 .1 6.5 .1-11 .1 22.7 .3-26.4 .2 24.6 .2 1.4 .2-13.6 .1-2.1 .2-18.1 .1 34.2 .3-1.4 .1-17.9 .2 16.9 .3-11.6 .1-16.1 .4 26.7 .1 1.8 .3-23.9 .1 14.2 .1 1 .1-19.1 .2 11.5 .1-1.6 .1 15.5 .1-1.4 .2 4.3 .1-1.1 .2-24 .3 23.3 .1-7.9 .1-17.5 .2 14.2 .1-13.7 .2 25.8 .2-.1 .1-5.2 .1-26.5 .2 2.9 .1 17.1 .1-4.4 .1-.2 .2 9.8 .1-2.7 .1 1.2 .3-24.1 .1 .3 .1 17.4 .1-7.5 .3 22.8 .2-20.8 .2 8 .1-8.8 .1-.4 .1 .3 .3 19.4 .1-22.1 .1 14.9 .2-7.3 .1 2.1 .1 6.5 .1-17 .5 21.2 .2 1.4 .1-10 .3 5.9 .1-7 .1 5.2 .1-7.2 .3 9.4 .1-10.6 .1 9.5 .3-10.2 .1 4.1 .1 11.7 .2 .3 .1-.8 .1 1.3 .1-17.6 .3 15.6 .2-5.9 .2 9.3 .2-25.4 .1 16.9 .2-16.4 .1 24.8 .1-1.5 .3-10.7 .1-19.3 .2 30.6 .3-15.9 .1-6.1 .2 14.5 .1-7.2 .1 11.2 .1-17.8 .3 19.8 .1-27.3 .1 24.7 .2-5.9 .1-12.9 .1 14.7 .1-19.6 .2 22.3 .1-23.4 .1 30.1 .1 .6 .2-7 .1-26.5 .1-1.6 .1 28.4 .2-4.2 .2 11.1 .1-18.1 .2 9.8 .1-25.2 .1 7.1 .3 22.9 .1-4.4 .1-14.8 .1 15.4 .2-28.5 .1 5.7 .1 27.9 .1-9 .2-21.1 .1 4.5 .3 24.4 .2 2.8 .1-2.1 .2-12.8 .1 10.3 .1-29.3 .1 5.8 .2 20.1 .1-2.8 .1-22.8 .1 33.5 .3-35.1 .1 .7 .1 28.7 .2-8.8 .1 4.9 .1-25.5 .3 25.7 .1 1.9 .1 7.6 .1 .7 .2-1.6 .1-18.9 .1 12.3 .3-22.8 .1-.7 .1 31 .1-32.5 .2-.2 .1 .4 .4 24.9 .2-25.1 .2 21.2 .1-18.5" clip-path="url(#p1a23510bdf)" style="fill: none; stroke: #ff0000; stroke-width: 1.4; stroke-linecap: square"/>
</g>
<g id="patch_112">
<path d="M 867.6 592 L 867.6 344" style="fill: none; stroke: #000000; stroke-width: 1.5; stroke-linejoin: miter; stroke-linecap: square"/>
</g>
<g id="patch_113">
<path d="M 1296 592 L 1296 344" style="fill: none; stroke: #ff0000; stroke-width: 1.5; stroke-linejoin: miter; stroke-linecap: square"/>
</g>
<g id="patch_114">
<path d="M 867.6 592 L 1296 592" style="fill: none; stroke: #000000; stroke-width: 1.5; stroke-linejoin: miter; stroke-linecap: square"/>
</g>
<g id="patch_115">
<path d="M 867.6 344 L 1296 344" style="fill: none; stroke: #000000; stroke-width: 1.5; stroke-linejoin: miter; stroke-linecap: square"/>
</g>
</g>
<g id="axes_9">
<g id="patch_116">
<path d="M 867.6 732.2 L 1296 732.2 L 1296 608.5 L 867.6 608.5 z" style="fill: #ffffff"/>
</g>
<g id="line2d_314">
<path d="M 867.6 670.3 L 1296 670.3" clip-path="url(#p4e7b67fd7a)" style="fill: none; stroke-dasharray: 1.5,2.475; stroke-dashoffset: 0; stroke: #000000; stroke-width: 1.5"/>
</g>
<g id="matplotlib.axis_15">
<g id="xtick_41">
<g id="line2d_315">
<g>
<use href="#mc70c0609be" x="896.076" y="732.204" style="stroke: #000000"/>
</g>
</g>
<g id="text_72">
<text style="font-size: 14px; font-family: 'DejaVu Sans', sans-serif; text-anchor: middle" x="896.076" y="746.341812" transform="rotate(-0 896.076 746.341812)">27</text>
</g>
</g>
<g id="xtick_42">
<g id="line2d_316">
<g>
<use href="#mc70c0609be" x="949.6584" y="732.204" style="stroke: #000000"/>
</g>
</g>
<g id="text_73">
<text style="font-size: 14px; font-family: 'DejaVu Sans', sans-serif; text-anchor: middle" x="949.6584" y="746.341812" transform="rotate(-0 949.6584 746.341812)">28</text>
</g>
</g>
<g id="xtick_43">
<g id="line2d_317">
<g>
<use href="#mc70c0609be" x="1003.2408" y="732.204" style="stroke: #000000"/>
</g>
</g>
<g id="text_74">
<text style="font-size: 14px; font-family: 'DejaVu Sans', sans-serif; text-anchor: middle" x="1003.2408" y="746.341812" transform="rotate(-0 1003.2408 746.341812)">29</text>
</g>
</g>
<g id="xtick_44">
<g id="line2d_318">
<g>
<use href="#mc70c0609be" x="1056.8232" y="732.204" style="stroke: #000000"/>
</g>
</g>
<g id="text_75">
<text style="font-size: 14px; font-family: 'DejaVu Sans', sans-serif; text-anchor: middle" x="1056.8232" y="746.341812" transform="rotate(-0 1056.8232 746.341812)">30</text>
</g>
</g>
<g id="xtick_45">
<g id="line2d_319">
<g>
<use href="#mc70c0609be" x="1110.4056" y="732.204" style="stroke: #000000"/>
</g>
</g>
<g id="text_76">
<text style="font-size: 14px; font-family: 'DejaVu Sans', sans-serif; text-anchor: middle" x="1110.4056" y="746.341812" transform="rotate(-0 1110.4056 746.341812)">31</text>
</g>
</g>
<g id="xtick_46">
<g id="line2d_320">
<g>
<use href="#mc70c0609be" x="1163.988" y="732.204" style="stroke: #000000"/>
</g>
</g>
<g id="text_77">
<text style="font-size: 14px; font-family: 'DejaVu Sans', sans-serif; text-anchor: middle" x="1163.988" y="746.341812" transform="rotate(-0 1163.988 746.341812)">01</text>
</g>
</g>
<g id="xtick_47">
<g id="line2d_321">
<g>
<use href="#mc70c0609be" x="1217.5704" y="732.204" style="stroke: #000000"/>
</g>
</g>
<g id="text_78">
<text style="font-size: 14px; font-family: 'DejaVu Sans', sans-serif; text-anchor: middle" x="1217.5704" y="746.341812" transform="rotate(-0 1217.5704 746.341812)">02</text>
</g>
</g>
<g id="xtick_48">
<g id="line2d_322">
<g>
<use href="#mc70c0609be" x="1271.1528" y="732.204" style="stroke: #000000"/>
</g>
</g>
<g id="text_79">
<text style="font-size: 14px; font-family: 'DejaVu Sans', sans-serif; text-anchor: middle" x="1271.1528" y="746.341812" transform="rotate(-0 1271.1528 746.341812)">03</text>
</g>
</g>
<g id="text_80">
<text style="font-size: 17.36px; font-family: 'DejaVu Sans', sans-serif" transform="translate(997.744681 767.044262)">August/September </text>
<text style="font-size: 17.36px; font-family: 'DejaVu Sans', sans-serif" transform="translate(1038.505419 788.132526)">2019 (UT)</text>
</g>
</g>
<g id="matplotlib.axis_16">
<g id="ytick_180">
<g id="line2d_323">
<g>
<use href="#m6d8da96a18" x="867.564" y="732.204" style="stroke: #000000"/>
</g>
</g>
<g id="line2d_324">
<g>
<use href="#me4d9d56b5a" x="1296" y="732.204" style="stroke: #000000"/>
</g>
</g>
<g id="LOGLAB_ax6_1" transform="translate(0 0.58)">
<g transform="translate(831.164 737.522906)">
<text>
<tspan x="0" y="-0.498438" style="font-size: 14px; font-family: 'DejaVu Sans', sans-serif">1</tspan>
<tspan x="8.907227" y="-0.498438" style="font-size: 14px; font-family: 'DejaVu Sans', sans-serif">0</tspan>
<tspan x="17.948438" y="-5.857813" style="font-size: 9.8px; font-family: 'DejaVu Sans', sans-serif">−</tspan>
<tspan x="26.159766" y="-5.857813" style="font-size: 9.8px; font-family: 'DejaVu Sans', sans-serif">1</tspan>
</text>
</g>
</g>
</g>
<g id="ytick_181">
<g id="line2d_325">
<g>
<use href="#m6d8da96a18" x="867.564" y="701.271" style="stroke: #000000"/>
</g>
</g>
<g id="line2d_326">
<g>
<use href="#me4d9d56b5a" x="1296" y="701.271" style="stroke: #000000"/>
</g>
</g>
<g id="LOGLAB_ax6_2" transform="translate(0 0.58)">
<g transform="translate(839.424 706.589906)">
<text>
<tspan x="0" y="-0.367188" style="font-size: 14px; font-family: 'DejaVu Sans', sans-serif">1</tspan>
<tspan x="8.907227" y="-0.367188" style="font-size: 14px; font-family: 'DejaVu Sans', sans-serif">0</tspan>
<tspan x="17.948438" y="-5.726562" style="font-size: 9.8px; font-family: 'DejaVu Sans', sans-serif">0</tspan>
</text>
</g>
</g>
</g>
<g id="ytick_182">
<g id="line2d_327">
<g>
<use href="#m6d8da96a18" x="867.564" y="670.338" style="stroke: #000000"/>
</g>
</g>
<g id="line2d_328">
<g>
<use href="#me4d9d56b5a" x="1296" y="670.338" style="stroke: #000000"/>
</g>
</g>
<g id="LOGLAB_ax6_3" transform="translate(0 0.58)">
<g transform="translate(839.424 675.656906)">
<text>
<tspan x="0" y="-0.498438" style="font-size: 14px; font-family: 'DejaVu Sans', sans-serif">1</tspan>
<tspan x="8.907227" y="-0.498438" style="font-size: 14px; font-family: 'DejaVu Sans', sans-serif">0</tspan>
<tspan x="17.948438" y="-5.857813" style="font-size: 9.8px; font-family: 'DejaVu Sans', sans-serif">1</tspan>
</text>
</g>
</g>
</g>
<g id="ytick_183">
<g id="line2d_329">
<g>
<use href="#m6d8da96a18" x="867.564" y="639.405" style="stroke: #000000"/>
</g>
</g>
<g id="line2d_330">
<g>
<use href="#me4d9d56b5a" x="1296" y="639.405" style="stroke: #000000"/>
</g>
</g>
<g id="LOGLAB_ax6_4" transform="translate(0 0.58)">
<g transform="translate(839.424 644.723906)">
<text>
<tspan x="0" y="-0.367188" style="font-size: 14px; font-family: 'DejaVu Sans', sans-serif">1</tspan>
<tspan x="8.907227" y="-0.367188" style="font-size: 14px; font-family: 'DejaVu Sans', sans-serif">0</tspan>
<tspan x="17.948438" y="-5.726562" style="font-size: 9.8px; font-family: 'DejaVu Sans', sans-serif">2</tspan>
</text>
</g>
</g>
</g>
<g id="ytick_184">
<g id="line2d_331">
<g>
<use href="#m6d8da96a18" x="867.564" y="608.472" style="stroke: #000000"/>
</g>
</g>
<g id="line2d_332">
<g>
<use href="#me4d9d56b5a" x="1296" y="608.472" style="stroke: #000000"/>
</g>
</g>
<g id="LOGLAB_ax6_5" transform="translate(0 0.58)">
<g transform="translate(839.424 613.790906)">
<text>
<tspan x="0" y="-0.367188" style="font-size: 14px; font-family: 'DejaVu Sans', sans-serif">1</tspan>
<tspan x="8.907227" y="-0.367188" style="font-size: 14px; font-family: 'DejaVu Sans', sans-serif">0</tspan>
<tspan x="17.948438" y="-5.726562" style="font-size: 9.8px; font-family: 'DejaVu Sans', sans-serif">3</tspan>
</text>
</g>
</g>
</g>
<g id="ytick_185">
<g id="line2d_333">
<g>
<use href="#m74b68ae29c" x="867.564" y="722.892239" style="stroke: #000000; stroke-width: 0.8"/>
</g>
</g>
<g id="line2d_334">
<g>
<use href="#ma9f2e976e7" x="1296" y="722.892239" style="stroke: #000000; stroke-width: 0.8"/>
</g>
</g>
</g>
<g id="ytick_186">
<g id="line2d_335">
<g>
<use href="#m74b68ae29c" x="867.564" y="717.445208" style="stroke: #000000; stroke-width: 0.8"/>
</g>
</g>
<g id="line2d_336">
<g>
<use href="#ma9f2e976e7" x="1296" y="717.445208" style="stroke: #000000; stroke-width: 0.8"/>
</g>
</g>
</g>
<g id="ytick_187">
<g id="line2d_337">
<g>
<use href="#m74b68ae29c" x="867.564" y="713.580478" style="stroke: #000000; stroke-width: 0.8"/>
</g>
</g>
<g id="line2d_338">
<g>
<use href="#ma9f2e976e7" x="1296" y="713.580478" style="stroke: #000000; stroke-width: 0.8"/>
</g>
</g>
</g>
<g id="ytick_188">
<g id="line2d_339">
<g>
<use href="#m74b68ae29c" x="867.564" y="710.582761" style="stroke: #000000; stroke-width: 0.8"/>
</g>
</g>
<g id="line2d_340">
<g>
<use href="#ma9f2e976e7" x="1296" y="710.582761" style="stroke: #000000; stroke-width: 0.8"/>
</g>
</g>
</g>
<g id="ytick_189">
<g id="line2d_341">
<g>
<use href="#m74b68ae29c" x="867.564" y="708.133447" style="stroke: #000000; stroke-width: 0.8"/>
</g>
</g>
<g id="line2d_342">
<g>
<use href="#ma9f2e976e7" x="1296" y="708.133447" style="stroke: #000000; stroke-width: 0.8"/>
</g>
</g>
</g>
<g id="ytick_190">
<g id="line2d_343">
<g>
<use href="#m74b68ae29c" x="867.564" y="706.062582" style="stroke: #000000; stroke-width: 0.8"/>
</g>
</g>
<g id="line2d_344">
<g>
<use href="#ma9f2e976e7" x="1296" y="706.062582" style="stroke: #000000; stroke-width: 0.8"/>
</g>
</g>
</g>
<g id="ytick_191">
<g id="line2d_345">
<g>
<use href="#m74b68ae29c" x="867.564" y="704.268717" style="stroke: #000000; stroke-width: 0.8"/>
</g>
</g>
<g id="line2d_346">
<g>
<use href="#ma9f2e976e7" x="1296" y="704.268717" style="stroke: #000000; stroke-width: 0.8"/>
</g>
</g>
</g>
<g id="ytick_192">
<g id="line2d_347">
<g>
<use href="#m74b68ae29c" x="867.564" y="702.686416" style="stroke: #000000; stroke-width: 0.8"/>
</g>
</g>
<g id="line2d_348">
<g>
<use href="#ma9f2e976e7" x="1296" y="702.686416" style="stroke: #000000; stroke-width: 0.8"/>
</g>
</g>
</g>
<g id="ytick_193">
<g id="line2d_349">
<g>
<use href="#m74b68ae29c" x="867.564" y="691.959239" style="stroke: #000000; stroke-width: 0.8"/>
</g>
</g>
<g id="line2d_350">
<g>
<use href="#ma9f2e976e7" x="1296" y="691.959239" style="stroke: #000000; stroke-width: 0.8"/>
</g>
</g>
</g>
<g id="ytick_194">
<g id="line2d_351">
<g>
<use href="#m74b68ae29c" x="867.564" y="686.512208" style="stroke: #000000; stroke-width: 0.8"/>
</g>
</g>
<g id="line2d_352">
<g>
<use href="#ma9f2e976e7" x="1296" y="686.512208" style="stroke: #000000; stroke-width: 0.8"/>
</g>
</g>
</g>
<g id="ytick_195">
<g id="line2d_353">
<g>
<use href="#m74b68ae29c" x="867.564" y="682.647478" style="stroke: #000000; stroke-width: 0.8"/>
</g>
</g>
<g id="line2d_354">
<g>
<use href="#ma9f2e976e7" x="1296" y="682.647478" style="stroke: #000000; stroke-width: 0.8"/>
</g>
</g>
</g>
<g id="ytick_196">
<g id="line2d_355">
<g>
<use href="#m74b68ae29c" x="867.564" y="679.649761" style="stroke: #000000; stroke-width: 0.8"/>
</g>
</g>
<g id="line2d_356">
<g>
<use href="#ma9f2e976e7" x="1296" y="679.649761" style="stroke: #000000; stroke-width: 0.8"/>
</g>
</g>
</g>
<g id="ytick_197">
<g id="line2d_357">
<g>
<use href="#m74b68ae29c" x="867.564" y="677.200447" style="stroke: #000000; stroke-width: 0.8"/>
</g>
</g>
<g id="line2d_358">
<g>
<use href="#ma9f2e976e7" x="1296" y="677.200447" style="stroke: #000000; stroke-width: 0.8"/>
</g>
</g>
</g>
<g id="ytick_198">
<g id="line2d_359">
<g>
<use href="#m74b68ae29c" x="867.564" y="675.129582" style="stroke: #000000; stroke-width: 0.8"/>
</g>
</g>
<g id="line2d_360">
<g>
<use href="#ma9f2e976e7" x="1296" y="675.129582" style="stroke: #000000; stroke-width: 0.8"/>
</g>
</g>
</g>
<g id="ytick_199">
<g id="line2d_361">
<g>
<use href="#m74b68ae29c" x="867.564" y="673.335717" style="stroke: #000000; stroke-width: 0.8"/>
</g>
</g>
<g id="line2d_362">
<g>
<use href="#ma9f2e976e7" x="1296" y="673.335717" style="stroke: #000000; stroke-width: 0.8"/>
</g>
</g>
</g>
<g id="ytick_200">
<g id="line2d_363">
<g>
<use href="#m74b68ae29c" x="867.564" y="671.753416" style="stroke: #000000; stroke-width: 0.8"/>
</g>
</g>
<g id="line2d_364">
<g>
<use href="#ma9f2e976e7" x="1296" y="671.753416" style="stroke: #000000; stroke-width: 0.8"/>
</g>
</g>
</g>
<g id="ytick_201">
<g id="line2d_365">
<g>
<use href="#m74b68ae29c" x="867.564" y="661.026239" style="stroke: #000000; stroke-width: 0.8"/>
</g>
</g>
<g id="line2d_366">
<g>
<use href="#ma9f2e976e7" x="1296" y="661.026239" style="stroke: #000000; stroke-width: 0.8"/>
</g>
</g>
</g>
<g id="ytick_202">
<g id="line2d_367">
<g>
<use href="#m74b68ae29c" x="867.564" y="655.579208" style="stroke: #000000; stroke-width: 0.8"/>
</g>
</g>
<g id="line2d_368">
<g>
<use href="#ma9f2e976e7" x="1296" y="655.579208" style="stroke: #000000; stroke-width: 0.8"/>
</g>
</g>
</g>
<g id="ytick_203">
<g id="line2d_369">
<g>
<use href="#m74b68ae29c" x="867.564" y="651.714478" style="stroke: #000000; stroke-width: 0.8"/>
</g>
</g>
<g id="line2d_370">
<g>
<use href="#ma9f2e976e7" x="1296" y="651.714478" style="stroke: #000000; stroke-width: 0.8"/>
</g>
</g>
</g>
<g id="ytick_204">
<g id="line2d_371">
<g>
<use href="#m74b68ae29c" x="867.564" y="648.716761" style="stroke: #000000; stroke-width: 0.8"/>
</g>
</g>
<g id="line2d_372">
<g>
<use href="#ma9f2e976e7" x="1296" y="648.716761" style="stroke: #000000; stroke-width: 0.8"/>
</g>
</g>
</g>
<g id="ytick_205">
<g id="line2d_373">
<g>
<use href="#m74b68ae29c" x="867.564" y="646.267447" style="stroke: #000000; stroke-width: 0.8"/>
</g>
</g>
<g id="line2d_374">
<g>
<use href="#ma9f2e976e7" x="1296" y="646.267447" style="stroke: #000000; stroke-width: 0.8"/>
</g>
</g>
</g>
<g id="ytick_206">
<g id="line2d_375">
<g>
<use href="#m74b68ae29c" x="867.564" y="644.196582" style="stroke: #000000; stroke-width: 0.8"/>
</g>
</g>
<g id="line2d_376">
<g>
<use href="#ma9f2e976e7" x="1296" y="644.196582" style="stroke: #000000; stroke-width: 0.8"/>
</g>
</g>
</g>
<g id="ytick_207">
<g id="line2d_377">
<g>
<use href="#m74b68ae29c" x="867.564" y="642.402717" style="stroke: #000000; stroke-width: 0.8"/>
</g>
</g>
<g id="line2d_378">
<g>
<use href="#ma9f2e976e7" x="1296" y="642.402717" style="stroke: #000000; stroke-width: 0.8"/>
</g>
</g>
</g>
<g id="ytick_208">
<g id="line2d_379">
<g>
<use href="#m74b68ae29c" x="867.564" y="640.820416" style="stroke: #000000; stroke-width: 0.8"/>
</g>
</g>
<g id="line2d_380">
<g>
<use href="#ma9f2e976e7" x="1296" y="640.820416" style="stroke: #000000; stroke-width: 0.8"/>
</g>
</g>
</g>
<g id="ytick_209">
<g id="line2d_381">
<g>
<use href="#m74b68ae29c" x="867.564" y="630.093239" style="stroke: #000000; stroke-width: 0.8"/>
</g>
</g>
<g id="line2d_382">
<g>
<use href="#ma9f2e976e7" x="1296" y="630.093239" style="stroke: #000000; stroke-width: 0.8"/>
</g>
</g>
</g>
<g id="ytick_210">
<g id="line2d_383">
<g>
<use href="#m74b68ae29c" x="867.564" y="624.646208" style="stroke: #000000; stroke-width: 0.8"/>
</g>
</g>
<g id="line2d_384">
<g>
<use href="#ma9f2e976e7" x="1296" y="624.646208" style="stroke: #000000; stroke-width: 0.8"/>
</g>
</g>
</g>
<g id="ytick_211">
<g id="line2d_385">
<g>
<use href="#m74b68ae29c" x="867.564" y="620.781478" style="stroke: #000000; stroke-width: 0.8"/>
</g>
</g>
<g id="line2d_386">
<g>
<use href="#ma9f2e976e7" x="1296" y="620.781478" style="stroke: #000000; stroke-width: 0.8"/>
</g>
</g>
</g>
<g id="ytick_212">
<g id="line2d_387">
<g>
<use href="#m74b68ae29c" x="867.564" y="617.783761" style="stroke: #000000; stroke-width: 0.8"/>
</g>
</g>
<g id="line2d_388">
<g>
<use href="#ma9f2e976e7" x="1296" y="617.783761" style="stroke: #000000; stroke-width: 0.8"/>
</g>
</g>
</g>
<g id="ytick_213">
<g id="line2d_389">
<g>
<use href="#m74b68ae29c" x="867.564" y="615.334447" style="stroke: #000000; stroke-width: 0.8"/>
</g>
</g>
<g id="line2d_390">
<g>
<use href="#ma9f2e976e7" x="1296" y="615.334447" style="stroke: #000000; stroke-width: 0.8"/>
</g>
</g>
</g>
<g id="ytick_214">
<g id="line2d_391">
<g>
<use href="#m74b68ae29c" x="867.564" y="613.263582" style="stroke: #000000; stroke-width: 0.8"/>
</g>
</g>
<g id="line2d_392">
<g>
<use href="#ma9f2e976e7" x="1296" y="613.263582" style="stroke: #000000; stroke-width: 0.8"/>
</g>
</g>
</g>
<g id="ytick_215">
<g id="line2d_393">
<g>
<use href="#m74b68ae29c" x="867.564" y="611.469717" style="stroke: #000000; stroke-width: 0.8"/>
</g>
</g>
<g id="line2d_394">
<g>
<use href="#ma9f2e976e7" x="1296" y="611.469717" style="stroke: #000000; stroke-width: 0.8"/>
</g>
</g>
</g>
<g id="ytick_216">
<g id="line2d_395">
<g>
<use href="#m74b68ae29c" x="867.564" y="609.887416" style="stroke: #000000; stroke-width: 0.8"/>
</g>
</g>
<g id="line2d_396">
<g>
<use href="#ma9f2e976e7" x="1296" y="609.887416" style="stroke: #000000; stroke-width: 0.8"/>
</g>
</g>
</g>
<g id="text_81">
<text style="font-size: 17.36px; font-family: 'DejaVu Sans', sans-serif" transform="translate(796.738597 761.723481) rotate(-90)">&gt;10 MeV Proton Flux</text>
<g transform="translate(820.813662 734.0492) rotate(-90)">
<text>
<tspan x="0" y="-0.654688" style="font-size: 17.36px; font-family: 'DejaVu Sans', sans-serif">(</tspan>
<tspan x="6.778625" y="-0.654688" style="font-size: 17.36px; font-family: 'DejaVu Sans', sans-serif"> </tspan>
<tspan x="12.301636" y="-0.654688" style="font-size: 17.36px; font-family: 'DejaVu Sans', sans-serif">c</tspan>
<tspan x="21.854492" y="-0.654688" style="font-size: 17.36px; font-family: 'DejaVu Sans', sans-serif">m</tspan>
<tspan x="49.966487" y="-0.654688" style="font-size: 17.36px; font-family: 'DejaVu Sans', sans-serif">s</tspan>
<tspan x="80.39628" y="-0.654688" style="font-size: 17.36px; font-family: 'DejaVu Sans', sans-serif">s</tspan>
<tspan x="89.448587" y="-0.654688" style="font-size: 17.36px; font-family: 'DejaVu Sans', sans-serif">r</tspan>
<tspan x="115.148556" y="-0.654688" style="font-size: 17.36px; font-family: 'DejaVu Sans', sans-serif"> </tspan>
<tspan x="120.671567" y="-0.654688" style="font-size: 17.36px; font-family: 'DejaVu Sans', sans-serif">)</tspan>
<tspan x="38.942542" y="-7.1625" style="font-size: 12.152px; font-family: 'DejaVu Sans', sans-serif">2</tspan>
<tspan x="59.18149" y="-7.1625" style="font-size: 12.152px; font-family: 'DejaVu Sans', sans-serif">−</tspan>
<tspan x="69.372334" y="-7.1625" style="font-size: 12.152px; font-family: 'DejaVu Sans', sans-serif">1</tspan>
<tspan x="96.754715" y="-7.1625" style="font-size: 12.152px; font-family: 'DejaVu Sans', sans-serif">−</tspan>
<tspan x="106.94556" y="-7.1625" style="font-size: 12.152px; font-family: 'DejaVu Sans', sans-serif">1</tspan>
</text>
</g>
</g>
</g>
<g id="line2d_397">
<path d="M867.9 719.8l.2-.7 .1 8.2 .2-4.2 .2-9.2 .1 12.1 .2-7.5 .1 .1 .2 5.1 .1-16.2 .2 16.9 .1 2 .4-8.7 .1 9.1 .2-1.9 .1-4 .2 5.5 .1-11.3 .2 7.7 .3-8.3 .2 9.2 .1-5.6 .2 .1 .1-2.1 .2-9.2 .2 6.7 .1-.3 .2-2.7 .1 .6 .2 12.9 .1-.4 .3-11.5 .2 9.6 .3-5.4 .2 2.2 .1-6.5 .2 11.3 .1-7.5 .2 7.3 .2-7 .1 7.7 .2-2.4 .1-8.7 .2 10.1 .3-9.2 .3 5.9 .2-1.7 .1 5.5 .2-9.2 .1-1.3 .2-2.7 .1 3.5 .2-2 .2 7 .1-4 .2 8.2 .1-5.8 .2 2.4 .1-7 .2 14 .2-4.6 .1-1 .2-6.1 .1 7 .2-.3 .1-9 .2 8 .2 .9 .1-9.4 .2 15 .3-11.4 .1-.1 .2 11.1 .1 .4 .4-1.9 .1-10 .2 5.4 .1-9.6 .2 5 .1-2.4 .2 7.7 .2 1.3 .3-10.6 .1 8.8 .2-9.7 .1 5.3 .2-6 .2 12.2 .1-1.6 .2-7.3 .3 7.4 .3-9.8 .1 6.4 .2-5.5 .3 10.6 .2-11.6 .3 9.8 .1-8.1 .2 10.2 .2 1.6 .3-7.1 .1-5.8 .5 13.8 .2-4.3 .1-.2 .2-9.7 .1 13.7 .2 2 .1 .4 .5-17.3 .2 13.6 .1-6.4 .2 3.8 .1-10.7 .2 2.1 .1-2.4 .2 4.4 .2-3.3 .1 1.8 .2 7.7 .1-8.5 .2 5.5 .1 9.7 .2-5.7 .2 3.5 .3-15 .1 2.1 .2-.1 .1 10.8 .2 0 .1-.9 .2-11.9 .2 6.1 .1-1.9 .2 11.3 .3-8.8 .1 .6 .2 1.2 .3-5.1 .2 9.8 .1 2.4 .3-13.8 .2 12.2 .2-10.2 .1 9.6 .3-11.5 .2 10.1 .1-3.5 .2-.2 .1 2.6 .2-11.1 .2 10.3 .1 .7 .2 2 .3-6.6 .1-2.7 .4 8.2 .1-8.8 .2 6.8 .3-8.9 .1 1.6 .2 12 .2 0 .1-1.2 .2-8.5 .1 6.7 .2-7.1 .3 2.4 .1 .7 .2 3.4 .2-7.2 .1 2.4 .2-4.3 .3 12.1 .1-9.6 .2 7.7 .2-3.2 .1 1.7 .2-.7 .1 .6 .2 4.1 .1-15 .4 13 .1-12.1 .2-.1 .1 0 .2 8.1 .1-5.8 .3 11.9 .2-3.2 .2-.8 .1-11 .2 13.4 .1 .7 .2-9.7 .1 3.7 .2-1.2 .2-4 .4 13.7 .3-12 .2 1.3 .2-4.5 .1 1 .2-2.3 .3 17.7 .1-9.7 .2 3.5 .1-7 .4 12.1 .1-1.2 .2-3.1 .1 1.2 .2-2 .1-6.2 .2 2.6 .2-2.9 .6 12.9 .3-15.9 .2 11.2 .1-13.8 .3 23.1 .2-14.6 .1 2.6 .2-.6 .1 7.2 .2-4.9 .2-1.3 .3-12.9 .1 15.1 .2-4.8 .1-8.5 .2 8.3 .2-7.9 .1 11.4 .2-2.7 .1 5.7 .2-12.6 .3 4.6 .3-5.4 .2 9.7 .1-2.7 .2 4.1 .1-9.2 .2 14.2 .1-16.4 .4 16.7 .1-6.9 .2 3.8 .4-11.8 .2 13.9 .3-12.8 .2 9.9 .3-14.4 .3 18.1 .2-5.8 .1 1.1 .2-10.5 .1 6.4 .2-3.4 .1 1.1 .2-8.8 .1 17.3 .2-.3 .2-4.2 .3-.4 .1-5.3 .2 2.9 .1-3.4 .2 2.4 .2-1.4 .3 10.4 .1-10.2 .2-2.2 .1 .5 .2 8.1 .2-8.3 .1 3 .2 .6 .1 4.3 .2-.1 .1 1.4 .2-5.2 .1 4.7 .2-2.2 .3 5.9 .3-8.3 .2-.2 .1 10.9 .2-12.2 .2 1.4 .1 5.8 .2-11.6 .1 4.5 .2-2.3 .1 2.6 .2 10.3 .2-11.1 .1 7.5 .2-8.1 .4 12.5 .2-3.8 .1-.3 .2-3.5 .2 2.9 .1-6.6 .2 2.9 .1 .7 .2-7.4 .1 1.1 .2 5.5 .2-2.5 .1 6.5 .3-3.9 .3 3 .2-5.2 .2 3.8 .1 .8 .2-.2 .1 .4 .2-4.5 .1 .6 .2 5.3 .1-6.8 .2-1.2 .3 6.9 .2-1.7 .1 1.5 .2-4 .1 1.5 .2-5.8 .2 10.7 .1-1.4 .2-2.8 .1 1.6 .2 .4 .1-14 .4 11.7 .1-9.8 .2 12.9 .1 .1 .2-1.4 .1-6.2 .2-.4 .1-1.1 .2 1 .2-.3 .3 8.4 .1-7.6 .2 7.6 .1-3.9 .4 6 .1-3.1 .2 2.7 .1-1.8 .2-6 .1 3.4 .2-4.7 .2 5.9 .1-2.1 .2 4.5 .1-8.5 .2 10.8 .3-7.2 .1 7.8 .2-.6 .2 .3 .1-3 .2-.4 .1 .3 .2-4.2 .1-8.3 .2 12.7 .2-3.1 .1 .6 .2-5.3 .1 11.6 .2 .4 .1-1 .2 .1 .2-4.9 .1 1.8 .2 4.3 .1-1.1 .2 1 .1-1.1 .2-2.7 .1 1.8 .2-15.4 .2-.3 .1 3.3 .2 13.4 .1-13.6 .2-3.1 .1 7.8 .2-.3 .2-4.6 .1 4.8 .2-5.2 .1 2.4 .2 8.6 .1 .6 .2-.9 .2 1.9 .1-11.7 .3 7.8 .2-5.5 .1 3.6 .3-6.5 .5 12.6 .2-16.9 .3 13.7 .1-.4 .2 3.5 .2-9.9 .1 2.2 .3 9.1 .2-14.8 .1 5.3 .2 10.3 .2-1.8 .1-3.5 .2-12.3 .1 15.1 .2-10.2 .1 0 .5 12.2 .3-5 .2 4 .3-12.1 .1 7.4 .2 1 .2-2.3 .1-9.2 .2-.3 .1 15 .2-1.7 .1-13.9 .2 7.1 .2-6.6 .1 2.6 .2-1.9 .1 7.9 .2-.3 .1-3.4 .4 4.5 .1-8.4 .2 6.9 .1-6.6 .2 10 .1 1 .3-11.5 .2-1.6 .2 8.5 .3 5.1 .1 4.1 .2-2.2 .1-10.5 .2 4.8 .2-.2 .1-6.8 .2 12 .1-4.7 .2 4.5 .1-10 .2 12.7 .2-1.6 .1 0 .2-.8 .1 .8 .2-13.8 .1 8.7 .2 2 .1 5 .2 .3 .2-.9 .1 .7 .2-6.1 .1 3.6 .2 .2 .1-1.5 .4 3.8 .1-.7 .2-4.2 .1 .5 .2 3.2 .1-13.1 .2 4.3 .2-.8 .1-4.8 .2 12.9 .1-8.1 .2 2.4 .1-9.8 .2 18.1 .1-.4 .2-3.2 .2-.9 .1-12.8 .2 12.2 .1-1.9 .3 6.9 .4-5.2 .1-10.7 .2 0 .1 21.1 .3-9.7 .2 1.9 .2-14.4 .1 1.8 .2 6.6 .1-10.3 .2 18.2 .1-3.3 .2 5 .3-3.4 .2-12.8 .1 15 .2-10.8 .1 5.7 .3-14.4 .2 10.9 .3-8.6 .2 11.3 .3 .1 .1 2.8 .4-4.1 .1 1.8 .2 5.5 .1-7 .2 6.4 .1-4.3 .2-9.4 .1 12.2 .4-7.5 .1 .8 .2 3.1 .1-2.9 .2-5.1 .1 10.2 .2-2.8 .2-7.1 .3 12.2 .1-10.7 .3-3.4 .4 11.4 .1-11.8 .2-.5 .1 .9 .2 8.7 .1-2.2 .2 5.9 .1 1.6 .4-9.3 .1-2.5 .2-5.1 .1 1.1 .2 11.9 .1-10.1 .2 8.3 .2-7.2 .1 10.5 .2-13.3 .1 0 .2 15.1 .1-12.9 .2 3.3 .2-3.2 .4 14 .3-5.4 .2 6.2 .1-.7 .4-9.8 .1 5.1 .2-10.3 .1 9.4 .3-9.7 .2 11 .2-9.5 .3 12 .1-13.4 .2-1.1 .1 7.6 .2-5.5 .2-.4 .1 6 .2-7.9 .3 13.3 .1-2.4 .2-.2 .1 2 .2-.8 .2 4.4 .3-14.7 .1 2.8 .2-.9 .1 7 .2 1.4 .2-11 .1 9.8 .2-10.1 .1 3.3 .2 7.2 .1-10.4 .4 10.7 .1-11 .2 2.6 .1-1.5 .3 3 .2-6.5 .1 5.7 .2-3.2 .3 15.7 .2-3.9 .1 3.2 .2-5.4 .1 2.7 .4-7.1 .3 6.2 .1-5.5 .2 4.2 .1-1.3 .2 .2 .2 3.2 .1-6.9 .2 5.8 .1-5.7 .2-.1 .1 6.4 .2-1.6 .1-4.8 .2 3.3 .2-8.6 .1 10 .2-6.4 .1 9.5 .3-7.3 .2 7.1 .2-3.7 .3 3.6 .4-1.9 .4 .6 .1 3.4 .3-11.6 .5 8.9 .1-2.1 .2-.5 .2 2.7 .1-1.3 .2-2.7 .1 .5 .2 1.5 .1-.5 .2 1.7 .3-1.3 .2 1.9 .1-1.3 .3-3.9 .2 7.7 .2 0 .1-5.4 .2 .2 .1-.4 .2 4.2 .1-15.3 .2 11.2 .1-.4 .2 2.6 .2 .2 .1-2.3 .2-.3 .1-3.3 .2 7.9 .1-1.8 .2-5.3 .2 5.3 .1-1.7 .2-4 .1 5.7 .2-1.7 .1-5 .2 7.4 .2-15.7 .1 12.7 .2-8.8 .1 10 .2-.7 .1-3.5 .2 3.8 .1-3 .2-.1 .2 2.4 .1-2.8 .3 2.6 .2-7.3 .1 10.3 .2 .6 .2-.4 .3-2.8 .1 .3 .2-6.5 .3 8.6 .2-2.2 .1 .9 .2 .2 .1-4 .2 .3 .1-2.2 .2 5.4 .1-3.2 .2 .7 .3 4.2 .2-2.7 .1 1.9 .2-5 .3-.2 .2-4.7 .1 1.4 .2 9.1 .1-4.4 .3-.3 .2 2 .2-3.4 .1-11.9 .2 19.5 .1-5.2 .2-.2 .1-2.2 .3 4.6 .2-3 .2 1.2 .1 4.3 .2-5.3 .1 3.8 .2-4 .1 .3 .4-2.1 .1 5.3 .2-3.2 .3 1.9 .1-.6 .2 1.1 .3-2 .2 2.1 .1-4.5 .2 1.7 .1 3.8 .3-5.1 .2 5 .2-3 .1 .8 .2-1.3 .1 .7 .2-1.6 .1 .4 .2 6.3 .3-6.5 .2-.7 .1-1.9 .2 2.3 .1-2 .2 .7 .3 5.5 .2-5.3 .1 .2 .2 7.1 .1 0 .2-5.5 .1 1.6 .2-8.6 .2 9.3 .1-3.1 .2 .4 .3 3 .1 1 .2 .2 .2-1.9 .1-6.8 .2-1.5 .3 12.2 .1-16.5 .2 14.4 .2 0 .1 4.9 .2-3.7 .1 1.2 .2-3.2 .1 5.5 .2-4.8 .1 3.6 .4-1.4 .1-15.6 .2 3.7 .1 9.7 .2 .5 .1 .1 .2-.3 .2-.6 .1-7.8 .2 1.1 .3 10.4 .3-14.9 .2 6 .1-4.4 .2 14.5 .1-1.7 .3-11.9 .2 5 .3 1.6 .2 .3 .1-1.1 .3 5.9 .2-1.2 .3-10.7 .3 8.4 .2-7.6 .1 1.7 .2-.3 .3 6.5 .2-4.4 .1 2.5 .2-4.8 .1 7.9 .2-4.2 .1 .9 .2 3.8 .1-.5 .2 1.8 .3-3.2 .2-9.8 .1 9.8 .2-4.2 .1 4 .2-2.7 .3 4.1 .2-8.6 .1-1.1 .2-2.7 .1 12.2 .2 .1 .2 4.3 .1-14.2 .3 6 .2-2.3 .1-4.8 .2 8.3 .3-7.8 .2 14 .1-3.5 .2-6.2 .1 1.7 .2 3.5 .1-5.7 .2 .4 .2 7.2 .1-5.3 .2 2.1 .1-.6 .2 3.9 .1-3.7 .2 .2 .2 3.2 .1-.4 .3-7.3 .2 7.8 .1-3.3 .3 2.1 .4-6.3 .1 1.9 .2 4.2 .4-5.2 .2 2.9 .2 .1 .1-.4 .2-1 .1 5.9 .2-6.7 .3 2.6 .2 3.2 .1-2.8 .2-5.5 .3 9.5 .1-3.9 .2-.1 .2 .1 .1 4.3 .3-6.4 .2 9.6 .3-9.1 .3 7.1 .2-3.7 .1-8.4 .2 3.4 .1-4.9 .2 3.9 .1-6.2 .2 13.9 .2-9.7 .1 11.1 .3-1.9 .2-4.1 .1 .2 .2 7.5 .2 .2 .1-15.3 .2-1.9 .3 11.5 .1-4 .2 6.5 .1-10.9 .2-.5 .2 5 .1-4.5 .3 9.5 .2-8.6 .3 10.8 .2-13.4 .1 7.8 .2-2.2 .1-4.6 .2 12.5 .1-1.3 .2-7.5 .2 5.6 .1 1.6 .2-1 .3 .9 .1-4.5 .2 .6 .1-7.8 .2 4 .2-4.1 .1 5.8 .2-4.8 .1 7.4 .2-3.5 .1 3 .2-4 .2 6.4 .1-13.1 .2 11.2 .1 3.1 .2-6.9 .1 3.8 .4-2.9 .1 .4 .3 7.3 .2 1.7 .3-1.9 .1 1 .2-5.6 .2 5.6 .1 1.6 .3-13.2 .2 8.6 .1-11.8 .2 10 .2-5.6 .1 .2 .2-7.3 .1 8.4 .2 2.4 .3-6.7 .2 13.8 .1 0 .2 .3 .1-.2 .5-14.7 .1-.3 .4 7 .1-4 .2 1.1 .1 5.4 .2-5.1 .1 5.6 .2-.8 .2 0 .1-14.6 .2 16.9 .1-2.3 .2-11.7 .1 16.2 .2-10.5 .2-1.5 .1 .1 .2 1 .3 8.3 .1 1.1 .2 2.4 .1-3.2 .2 2.4 .3-5.7 .2 2.7 .1 .5 .2-1.4 .1-2.9 .2 2.8 .2-10.7 .1 11.5 .2 .9 .1-.2 .2-14.2 .1 11.4 .2-1.7 .2 2.7 .1-5.4 .2 9 .1-4 .2-.4 .1 3.5 .2 .5 .3-8.1 .2 1 .3 3.4 .3 1.3 .3-6.4 .2 1.2 .1 4.9 .2-3.3 .1-8.8 .2 1.9 .1 9.1 .2 2 .2-2.3 .1 4.6 .2-13.2 .1 10.9 .2 .7 .1-.4 .2 1.8 .3-10.2 .2 9.8 .1-4.1 .2 3.1 .3-9.2 .3 6.4 .2 5.4 .3-14.2 .1 .5 .3 9.6 .2 5.8 .2-15 .1 2.1 .2-3.6 .1 11.2 .2 1.9 .1 3.8 .2-5.3 .1 5.5 .2-3.1 .2-10.8 .1 1 .2-1.6 .1 3.9 .2-2.7 .3 12.5 .2-7.1 .1 1.6 .3 5.7 .2-11.4 .1 11.1 .2-.8 .3-8.7 .2 1.4 .1 7.8 .2-9.4 .3 8.2 .1-7.9 .2 3 .3 7.6 .2-3.5 .1-14 .2 9.8 .1-.2 .2 3.2 .2-3.4 .1 .4 .2 3.9 .1-4.7 .3 2.3 .2-1.5 .2 3.5 .1 .7 .2-1.9 .1 1.7 .2-6.5 .1 1.9 .2-1.3 .1-4 .4-1.9 .1 9.8 .3-11.1 .2 10.8 .1-1.6 .2-.2 .2 .4 .1-1.3 .2-4.4 .1 11 .2-.2 .1 .1 .2-4.1 .3-2.1 .2-4.3 .3 7.9 .4-8.8 .2 4.6 .2 1.1 .1-.5 .2-9.8 .1 10.9 .2 1.3 .1-5.3 .2-.9 .3 6.7 .2 .4 .1 1.8 .2 .3 .1-2 .2 .7 .2-2.6 .3 3.9 .1-1.6 .2 4.3 .1-5.3 .2-.2 .1-5.5 .2 4.8 .2-.1 .1 2.4 .2-8.6 .1 3.4 .2-2.9 .1 5.2 .2-11.9 .2 14.1 .1-18.6 .2 17.6 .1 1 .3-5.8 .2-1.9 .2 6.3 .1 .1 .2-1 .1-2.7 .2 4.9 .1-1.2 .2-4.1 .5 5.9 .1-1.2 .3-4.8 .2 6.8 .1-3.4 .4 3 .1-7.9 .2 2.2 .1 5.5 .2 1 .1-2.7 .2 3.6 .3-4.3 .2 4 .3-3.9 .1 2.4 .3-3.4 .2 .5 .2 3.2 .1-4.1 .2 3.1 .1-1.4 .3 1 .2 5.3 .2-8.1 .1-.3 .2 1.5 .1-1.3 .2 3.1 .1-.2 .2-2.7 .2 7.6 .3-3.1 .1-1.2 .3 1.3 .3-8 .2 1.4 .2-3 .1 1.3 .2-3.5 .1-.4 .3 12.3 .2-.2 .2-15.1 .1 9.3 .2-7.2 .3 12.1 .1 .1 .4-2.2 .1 6.4 .3-7.2 .2 3.1 .1-6.3 .3 1.5 .2 6.3 .2-4.7 .1 .5 .2 .1 .1 5.8 .2-.4 .1-2.7 .2 1.5 .2-5.6 .1 4.3 .2-3.5 .1 .1 .2-6.6 .1 5.7 .2-2.6 .3 7.5 .3-5.7 .2 3.7 .1-3.3 .2 .6 .1 1.6 .2-9.8 .2 9.4 .1 1.6 .3-2.5 .3 6.2 .2-5 .2 1.7 .1-2.5 .2 2.8 .1-2.5 .3 1.5 .2-.5 .2-1.3 .1 4.5 .2-6.3 .1-1.4 .2-8.5 .1 15.4 .2-4.9 .1 1.6 .2-4.9 .2 5.3 .1 .7 .2-3.1 .1 6.7 .3-2.7 .2 3.4 .2-1.2 .4-7.8 .2 .9 .1-6 .2 8.4 .2 .3 .1 .6 .2 2.9 .1-6.8 .2-1.4 .4 8.6 .2 .2 .2-4.1 .1 4.3 .2-5 .1 1.9 .3-2 .2-4.7 .3 6.6 .2-.6 .3 .8 .1 0 .2 2.2 .2-2.5 .1 3 .2-4.9 .3 4.6 .1-3.1 .2-.9 .1 1.2 .2 3.5 .2 .4 .3-9.5 .1 4 .2 .7 .1-.2 .2 3.4 .2-3.9 .1 3.3 .2-.7 .3 3 .1-.4 .2 0 .2-1.2 .1-16.9 .2 13.7 .1 2.5 .2-1.7 .1 1.9 .2-3.7 .1 .1 .2 3 .2 .1 .1-.4 .3 2.8 .2-1.9 .1 1.2 .2-1.6 .2-11.1 .1 10.2 .2-2.7 .1-6.7 .2 8.7 .1-5.9 .2 7.7 .2-11.8 .1 10.2 .2 .6 .1 4.2 .2-10.2 .1 0 .2 7.3 .3-1.4 .2 2.3 .1-3.1 .3 5.2 .2-9.4 .1 5.2 .2-10.5 .2 10.7 .1 1 .2-13.2 .1 7.5 .2-.5 .1-1.1 .2-6.3 .2 16.6 .1-7.5 .2 .2 .1 .8 .2-5.3 .1 .7 .2 10.9 .2-5.5 .1 .5 .2-6.6 .1 11.7 .2-6.9 .1 .2 .2-3.1 .1 .9 .2 9.6 .2-7.1 .1 .8 .2 3.3 .1-7.8 .2 3.5 .1-6.8 .2-.2 .2 10.8 .1-7.2 .3 3.6 .2 .2 .1-4.8 .2 6.9 .2-4.2 .1 7.7 .2-5.8 .1 6.3 .2-15 .3 15 .1-11.8 .2 10.8 .2-13.4 .1 .6 .2 4.6 .1-2.5 .2 2 .1-6.7 .2 2.4 .2 9.2 .1-4.3 .2 4.1 .1-.6 .2 2.5 .1 .6 .2-8.6 .2 4 .1-4.6 .2 6.5 .1 .1 .2 2.1 .1-17.2 .3 11.1 .2-3.8 .2 12.3 .1 .4 .2-7.9 .1 7.9 .2-14.5 .1 1.9 .2-1.2 .3 11.7 .2-.2 .1 .2 .2-6 .1 5.4 .2 .4 .3-13.2 .2 13 .3-12.5 .3 16.8 .1-1.5 .2-5.3 .2-.3 .3 4.5 .1-6.5 .3 4.5 .2-2.1 .2-5.9 .1 2.9 .2-5.9 .1 6.6 .2-1.5 .1 7.6 .4-3.9 .3 2.4 .1-.4 .2 .9 .4-6.1 .2 4.4 .2-1.2 .1 2 .3-10.4 .2 4.3 .1 .2 .2 3.6 .2-3.5 .1-6.3 .2 14.8 .3-15.5 .1 2.7 .2 5.6 .2-1.7 .1-5.1 .2 8.7 .1-4.8 .2 1.8 .1 9.6 .5-9.5 .2 2.2 .1 4.8 .2-4.3 .1-1.1 .2-2.6 .1-5.1 .2 6.1 .2-4 .1 2.4 .2-5 .1 3.3 .2-4.2 .1 11.8 .2 2.6 .2-4.1 .1 .6 .2-5.2 .1 1.1 .2-.1 .1 5.8 .2-1.1 .1-4.8 .2-8.3 .2 12.2 .1-6.5 .2 5 .1 .2 .2-4 .1 1.9 .2 6.4 .2-2.7 .1-.5 .2-2.4 .1-7.2 .2 1.8 .3 9.6 .2-7 .1 1.6 .2-4.8 .1 3.2 .2-2.6 .1 10.4 .3-3.3 .2 4.8 .2-5.9 .3 4.3 .1 1.7 .2-2.6 .1 4.6 .2-9 .2-.7 .1-1.4 .3-4 .2 9.3 .1-8.1 .2 7.9 .2-1.5 .1 8.5 .2-2.2 .4-9 .2-1.1 .1 6.2 .2 1.3 .2-2.8 .1 3.1 .2-.4 .1-2 .2 5.9 .1-.1 .2-5.8 .2 2.8 .1-6.3 .2 4.5 .1-13.2 .3 13.1 .2-3.2 .2 4.5 .1 1.3 .2-1.5 .1 1.6 .2-15.6 .1 16.7 .3-10.3 .2 .6 .2 9.3 .1-10.8 .2 12.4 .1-5.8 .2-1.3 .1-5.4 .2 8.8 .2 .8 .1-10.6 .2-1.5 .1 11.8 .2-1.2 .3 5.9 .2-12 .1 6.4 .3-4.3 .2 6.3 .1-8.2 .3 6.8 .2-4.1 .2-.5 .1 1.9 .2-.9 .1-7.6 .3 6.1 .2 2.2 .2-10.6 .3 15.4 .1-8 .3 7.8 .2-.6 .2-.1 .1 1.4 .3-3.7 .2-6.5 .3 5.4 .1-.5 .2-1.2 .3-4.2 .2 8.6 .1 .7 .2-3.2 .1-6.3 .2 4.9 .2-3.1 .1 4.2 .2 .9 .1-.6 .2-5.4 .1 4.9 .2-.5 .2-.8 .1-1.9 .2 2.5 .3-4.9 .1 1.4 .2 4.4 .1 .2 .2-1.1 .2 1.2 .1 2.3 .2 .4 .1-.8 .2 2.6 .1-12.8 .2 2.5 .2 6.1 .1 1.6 .2-5.7 .1 6.3 .2 .3 .1-5.4 .2 1.7 .2-14.8 .1 14.4 .2 .5 .1 1.7 .2-2.7 .1-.4 .2 0 .1 2.3 .2-5.8 .2 3.2 .1-8.3 .2 12.6 .1 2.2 .2-6.6 .3 3.9 .2-3 .1-9.6 .2 9.6 .1 .8 .2-12.3 .1 8.6 .2 1.1 .2 6.2 .1-6.9 .2 3.3 .1-7.5 .2 6.4 .1-1 .2 .5 .1-.7 .2-6.3 .2 5.7 .1-2.3 .3 4.9 .2-3.5 .1 .3 .4 5.3 .3-10.9 .1 5.2 .2-.2 .1 4.5 .2-10 .2 11 .1 .6 .2 3.3 .1-6.5 .2-.2 .1-1.1 .2 1.6 .1-6.4 .2-.6 .2 1.6 .1 12.7 .2-1.7 .3-7.6 .1 9.3 .2-10.4 .2 1.1 .1-4 .2 10.2 .1 .3 .2 .7 .1-.7 .2 .7 .2 1.6 .1-9.8 .2 .5 .3 10.1 .1-8.8 .2 8.1 .1-.9 .2-17.9 .2 16.8 .3-6 .1 1.2 .2 5.3 .3-9.6 .2 1.8 .1-4.4 .2 9.9 .3 1.6 .1 .1 .2-4.8 .2 .6 .1 2.4 .2-4.7 .3 5.3 .1 .5 .2 2.1 .1-1.9 .2 1.1 .5-5.7 .1 4.2 .2-10 .1 10.7 .2-5.4 .2 2.1 .1-1.3 .3 6.3 .2-7 .1 8.4 .2-4.6 .3 5.2 .2-4.4 .1-13.1 .2 4.7 .1 10.8 .2-3.1 .1-.7 .2-10.7 .2 11.4 .1 2.7 .3-6.5 .3 1.7 .2-2.4 .2-.3 .1 1 .2 3.5 .1-3.9 .2 4.3 .1-1.9 .2 2.6 .2-1.1 .1-2.9 .2 2.1 .1-3 .2 3.1 .1-5.6 .2 3.9 .1-6.5 .5 10.1 .2-.8 .1-7 .3 9.3 .4-7.7 .3 6.3 .3-1.3 .3-7 .3 8 .3 2.9 .2-3.4 .1 2.7 .2-5.2 .1 1.4 .2-9.6 .3 13.1 .2-5.4 .1 1.3 .2-.3 .1 .6 .2-9.4 .2 8.7 .1-3.4 .2 8 .1-3.3 .2-.5 .1 .3 .2-1.5 .3 2.2 .2-4 .1 4.8 .2-11.2 .1 11 .2 .8 .2-.4 .1-5.7 .2 5 .1-7.9 .2 9.1 .1 2.5 .2-2 .1 .6 .2-5.9 .2 .9 .1 3.7 .2-1.1 .1 0 .2-7.7 .1 4.9 .2 .8 .2-.8 .3 1.4 .1 2.3 .3-2.6 .2 3.2 .2-2.5 .3 3.8 .4-7.7 .3 6.3 .2-.7 .5-4.5 .1 1.4 .2-3.9 .1-8 .2 10.1 .2-1.3 .1 .2 .2-.4 .1 4.7 .2-4.4 .1 3 .2-.3 .2 1.9 .1-3.1 .3 2.8 .2-3.9 .1 3.6 .2-2.9 .1 .2 .2-1.1 .2 1.4 .1 3.9 .6-9.4 .2 2 .2 .1 .1 9.5 .2-2.2 .1 .4 .2-4.8 .3-1.5 .2-.1 .1 .3 .2 1.1 .1 2.2 .2-3.7 .1 1.4 .2-3.2 .1 4.8 .2 .3 .2 1.7 .1-4.1 .3 7.8 .2-1.8 .1 .2 .2-3.4 .2 .7 .1-7 .2 2 .3-3.4 .1 0 .2 .2 .2 6.7 .1-3 .2 2.4 .1-4.6 .2 6.9 .1-5.2 .2 4.8 .3-8.4 .2-.5 .1 7.8 .2-7.8 .1 14 .2-5.9 .1 5.5 .2-5.5 .2 3.2 .1-3.3 .2 1.7 .1-9.6 .2-1.4 .1 1.9 .2-.7 .2 1.9 .4 9.5 .2-1 .1-6.7 .2 3.2 .1-2.4 .2 5.2 .2-10.4 .1-.2 .2 4.4 .1-4.7 .2 2 .1-.7 .4 8.2 .1-7.9 .2 .1 .1 0 .2-.5 .1 2.7 .2 5 .2-4 .1 10.6 .2-5.8 .1-10.9 .2 8.2 .1-5.6 .3 10.6 .2-5.8 .2 1.8 .1-2.9 .2 4.4 .1-4 .2 1.4 .1-.6 .2-2.9 .2 6.6 .1-1.1 .2-4.9 .1-.9 .2 .9 .1 6.9 .2-2.9 .2 1.7 .1 .3 .3 4.5 .2-7 .1-1.7 .2 5.8 .3-3.3 .2 1.7 .1-2.4 .3 5 .3-4.9 .2 3 .3-5.4 .2 .9 .1-.1 .2 2 .1-1.1 .2-9.4 .2 17.2 .1-2.4 .2-7.3 .1-.4 .2 6.3 .1-1 .3 3.2 .2-2.1 .2-4.3 .3 2.8 .1 5.4 .2-11.9 .1 7.6 .2-1.6 .2-3.8 .1 1.4 .2-1.5 .1 9.9 .2-2 .1-16.3 .2 17 .2 1 .1-8 .2 5.7 .1-6.7 .2-.9 .3 7.9 .1-1.3 .2 .3 .2 .5 .1 1.3 .2-3.9 .1-12.4 .2 12.8 .1-.7 .4-9.4 .3 8.7 .1 .6 .2-3.7 .1 .2 .4 3.3 .3-4.6 .1-6.7 .3 17.2 .2-1.6 .1-5.1 .2 6.6 .2 .8 .1-5.3 .2 5.4 .1-3.8 .2-8.8 .1 3 .2-3.1 .2-.1 .1 7 .2 .1 .4-5.9 .4 3.2 .1 4.3 .3-11.7 .2 5.9 .1-2.1 .2 7.9 .1-8.7 .2 3.9 .2-2.6 .1-.3 .2-1.9 .1 1.1 .2-.9 .1 1.5 .2 6 .2-.8 .3-5 .4 7.4 .2-13.3 .5 10.1 .1-2.8 .2-.7 .1 1.1 .2 6.6 .5-6.4 .1 3.1 .2-.2 .1 2.7 .2-.9 .1-8.1 .4 2.5 .3 6.6 .1-5.9 .2 1.1 .1-1.2 .4 1 .1 7.1 .3-11.1 .3 5.1 .2-.7 .1 1.2 .2 4.7 .3-3.8 .2-4.4 .1-7.5 .2 13.4 .3-2.4 .2-4.6 .1 2.6 .2 .4 .1 5.7 .2-6.3 .1 7.6 .2-5.9 .2-.1 .1 2.1 .2-11 .1 11.4 .2 1.7 .1-4.6 .2 8.6 .1-3.4 .2 3.6 .2-3.7 .1-.2 .2-2.9 .1 4 .2 .5 .1 1.9 .4-4.6 .1 .2 .2 1.5 .1-1.2 .2-2.9 .1-.2" clip-path="url(#p4e7b67fd7a)" style="fill: none; stroke: #000000; stroke-width: 1.5; stroke-linecap: square"/>
</g>
<g id="patch_117">
<path d="M 867.6 732.2 L 867.6 608.5" style="fill: none; stroke: #000000; stroke-width: 1.5; stroke-linejoin: miter; stroke-linecap: square"/>
</g>
<g id="patch_118">
<path d="M 1296 732.2 L 1296 608.5" style="fill: none; stroke: #000000; stroke-width: 1.5; stroke-linejoin: miter; stroke-linecap: square"/>
</g>
<g id="patch_119">
<path d="M 867.6 732.2 L 1296 732.2" style="fill: none; stroke: #000000; stroke-width: 1.5; stroke-linejoin: miter; stroke-linecap: square"/>
</g>
<g id="patch_120">
<path d="M 867.6 608.5 L 1296 608.5" style="fill: none; stroke: #000000; stroke-width: 1.5; stroke-linejoin: miter; stroke-linecap: square"/>
</g>
<g id="line2d_398">
<path d="M 1242.4 732.2 L 1242.4 608.5" clip-path="url(#p4e7b67fd7a)" style="fill: none; stroke-dasharray: 1.5,2.475; stroke-dashoffset: 0; stroke: #1f77b4; stroke-width: 1.5"/>
</g>
</g>
<g id="text_82">
<text style="font-size: 17.36px; font-family: 'DejaVu Sans', sans-serif; text-anchor: middle" x="720" y="29.376" transform="rotate(-0 720 29.376)">BAS-RBM Relativistic Electron Forecast, issued at 23:10 UT, 02 September 2019</text>
</g>
</g>
<defs>
<clipPath id="pc901e4b956">
<rect x="143.964" y="79.2" width="514.188" height="248.112"/>
</clipPath>
<clipPath id="p597b528bda">
<rect x="690.552" y="79.2" width="12.168" height="248.112"/>
</clipPath>
<clipPath id="p349e566749">
<rect x="143.964" y="344.016" width="514.188" height="247.968"/>
</clipPath>
<clipPath id="p757b8b4cb4">
<rect x="143.964" y="608.472" width="514.188" height="123.732"/>
</clipPath>
<clipPath id="p132f94b788">
<rect x="867.564" y="79.2" width="428.436" height="248.112"/>
</clipPath>
<clipPath id="p221b9867fd">
<rect x="867.564" y="79.2" width="428.436" height="248.112"/>
</clipPath>
<clipPath id="p33e7455018">
<rect x="867.564" y="344.016" width="428.436" height="247.968"/>
</clipPath>
<clipPath id="p1a23510bdf">
<rect x="867.564" y="344.016" width="428.436" height="247.968"/>
</clipPath>
<clipPath id="p4e7b67fd7a">
<rect x="867.564" y="608.472" width="428.436" height="123.732"/>
</clipPath>
</defs>
</svg>
</body></html>
